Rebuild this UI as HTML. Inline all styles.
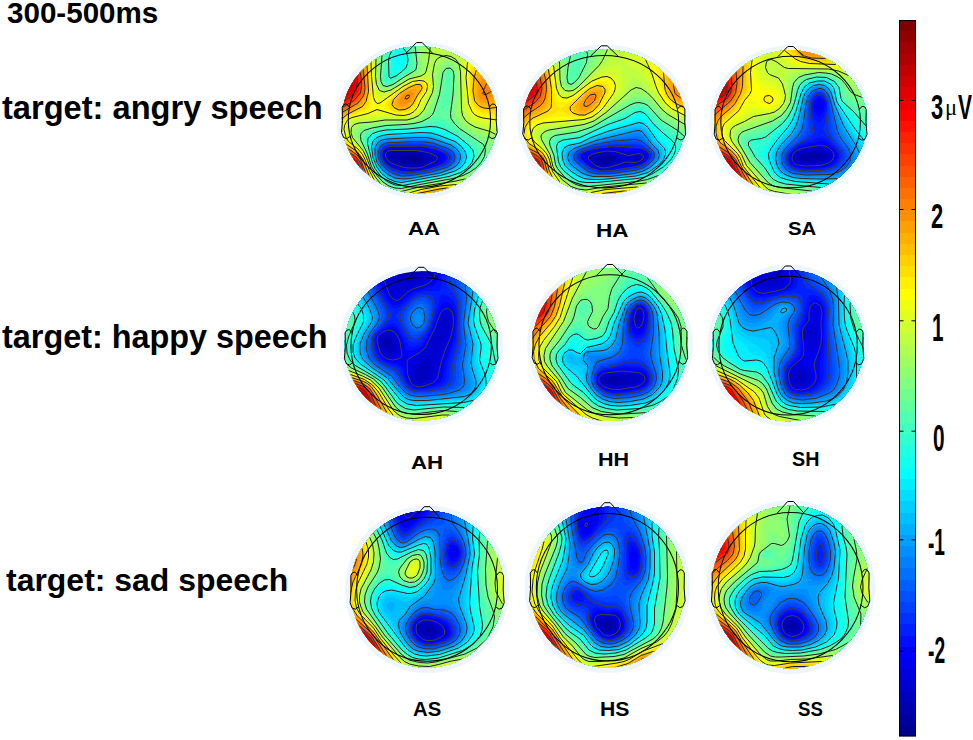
<!DOCTYPE html>
<html><head><meta charset="utf-8"><title>300-500ms topographies</title><style>
*{margin:0;padding:0}
html,body{width:973px;height:740px;background:#fff;overflow:hidden}
body{position:relative;font-family:"Liberation Sans",sans-serif;font-weight:bold;color:#000}
.t{position:absolute;white-space:nowrap;line-height:1;transform-origin:0 0}
#maps{position:absolute;left:0;top:0}
</style></head>
<body>
<svg id="maps" width="973" height="740" viewBox="0 0 973 740">
<clipPath id="cAA"><ellipse cx="419.4" cy="119.9" rx="77.55" ry="73.47"/></clipPath>
<ellipse cx="419.4" cy="119.9" rx="82.89" ry="78.52" fill="#edf5ff"/>
<g clip-path="url(#cAA)"><g transform="scale(.5)">
<rect x="671" y="80" width="334" height="317" fill="#00008f"/>
<path fill="#00009f" fill-rule="evenodd" d="M876 400l-74 0-2-2-6 0-2-2-12-2-6-4-4 0-24-12-4-4-8-4-8-8-2 0-21-21 0-2-6-6 0-2-8-10-12-24-2-10-4-8 0-78 2-2 4-16 12-24 8-10 0-2 6-6 0-2 23-23 2 0 6-6 8-4 4-4 28-14 4 0 8-4 6 0 2-2 6 0 2-2 74 0 2 2 8 0 2 2 10 2 2 2 4 0 10 6 4 0 8 6 12 6 4 4 2 0 6 6 2 0 24 25 0 2 6 6 6 12 4 4 4 8 0 4 4 6 0 4 4 6 2 14 2 2 0 62-2 2 0 6-4 8-2 10-4 6 0 4-6 8-4 10-6 6 0 2-6 6 0 2-22 23-2 0-6 6-8 4-4 4-28 14-4 0-8 4-6 0-2 2-6 0-2 2zM836 323l2-4-6-3-10 0-4 3 6 4 12 0z"/>
<path fill="#0000af" fill-rule="evenodd" d="M876 400l-74 0-2-2-6 0-2-2-12-3-6-4-4 0-24-11-4-4-8-4-8-8-2 0-21-21 0-2-6-6 0-2-8-10-12-24-2-10-4-8 0-78 2-2 4-16 12-24 8-10 0-2 6-6 0-2 23-23 2 0 6-6 8-4 4-4 28-14 4 0 8-4 6 0 2-2 6 0 2-2 74 0 2 2 8 0 2 2 10 2 2 2 4 0 10 6 4 0 8 6 12 6 4 4 2 0 6 6 2 0 24 25 0 2 6 6 6 12 4 4 4 8 0 4 4 6 0 4 4 6 2 14 2 2 0 62-2 2 0 6-4 8-2 10-4 6 0 4-6 8-4 10-6 6 0 2-6 6 0 2-22 23-2 0-6 6-8 4-4 4-28 14-4 0-8 4-6 0-2 2-6 0-2 2zM833 329l9-2 5-4 2-4-2-4-9-4-14-2-25 4-4 2 3 4 12 6 12 3 11 1z"/>
<path fill="#0000bf" fill-rule="evenodd" d="M876 400l-74 0-2-2-6-1-2-2-12-2-6-4-4 0-24-11-4-4-8-4-8-8-2 0-21-21 0-2-6-6 0-2-8-10-12-24-2-10-4-8 0-78 2-2 4-16 12-24 8-10 0-2 6-6 0-2 23-23 2 0 6-6 8-4 4-4 28-14 4 0 8-4 6 0 2-2 6 0 2-2 74 0 2 2 8 0 2 2 10 2 2 2 4 0 10 6 4 0 8 6 12 6 4 4 2 0 6 6 2 0 24 25 0 2 6 6 6 12 4 4 4 8 0 4 4 6 0 4 4 6 2 14 2 2 0 62-2 2 0 6-4 8-2 10-4 6 0 4-6 8-4 10-6 6 0 2-6 6 0 2-22 22-2 0-6 7-8 4-4 4-28 14-4 0-8 4-6 0-2 2-6 0-2 2zM841 331l8-4 8-6 1-4-3-4-9-4-16-3-46 1-5 2-1 4 6 6 18 8 20 4 19 0z"/>
<path fill="#0000cf" fill-rule="evenodd" d="M876 400l-74-1-2-2-6 0-2-2-12-2-6-4-4 0-24-11-4-4-8-4-8-8-2 0-21-21 0-2-6-6 0-2-8-10-12-24-2-10-4-8 0-78 2-2 4-16 12-24 8-10 0-2 6-6 0-2 23-23 2 0 6-6 8-4 4-4 28-14 4 0 8-4 6 0 2-2 6 0 2-2 74 0 2 2 8 0 2 2 10 2 2 2 4 0 10 6 4 0 8 6 12 6 4 4 2 0 6 6 2 0 24 25 0 2 6 6 6 12 4 4 4 8 0 4 4 6 0 4 4 6 2 14 2 2 0 62-2 2 0 6-4 8-2 10-4 6 0 4-6 8-4 10-6 6 0 2-6 6 0 2-22 22-2 0-6 6-8 5-4 4-28 14-4 0-8 4-6 0-2 2-6 0-2 2zM842 333l20-10 5-6-3-4-14-7-20-3-48 0-6 3-2 3 1 6 5 6 22 9 20 4 20-1z"/>
<path fill="#0000df" fill-rule="evenodd" d="M876 400l-74-1-2-2-6 0-2-2-12-2-6-4-4 0-24-12-4-3-8-4-8-8-2 0-21-21 0-2-6-6 0-2-8-10-12-24-2-10-4-8 0-78 2-2 4-16 12-24 8-10 0-2 6-6 0-2 23-23 2 0 6-6 8-4 4-4 28-14 4 0 8-4 6 0 2-2 6 0 2-2 74 0 2 2 8 0 2 2 10 2 2 2 4 0 10 6 4 0 8 6 12 6 4 4 2 0 6 6 2 0 24 25 0 2 6 6 6 12 4 4 4 8 0 4 4 6 0 4 4 6 2 14 2 2 0 62-2 2 0 6-4 8-2 10-4 6 0 4-6 8-4 10-6 6 0 2-6 6 0 2-22 22-2 0-6 6-8 4-4 4-28 15-4 0-8 4-6 0-2 2-6 0-2 2zM843 335l27-12 5-6-1-4-17-8-25-4-50 0-7 2-4 4 0 6 3 6 7 6 8 4 15 5 12 2 16 0 11-1z"/>
<path fill="#0000ef" fill-rule="evenodd" d="M876 400l-74-1-2-2-6 0-2-2-12-2-6-4-4 0-24-12-4-4-8-3-8-8-2 0-21-21 0-2-6-6 0-2-8-10-12-24-2-10-4-8 0-78 2-2 4-16 12-24 8-10 0-2 6-6 0-2 23-23 2 0 6-6 8-4 4-4 28-14 4 0 8-4 6 0 2-2 6 0 2-2 74 0 2 2 8 0 2 2 10 2 2 2 4 0 10 6 4 0 8 6 12 6 4 4 2 0 6 6 2 0 24 25 0 2 6 6 6 12 4 4 4 8 0 4 4 6 0 4 4 6 2 14 2 2 0 62-2 2 0 6-4 8-2 10-4 6 0 4-6 8-4 10-6 6 0 2-6 6 0 2-22 22-2 0-6 6-8 4-4 4-28 15-4 0-8 4-6 0-2 2-6 0-2 2zM843 337l31-12 7-6 0-6-4-4-13-5-28-6-54 0-8 3-4 4-1 6 3 8 6 6 9 6 25 7 16 1 15-2z"/>
<path fill="#0000ff" fill-rule="evenodd" d="M876 400l-74-1-2-2-6 0-2-2-12-2-6-4-4 0-24-12-4-4-8-3-8-8-2 0-21-21 0-2-6-6 0-2-8-10-12-24-2-10-4-8 0-78 2-2 4-16 12-24 8-10 0-2 6-6 0-2 23-23 2 0 6-6 8-4 4-4 28-14 4 0 8-4 6 0 2-2 6 0 2-2 74 0 2 2 8 0 2 2 10 2 2 2 4 0 10 6 4 0 8 6 12 6 4 4 2 0 6 6 2 0 24 25 0 2 6 6 6 12 4 4 4 8 0 4 4 6 0 4 4 6 2 14 2 2 0 62-2 2 0 6-4 8-2 10-4 6 0 4-6 8-4 10-6 6 0 2-6 6 0 2-22 22-2 0-6 6-8 4-4 4-28 15-4 0-8 4-6 0-2 2-6 0-2 2zM841 339l21-6 18-7 7-7 0-6-5-5-12-5-16-5-18-2-56 1-8 3-4 4-1 7 3 9 6 7 10 6 12 4 12 3 16 1 15-2z"/>
<path fill="#0010ff" fill-rule="evenodd" d="M876 400l-74-1-2-2-6 0-2-2-12-2-6-4-4 0-24-12-4-4-8-4-8-7-2 0-21-21 0-2-6-6 0-2-8-10-12-24-2-10-4-8 0-78 2-2 4-16 12-24 8-10 0-2 6-6 0-2 23-23 2 0 6-6 8-4 4-4 28-14 4 0 8-4 6 0 2-2 6 0 2-2 74 0 2 2 8 0 2 2 10 2 2 2 4 0 10 6 4 0 8 6 12 6 4 4 2 0 6 6 2 0 24 25 0 2 6 6 6 12 4 4 4 8 0 4 4 6 0 4 4 6 2 14 2 2 0 62-2 2 0 6-4 8-2 10-4 6 0 4-6 8-4 10-6 6 0 2-6 6 0 2-22 22-2 0-6 6-8 4-4 4-28 15-4 0-8 4-6 0-2 2-6 0-2 2zM839 341l23-6 21-8 8-8 1-4-2-4-6-6-12-4-18-5-18-2-56 1-8 2-6 6-1 8 3 9 6 7 10 7 12 5 12 3 31-1z"/>
<path fill="#0020ff" fill-rule="evenodd" d="M876 400l-74-1-2-2-6 0-2-2-12-2-6-4-4 0-24-12-4-4-8-4-8-7-2 0-21-21 0-2-6-6 0-2-8-10-12-24-2-10-4-8 0-78 2-2 4-16 12-24 8-10 0-2 6-6 0-2 23-23 2 0 6-6 8-4 4-4 28-14 4 0 8-3 6 0 2-3 6 0 2-2 74 0 2 2 8 0 2 2 10 2 2 2 4 0 10 6 4 0 8 6 12 6 4 4 2 0 6 6 2 0 24 25 0 2 6 6 6 12 4 4 4 8 0 4 4 6 0 4 4 6 2 14 2 2 0 62-2 2 0 6-4 8-2 10-4 6 0 4-6 8-4 10-6 6 0 2-6 6 0 2-22 22-2 0-6 6-8 4-4 4-28 15-4 0-8 4-6 0-2 2-6 0-2 2zM836 343l26-6 23-8 9-8 2-6-1-4-7-6-10-5-20-5-18-3-60 1-8 2-7 6-2 8 2 10 7 9 8 7 12 5 12 3 14 1 18-1z"/>
<path fill="#0030ff" fill-rule="evenodd" d="M876 400l-74-1-2-2-6 0-2-2-12-2-6-4-4 0-24-12-4-4-8-4-8-7-2 0-21-21 0-2-6-6 0-2-8-10-12-24-2-10-4-8 0-78 2-2 4-16 12-24 8-10 0-2 6-6 0-2 23-23 2 0 6-6 8-4 4-4 28-13 4 0 8-4 6 0 2-2 6 0 2-2 74-1 2 2 8 0 2 2 10 2 2 2 4 0 10 6 4 0 8 6 12 6 4 4 2 0 6 6 2 0 24 25 0 2 6 6 6 12 4 4 4 8 0 4 4 6 0 4 4 6 2 14 2 2 0 62-2 2 0 6-4 8-2 10-4 6 0 4-6 8-4 10-6 6 0 2-6 6 0 2-22 22-2 0-6 6-8 4-4 4-28 14-4 0-8 5-6 0-2 2-6 0-2 2zM832 345l21-4 33-10 7-4 5-6 2-6-1-4-6-6-11-6-20-6-18-3-20 0-46 1-8 3-6 5-3 10 2 10 7 10 8 6 12 7 12 3 30 0z"/>
<path fill="#0040ff" fill-rule="evenodd" d="M876 400l-74-1-2-2-6 0-2-2-12-2-6-4-4 0-24-12-4-4-8-4-8-8-2 0-21-20 0-2-6-6 0-2-8-10-12-24-2-10-4-8 0-78 2-2 4-16 12-24 8-10 0-2 6-6 0-2 23-23 2 0 6-6 8-4 4-4 28-13 4 0 8-4 6 0 2-2 6 0 2-2 74-1 2 2 8 0 2 2 10 2 2 2 4 0 10 6 4 0 8 6 12 6 4 4 2 0 6 6 2 0 24 25 0 2 6 6 6 12 4 4 4 8 0 4 4 6 0 4 4 6 2 14 2 2 0 62-2 2 0 6-4 8-2 10-4 6 0 4-6 8-4 10-6 6 0 2-6 6 0 2-22 22-2 0-6 6-8 4-4 4-28 14-4 0-8 4-6 0-2 3-6 0-2 2zM827 347l25-4 36-11 12-9 3-6-1-6-5-6-11-6-20-7-18-3-22-1-48 1-8 3-6 4-4 9 0 10 6 11 8 9 12 7 12 4 12 2 17-1z"/>
<path fill="#0050ff" fill-rule="evenodd" d="M876 399l-74 0-2-2-6 0-2-2-12-2-6-4-4 0-24-12-4-4-8-4-8-8-2 0-21-20 0-2-6-6 0-2-8-10-12-24-2-10-4-8 0-78 2-2 4-16 12-24 8-10 0-2 6-6 0-2 23-23 2 0 6-6 8-4 4-4 28-13 4 0 8-4 6 0 2-2 6 0 2-2 74-1 2 2 8 0 2 2 10 2 2 2 4 0 10 6 4 0 8 6 12 6 4 4 2 0 6 6 2 0 24 25 0 2 6 6 6 12 4 4 4 8 0 4 4 6 0 4 4 6 2 14 2 2 0 62-2 2 0 6-4 8-2 10-4 6 0 4-6 8-4 10-6 6 0 2-6 6 0 2-22 22-2 0-6 6-8 4-4 4-28 14-4 0-8 4-6 0-2 2-6 0-2 2zM821 349l31-5 38-11 7-4 6-6 3-6 0-6-5-6-9-6-24-9-18-3-24-1-48 2-8 2-6 3-5 8 0 12 3 10 8 10 10 8 12 6 14 2 15 0z"/>
<path fill="#0060ff" fill-rule="evenodd" d="M876 399l-74 0-2-2-6 0-2-2-12-2-6-4-4 0-24-12-4-4-8-4-8-8-2 0-21-20 0-2-6-6 0-2-8-10-12-24-2-10-4-8 0-78 2-2 4-16 12-24 8-10 0-2 6-6 0-2 23-23 2 0 6-6 8-4 4-4 28-13 4 0 8-4 6 0 2-2 6 0 2-2 74-1 2 2 8 0 2 2 10 2 2 2 4 0 10 6 4 0 8 6 12 6 4 4 2 0 6 6 2 0 24 25 0 2 6 6 6 12 4 4 4 8 0 4 4 6 0 4 4 6 2 14 2 2 0 62-2 2 0 6-4 8-2 10-4 6 0 4-6 8-4 10-6 6 0 2-6 6 0 2-22 22-2 0-6 6-8 4-4 4-28 14-4 0-8 4-6 0-2 2-6 0-2 2zM814 351l36-5 41-11 10-6 5-6 3-8-1-6-6-7-10-5-24-9-16-3-26-1-48 2-8 1-7 4-5 8-1 10 2 12 7 10 10 9 12 7 12 3 14 1z"/>
<path fill="#0070ff" fill-rule="evenodd" d="M876 399l-74 0-2-2-6 0-2-2-12-2-6-4-4 0-24-12-4-4-8-4-8-8-2 0-21-20 0-2-6-6 0-2-8-10-12-24-2-10-4-8 0-78 2-2 4-16 12-24 8-10 0-2 6-6 0-2 23-23 2 0 6-6 8-4 4-4 28-13 4 0 8-4 6 0 2-2 6 0 2-2 74-1 2 2 8 0 2 2 10 2 2 2 4 0 10 6 4 0 8 6 12 6 4 4 2 0 6 6 2 0 24 25 0 2 6 6 6 12 4 4 4 8 0 4 4 6 0 4 4 6 2 14 2 2 0 62-2 2 0 6-4 8-2 10-4 6 0 4-6 8-4 10-6 6 0 2-6 6 0 2-22 22-2 0-6 6-8 4-4 4-28 14-4 0-8 4-6 0-2 2-6 0-2 2zM829 351l41-8 26-8 8-6 6-8 1-8-2-6-5-6-10-6-28-9-16-3-24-1-32 2-18 0-10 3-6 5-5 11 2 14 5 12 10 10 12 8 12 4 14 2 19-2z"/>
<path fill="#0080ff" fill-rule="evenodd" d="M876 399l-74 0-2-2-6 0-2-2-12-2-6-4-4 0-24-12-4-4-8-4-8-8-2 0-21-20 0-2-6-6 0-2-8-10-12-24-2-10-4-8 0-78 2-2 4-16 12-24 8-10 0-2 6-6 0-2 23-23 2 0 6-6 8-4 4-4 28-13 4 0 8-4 6 0 2-2 6 0 2-2 74-1 2 2 8 0 2 2 10 2 2 2 4 0 10 6 4 0 8 6 12 6 4 4 2 0 6 6 2 0 24 25 0 2 6 6 6 12 4 4 4 8 0 4 4 6 0 4 4 6 2 14 2 2 0 62-2 2 0 6-4 8-2 10-4 6 0 4-6 8-4 10-6 6 0 2-6 6 0 2-22 22-2 0-6 6-8 4-4 4-28 14-4 0-8 4-6 0-2 2-6 0-2 2zM824 353l52-10 23-8 8-6 5-6 2-8-2-8-5-6-9-6-30-11-16-3-24-1-34 3-18-1-10 3-6 4-6 10 0 14 5 14 9 11 12 9 14 6 12 1 18-1z"/>
<path fill="#008fff" fill-rule="evenodd" d="M876 399l-74 0-2-2-6 0-2-2-12-2-6-4-4 0-24-12-4-4-8-4-8-8-2 0-21-20 0-2-6-6 0-2-8-10-12-24-2-10-4-8 0-78 2-2 4-16 12-24 8-10 0-2 6-6 0-2 23-23 2 0 6-6 8-4 4-3 28-14 4 0 8-4 6 0 2-2 6 0 2-2 74-1 2 2 8 0 2 2 10 2 2 2 4 0 10 6 4 0 8 6 12 6 4 4 2 0 6 6 2 0 24 25 0 2 6 6 6 12 4 4 4 8 0 4 4 6 0 4 4 6 2 14 2 2 0 62-2 2 0 6-4 8-2 10-4 6 0 4-6 8-4 10-6 6 0 2-6 6 0 2-22 22-2 0-6 6-8 4-4 4-28 14-4 0-8 4-6 0-2 2-6 0-2 2zM819 355l54-10 26-8 9-6 7-8 2-8-2-8-6-8-9-6-32-11-14-3-26-1-34 3-18-1-10 3-7 4-6 10-1 12 5 16 8 12 11 10 14 6 12 3 17-1z"/>
<path fill="#009fff" fill-rule="evenodd" d="M876 399l-74 0-2-2-6 0-2-2-12-2-6-4-4 0-24-12-4-4-8-4-8-8-2 0-21-20 0-2-6-6 0-2-8-10-12-24-2-10-4-8 0-78 2-2 4-16 12-24 8-10 0-2 6-6 0-2 23-23 2 0 6-6 8-3 4-4 28-14 4 0 8-4 6 0 2-2 6 0 2-2 74 0 2 1 8 0 2 2 10 2 2 2 4 0 10 6 4 0 8 6 12 6 4 4 2 0 6 6 2 0 24 25 0 2 6 6 6 12 4 4 4 8 0 4 4 6 0 4 4 6 2 14 2 2 0 62-2 2 0 6-4 8-2 10-4 6 0 4-6 8-4 10-6 6 0 2-6 6 0 2-22 22-2 0-6 6-8 4-4 4-28 14-4 0-8 4-6 0-2 2-6 0-2 2zM814 357l57-10 29-9 10-6 6-7 3-8-1-10-6-9-10-6-32-12-14-3-26-1-54 3-10 2-8 4-6 10-1 12 3 16 8 12 12 12 12 7 12 3 16 0z"/>
<path fill="#00afff" fill-rule="evenodd" d="M876 399l-74 0-2-2-6 0-2-2-12-2-6-4-4 0-24-12-4-4-8-4-8-8-2 0-21-20 0-2-6-6 0-2-8-10-12-24-2-10-4-8 0-78 2-2 4-16 12-24 8-10 0-2 6-6 0-2 23-23 2 0 6-6 8-3 4-4 28-14 4 0 8-4 6 0 2-2 6 0 2-2 74 0 2 2 8 0 2 2 10 2 2 2 4 0 10 6 4 0 8 6 12 5 4 4 2 0 6 6 2 0 24 25 0 2 6 6 6 12 4 4 4 8 0 4 4 6 0 4 4 6 2 14 2 2 0 62-2 2 0 6-4 8-2 10-4 6 0 4-6 8-4 10-6 6 0 2-6 6 0 2-22 22-2 0-6 6-8 4-4 4-28 14-4 0-8 4-6 0-2 2-6 0-2 2zM808 359l59-10 23-5 12-5 12-8 6-8 2-10-2-8-7-8-9-7-34-12-12-3-26-1-56 3-16 4-8 8-3 12 3 17 6 14 10 12 14 10 12 4 14 1z"/>
<path fill="#00bfff" fill-rule="evenodd" d="M876 399l-74 0-2-2-6 0-2-2-12-2-6-4-4 0-24-12-4-4-8-4-8-8-2 0-21-20 0-2-6-6 0-2-8-10-12-24-2-10-4-8 0-78 2-2 4-16 12-24 8-10 0-2 6-6 0-2 23-23 2 0 6-6 8-3 4-4 28-14 4 0 8-4 6 0 2-2 6 0 2-2 74 0 2 2 8 0 2 2 10 2 2 2 4 0 10 6 4 0 8 6 12 6 4 3 2 0 6 6 2 0 24 25 0 2 6 6 6 12 4 4 4 8 0 4 4 6 0 4 4 6 2 14 2 2 0 62-2 2 0 6-4 8-2 10-4 6 0 4-6 8-4 10-6 6 0 2-6 6 0 2-22 22-2 0-6 6-8 4-4 4-28 14-4 0-8 4-6 0-2 2-6 0-2 2zM820 359l62-12 24-8 11-8 6-8 2-10-3-8-6-9-10-7-34-13-14-3-24-1-58 3-12 2-8 4-7 10-1 14 5 20 9 14 12 12 14 7 14 3 18-2z"/>
<path fill="#00cfff" fill-rule="evenodd" d="M876 399l-74 0-2-2-6 0-2-2-12-2-6-4-4 0-24-12-4-4-8-4-8-8-2 0-21-20 0-2-6-6 0-2-8-10-12-24-2-10-4-8 0-78 2-2 4-16 12-24 8-10 0-2 6-6 0-2 23-23 2 0 6-5 8-4 4-4 28-14 4 0 8-4 6 0 2-2 6 0 2-2 74 0 2 2 8 0 2 2 10 2 2 2 4 0 10 6 4 0 8 6 12 6 4 4 2 0 6 5 2 0 24 25 0 2 6 6 6 12 4 4 4 8 0 4 4 6 0 4 4 6 2 14 2 2 0 62-2 2 0 6-4 8-2 10-4 6 0 4-6 8-4 10-6 6 0 2-6 6 0 2-22 22-2 0-6 6-8 4-4 4-28 14-4 0-8 4-6 0-2 2-6 0-2 2zM816 361l68-13 25-9 11-8 5-8 2-10-3-10-8-10-10-7-34-12-14-4-24 0-60 3-12 3-8 4-7 9-1 14 5 22 9 14 12 12 14 8 14 3 16-1z"/>
<path fill="#00dfff" fill-rule="evenodd" d="M876 399l-74 0-2-2-6 0-2-2-12-2-6-4-4 0-24-12-4-4-8-4-8-8-2 0-21-20 0-2-6-6 0-2-8-10-12-24-2-10-4-8 0-78 2-2 4-16 12-24 8-10 0-2 6-6 0-2 23-23 2 0 6-5 8-4 4-4 28-14 4 0 8-4 6 0 2-2 6 0 2-2 74 0 2 2 8 0 2 2 10 2 2 2 4 0 10 6 4 0 8 6 12 6 4 4 2 0 6 6 2 0 24 24 0 2 6 6 6 12 4 4 4 8 0 4 4 6 0 4 4 6 2 14 2 2 0 62-2 2 0 6-4 8-2 10-4 6 0 4-6 8-4 10-6 6 0 2-6 6 0 2-22 22-2 0-6 6-8 4-4 4-28 14-4 0-8 4-6 0-2 2-6 0-2 2zM812 363l72-14 26-8 11-8 7-10 2-10-2-10-9-10-11-8-34-13-14-4-22-1-64 4-12 2-8 4-7 8-3 12 4 22 8 16 12 14 14 10 14 4 16 0z"/>
<path fill="#00efff" fill-rule="evenodd" d="M876 399l-74 0-2-2-6 0-2-2-12-2-6-4-4 0-24-12-4-4-8-4-8-8-2 0-21-20 0-2-6-6 0-2-8-10-12-24-2-10-4-8 0-78 2-2 4-16 12-24 8-10 0-2 6-6 0-2 23-23 2 1 6-6 8-4 4-4 28-14 4 0 8-4 6 0 2-2 6 0 2-2 74 0 2 2 8 0 2 2 10 2 2 2 4 0 10 6 4 0 8 6 12 6 4 4 2 0 6 6 2 0 24 24 0 2 6 6 6 12 4 4 4 8 0 4 4 6 0 4 4 6 2 14 2 2 0 62-2 2 0 6-4 8-2 10-4 6 0 4-6 8-4 10-6 6 0 2-6 6 0 2-22 22-2 0-6 6-8 4-4 4-28 14-4 0-8 4-6 0-2 2-6 0-2 2zM806 365l78-14 28-9 12-9 7-10 2-10-2-10-9-12-12-8-32-13-14-4-22-1-66 4-12 1-10 4-8 8-3 11 3 22 7 18 11 14 14 11 14 6 14 1z"/>
<path fill="#00ffff" fill-rule="evenodd" d="M876 399l-74 0-2-2-6 0-2-2-12-2-6-4-4 0-24-12-4-4-8-4-8-8-2 0-21-20 0-2-6-6 0-2-8-10-12-24-2-10-4-8 0-78 2-2 4-16 12-24 8-10 0-2 6-6 0-2 23-22 2 0 6-6 8-4 4-4 28-14 4 0 8-4 6 0 2-2 6 0 2-2 74 0 2 2 8 0 2 2 10 2 2 2 4 0 10 6 4 0 8 6 12 6 4 4 2 0 6 6 2 0 24 24 0 2 6 6 6 12 4 4 4 8 0 4 4 6 0 4 4 6 2 14 2 2 0 62-2 2 0 6-4 8-2 10-4 6 0 4-6 8-4 10-6 6 0 2-6 6 0 2-22 22-2 0-6 6-8 4-4 4-28 14-4 0-8 4-6 0-2 2-6 0-2 2zM816 365l76-15 24-9 11-8 7-10 3-10-3-10-9-12-15-11-30-12-16-5-18 0-72 4-14 2-12 6-6 8-1 14 7 28 9 16 13 14 16 9 14 3 16-2z"/>
<path fill="#10ffef" fill-rule="evenodd" d="M876 399l-74 0-2-2-6 0-2-2-12-2-6-4-4 0-24-12-4-4-8-4-8-8-2 0-21-20 0-2-6-6 0-2-8-10-12-24-2-10-4-8 0-78 2-2 4-16 12-24 8-10 0-2 6-6 0-2 23-22 2 0 6-6 8-4 4-4 28-14 4 0 8-4 6 0 2-2 6 0 2-2 74 0 2 2 8 0 2 2 10 2 2 2 4 0 10 6 4 0 8 6 12 6 4 4 2 0 6 6 2 0 24 24 0 2 6 6 6 12 4 4 4 8 0 4 4 6 0 4 4 6 2 14 2 2 0 62-2 2 0 6-4 8-2 10-4 6 0 4-6 8-4 10-6 6 0 2-6 6 0 2-22 22-2 0-6 6-8 4-4 4-28 14-4 0-8 4-6 0-2 2-6 0-2 2zM798 131l4-4 2-8-1-6-5-4-6 4-3 8 3 9 2 2 4-1zM813 367l81-16 23-8 11-8 10-12 2-12-3-10-11-12-14-11-28-12-18-5-16-1-76 5-14 2-12 5-8 9-1 12 7 30 8 16 12 14 16 11 14 4 17-1z"/>
<path fill="#20ffdf" fill-rule="evenodd" d="M876 399l-74 0-2-2-6 0-2-2-12-2-6-4-4 0-24-12-4-4-8-4-8-8-2 0-21-20 0-2-6-6 0-2-8-10-12-24-2-10-4-8 0-78 2-2 4-16 12-24 8-10 0-2 6-6 0-2 23-22 2 0 6-6 8-4 4-4 28-14 4 0 8-4 6 0 2-2 6 0 2-2 74 0 2 2 8 0 2 2 10 2 2 2 4 0 10 6 4 0 8 6 12 6 4 4 2 0 6 6 2 0 24 24 0 2 6 6 6 12 4 4 4 8 0 4 4 6 0 4 4 6 2 14 2 2 0 62-2 2 0 6-4 8-2 10-4 6 0 4-6 8-4 10-6 6 0 2-6 6 0 2-22 22-2 0-6 6-8 4-4 4-28 14-4 0-8 4-6 0-2 2-6 0-2 2zM792 145l14-11 5-11-1-8-2-6-4-6-4-1-6 0-4 2-4 5-3 8 0 10 2 14 3 4 4 0zM809 369l87-17 24-9 12-8 9-12 3-12-3-10-10-12-17-13-26-13-18-5-16-1-82 6-14 2-12 6-8 8-1 10 8 34 7 15 12 15 14 10 14 6 17 0z"/>
<path fill="#30ffcf" fill-rule="evenodd" d="M876 399l-74 0-2-2-6 0-2-2-12-2-6-4-4 0-24-12-4-4-8-4-8-8-2 0-21-20 0-2-6-6 0-2-8-10-12-24-2-10-4-8 0-78 2-2 4-16 12-24 8-10 0-2 6-6 0-2 23-22 2 0 6-6 8-4 4-4 28-14 5 0 5 14-4 8-2 10 1 32 5 2 10-5 16-13 4-6 1-6-1-16-3-6-7-8-2-14 74 0 2 2 8 0 2 2 10 2 2 2 4 0 28 14 4 4 8 4 6 6 2 0 24 24 0 2 6 6 0 2 4 4 2 6 4 4 4 8 0 4 4 6 0 4 4 6 2 14 2 2 0 62-2 2 0 6-4 8-2 10-4 6 0 4-6 8-4 10-6 6 0 2-6 6 0 2-22 22-2 0-6 6-8 4-4 4-28 14-4 0-8 4-6 0-2 2-6 0-2 2zM803 371l93-18 25-8 12-8 11-12 4-12-3-12-8-10-21-17-26-14-18-6-14 0-42 4-44 3-16 3-12 5-8 8-1 10 9 36 6 13 10 15 14 12 16 7 13 1z"/>
<path fill="#40ffbf" fill-rule="evenodd" d="M876 399l-74 0-2-2-6 0-2-2-12-2-6-4-4 0-24-12-4-4-8-4-8-8-2 0-21-20 0-2-6-6 0-2-8-10-12-24-2-10-4-8 0-78 2-2 4-16 12-24 8-10 0-2 6-6 1-3 22-21 2 0 6-6 8-4 4-4 24-12 1 0 6 14-3 14 0 24-2 12 1 6 2 2 7-2 14-8 17-14 6-8 1-8-1-10-3-10-4-8-3-14 67 0 2 2 8 0 2 2 10 2 2 2 4 0 10 6 4 0 8 6 12 6 4 4 2 0 6 6 2 0 24 24 0 2 6 6 0 2 4 4 2 6 6 8 2 8 4 6 0 4 4 6 2 14 2 2 0 62-2 2 0 6-4 8-2 10-4 6 0 4-6 8-4 10-6 6 0 2-6 6 0 2-22 22-2 0-6 6-8 4-4 4-28 14-4 0-8 4-6 0-2 2-6 0-2 2zM813 371l89-18 23-8 14-10 10-12 3-12-3-12-9-10-22-18-26-15-16-6-14 0-46 6-46 3-18 3-12 6-7 7 0 12 12 42 9 16 13 14 15 10 14 3 17-1z"/>
<path fill="#50ffaf" fill-rule="evenodd" d="M876 399l-74 0-2-2-6 0-2-2-12-2-6-4-4 0-24-12-4-4-8-4-8-8-2 0-21-20 0-2-6-6 0-2-8-10-12-24-2-10-4-8 0-78 2-2 4-16 12-24 8-10 0-2 6-6 0-2 23-22 2 0 6-6 8-4 4-4 20-10 6 14-5 50 2 6 4 4 5 0 8-4 28-20 8-8 2-8 0-10-8-36 60 0 2 2 8 0 2 2 10 2 2 2 4 0 10 6 4 0 8 6 12 6 4 4 2 0 6 6 2 0 24 24 0 2 6 6 0 2 4 4 2 6 6 8 2 8 4 6 0 4 4 6 2 14 2 2 0 62-2 2 0 6-4 8-2 10-4 6 0 4-6 8-4 10-6 6 0 2-6 6 0 2-22 22-2 0-6 6-8 4-4 4-28 14-4 0-8 4-6 0-2 2-6 0-2 2zM810 373l94-19 24-8 15-11 10-12 4-12-2-12-8-10-25-19-30-20-14-5-12 0-44 9-56 3-18 4-12 5-6 9 0 10 14 44 8 16 14 15 14 9 14 5 16-1z"/>
<path fill="#60ff9f" fill-rule="evenodd" d="M876 399l-74 0-2-2-6 0-2-2-12-2-6-4-4 0-24-12-4-4-8-4-8-8-2 0-21-20 0-2-6-6 0-2-8-10-12-24-2-10-4-8 0-78 2-2 4-16 12-24 8-10 0-2 6-6 0-2 23-22 2 0 6-6 8-4 4-4 12-6 4-1 6 13-4 48 2 8 6 5 6 0 6-3 35-24 7-6 2-6 0-8-6-42 54 0 2 2 8 0 2 2 10 2 2 2 4 0 10 6 4 0 8 6 12 6 4 4 2 0 6 6 2 0 24 24 0 2 6 6 0 2 4 4 2 6 6 8 2 8 4 6 0 4 4 6 2 14 2 2 0 62-2 2 0 6-4 8-2 10-4 6 0 4-6 8-4 10-6 6 0 2-6 6 0 2-22 22-2 0-6 6-8 4-4 4-28 14-4 0-8 4-6 0-2 2-6 0-2 2zM890 215l4-8 5-26-1-14 4-18-2-4-2-1-4 1-2 4 0 18-3 20-7 20 2 9 2 1 4-2zM805 375l35-8 66-12 23-8 16-10 12-14 5-14-1-12-9-10-70-52-6 1-25 9-15 4-22 3-48 2-22 5-12 6-6 8 1 10 16 48 9 15 12 14 14 10 14 5 13 0z"/>
<path fill="#70ff8f" fill-rule="evenodd" d="M876 399l-74 0-2-2-6 0-2-2-12-2-6-4-4 0-24-12-4-4-8-4-8-8-2 0-21-20 0-2-6-6 0-2-8-10-12-24-2-10-4-8 0-78 2-2 4-16 12-24 8-10 0-2 6-6 0-2 23-22 2 0 6-6 2 0 4-4 14-8 4-2 7 14-3 48 2 8 6 5 6 0 8-3 46-30 2-4 0-8-4-46 48 0 2 2 8 0 2 2 10 2 2 2 4 0 10 6 4 0 8 6 12 6 4 4 2 0 6 6 2 0 24 24 0 2 10 12 2 6 4 4 4 8 0 4 4 6 0 4 4 6 2 14 2 2 0 62-2 2 0 6-2 2 0 4-2 2 0 4-6 12-2 8-4 4-4 10-6 6 0 2-6 6 0 2-22 22-2 0-6 6-8 4-4 4-28 14-4 0-8 4-6 0-2 2-6 0-2 2zM813 375l27-7 66-11 19-6 15-7 11-9 9-10 7-12 2-14-5-10-49-34-10-10-6-10-1-8 6-36 3-38-2-10-5-5-8 1-6 8-5 40-6 18-5 20-8 10-15 8-17 5-18 2-40 1-26 5-16 6-7 7-1 6 1 6 11 26 8 24 8 13 8 11 12 11 14 8 12 3 17-2z"/>
<path fill="#80ff80" fill-rule="evenodd" d="M876 399l-74 0-2-2-6 0-2-2-12-2-6-4-4 0-24-12-4-4-8-4-8-8-2 0-21-20 0-2-6-6 0-2-8-10-12-24-2-10-4-8 0-78 2-2 4-16 12-24 8-10 0-2 6-6 0-2 23-22 2 0 6-6 2 0 4-4 14-8 8 14-3 40 1 10 3 8 7 4 6 0 8-3 26-18 24-13 3-10-4-50 43 0 2 2 8 0 2 2 10 2 2 2 4 0 10 6 8 2 4 4 6 2 4 4 8 4 6 6 2 0 24 24 0 2 10 12 2 6 4 4 4 8 0 4 4 6 0 4 4 6 2 14 2 2 0 62-2 2 0 6-4 8-2 10-4 6 0 4-6 8-4 10-14-7 4-19-1-6-3-6-7-6-23-12-16-10-11-10-7-10-3-14 5-37 0-39-3-10-7-6-6 0-4 2-7 8-2 8-2 24-3 12-12 36-10 12-12 7-16 4-56 3-31 6-13 4-7 6-1 6 1 6 13 28 10 26 6 12 8 12 10 10 10 7 12 5 10 1 12-1 30-8 78-14 24-10 22-17 12 8-2 5-22 22-2 0-6 6-8 4-4 4-28 14-4 0-8 4-6 0-2 2-6 0-2 2z"/>
<path fill="#8fff70" fill-rule="evenodd" d="M876 399l-74 0-2-2-6 0-2-2-12-2-6-4-4 0-24-12-4-4-8-4-8-8-2 0-21-20 0-2-6-6 0-2-8-10-12-24-2-10-4-8 0-78 2-2 4-16 12-24 8-10 0-2 6-6 0-2 23-22 2 0 6-6 2 0 14-10 9 14-2 36 1 13 4 9 6 4 6 0 8-2 30-20 24-9 3-3 2-10-2-22 1-30 36 0 2 2 8 0 2 2 10 2 2 2 4 0 10 6 8 2 4 4 6 2 4 4 8 4 6 6 2 0 24 24 0 2 10 12 2 6 4 4 4 8 0 4 4 6 0 4 4 6 2 14 2 2 0 62-2 2 0 6-4 8-2 10-14-5-6-9-6-5-28-12-12-7-10-8-8-10-4-8-1-8 3-40-1-40-5-13-4-3-6-2-10 3-8 9-3 12-2 24-3 12-14 36-11 12-11 6-16 4-50 2-40 6-11 4-5 6-1 6 1 6 17 30 10 28 7 12 16 20 20 13 10 1 14 0 32-8 70-12 20-6 18-8 11 10-7 8-2 0-6 6-8 4-4 4-28 14-4 0-8 4-6 0-2 2-6 0-2 2z"/>
<path fill="#9fff60" fill-rule="evenodd" d="M762 385l-28-16-31-28 0-2-6-6 0-2-8-10-12-24-2-10-4-8 0-78 2-2 4-16 12-24 8-10 0-2 6-6 0-2 23-22 2 0 6-6 14-8 8 14-2 36 3 16 3 6 4 3 6 2 6-1 10-4 30-20 22-6 5-4 3-12-2-22 3-30 29 0 2 2 8 0 2 2 16 4 10 6 8 2 4 4 6 2 4 4 8 4 6 6 2 0 24 24 0 2 10 12 2 6 4 4 4 8 0 4 4 6 0 4 4 6 2 14 2 2 0 62-2 2-2 12-16-5-12-8-32-13-12-7-9-9-5-10-2-10 1-46-2-38-5-10-6-5-8-2-8 1-8 7-5 11-2 12-1 22-4 14-14 32-10 12-11 6-15 4-48 1-46 7-8 2-6 6-2 6 1 8 21 31 14 37 12 17 13 13 0 4-6 10-1 0zM876 399l-74 0-2-2-6 0-4-2 5-14 15-1 32-9 70-11 28-9 12 12-2 0-6 6-8 4-4 4-28 14-4 0-8 4-6 0-2 2-6 0-2 2z"/>
<path fill="#afff50" fill-rule="evenodd" d="M756 381l-10-4-4-4-8-4-31-28 0-2-6-6 0-2-8-10-12-24-2-10-4-8 0-78 2-2 4-16 12-24 8-10 0-2 6-6 0-2 23-22 2 0 6-6 11-6 8 12-1 36 3 18 3 6 4 4 10 1 12-4 32-20 10-4 14-3 6-4 3-4 2-10 1-24 4-28 20 0 2 2 8 0 2 2 10 2 2 2 4 0 10 6 8 2 4 4 6 2 4 4 8 4 22 20 16 18 0 2 4 4 2 6 6 8 2 8 4 6 0 4 4 6 2 14 2 2 0 62-2 2 0 3-16-4-12-6-30-10-12-7-8-8-5-8-2-12-2-74-2-14-5-9-8-7-8-2-10 2-9 6-5 10-4 18 1 24-3 12-17 34-9 11-10 5-16 4-44 0-50 6-10 4-5 6-1 8 3 10 21 28 13 34 6 12 17 20-7 12-1 0zM876 399l-74 0-2-2-4 0 4-14 40-10 72-12 22-5 2 1 8 10 0 2-8 4-4 4-28 14-4 0-8 4-6 0-2 2-6 0-2 2z"/>
<path fill="#bfff40" fill-rule="evenodd" d="M1008 268l-16-3-12-5-28-8-12-6-8-7-5-10-2-12-3-76-3-14-7-11-10-7-8-2-20 1-4-1-2-3-1-7 3-16 16 2 2 2 10 2 2 2 4 0 28 14 4 4 8 4 6 6 2 0 24 24 0 2 6 6 0 2 4 4 2 6 4 4 4 8 0 4 4 6 0 4 4 6 2 14 2 2 0 59zM752 379l-6-2-4-4-8-4-31-28 0-2-6-6 0-2-8-10-12-24-2-10-4-8 0-78 2-2 4-16 12-24 8-10 0-2 6-6 0-2 23-22 2 0 12-10 2 0 9 12-1 32 1 14 5 14 6 6 6 1 8-2 42-25 29-8 8-6 3-9 4-3 2 4-2 12 4 20-3 16-17 34-6 8-8 6-20 6-44 0-24 4-26 1-10 3-6 6-2 10 3 12 23 27 6 12 12 30 15 23-7 12zM876 399l-74 0-1-2 3-12 2-2 36-9 88-15 9 12-7 6-28 14-4 0-8 4-6 0-2 2-6 0-2 2z"/>
<path fill="#cfff30" fill-rule="evenodd" d="M1008 260l-14-2-42-12-12-7-7-8-4-10-1-12-4-76-2-10-5-10 7-12 8 2 4 4 8 4 6 6 2 0 24 24 0 2 6 6 6 12 4 4 4 8 0 4 4 6 0 4 4 6 2 14 2 2 0 51zM746 377l-4-4-8-4-8-8-2 0-21-20 0-2-6-6 0-2-8-10-12-24-2-10-3-8-1-78 2-2 4-16 12-24 8-10 0-2 6-6 0-2 23-22 2 0 6-6 6-2 8 12 0 30 2 16 4 14 6 7 6 1 10-3 38-24 18-6 18-2 6 0 5 7 2 10-3 14-18 34-6 8-8 5-20 5-42-2-22 4-26 1-12 3-7 6-3 12 4 14 26 30 6 11 10 27 13 20 0 2-8 12-1 0zM876 399l-71 0 3-14 34-10 82-13 2 1 8 11-2 3-28 14-4 0-8 4-6 0-2 2-6 0-2 2z"/>
<path fill="#dfff20" fill-rule="evenodd" d="M1008 252l-14-1-38-9-12-6-8-9-3-10-2-12-4-50 1-22-2-14 8-13 4 1 12 10 2 0 24 24 0 2 6 6 6 12 4 4 4 8 0 4 4 6 0 4 4 6 2 14 2 2 0 43zM744 375l-8-6-2 0-8-8-2 0-21-20 0-2-6-6 0-2-8-10-12-24-1-10-4-8-1-78 2-2 4-16 12-24 8-10 0-2 6-6 0-2 23-22 2 0 6-6 3 0 9 12 0 28 2 18 4 16 6 8 6 0 10-3 38-24 18-8 16-1 8 2 5 6 1 8-3 12-10 16-8 18-7 7-8 5-18 4-44-3-20 3-22 1-16 4-8 7-2 6-1 8 4 14 4 6 17 15 8 11 5 10 10 26 11 18 0 2-8 12zM876 399l-66 0 2-14 32-9 40-7 36-4 9 12-1 2-24 12-4 0-8 4-6 0-2 2-6 0-2 2z"/>
<path fill="#efff10" fill-rule="evenodd" d="M740 373l-14-12-2 0-21-20 0-2-6-6 0-2-8-10-12-24-1-10-4-8-1-78 2-2 4-16 12-24 8-10 0-2 6-6 0-2 23-22 2 0 6-6 10 12 0 30 4 26 2 14 6 6 6 0 6-2 42-28 18-8 12-2 10 1 5 5 3 8-3 12-11 14-8 18-6 7-8 5-10 3-12 0-36-5-10 0-46 9-8 3-6 6-4 14 4 16 6 8 16 13 10 13 14 34 9 16 0 2-9 12zM1008 245l-14 0-36-7-10-5-9-10-5-20-4-50 1-30 9-12 4 0 6 6 2 0 24 24 0 2 6 6 6 12 4 4 4 8 0 4 4 6 0 4 4 6 2 14 2 2 0 36zM876 399l-62 0 3-14 29-8 38-7 32-3 8 12 0 2-20 10-4 0-8 4-6 0-2 2-6 0-2 2z"/>
<path fill="#ffff00" fill-rule="evenodd" d="M738 371l-4-2-8-8-2 0-21-20 0-2-6-6 0-2-8-10-12-24-1-10-4-8-1-78 2-2 4-16 12-24 8-10 0-2 6-6 0-2 23-22 2 0 4-4 10 12 4 70 6 18-4 6-8 5-32 9-10 4-8 10-3 12 3 12 5 10 23 19 12 18 8 23 9 18-9 12zM996 239l-28-4-12-3-10-7-6-10-5-24-2-38 3-28 10-11 6 3 24 24 0 2 10 12 2 6 4 4 4 8 0 4 4 6 0 4 4 6 2 14 2 2 0 30-12 0zM814 229l-16 1-19-3-14-6-5-4-2-4 5-6 13-12 38-27 18-6 10-1 6 2 5 4 1 4 1 6-2 6-11 14-6 14-5 8-7 6-10 4zM876 399l-58 0 1-12 3-2 20-6 38-7 32-3 2 1 6 11 0 2-16 8-4 0-8 4-6 0-2 2-6 0-2 2z"/>
<path fill="#ffef00" fill-rule="evenodd" d="M672 261l-1-60 2-2 4-16 12-24 8-10 0-2 6-6 0-2 23-22 4-2 10 12 3 56-1 24-1 6-3 4-6 5-36 13-8 10-4 15-12 1zM998 233l-26-2-12-3-10-6-8-11-4-22-1-38 3-22 11-12 25 24 0 2 10 12 2 6 4 4 4 8 0 4 4 6 0 4 4 6 2 14 2 2 0 23-10 1zM810 227l-16 0-16-5-8-7 0-4 2-6 15-16 29-20 18-6 8 0 5 2 4 4 1 4-2 11-10 12-11 21-7 6-12 4zM734 369l-31-28 0-2-6-6 0-2-8-10-11-24-2-10-4-8 0-8 14-2 10 15 18 14 11 13 19 46-9 12-1 0zM876 399l-54 0 1-12 19-7 40-7 26-2 2 1 6 13-12 6-4 0-8 4-6 0-2 2-6 0-2 2z"/>
<path fill="#ffdf00" fill-rule="evenodd" d="M672 249l-1-48 2-2 4-16 12-24 8-10 0-2 6-6 0-2 23-22 2 0 10 12 3 52-4 28-4 6-5 4-34 15-6 6-4 8-12 1zM998 227l-24-1-12-2-10-6-7-11-5-22 0-34 4-18 11-12 21 20 0 2 10 12 2 6 4 4 4 8 0 4 4 6 0 4 4 6 2 14 2 2 0 17-10 1zM808 225l-16-1-12-5-5-8 4-10 14-14 23-16 18-6 6 0 5 2 4 6 0 6-3 6-9 10-7 16-10 10-12 4zM732 367l-24-22-11-12 0-2-8-10-11-24 0-4-2-2 0-4-2-4 16-3 6 7 20 15 8 9 5 10 13 34-10 12zM876 399l-50 0 1-12 17-6 38-7 24-1 6 14-8 4-10 2-2 2-14 2-2 2z"/>
<path fill="#ffcf00" fill-rule="evenodd" d="M684 242l-12 1-1-42 2-2 4-16 12-24 8-10 0-2 6-6 1-2 20-20 2 0 10 12 3 48-4 24-4 8-5 5-32 15-6 6-4 5zM998 221l-22 1-12-2-10-6-7-11-4-18 1-32 4-16 11-12 17 16 0 2 6 6 6 12 4 4 4 8 0 4 4 6 0 4 4 6 2 14 2 2 0 11-10 1zM802 223l-12-2-8-6-2-8 5-10 19-16 16-10 14-4 6 0 4 2 3 4-1 6-10 14-10 19-10 8-14 3zM730 365l-4-4-2 0-16-16-11-12 0-2-8-10-11-24-2-8 16-4 22 17 8 9 6 10 12 32-10 12zM876 399l-46 0 1-12 13-4 38-7 20-1 6 14-8 2-2 2-4 0-2 2-14 2-2 2z"/>
<path fill="#ffbf00" fill-rule="evenodd" d="M684 238l-12 0-1-37 2-2 4-16 12-24 8-10 0-2 6-6 0-2 21-19 10 13 3 46-3 20-4 8-6 7-30 15-10 9zM996 215l-20 2-12-2-10-6-5-10-3-18 2-28 5-14 11-10 12 12 0 2 10 12 2 6 4 4 4 8 0 4 4 6 0 4 4 6 0 6 2 2 2 12-12 2zM810 219l-12 1-10-5-3-8 2-8 12-12 17-11 16-7 6 0 4 1 2 5-1 4-9 13-8 16-7 7-9 4zM728 363l-4-2-18-18-9-10 0-2-8-10-11-24 0-5 14-4 20 14 10 11 6 10 10 28 0 2-10 10zM876 399l-41 0 0-12 49-10 14 0 6 14-10 2-2 2-6 0-2 2-6 0-2 2z"/>
<path fill="#ffaf00" fill-rule="evenodd" d="M684 235l-12-1-1-33 2-2 4-16 12-24 8-10 0-2 6-6 0-2 19-17 10 10 1 3 3 42-3 18-5 10-6 7-28 14-10 9zM980 211l-12 0-8-3-7-7-3-10 0-20 4-20 3-8 11-9 8 7 0 2 6 6 6 12 4 4 4 8 0 4 4 6 0 4 4 6 0 6 2 2 0 5-26 5zM806 217l-10-1-6-5-1-6 3-8 10-10 14-9 16-6 8 1 0 6-16 27-8 7-10 4zM726 361l-2 0-18-18-9-10 0-2-8-10-11-25 16-5 18 12 10 11 5 9 9 26 0 3-9 9-1 0zM876 399l-35 0-1-12 44-9 9 1 5 14-12 2-2 2-6 0-2 2z"/>
<path fill="#ff9f00" fill-rule="evenodd" d="M684 231l-12 0-1-30 2-2 4-16 12-24 8-10 0-2 6-6 0-2 17-15 11 11 3 40-2 16-6 12-6 7-26 14-10 7zM978 205l-10 1-8-3-5-6-2-8 2-20 5-18 14-12 18 26 4 8 0 4 4 6 0 4 4 6 0 5-26 7zM808 213l-8 0-5-2-2-6 3-8 8-8 10-7 14-5 6 0-1 4-11 22-6 6-8 4zM724 361l-21-20 0-2-6-6 0-2-8-10-9-20 0-3 14-5 18 12 10 10 5 10 7 24-10 12zM876 399l-28 0 0-12 34-7 6 1 4 14-14 2-2 2z"/>
<path fill="#ff8f00" fill-rule="evenodd" d="M686 227l-2 1-12-1-1-26 2-2 4-16 12-24 8-10 0-2 6-6 0-2 15-14 11 12 3 36-2 16-4 10-8 9-32 19zM976 199l-8 2-6-3-4-5-1-6 3-16 4-14 14-10 4 2 6 12 4 4 10 24-26 10zM812 207l-6 2-6-2-1-4 1-4 4-6 8-7 6-3 6 0 2 4-2 8-6 8-6 4zM722 359l-19-18 0-2-6-6 0-2-8-10-9-20 16-5 16 10 10 11 4 8 7 22-11 12zM874 399l-6 0-3-14 7 0 3 14-1 0z"/>
<path fill="#ff8000" fill-rule="evenodd" d="M684 225l-12-1-1-23 2-2 4-16 12-24 8-10 0-2 6-6 0-2 13-12 12 12 3 34-3 16-5 10-7 8-32 18zM968 193l-4-2-1-4 7-20 2-4 14-8 2 6 4 4 4 8 0 4 2 3-30 13zM810 201l-3-2 3-6 6-5 4 1 0 4-2 4-8 4zM720 357l-17-16 0-2-6-6 0-2-8-10-7-18 14-5 14 8 10 11 6 10 5 18 0 2-11 10z"/>
<path fill="#ff7000" fill-rule="evenodd" d="M686 222l-14-1-1-20 2-2 4-16 12-24 8-10 0-2 6-6 0-2 11-10 12 10 0 2 3 30-2 16-5 10-7 8-29 17zM720 355l-2 0-14-14-1-2-6-6 0-2-8-10-5-12 0-4 14-5 14 9 8 8 5 10 5 18-10 10z"/>
<path fill="#ff6000" fill-rule="evenodd" d="M686 220l-14-2-1-17 2-2 4-16 12-24 8-10 0-2 7-6 0-2 9-8 11 10 3 28-1 16-4 9-8 9-28 17zM718 354l-15-13 0-2-6-6 0-2-7-10-6-13 14-6 12 7 9 10 5 8 4 16-10 11z"/>
<path fill="#ff5000" fill-rule="evenodd" d="M686 217l-14-2 0-14 2-2 3-16 12-24 8-10 0-2 7-6 0-2 6-6 1 0 12 10 2 26-1 16-4 8-8 9-26 15zM716 353l-19-20 0-2-7-10-4-8 0-3 14-6 12 8 8 9 7 20-11 12z"/>
<path fill="#ff4000" fill-rule="evenodd" d="M688 214l-2 1-14-3 0-11 2-2 3-16 12-24 8-10 0-2 7-6 0-2 6-5 11 11 2 22-1 16-4 8-7 8-23 15zM714 351l-17-18 0-2-7-10-4-8 14-7 10 6 8 9 4 8 3 12-11 10z"/>
<path fill="#ff3000" fill-rule="evenodd" d="M688 211l-16-2 0-8 2-2 3-16 12-24 8-10 1-2 6-6 0-2 4-3 12 11 2 20-2 16-4 8-6 6-22 14zM712 349l-15-16 1-2-10-14 0-2 12-6 4 0 10 8 5 6 3 8 2 9-12 9z"/>
<path fill="#ff2000" fill-rule="evenodd" d="M688 209l-16-3 0-5 2-2 3-16 12-24 17-21 12 11 2 18-2 14-4 8-6 7-20 13zM712 347l-8-6 0-2-6-6 0-2-8-10-1-4 13-6 6 2 8 7 6 13 0 6-10 8z"/>
<path fill="#ff1000" fill-rule="evenodd" d="M690 206l-2 1-16-4 0-2 2-2 4-16 11-24 15-19 12 8 1 3 0 26-3 8-6 8-18 13zM710 346l-6-5 0-2-6-6 0-2-8-10 14-8 12 10 5 12-1 2-10 9z"/>
<path fill="#ff0000" fill-rule="evenodd" d="M690 203l-16-3 0-5 2-2 2-10 12-24 8-10 0-2 4-4 2 0 10 7 1 3 1 12-2 12-2 6-6 8-16 12zM708 344l-10-11 0-2-6-8 14-8 10 9 4 9-1 2-11 9z"/>
<path fill="#ef0000" fill-rule="evenodd" d="M692 199l-4 1-14-3 0-2 2-2 2-10 12-24 8-10 0-2 4-2 11 8 0 18-2 8-5 8-14 12zM706 342l-8-9-4-8 14-7 8 8 2 7-12 9z"/>
<path fill="#df0000" fill-rule="evenodd" d="M690 197l-14-4 0-4 14-30 8-10 0-2 1 0 13 9-1 11-3 10-4 8-7 8-7 4zM704 340l-8-11 14-8 5 6 1 4-12 9z"/>
<path fill="#cf0000" fill-rule="evenodd" d="M692 193l-15-4 1-6 12-24 4-4 0-2 4-3 12 8 0 5-2 8-5 10-11 12z"/>
<path fill="#bf0000" fill-rule="evenodd" d="M694 188l-15-5 1-4 14-26 13 8 0 2-3 10-10 15z"/>
</g><g transform="scale(.5)" fill="none" stroke-width="1.9">
<path stroke="#4a4a14" d="M843 335l27-12 5-6-1-4-17-8-25-4-50 0-7 2-4 4 0 6 3 6 7 6 9 4 14 5 12 2 16 0z"/>
<path stroke="#4a4208" d="M838 343l25-6 23-8 10-9 1-5-1-4-7-6-13-6-18-5-18-2-62 1-8 3-5 5-2 10 3 10 6 8 10 7 12 5 12 3 14 1z"/>
<path stroke="#4a3108" d="M822 351l36-6 35-10 9-6 6-6 2-8-1-6-5-7-9-5-27-10-16-3-26-1-32 2-16 0-9 2-7 4-5 10-1 12 5 12 9 11 12 9 12 5 12 2z"/>
<path stroke="#4a2108" d="M821 357l59-11 24-9 9-6 6-8 2-10-2-8-7-8-10-7-32-11-16-4-24 0-56 3-10 2-8 5-6 10 0 14 4 16 10 14 12 10 14 7 14 2z"/>
<path stroke="#4a1008" d="M804 365l77-14 29-9 12-7 8-10 3-12-3-10-8-11-12-9-34-13-14-4-20-1-66 4-12 2-10 4-8 7-3 11 3 22 7 18 10 14 13 10 14 6z"/>
<path stroke="#3e0814" d="M774 81l9 22-4 8-2 12 1 30 2 3 2 0 10-4 12-9 8-8 3-8 1-8-2-10-2-6-7-8-3-14M805 371l93-18 23-8 13-8 10-12 4-12-2-12-8-10-22-18-26-14-16-5-14-1-44 5-44 2-16 3-12 5-8 9-1 10 9 36 6 14 12 16 14 11 14 6z"/>
<path stroke="#2d0825" d="M746 81l18 30-3 42 1 10 4 8 8 2 12-4 24-16 17-10 5-4 2-12-5-46M803 377l37-8 66-12 20-6 14-7 13-9 9-10 7-12 2-14-4-10-48-32-10-10-7-10-1-10 5-38 2-38-2-10-6-5-8 1-6 8-7 44-11 34-3 6-6 6-15 8-16 4-18 2-38 2-28 5-16 5-6 6-1 6 1 8 12 25 9 27 11 18 12 13 12 8 12 4z"/>
<path stroke="#1c0835" d="M725 81l27 37-1 35 2 16 6 12 9 3 14-4 36-22 24-6 8-5 2-4 5-20 5-42M1008 272l-16-3-12-6-30-9-12-7-7-6-6-10-2-12-2-76-3-14-6-10-10-6-10-2-12 3-7 5-4 8-4 22 2 24-2 12-18 36-9 10-10 5-14 4-44 0-26 4-26 2-10 3-5 6-1 10 3 10 21 26 6 12 12 30 8 13 9 11-18 32M798 399l4-16 40-10 70-11 18-4 3 1 32 40"/>
<path stroke="#0c0846" d="M706 81l36 44 1 28 4 42 3 7 4 5 6-1 46-33 19-10 13-2 10 1 6 5 1 6-2 10-11 16-7 16-7 8-8 5-12 3-16-1-38-11-18 8-32 8-8 4-3 4-4 8-1 8 4 16 5 8 19 15 9 11 5 10 10 25 8 15-31 40M1008 240l-14 0-28-4-10-3-7-4-5-6-7-16-5-52 3-30 36-44M817 399l1-12 3-2 21-6 38-7 32-3 2 0 17 30"/>
<path stroke="#08144a" d="M686 81l48 50 3 52-5 20-7 10-31 16-10 9-12 0M1008 213l-32 4-8-1-8-3-6-5-5-7-3-20 2-25 5-17 55-49M810 219l-12 1-10-5-4-6 3-10 12-12 17-11 16-7 6 0 4 1 2 5-1 4-9 13-8 15-6 7zM672 294l20-6 22 15 12 16 12 32 0 2-41 46M835 399l0-12 43-9 16-2 4 1 9 22"/>
<path stroke="#08294a" d="M672 87l54 50 4 38-1 10-3 8-10 13-32 19-12-1M1008 173l-26 10-10 6-4 0-2-2 2-9 6-12 34-19M816 197l-4 1-2-1 3-6 5-1 1 3zM672 308l24-10 6 3 12 9 7 9 10 26-1 2-52 52"/>
<path stroke="#08394a" d="M672 105l48 39 2 9 1 18-1 10-2 6-12 14-22 13-14-3M672 321l30-14 10 7 6 7 4 7 3 11-1 2-52 46"/>
<path stroke="#084a4a" d="M672 123l42 29 1 9-3 18-5 8-7 8-10 6-18-4M672 336l34-19 8 5 4 9 0 3-46 36"/>
</g>
</g>
<ellipse cx="419.4" cy="119.9" rx="71.15" ry="67.40" fill="none" stroke="#000" stroke-width="1.05"/>
<polyline points="432.4,53.0 422.2,42.6 416.5,42.6 406.3,53.0" fill="none" stroke="#000" stroke-width="1"/>
<polyline points="489.4,107.0 491.9,104.1 493.1,104.0 494.8,104.5 496.5,107.0 496.2,120.6 497.2,132.5 495.1,137.6 491.9,138.6 488.2,136.1" fill="none" stroke="#000" stroke-width="1"/>
<polyline points="349.3,107.0 346.8,104.1 345.6,104.0 343.9,104.5 342.2,107.0 342.5,120.6 341.5,132.5 343.6,137.6 346.8,138.6 350.5,136.1" fill="none" stroke="#000" stroke-width="1"/>
<clipPath id="cHA"><ellipse cx="604.2" cy="121.7" rx="81.15" ry="72.10"/></clipPath>
<ellipse cx="604.2" cy="121.7" rx="86.73" ry="77.06" fill="#edf5ff"/>
<g clip-path="url(#cHA)"><g transform="scale(.5)">
<rect x="1034" y="87" width="348" height="312" fill="#00008f"/>
<path fill="#00009f" fill-rule="evenodd" d="M1238 402l-60 0-2-2-8 0-2-2-6 0-2-2-6 0-8-4-10-2-24-12-4-4-6-2-6-6-2 0-6-6-2 0-21-21 0-2-6-6 0-2-8-10-12-24 0-4-4-8 0-80 2-2 2-10 12-24 8-10 0-2 10-10 0-2 25-23 2 0 10-8 6-2 4-4 12-6 4 0 6-4 4 0 6-4 6 0 8-4 8 0 2-2 76 0 2 2 8 0 2 2 6 0 2 2 10 2 6 4 4 0 20 10 4 4 6 2 6 6 2 0 6 6 2 0 21 21 0 2 8 8 6 12 4 4 6 12 0 4 4 6 0 4 2 2 0 6 2 2 0 68-2 2-2 12-4 6 0 4-16 28-6 6 0 2-25 25-2 0-6 6-8 4-4 4-6 2-4 4-8 2-10 6-4 0-2 2-4 0-8 4-4 0-2 2-18 2-2 2zM1211 321l3-2-2-1-4 1 3 2z"/>
<path fill="#0000af" fill-rule="evenodd" d="M1238 402l-60 0-2-2-8 0-2-2-6 0-2-2-6 0-8-4-10-2-24-12-4-4-6-2-6-6-2 0-6-6-2 0-21-21 0-2-6-6 0-2-8-10-12-24 0-4-4-8 0-80 2-2 2-10 12-24 8-10 0-2 10-10 0-2 25-23 2 0 10-8 6-2 4-4 12-6 4 0 6-3 4 0 6-4 6 0 8-4 8 0 2-3 76 0 2 2 8 0 2 2 6 0 2 2 10 2 6 4 4 0 20 10 4 4 6 2 6 6 2 0 6 6 2 0 21 21 0 2 8 8 6 12 4 4 6 12 0 4 4 6 0 4 2 2 0 6 2 2 0 68-2 2-2 12-4 6 0 4-16 28-6 6 0 2-25 25-2 0-6 6-8 4-4 4-6 2-4 4-8 2-10 6-4 0-2 2-4 0-8 4-4 0-2 2-18 2-2 2zM1215 327l10-6 1-4-4-4-6-2-8 0-6 2-5 4 0 4 5 5 6 2 7-1z"/>
<path fill="#0000bf" fill-rule="evenodd" d="M1238 402l-60 0-2-2-8 0-2-2-6 0-2-2-6 0-8-4-10-2-24-12-4-4-6-2-6-6-2 0-6-6-2 0-21-21 0-2-6-6 0-2-8-10-12-24 0-4-4-8 0-80 2-2 2-10 12-24 8-10 0-2 10-10 0-2 25-23 2 0 10-8 6-2 4-4 12-5 4 0 6-4 4 0 6-4 6 0 8-4 8 0 2-2 76-1 2 2 8 0 2 2 6 0 2 2 10 2 6 4 4 0 20 10 4 4 6 2 6 6 2 0 6 6 2 0 21 21 0 2 8 8 6 12 4 4 6 12 0 4 4 6 0 4 2 2 0 6 2 2 0 68-2 2-2 12-4 6 0 4-16 28-6 6 0 2-25 25-2 0-6 6-8 4-4 4-6 2-4 4-8 2-10 6-4 0-2 2-4 0-8 4-4 0-2 2-18 2-2 2zM1213 331l9-3 9-5 3-4-1-4-9-6-10-2-13 2-10 6 0 6 5 6 10 4 7 0z"/>
<path fill="#0000cf" fill-rule="evenodd" d="M1238 402l-60 0-2-2-8 0-2-2-6 0-2-2-6 0-8-4-10-2-24-12-4-4-6-2-6-6-2 0-6-6-2 0-21-21 0-2-6-6 0-2-8-10-12-24 0-4-4-8 0-80 2-2 2-10 12-24 8-10 0-2 10-10 0-2 25-23 2 0 10-8 6-2 4-4 12-5 4 0 6-4 4 0 6-4 6 0 8-4 8 0 2-2 76-1 2 2 8 0 2 2 6 0 2 2 10 2 6 4 4 0 20 10 4 4 6 2 6 6 2 0 6 6 2 0 21 21 0 2 8 8 6 12 4 4 6 12 0 4 4 6 0 4 2 2 0 6 2 2 0 68-2 2-2 12-4 6 0 4-16 28-6 6 0 2-25 25-2 0-6 6-8 4-4 4-6 2-4 4-8 2-10 6-4 0-2 2-4 0-8 4-4 0-2 2-18 2-2 2zM1216 333l12-4 12-6 4-4 0-4-5-4-9-4-16-3-20 4-6 3-4 4 1 6 9 8 10 4 12 0zM1275 321l6-4 1-2-2-3-6-1-8 6 2 3 7 1z"/>
<path fill="#0000df" fill-rule="evenodd" d="M1238 402l-60 0-2-2-8 0-2-2-6 0-2-2-6 0-8-4-10-2-24-12-4-4-6-2-6-6-2 0-6-6-2 0-21-21 0-2-6-6 0-2-8-10-12-24 0-4-4-8 0-80 2-2 2-10 12-24 8-10 0-2 10-10 0-2 25-23 2 0 10-8 6-2 4-3 12-6 4 0 6-4 4 0 6-4 6 0 8-4 8 0 2-2 76-1 2 2 8 0 2 2 6 0 2 2 10 2 6 4 4 0 20 10 4 4 6 2 6 6 2 0 6 6 2 0 21 21 0 2 8 8 6 12 4 4 6 12 0 4 4 6 0 4 2 2 0 6 2 2 0 68-2 2-2 12-4 6 0 4-16 28-6 6 0 2-25 25-2 0-6 6-8 4-4 4-6 2-4 4-8 2-10 6-4 0-2 2-4 0-8 4-4 0-2 2-18 2-2 2zM1217 335l35-11 18 1 8-2 8-6 0-6-4-3-4-1-14 4-8 0-26-7-16-2-22 4-9 3-5 4-1 4 3 4 12 10 12 4 13 0z"/>
<path fill="#0000ef" fill-rule="evenodd" d="M1238 402l-60 0-2-2-8 0-2-2-6 0-2-2-6 0-8-4-10-2-24-12-4-4-6-2-6-6-2 0-6-6-2 0-21-21 0-2-6-6 0-2-8-10-12-24 1-4-4-8-1-80 2-2 2-10 12-24 8-10 0-2 10-10 0-2 25-23 2 0 10-7 6-2 4-4 12-6 4 0 6-4 4 0 6-4 6 0 8-4 8 0 2-2 76-1 2 2 8 0 2 2 6 0 2 2 10 2 6 4 4 0 20 10 4 4 6 2 6 6 2 0 6 6 2 0 21 21 0 2 8 8 6 12 4 4 6 12 0 4 4 6 0 4 2 2 0 6 2 2 0 68-2 2-2 12-4 6 0 4-16 28-6 6 0 2-25 25-2 0-6 6-8 4-4 4-6 2-4 4-8 2-10 6-4 0-2 2-4 0-8 4-4 0-2 2-18 2-2 2zM1216 337l34-9 28-2 10-7 3-8-3-4-8-3-22 2-28-5-14-1-14 1-16 4-11 4-4 4 1 4 5 6 13 10 13 4 13 0z"/>
<path fill="#0000ff" fill-rule="evenodd" d="M1238 402l-60 0-2-2-8 0-2-2-6 0-2-2-6 0-8-4-10-2-24-12-4-4-6-2-6-6-2 0-6-6-2 0-21-21 0-2-6-6 0-2-8-10-11-24 0-4-4-8-1-80 2-2 2-10 12-24 8-10 0-2 10-10 0-2 25-23 2 0 10-7 6-2 4-4 12-6 4 0 6-4 4 0 6-4 6 0 8-4 8 0 2-2 76 0 2 2 8 0 2 2 6 0 2 2 10 1 6 4 4 0 20 10 4 4 6 2 6 6 2 0 6 6 2 0 21 21 0 2 8 8 6 12 4 4 6 12 0 4 4 6 0 4 2 2 0 6 2 2 0 68-2 2-2 12-4 6 0 4-16 28-6 6 0 2-25 25-2 0-6 6-8 4-4 4-6 2-4 4-8 2-10 6-4 0-2 2-4 0-8 4-4 0-2 2-18 2-2 2zM1214 339l34-7 32-5 11-8 3-6 0-4-6-5-8-3-22 1-38-5-30 4-18 6-6 4 0 4 3 4 17 14 14 5 14 1z"/>
<path fill="#0010ff" fill-rule="evenodd" d="M1238 402l-60 0-2-2-8 0-2-2-6 0-2-2-6 0-8-4-10-2-24-12-4-4-6-2-6-6-2 0-6-6-2 0-21-21 0-2-6-6 0-2-8-10-11-24 0-4-4-8-1-80 2-2 2-10 12-24 8-10 0-2 10-10 0-2 25-23 2 0 10-7 6-2 4-4 12-6 4 0 6-4 4 0 6-4 6 0 8-4 8 0 2-2 76 0 2 2 8 0 2 2 6 0 2 2 10 2 6 4 4 0 20 9 4 4 6 2 6 6 2 0 6 6 2 0 21 21 0 2 8 8 6 12 4 4 6 12 0 4 4 6 0 4 2 2 0 6 2 2 0 68-2 2-2 12-4 6 0 4-16 28-6 6 0 2-25 25-2 0-6 6-8 4-4 4-6 2-4 4-8 2-10 6-4 0-2 2-4 0-8 4-4 0-2 2-18 2-2 2zM1225 339l56-10 7-4 6-6 3-6 0-4-7-7-10-4-24 0-32-3-20 2-18 3-18 6-6 5 0 4 5 6 11 10 10 6 18 4 19-2z"/>
<path fill="#0020ff" fill-rule="evenodd" d="M1238 402l-60 0-2-2-8 0-2-2-6 0-2-2-6 0-8-4-10-2-24-12-4-4-6-2-6-6-2 0-6-6-2 0-21-21 0-2-6-6 0-2-8-10-11-24 0-4-4-8-1-80 2-2 2-10 12-24 8-10 0-2 10-10 0-2 25-22 2 0 10-8 6-2 4-4 12-6 4 0 6-4 4 0 6-4 6 0 8-4 8 0 2-2 76 0 2 2 8 0 2 2 6 0 2 2 10 2 6 4 4 0 20 10 4 4 6 2 6 5 2 0 6 6 2 0 21 21 0 2 8 8 6 12 4 4 6 12 0 4 4 6 0 4 2 2 0 6 2 2 0 68-2 2-2 12-4 6 0 4-16 28-6 6 0 2-25 25-2 0-6 6-8 4-4 4-6 2-4 4-8 2-10 6-4 0-2 2-4 0-8 4-4 0-2 2-18 2-2 2zM1223 341l49-8 10-3 8-4 7-7 2-6 0-6-9-8-10-4-54-2-40 5-20 6-6 5-1 6 3 5 13 11 9 6 18 5 21-1z"/>
<path fill="#0030ff" fill-rule="evenodd" d="M1238 402l-60 0-2-2-8 0-2-2-6 0-2-2-6 0-8-4-10-2-24-12-4-4-6-2-6-6-2 0-6-6-2 0-21-21 0-2-6-6 0-2-8-10-11-24 0-4-4-8-1-80 2-2 2-10 12-24 8-10 0-2 10-10 1-2 24-22 2 0 10-8 6-2 4-4 12-6 4 0 6-4 4 0 6-4 6 0 8-4 8 0 2-2 76 0 2 2 8 0 2 2 6 0 2 2 10 2 6 4 4 0 20 10 4 4 6 2 6 6 2 0 6 6 2 0 21 20 0 2 8 8 6 12 4 4 6 12 0 4 4 6 0 4 2 2 0 6 2 2 0 68-2 2-2 12-4 6 0 4-16 28-6 6 0 2-25 25-2 0-6 6-8 4-4 4-6 2-4 4-8 2-10 6-4 0-2 2-4 0-8 4-4 0-2 2-18 2-2 2zM1220 343l52-8 12-4 8-5 7-7 3-6-1-6-7-8-14-7-50-2-28 3-18 4-19 6-8 6-1 6 4 6 20 16 18 6 22 0z"/>
<path fill="#0040ff" fill-rule="evenodd" d="M1238 402l-60 0-2-2-8 0-2-2-6 0-2-2-6 0-8-4-10-2-24-12-4-4-6-2-6-6-2 0-6-6-2 0-21-21 0-2-6-6 0-2-8-10-11-24 0-4-4-8-1-80 2-2 2-10 12-24 8-10 0-2 11-10 0-2 24-22 2 0 10-8 6-2 4-4 12-6 4 0 6-4 4 0 6-4 6 0 8-4 8 0 2-2 76 0 2 2 8 0 2 2 6 0 2 2 10 2 6 4 4 0 20 10 4 4 6 2 6 6 2 0 6 6 2 0 21 20 0 2 8 8 6 12 4 4 6 12 0 4 4 6 0 4 2 2 0 6 2 2 0 68-2 2-2 12-4 6 0 4-16 28-6 6 0 2-25 24-2 0-6 7-8 4-4 4-6 2-4 4-8 2-10 6-4 0-2 2-4 0-8 4-4 0-2 2-18 2-2 2zM1214 345l56-8 14-4 8-5 8-7 4-8-1-6-9-10-14-8-8-1-38 0-34 4-16 3-22 7-7 7-1 6 3 6 19 16 18 7 20 1z"/>
<path fill="#0050ff" fill-rule="evenodd" d="M1238 402l-60 0-2-2-8 0-2-2-6 0-2-2-6 0-8-4-10-2-24-12-4-4-6-2-6-6-2 0-6-6-2 0-21-21 0-2-6-6 0-2-8-10-11-24 0-4-4-8-1-80 2-2 2-10 12-24 8-10 0-2 11-10 0-2 24-22 2 0 10-8 6-2 4-4 12-6 4 0 6-4 4 0 6-4 6 0 8-4 8 0 2-2 76 0 2 2 8 0 2 2 6 0 2 2 10 2 6 4 4 0 20 10 4 4 6 2 6 6 2 0 6 6 2 0 21 20 0 2 8 8 6 12 4 4 6 12 0 4 4 6 0 4 2 2 0 6 2 2 0 68-2 2-2 12-4 6 0 4-16 28-6 6 0 2-25 24-2 0-6 6-8 5-4 4-6 2-4 4-8 2-10 6-4 0-2 2-4 0-8 4-4 0-2 2-18 2-2 2zM1226 345l46-7 16-5 8-6 7-8 3-8-1-6-11-11-16-9-42 0-16 1-36 7-23 8-6 4-3 4-1 6 3 7 16 13 9 6 21 5 26-1z"/>
<path fill="#0060ff" fill-rule="evenodd" d="M1238 402l-60 0-2-2-8 0-2-2-6 0-2-2-6 0-8-4-10-2-24-12-4-4-6-2-6-6-2 0-6-6-2 0-21-21 0-2-6-6 0-2-7-10-12-24 0-4-4-8 0-80 2-2 1-10 12-24 8-10 0-2 11-10 0-2 24-22 2 0 10-8 6-2 4-4 12-6 4 0 6-4 4 0 6-4 6 0 8-4 8 0 2-2 76 0 2 2 8 0 2 2 6 0 2 2 10 2 6 4 4 0 20 10 4 4 6 2 6 6 2 0 6 6 2 0 21 20 0 2 8 8 6 12 4 4 6 12 0 4 4 6 0 4 2 2 0 6 2 2 0 68-2 2-2 12-4 6 0 4-16 28-6 6 0 2-25 24-2 0-6 6-8 4-4 4-6 3-4 4-8 2-10 6-4 0-2 2-4 0-8 4-4 0-2 2-18 2-2 2zM1222 347l50-7 15-5 11-7 8-9 2-8-1-6-6-8-13-10-10-5-8-1-42 2-38 7-30 10-6 3-5 6 0 8 3 6 24 19 20 6 26-1z"/>
<path fill="#0070ff" fill-rule="evenodd" d="M1238 402l-60 0-2-2-8 0-2-2-6 0-2-2-6 0-8-4-10-2-24-12-4-4-6-2-6-6-2 0-6-6-2 0-21-21 0-2-6-6 0-2-7-10-12-24 0-4-4-8 0-80 2-2 1-10 12-24 9-10 0-2 10-10 0-2 24-22 2 0 10-8 6-2 4-4 12-6 4 0 6-4 4 0 6-4 6 0 8-4 8 0 2-2 76 0 2 2 8 0 2 2 6 0 2 2 10 2 6 4 4 0 20 10 4 4 6 2 6 6 2 0 6 6 2 0 21 20 0 2 8 8 6 12 4 4 6 12 0 4 4 6 0 4 2 2 0 6 2 2 0 68-2 2-2 12-5 6 0 4-16 28-6 6 0 2-24 24-2 0-6 6-8 4-4 4-6 2-4 5-8 2-10 6-4 0-2 2-4 0-8 4-4 0-2 2-18 2-2 2zM1215 349l55-7 16-5 10-6 11-10 3-8-1-8-5-8-18-15-8-4-8-2-42 4-38 8-32 11-11 8-2 8 3 7 23 19 9 5 10 2 25 1z"/>
<path fill="#0080ff" fill-rule="evenodd" d="M1238 402l-60 0-2-2-8 0-2-2-6 0-2-2-6-1-8-4-10-2-24-11-4-4-6-2-6-6-2 0-6-6-2 0-20-21 0-2-6-6 0-2-8-10-12-24 0-4-4-8 0-80 2-2 2-10 11-24 9-10 0-2 10-10 0-2 24-22 2 0 10-8 6-2 4-4 12-6 4 0 6-4 4 0 6-4 6 0 8-4 8 0 2-2 76 0 2 2 8 0 2 2 6 0 2 2 10 2 6 4 4 0 20 10 4 4 6 2 6 6 2 0 6 6 2 0 21 20 0 2 8 8 6 12 4 4 6 12 0 4 4 6 0 4 2 2 0 6 2 2 0 68-2 2-3 12-4 6 0 4-16 28-6 6 0 2-24 24-2 0-6 6-8 4-4 4-6 2-4 4-8 3-10 6-4 0-2 2-4 0-8 4-4 0-2 2-18 2-2 2zM1227 349l45-6 18-6 11-8 9-10 3-8-2-8-27-27-6-3-6-1-46 6-38 9-34 12-10 8-1 8 3 8 26 21 10 4 12 2 33-1z"/>
<path fill="#008fff" fill-rule="evenodd" d="M1238 402l-60 0-2-2-8 0-2-3-6 0-2-2-6 0-8-4-10-2-24-11-4-4-6-2-6-6-2 0-6-6-2 0-20-21 0-2-6-6 0-2-8-10-12-24 0-4-4-8 0-80 2-2 2-10 12-24 8-10 0-2 10-10 0-2 24-22 2 0 10-8 6-2 4-4 12-6 4 0 6-4 4 0 6-4 6 0 8-4 8 0 2-2 76 0 2 2 8 0 2 2 6 0 2 2 10 2 6 4 4 0 20 10 4 4 6 2 6 6 2 0 6 6 2 0 21 20 0 2 8 8 6 12 4 4 6 12 0 4 4 6 0 4 2 2 0 6 2 2-1 68-2 2-2 12-4 6 0 4-16 28-6 6 0 2-24 24-2 0-6 6-8 4-4 4-6 2-4 4-8 2-10 7-4 0-2 2-4 0-8 4-4 0-2 2-18 2-2 2zM1221 351l51-7 18-5 10-7 11-11 4-10-2-8-27-30-6-5-6-1-48 9-38 9-36 13-6 4-5 5-1 8 4 10 26 20 9 4 11 2 31 0z"/>
<path fill="#009fff" fill-rule="evenodd" d="M1238 402l-60 0-2-2-8-1-2-2-6 0-2-2-6 0-8-4-10-2-24-11-4-4-6-2-6-6-2 0-6-6-2 0-20-21 0-2-6-6 0-2-8-10-12-24 0-4-4-8 0-80 2-2 2-10 12-24 8-10 0-2 10-10 0-2 24-22 2 0 10-8 6-2 4-4 12-6 4 0 6-4 4 0 6-4 6 0 8-4 8 0 2-2 76 0 2 2 8 0 2 2 6 0 2 2 10 2 6 4 4 0 20 10 4 4 6 2 6 6 2 0 6 6 2 0 21 20 0 2 8 8 6 12 4 4 6 12 0 4 4 6 0 4 2 2 0 6 2 2-1 68-2 2-2 12-4 6 0 4-16 28-6 6 0 2-24 24-2 0-6 6-8 4-4 4-6 2-4 4-8 2-10 7-4 0-2 2-4 0-8 4-4 0-2 2-18 2-2 2zM1212 353l58-7 20-6 11-7 12-12 4-10-1-8-30-36-4-3-6-1-50 10-38 10-38 14-11 8-2 8 2 10 7 8 16 12 10 6 10 3 30 1z"/>
<path fill="#00afff" fill-rule="evenodd" d="M1238 402l-60-1-2-2-8 0-2-2-6 0-2-2-6 0-8-4-10-2-24-12-4-4-6-1-6-6-2 0-6-6-2 0-20-21 0-2-6-6 0-2-8-10-12-24 0-4-4-8 0-80 2-2 2-10 12-24 8-10 0-2 10-10 0-2 24-22 2 0 10-8 6-2 4-4 12-6 4 0 6-4 4 0 6-4 6 0 8-4 8 0 2-2 76 0 2 2 8 0 2 2 6 0 2 2 10 2 6 4 4 0 20 10 4 4 6 2 6 6 2 0 6 6 2 0 21 20 0 2 8 8 6 12 4 4 6 12 0 4 4 6 0 4 2 2 0 6 2 2-1 68-2 2-2 12-4 6 0 4-16 28-6 6 0 2-24 24-2 0-6 6-8 4-4 4-6 2-4 4-8 2-10 6-4 1-2 2-4 0-8 4-4 0-2 2-18 2-2 2zM1226 353l44-6 16-3 15-9 16-16 3-10-2-8-13-14-14-20-6-6-7-2-8 1-78 20-46 16-6 4-4 5-2 10 4 11 8 8 20 14 10 4 14 2 36-1z"/>
<path fill="#00bfff" fill-rule="evenodd" d="M1238 402l-60-1-2-2-8 0-2-2-6 0-2-2-6 0-8-4-10-2-24-12-4-4-6-2-6-5-2 0-6-6-2 0-20-21 0-2-6-6 0-2-8-10-12-24 0-4-4-8 0-80 2-2 2-10 12-24 8-10 0-2 10-10 0-2 24-22 2 0 10-8 6-2 4-4 12-6 4 0 6-4 4 0 6-4 6 0 8-4 8 0 2-2 76 0 2 2 8 0 2 2 6 0 2 2 10 2 6 4 4 0 20 10 4 4 6 2 6 6 2 0 6 6 2 0 21 20 0 2 8 8 6 12 4 4 6 12 0 4 4 6 0 4 2 2 0 6 2 2-1 68-2 2-2 12-4 6 0 4-16 28-6 6 0 2-24 24-2 0-6 6-8 4-4 4-6 2-4 4-8 2-10 6-4 0-2 2-4 1-8 4-4 0-2 2-18 2-2 2zM1218 355l50-6 18-4 15-8 18-16 4-10-2-10-15-16-12-19-6-7-8-3-8 0-52 13-32 10-26 11-18 5-6 3-4 5-3 10 3 12 8 10 18 12 10 5 12 3 36 0z"/>
<path fill="#00cfff" fill-rule="evenodd" d="M1238 402l-60-1-2-2-8 0-2-2-6 0-2-2-6 0-8-4-10-2-24-12-4-4-6-2-6-5-2 0-6-6-2 0-20-21 0-2-6-6 0-2-8-10-12-24 0-4-4-8 0-80 2-2 2-10 12-24 8-10 0-2 10-10 0-2 24-22 2 0 10-8 6-2 4-4 12-6 4 0 6-4 4 0 6-4 6 0 8-4 8 0 2-2 76 0 2 2 8 0 2 2 6 0 2 2 10 2 6 4 4 0 20 10 4 4 6 2 6 6 2 0 6 6 2 0 21 20 0 2 8 8 6 12 4 4 6 12 0 4 4 6 0 4 2 2 0 6 2 2-1 68-2 2-2 12-4 6 0 4-16 28-6 6 0 2-24 24-2 0-6 6-8 4-4 4-6 2-4 4-8 2-10 6-4 0-2 2-4 0-8 5-4 0-2 2-18 2-2 2zM1205 357l65-7 24-7 13-8 14-14 5-10-2-10-3-6-13-12-16-25-8-5-8-2-62 17-30 10-24 11-18 4-10 7-3 9 1 12 4 9 10 9 15 10 11 5 14 3 21 0z"/>
<path fill="#00dfff" fill-rule="evenodd" d="M1238 402l-60-1-2-2-8 0-2-2-6 0-2-2-6 0-8-4-10-2-24-12-4-4-6-2-6-6-2 0-6-5-2 0-20-21 0-2-6-6 0-2-8-10-12-24 0-4-4-8 0-80 2-2 2-10 12-24 8-10 0-2 10-10 0-2 24-22 2 0 10-8 6-2 4-4 12-6 4 0 6-4 4 0 6-4 6 0 8-4 8 0 2-2 76 0 2 2 8 0 2 2 6 0 2 2 10 2 6 4 4 0 20 10 4 4 6 2 6 6 2 0 6 6 2 0 21 20 0 2 8 8 6 12 4 4 6 12 0 4 4 6 0 4 2 2 0 6 2 2-1 68-2 2-2 12-4 6 0 4-16 28-6 6 0 2-24 24-2 0-6 6-8 4-4 4-6 2-4 4-8 2-10 6-4 0-2 2-4 0-8 4-4 0-2 2-18 3-2 2zM1223 357l47-5 19-5 18-10 12-10 7-8 3-12-3-10-14-14-15-24-11-9-6-2-6 0-52 14-38 14-24 11-22 5-9 7-3 6 0 8 4 14 8 11 16 11 13 6 13 3 43-1z"/>
<path fill="#00efff" fill-rule="evenodd" d="M1238 401l-60 0-2-2-8 0-2-2-6 0-2-2-6 0-8-4-10-2-24-12-4-4-6-2-6-6-2 0-6-5-2 0-20-21 0-2-6-6 0-2-8-10-12-24 0-4-4-8 0-80 2-2 2-10 12-24 8-10 0-2 10-10 0-2 24-22 2 0 10-8 6-2 4-4 12-6 4 0 6-4 4 0 6-4 6 0 8-4 8 0 2-2 76 0 2 2 8 0 2 2 6 0 2 2 10 2 6 4 4 0 20 10 4 4 6 2 6 6 2 0 6 6 2 0 21 20 0 2 8 8 6 12 4 4 6 12 0 4 4 6 0 4 2 2 0 6 2 2-1 68-2 2-2 12-4 6 0 4-16 28-6 6 0 2-24 24-2 0-6 6-8 4-4 4-6 2-4 4-8 2-10 6-4 0-2 2-4 0-8 4-4 0-2 2-18 2-2 2zM1213 359l55-6 20-4 19-10 13-10 7-8 5-12-1-12-17-18-15-22-11-11-6-3-8 0-18 7-32 8-40 16-25 11-25 6-8 6-3 12 3 16 6 10 12 10 14 9 14 5 16 1 25-1z"/>
<path fill="#00ffff" fill-rule="evenodd" d="M1238 401l-60 0-2-2-8 0-2-2-6 0-2-2-6 0-8-4-10-2-24-12-4-4-6-2-6-6-2 0-6-6-2 1-20-21 0-2-6-6 0-2-8-10-12-24 0-4-4-8 0-80 2-2 2-10 12-24 8-10 0-2 10-10 0-2 24-22 2 0 10-8 6-2 4-4 12-6 4 0 6-4 4 0 6-4 6 0 8-4 8 0 2-2 76 0 2 2 8 0 2 2 6 0 2 2 10 2 6 4 4 0 20 10 4 4 6 2 6 6 2 0 6 6 2 0 21 20 0 2 8 8 6 12 4 4 6 12 0 4 4 6 0 4 2 2 0 6 2 2-1 68-2 2-2 12-4 6 0 4-16 28-6 6 0 2-24 24-2 0-6 6-8 4-4 4-6 2-4 4-8 2-10 6-4 0-2 2-4 0-8 4-4 0-2 2-18 2-2 2zM1200 361l72-7 14-3 12-4 21-14 12-12 6-14-2-12-4-6-13-12-24-30-8-7-8-3-22 9-40 12-57 25-25 4-10 6-3 10 1 18 4 10 9 10 15 11 14 7 14 2 22 0z"/>
<path fill="#10ffef" fill-rule="evenodd" d="M1238 401l-60 0-2-2-8 0-2-2-6 0-2-2-6 0-8-4-10-2-24-12-4-4-6-2-6-6-2 0-6-6-2 0-20-20 0-2-6-6 0-2-8-10-12-24 0-4-4-8 0-80 2-2 2-10 12-24 8-10 0-2 10-10 0-2 24-22 2 0 10-8 6-2 4-4 12-6 4 0 6-4 4 0 6-4 6 0 8-4 8 0 2-2 76 0 2 2 8 0 2 2 6 0 2 2 10 2 6 4 4 0 20 10 4 4 6 2 6 6 2 0 6 6 2 0 21 20 0 2 8 8 6 12 4 4 6 12 0 4 4 6 0 4 2 2 0 6 2 2-1 68-2 2-2 12-4 6 0 4-16 28-6 6 0 2-24 24-2 0-6 6-8 4-4 4-6 2-4 4-8 2-10 6-4 0-2 2-4 0-8 4-4 0-2 2-18 2-2 2zM1218 361l54-6 22-5 12-6 16-11 9-8 7-10 4-14-4-11-18-18-28-33-8-7-4-1-6 2-19 10-37 11-60 27-30 5-6 3-3 4-1 14 4 21 8 11 14 12 14 8 14 3 16 1 30-2z"/>
<path fill="#20ffdf" fill-rule="evenodd" d="M1238 401l-60 0-2-2-8 0-2-2-6 0-2-2-6 0-8-4-10-2-24-12-4-4-6-2-6-6-2 0-6-6-2 0-20-20 0-2-6-6 0-2-8-10-12-24 0-4-4-8 0-80 2-2 2-10 12-24 8-10 0-2 10-10 0-2 24-22 2 0 10-8 6-2 4-4 12-6 4 0 6-4 4 0 6-4 6 0 8-4 8 0 2-2 76 0 2 2 8 0 2 2 6 0 2 2 10 2 6 4 4 0 20 10 4 4 6 2 6 6 2 0 6 6 2 0 21 20 0 2 8 8 6 12 4 4 6 12 0 4 4 6 0 4 2 2 0 6 2 2-1 68-2 2-2 12-4 6 0 4-16 28-6 6 0 2-24 24-2 0-6 6-8 4-4 4-6 2-4 4-8 2-10 6-4 0-2 2-4 0-8 4-4 0-2 2-18 2-2 2zM1207 363l63-6 22-5 14-6 17-11 10-8 8-10 6-16-1-8-2-5-24-22-32-37-6-2-8 1-21 11-37 13-56 25-34 6-6 3-3 3-2 12 5 26 6 10 10 11 14 9 15 6 15 2 27-2z"/>
<path fill="#30ffcf" fill-rule="evenodd" d="M1238 401l-60 0-2-2-8 0-2-2-6 0-2-2-6 0-8-4-10-2-24-12-4-4-6-2-6-6-2 0-6-6-2 0-20-20 0-2-6-6 0-2-8-10-12-24 0-4-4-8 0-80 2-2 2-10 12-24 8-10 0-2 10-10 0-2 24-22 2 0 10-8 6-2 4-4 12-6 4 0 6-4 4 0 6-4 6 0 8-4 8 0 2-2 76 0 2 2 8 0 2 2 6 0 2 2 10 2 6 4 4 0 20 10 4 4 6 2 6 6 2 0 6 6 2 0 21 20 0 2 8 8 6 12 4 4 6 12 0 4 4 6 0 4 2 2 0 6 2 2-1 68-2 2-2 12-4 6 0 4-16 28-6 6 0 2-24 24-2 0-6 6-8 4-4 4-6 2-4 4-8 2-10 6-4 0-2 2-4 0-8 4-4 0-2 2-18 2-2 2zM1198 365l78-8 16-3 14-6 23-15 14-14 9-18 1-8-2-6-6-8-19-14-16-15-18-23-6-4-6-1-10 2-20 12-34 12-56 26-36 6-10 5-2 8 5 32 5 10 8 10 16 12 14 7 16 2 22-1z"/>
<path fill="#40ffbf" fill-rule="evenodd" d="M1238 401l-60 0-2-2-8 0-2-2-6 0-2-2-6 0-8-4-10-2-24-12-4-4-6-2-6-6-2 0-6-6-2 0-20-20 0-2-6-6 0-2-8-10-12-24 0-4-4-8 0-80 2-2 2-10 12-24 8-10 0-2 10-10 0-2 24-22 2 0 10-8 6-2 4-4 12-6 4 0 6-4 4 0 6-4 6 0 8-4 8 0 2-2 76 0 2 2 8 0 2 2 6 0 2 2 10 2 6 4 4 0 20 10 4 4 6 2 6 6 2 0 6 6 2 0 21 20 0 2 8 8 6 12 4 4 6 12 0 4 4 6 0 4 2 2 0 6 1 2 0 68-2 2-2 12-4 6 0 4-4 5-14-5 0-14-6-10-40-30-18-23-6-4-8-2-14 3-21 12-31 13-24 13-28 12-12 3-28 3-6 2-6 4-2 4 1 6 6 32 4 10 8 10 12 10 11 7 12 4 24 1 94-9 14-3 14-6 34-22 12 7 0 3-24 24-2 0-6 6-8 4-4 4-6 2-4 4-8 2-10 6-4 0-2 2-4 0-8 4-4 0-2 2-18 2-2 2z"/>
<path fill="#50ffaf" fill-rule="evenodd" d="M1238 401l-60 0-2-2-8 0-2-2-6 0-2-2-6 0-8-4-10-2-24-12-4-4-6-2-6-6-2 0-6-6-2 0-20-20 0-2-6-6 0-2-8-10-12-24 0-4-4-8 0-80 2-2 2-10 12-24 8-10 0-2 10-10 0-2 24-22 2 0 10-8 6-2 4-4 12-6 4 0 6-4 4 0 6-4 6 0 8-4 8 0 2-2 76 0 2 2 8 0 2 2 6 0 2 2 10 2 6 4 4 0 20 10 4 4 6 2 6 6 2 0 6 6 2 0 21 20 0 2 8 8 6 12 4 4 6 12 0 4 4 6 0 4 2 2-1 6 2 2 0 68-2 2 0 6-2 2 0 3-16-4-5-9-6-6-39-28-18-23-8-5-8-1-8 0-8 3-22 13-50 25-28 12-14 4-32 4-6 2-5 4-2 4 0 6 9 36 3 8 8 10 11 10 12 8 10 4 10 2 14 0 98-9 23-7 27-14 2 0 11 8-13 14-2 0-6 6-8 4-4 4-6 2-4 4-8 2-10 6-4 0-2 2-4 0-8 4-4 0-2 2-18 2-2 2z"/>
<path fill="#60ff9f" fill-rule="evenodd" d="M1238 401l-60 0-2-2-8 0-2-2-6 0-2-2-6 0-8-4-10-2-24-12-4-4-6-2-6-6-2 0-6-6-2 0-20-20 0-2-6-6 0-2-8-10-12-24 0-4-4-8 0-80 2-2 2-10 12-24 8-10 0-2 10-10 0-2 24-22 2 0 10-8 6-2 4-4 12-6 4 0 6-4 4 0 6-4 6 0 8-4 8 0 2-2 76 0 2 2 8 0 2 2 6 0 2 2 10 2 6 4 4 0 20 10 4 4 6 2 6 6 2 0 6 6 2 0 20 20 0 2 9 8 6 12 4 4 6 12 0 4 4 6-1 4 2 2 0 6 2 4 0 66-2 2 0 3-16-4-12-13-36-24-22-26-8-4-10-2-16 4-27 16-57 30-26 8-36 5-8 3-4 4-2 4 0 6 13 46 7 10 11 10 11 8 12 6 10 2 12 0 98-9 22-5 26-11 10 9 0 2-4 4-2 0-6 6-2 0-4 4-12 6-8 6-4 0-10 6-4 0-2 2-16 4-2 2-18 2-2 2zM1145 161l11-12 8-22 2-14-2-4-4-2-6 1-4 5-8 21-3 21 2 6 4 0z"/>
<path fill="#70ff8f" fill-rule="evenodd" d="M1238 401l-60 0-2-2-8 0-2-2-6 0-2-2-6 0-8-4-10-2-24-12-4-4-6-2-6-6-2 0-6-6-2 0-20-20 0-2-6-6 0-2-8-10-12-24 0-4-4-8 0-80 2-2 2-10 8-16 4-8 8-10 0-2 10-10 2-4 22-20 8-4 4-4 6-2 4-4 19-8 7 14-6 26-1 22 5 8 7 0 7-6 8-10 14-28 3-16-5-22 74 0 2 2 8 0 2 2 6 0 2 2 10 2 6 4 4 0 20 10 4 4 6 2 6 6 2 0 6 6 2 0 28 30 17 28 0 4 5 12 0 6 2 2 0 65-16-3-14-12-32-20-26-29-8-4-10-2-10 2-10 4-30 19-46 25-30 10-40 6-8 3-4 4-1 10 8 22 4 20 3 8 8 10 10 10 11 8 11 5 10 3 12 0 98-10 20-3 22-8 10 10-4 5-2 0-4 4-12 6-8 6-4 0-10 6-4 0-2 2-16 4-2 2-18 2-2 2z"/>
<path fill="#80ff80" fill-rule="evenodd" d="M1238 401l-60 0-2-2-8 0-2-2-6 0-2-2-6 0-8-4-10-2-24-12-4-4-6-2-6-6-2 0-6-6-2 0-20-20 0-2-6-6 0-2-8-10-12-24 0-4-4-8 0-80 2-2 2-10 12-24 8-10 0-2 10-10 0-2 24-22 2 0 10-8 6-2 4-4 8-4 4 0 7 12-4 42 2 10 6 6 7 0 9-6 12-14 12-20 6-12 2-10 0-10-2-14 63 0 2 2 16 2 2 2 10 2 6 4 4 0 20 10 4 4 6 2 6 6 2 0 6 6 2 0 28 30 6 12 4 4 6 12 0 4 4 6 2 12 2 2 0 58-16-3-13-11-29-16-30-32-8-4-10-2-10 1-12 6-38 25-36 21-30 9-42 6-8 3-5 5-2 10 10 24 5 22 3 6 7 11 9 9 11 8 11 6 13 3 16 0 100-10 28-7 2 0 9 10-3 4-12 6-4 4-8 2-10 6-4 0-2 2-16 4-2 2-18 2-2 2z"/>
<path fill="#8fff70" fill-rule="evenodd" d="M1238 401l-60 0-2-2-8 0-2-2-6 0-2-2-6 0-8-4-10-2-24-12-4-4-6-2-6-6-2 0-6-6-2 0-20-20 0-2-6-6 0-2-8-10-12-24 0-4-4-8 0-80 2-2 2-10 12-24 8-10 0-2 10-10 0-2 24-22 2 0 4-4 12-6 8-6 10 14-3 28 2 18 3 7 6 4 8 0 10-6 13-15 15-20 7-12 4-12 2-12-2-12 53 0 2 2 16 2 2 2 10 2 6 4 4 0 20 10 4 4 6 2 6 6 2 0 6 6 2 0 28 30 16 28 0 4 6 12 0 6 2 2 0 52-14-1-14-11-22-12-12-10-24-26-12-7-10-1-8 1-12 6-43 31-29 17-32 10-46 7-8 3-5 5-2 4 1 6 11 26 6 22 3 8 16 19 20 14 12 4 16 0 32-5 72-6 22-4 2 0 8 10-2 4-6 2-4 4-8 2-10 6-4 0-2 2-16 4-2 2-18 2-2 2z"/>
<path fill="#9fff60" fill-rule="evenodd" d="M1238 401l-60 0-2-2-8 0-2-2-6 0-2-2-6 0-8-4-10-2-24-12-4-4-6-2-6-6-2 0-6-6-2 0-20-20 0-2-6-6 0-2-8-10-12-24 0-4-4-8 0-80 2-2 2-10 12-24 8-10 0-2 10-10 0-2 24-22 2 0 4-4 2 0 4-4 6-2 4-3 9 13-1 30 2 16 4 8 6 4 10 0 10-6 34-38 7-10 5-12 4-14 0-12 42 0 2 2 16 2 2 2 10 2 6 4 4 0 20 10 4 4 6 2 6 6 2 0 6 6 2 0 28 30 16 28 0 4 6 12 0 6 2 2 0 46-14-1-12-9-22-11-12-10-18-21-10-10-12-6-10-2-6 1-8 5-48 38-26 16-12 5-22 5-50 7-8 3-6 6-1 4 0 6 15 28 5 22 4 8 15 20 20 14 12 4 16 1 34-5 90-9 9 11-7 6-8 2-10 6-4 0-2 2-16 4-2 2-18 2-2 2z"/>
<path fill="#afff50" fill-rule="evenodd" d="M1238 401l-60 0-2-2-8 0-2-2-6 0-2-2-6 0-8-4-10-2-24-12-4-4-6-2-6-6-2 0-6-6-2 0-20-20 0-2-6-6 0-2-8-10-12-24 0-4-4-8 0-80 2-2 2-10 12-24 8-10 0-2 10-10 0-2 24-22 2 0 14-10 3 0 8 12 0 28 2 16 5 10 6 5 10 0 10-5 43-42 9-12 11-24 1-12 30 0 2 2 16 2 2 2 10 2 6 4 4 0 20 10 4 4 6 2 6 6 2 0 6 6 2 0 28 30 16 28 0 4 6 12 0 6 2 2 0 40-14 0-34-20-12-10-18-22-12-12-12-8-10-2-10 4-50 46-26 18-18 5-70 12-9 3-5 5-2 5 1 6 16 28 7 26 4 8 14 18 20 15 14 5 14 1 36-6 84-8 2 1 8 11-2 3-8 2-10 6-4 0-2 2-16 4-2 2-18 2-2 2z"/>
<path fill="#bfff40" fill-rule="evenodd" d="M1134 389l-24-12-4-4-6-2-6-6-2 0-6-6-2 0-20-20 0-2-6-6 0-2-8-10-12-24 0-4-4-8 0-80 2-2 2-10 12-24 8-10 0-2 10-10 0-2 12-12 2 0 10-10 8-4 4-4 3 0 9 12 2 36 4 16 4 5 6 3 6 0 8-2 12-8 54-48 17-26 2-14 15 0 2 2 16 2 2 2 10 2 6 4 4 0 20 10 4 4 6 2 6 6 2 0 6 6 2 0 20 20 0 2 8 8 6 12 4 4 6 12 0 4 4 6 2 12 2 2 0 35-14 0-34-19-12-11-40-48-12-8-6-2-4 1-11 22-9 12-31 32-19 14-10 5-12 4-77 11-9 4-6 6-1 6 2 6 19 28 8 28 4 9 14 18 18 13-6 14-2 0zM1238 401l-60 0-2-2-8 0-2-2-12-2 5-14 19 0 32-6 78-6 10 12-2 2-4 0-10 6-4 0-2 2-16 4-2 2-18 2-2 2z"/>
<path fill="#cfff30" fill-rule="evenodd" d="M1384 240l-14 0-26-14-10-7-14-16-38-56-14-11-22-9 0-16 5-22 5 0 2 2 6 0 2 2 10 2 6 4 4 0 20 10 4 4 6 2 6 6 2 0 6 6 2 0 20 20 0 2 8 8 6 12 4 4 6 12 0 4 4 6 2 12 2 2 0 31zM1124 383l-24-12-6-6-2 0-6-6-2 0-20-20 0-2-6-6 0-2-8-10-12-24 0-4-4-8 0-80 2-2 2-10 12-24 8-10 0-2 10-10 0-2 24-22 2 0 8-6 11 12 2 34 3 15 6 9 8 3 10-1 10-5 34-28 22-14 18-7 14-2 3 4 3 24 0 10-3 10-9 14-32 34-14 10-12 5-86 12-10 4-7 7-1 6 1 6 23 30 12 36 10 15 14 13-8 12zM1238 401l-60 0-2-2-8 0-2-2-2 0 4-14 42-6 74-6 9 12-11 6-4 0-2 2-16 4-2 2-18 2-2 2z"/>
<path fill="#dfff20" fill-rule="evenodd" d="M1384 235l-14 1-20-10-14-10-11-11-15-24-16-34-24-36-1-2 6-14 7 4 4 0 20 10 4 4 6 2 6 6 2 0 6 6 2 0 28 30 0 2 4 4 2 6 4 4 4 8 2 8 4 6 0 4 2 2 0 6 2 2 0 26zM1116 379l-16-8-6-6-2 0-6-6-2 0-20-20 0-2-6-6 0-2-8-10-12-24 0-4-4-8 0-80 2-2 2-10 12-24 8-10 0-2 22-24 2 0 16-14 2 0 10 12 5 44 5 12 6 5 10 1 12-4 38-30 12-6 12-5 10-1 9 4 6 8 3 10-2 12-6 12-25 30-18 14-19 6-82 10-10 4-6 6-3 8 2 8 25 30 5 10 7 25 8 13 11 12-9 12zM1238 401l-60 0-2-2-6 0 4-14 36-7 70-5 8 12-6 4-4 0-2 2-16 4-2 2-18 2-2 2z"/>
<path fill="#efff10" fill-rule="evenodd" d="M1378 231l-8 1-26-14-12-10-10-13-9-16-9-29-15-31 8-14 9 4 4 4 6 2 6 6 2 0 6 6 2 0 20 20 0 2 12 14 2 6 4 4 6 12 0 4 6 12 0 6 2 2 0 22-6 0zM1110 377l-4-4-6-2-14-12-2 0-20-20 0-2-6-6 0-2-8-10-12-24 0-4-4-8 0-80 2-2 2-10 12-24 8-10 0-2 22-24 2 0 10-10 4-2 11 12 6 46 5 12 6 5 10 1 12-4 38-29 20-9 10-1 8 3 6 6 3 10 0 8-3 8-21 28-9 10-14 9-16 5-82 7-12 4-8 8-3 9 2 10 4 6 15 13 9 11 5 10 7 26 14 20 0 2-9 12zM1238 401l-60 0-1-2 3-14 32-6 62-5 3 1 6 12-1 2-4 0-2 2-16 4-2 2-18 2-2 2z"/>
<path fill="#ffff00" fill-rule="evenodd" d="M1376 227l-8 0-24-12-11-10-10-14-7-16-6-26-7-22 0-2 9-12 4 2 6 6 2 0 6 6 2 0 20 20 0 2 8 8 6 12 4 4 6 12 0 4 4 6 2 12 2 2 0 17-8 1zM1104 373l-10-8-2 0-6-6-2 0-20-20 0-2-6-6 0-2-8-10-12-24 0-4-4-8 0-80 2-2 2-10 12-24 8-10 0-2 10-10 2-4 22-20 2 0 11 12 6 48 5 12 6 5 10 1 12-4 10-6 28-23 18-7 10-1 8 3 6 6 2 8-3 12-19 28-10 10-12 8-16 4-38 1-42 4-15 5-8 8-4 12 3 12 5 6 17 14 8 9 4 9 8 26 11 18-9 12-2 0zM1238 401l-56 0 3-14 25-6 60-5 3 1 6 12-9 4-4 0-2 2-4 0-2 2-18 2-2 2z"/>
<path fill="#ffef00" fill-rule="evenodd" d="M1374 223l-6 0-24-12-10-10-8-12-6-16-8-40 11-12 7 6 2 0 20 20 0 2 8 8 6 12 4 4 6 12 0 4 4 6 2 12 2 2 0 13-10 1zM1100 371l-6-6-2 0-6-6-2 0-20-20 0-2-6-6 0-2-8-10-12-24 0-4-4-8 0-80 2-2 2-10 12-24 8-10 0-2 10-10 2-4 20-18 12 12 8 54 4 10 6 5 10 1 12-5 12-8 24-20 18-9 10-1 8 3 4 4 3 8-4 12-16 26-11 10-10 6-16 4-40-2-36 4-18 6-6 4-5 6-3 12 3 14 4 6 19 14 9 10 5 10 6 24 8 14 0 3-10 11zM1238 401l-50 0 2-14 24-5 46-4 9 1 5 12-4 2-4 0-2 2-4 0-2 2-18 2-2 2z"/>
<path fill="#ffdf00" fill-rule="evenodd" d="M1098 367l-6-2-6-6-2 0-20-20 0-2-6-6 0-2-8-10-12-24 0-4-4-8 0-80 2-2 2-10 12-24 8-10 0-2 10-10 2-4 18-16 12 12 8 62 4 10 8 10 32-22 24-21 12-7 10-2 8 0 7 4 3 8-3 10-14 24-10 10-11 7-12 3-16-1-17-5-13-8-14 8-36 12-8 5-6 7-4 14 1 8 3 7 6 7 22 16 6 7 5 9 5 20 7 18-9 10zM1374 219l-6 1-22-12-10-9-7-12-5-16-4-32 12-12 20 20 0 2 8 8 16 28 0 4 6 12 0 6 2 2 0 9-10 1zM1238 401l-44 0 1-14 17-3 42-4 8-1 2 2 5 12-9 2-2 2-18 2-2 2z"/>
<path fill="#ffcf00" fill-rule="evenodd" d="M1094 365l-2 0-6-6-2 0-20-20 0-2-6-6 0-2-8-10-12-24 0-4-4-8 0-80 2-2 2-10 12-24 8-10 0-2 22-24 2 0 4-4 12 12 5 44 1 30-3 6-4 4-29 13-10 7-7 12-2 14 2 8 6 8 25 18 10 13 7 25 5 12 0 2-10 10zM1372 215l-6 0-20-10-9-10-5-10-4-16-2-24 12-12 22 24 16 28 0 4 6 12 2 12-12 2zM1172 230l-12 1-14-4-7-6-1-6 6-8 36-31 14-5 6-1 6 2 5 5 0 8-11 22-12 14-16 9zM1238 401l-37 0 0-12 2-2 9-2 44-4 6 14-4 2-8 0-2 2-8 0-2 2z"/>
<path fill="#ffbf00" fill-rule="evenodd" d="M1044 257l-10 1 0-55 2-2 2-10 8-16 4-8 8-10 0-2 22-24 4-1 10 9 3 8 4 38-2 24-3 6-6 6-32 18-7 8-5 10-2 0zM1370 211l-4 1-18-10-7-7-6-10-3-16 0-20 12-10 8 8 0 2 12 14 16 32 0 4 2 2 0 8-12 2zM1172 227l-10 2-11-4-6-6 2-8 20-22 11-9 14-6 10 1 4 4 2 6-10 20-12 14-14 8zM1090 363l-4-4-2 0-18-18-8-10 0-2-8-10-12-24 0-4-2-3 16-4 8 7 18 11 10 9 5 10 9 30-1 2-11 10zM1238 401l-29 0 0-12 3-2 6-1 20-2 9 1 3 12-2 2-8 0-2 2z"/>
<path fill="#ffaf00" fill-rule="evenodd" d="M1046 249l-12 1 0-47 2-2 2-10 12-24 8-10 0-2 10-10 0-2 13-12 11 10 2 4 4 34-2 24-3 8-5 6-30 18-7 6-5 8zM1368 207l-8-2-12-7-6-7-4-8-2-12 0-16 13-10 11 12 6 12 4 4 6 12 0 4 4 6 0 4 2 2 0 3-14 3zM1168 226l-8-1-7-4-2-6 3-6 15-18 9-8 12-5 10 1 3 4 0 4-9 20-12 12-14 7zM1088 361l-4-2-18-18-8-10 0-2-8-10-12-26 16-4 22 13 10 9 6 10 7 28 0 2-11 10z"/>
<path fill="#ff9f00" fill-rule="evenodd" d="M1046 243l-12 0 0-40 2-2 2-10 12-24 8-10 0-2 10-10 0-2 11-10 13 12 4 32-2 22-4 9-6 7-28 18-10 10zM1372 201l-8 2-8-4-8-6-5-8-2-10 0-14 1-2 12-8 6 6 6 12 4 4 6 12 0 4 4 6 0 4-8 2zM1170 222l-6 1-6-4-1-6 3-6 10-14 8-7 10-4 8 0 3 3 0 4-7 15-10 11-12 7zM1086 359l-2 0-18-18-8-10 0-2-8-10-10-20 0-2 16-5 20 12 10 9 5 10 6 26-11 10z"/>
<path fill="#ff8f00" fill-rule="evenodd" d="M1046 238l-12 0 0-35 2-2 2-10 12-24 8-10 0-2 18-20 14 12 4 28-2 20-4 9-6 8-26 17-10 9zM1364 198l-6-2-8-6-3-7-2-8 1-10 14-8 6 12 4 4 6 12 0 4 2 2 0 2-14 5zM1172 216l-6 0-2-3 2-6 6-11 5-5 7-4 6-1 4 1 0 6-6 11-8 8-8 4zM1084 357l-2 0-18-18 0-2-6-6 0-2-8-10-8-16 0-4 14-4 2 0 18 10 10 10 4 9 5 23-11 10z"/>
<path fill="#ff8000" fill-rule="evenodd" d="M1046 234l-12-1 0-30 2-2 2-10 12-24 8-10 0-2 16-18 14 12 4 26-2 18-4 9-6 7-34 25zM1360 191l-7-6-2-10 0-2 13-6 2 0 0 2 4 4 6 13-16 5zM1178 205l-2 0-1-2 2-6 5-4 4 0 1 2-1 4-4 4-4 2zM1082 356l-2-1-16-16 0-2-6-6 0-2-8-10-8-17 16-5 16 9 10 8 5 9 4 22-11 11z"/>
<path fill="#ff7000" fill-rule="evenodd" d="M1046 230l-12-1 0-26 2-2 2-10 12-24 8-10 0-2 14-16 14 12 3 22-1 18-4 8-6 8-32 23zM1080 354l-16-15 0-2-6-6 0-2-8-10-6-14 16-5 16 9 8 7 4 9 4 18-12 11z"/>
<path fill="#ff6000" fill-rule="evenodd" d="M1048 225l-14-1 0-21 2-2 2-10 12-24 8-10 0-2 12-13 14 11 3 20-1 16-4 8-6 8-28 20zM1078 352l-14-13 0-2-6-6 0-2-8-10-5-12 15-5 14 7 9 8 4 8 3 16-12 11z"/>
<path fill="#ff5000" fill-rule="evenodd" d="M1048 222l-14-2 0-17 2-2 2-10 12-24 8-10 0-2 10-11 14 11 3 18-1 14-4 9-6 7-26 19zM1076 351l-12-12 0-2-6-6 0-2-8-10-4-9 16-6 12 6 8 8 4 7 2 15-12 11z"/>
<path fill="#ff4000" fill-rule="evenodd" d="M1048 218l-14-2 0-13 2-2 2-10 12-24 8-10 0-2 9-8 13 10 3 16-1 12-3 8-5 6-26 19zM1074 349l-16-18 0-2-8-10-2-7 14-6 12 6 8 7 3 8 2 12-13 10z"/>
<path fill="#ff3000" fill-rule="evenodd" d="M1050 214l-16-3 0-8 2-2 2-10 12-24 8-10 0-2 6-6 14 10 3 14-1 10-3 8-5 7-22 16zM1072 347l-14-16 0-2-4-4-6-11 16-6 10 6 6 5 3 6 2 12-13 10z"/>
<path fill="#ff2000" fill-rule="evenodd" d="M1050 210l-16-3 0-4 2-2 2-10 12-24 12-16 14 10 2 12 0 10-3 8-5 5-20 14zM1070 345l-6-6 0-2-6-6 0-2-8-10 0-2 14-7 14 9 5 10 1 6-2 2-12 8z"/>
<path fill="#ff1000" fill-rule="evenodd" d="M1052 206l-16-3 0-6 14-30 8-10 0-2 2-1 14 9 2 18-2 6-4 6-18 13zM1068 343l-10-12-6-12 14-7 13 9 3 12-14 10z"/>
<path fill="#ff0000" fill-rule="evenodd" d="M1054 201l-2 1-16-5 14-30 8-10 14 8 2 14-2 6-4 6-14 10zM1066 341l-12-16 0-4 14-6 10 8 2 8-14 10z"/>
<path fill="#ef0000" fill-rule="evenodd" d="M1054 198l-16-5 0-2 12-24 4-4 0-2 2-1 14 9 1 10-4 10-13 9zM1064 339l0-2-6-6-3-6 15-7 6 5 2 6-14 10z"/>
<path fill="#df0000" fill-rule="evenodd" d="M1056 194l-16-5 10-22 4-3 14 7 0 4-1 10-11 9zM1064 334l-2 1-4-5 14-8 3 5-11 7z"/>
<path fill="#cf0000" fill-rule="evenodd" d="M1058 189l-16-5 8-16 14 7 1 2-1 6-6 6z"/>
</g><g transform="scale(.5)" fill="none" stroke-width="1.9">
<path stroke="#4a4a10" d="M1217 335l35-11 18 1 8-2 8-6 1-6-3-2-6-2-14 3-8 1-26-8-16-1-22 4-9 3-6 4 0 4 2 4 12 10 13 5z"/>
<path stroke="#4a4208" d="M1225 341l49-8 10-3 7-5 6-6 3-6-1-6-7-7-12-5-52-3-40 5-20 6-9 6-1 4 3 6 13 12 9 6 19 5z"/>
<path stroke="#4a3108" d="M1225 347l47-7 16-5 10-7 8-9 3-8-2-8-9-9-14-11-8-3-8-1-40 3-38 7-32 11-6 4-4 5 0 8 3 6 25 20 10 3 12 2z"/>
<path stroke="#4a2108" d="M1220 353l48-6 16-4 16-8 15-14 4-10-3-10-13-14-19-24-6-2-8 1-78 19-44 16-10 8-3 10 4 10 7 8 18 13 10 4 12 3z"/>
<path stroke="#4a1008" d="M1204 359l68-7 24-7 20-14 10-10 5-12 0-6-2-6-15-16-18-26-10-8-8-2-60 17-36 13-22 11-24 5-8 5-4 11 2 14 4 10 10 10 15 10 13 6 16 2z"/>
<path stroke="#420810" d="M1193 365l81-8 16-3 14-6 24-15 14-14 5-8 4-10 0-8-2-6-5-6-18-15-18-17-16-20-6-4-6-2-10 2-20 12-34 12-56 26-34 5-10 5-3 8 4 30 4 10 7 9 16 13 14 8 14 2z"/>
<path stroke="#310821" d="M1129 87l12 24-5 24-2 20 2 11 6 3 7-4 9-10 15-30 2-16-5-22M1384 275l-16-3-14-12-32-20-26-29-8-4-10-2-8 1-10 4-76 44-30 10-44 7-8 5-3 7 1 8 8 20 3 18 4 8 15 18 11 8 11 6 10 3 14 1 98-10 21-4 22-8 51 50"/>
<path stroke="#210831" d="M1093 87l26 36 1 36 3 14 7 8 8 1 8-1 10-7 42-43 7-10 10-22 0-12M1384 250l-14-1-34-20-12-10-18-22-12-12-12-8-10-2-10 5-50 45-24 17-20 7-70 11-8 3-7 6-1 4 1 6 17 30 6 24 4 8 14 18 18 14 14 5 16 2 36-6 84-8 3 1 23 34"/>
<path stroke="#0c0846" d="M1067 87l40 44 6 46 5 12 6 6 10 1 12-5 38-29 20-8 10-1 8 3 6 7 3 8-1 8-3 8-20 28-10 10-13 9-16 5-82 7-12 4-8 7-3 10 1 10 4 6 16 14 9 10 5 10 7 26 14 20-28 38M1384 230l-14 1-27-14-13-12-13-20-5-12-8-25-13-29 21-32M1177 401l3-14 2-2 30-6 62-5 3 1 13 26"/>
<path stroke="#08144a" d="M1042 87l55 52 6 40 0 28-1 8-6 7-30 14-9 7-7 12-2 13-14 2M1384 212l-18 2-16-8-10-8-6-9-4-10-3-32 1-3 56-46M1170 230l-12 0-12-4-5-5-1-4 1-4 26-26 13-10 14-6 12 2 4 6 0 6-12 24-12 13zM1034 278l16-3 2 4 6 8 20 13 8 7 7 12 5 21 6 13-45 48M1203 401l0-12 2-2 43-5 7 1 6 18"/>
<path stroke="#08254a" d="M1034 102l54 44 4 17 1 16-3 18-4 8-5 6-25 17-10 9-12-1M1384 189l-22 7-2-1-10-8-3-16 1-3 36-20M1176 212l-4 1-4-2 0-4 4-8 8-9 10-2 2 4-3 9-6 6zM1034 303l22-7 20 10 8 7 4 6 7 26-1 2-60 54"/>
<path stroke="#08354a" d="M1034 122l46 32 4 23-4 16-10 12-22 15-14-2M1034 316l28-11 12 6 8 8 3 6 3 14-54 44"/>
<path stroke="#08464a" d="M1034 142l38 22 3 13-2 8-3 5-16 13-2 1-18-5M1034 330l32-16 11 7 4 10-1 3-46 32"/>
</g>
</g>
<ellipse cx="604.2" cy="121.7" rx="74.45" ry="66.15" fill="none" stroke="#000" stroke-width="1.05"/>
<polyline points="617.9,56.0 607.2,45.8 601.3,45.8 590.6,56.0" fill="none" stroke="#000" stroke-width="1"/>
<polyline points="677.5,109.0 680.2,106.1 681.4,106.0 683.2,106.5 684.9,109.0 684.7,122.4 685.7,134.0 683.5,139.0 680.2,140.0 676.3,137.5" fill="none" stroke="#000" stroke-width="1"/>
<polyline points="531.0,109.0 528.3,106.1 527.1,106.0 525.3,106.5 523.6,109.0 523.8,122.4 522.8,134.0 525.0,139.0 528.3,140.0 532.2,137.5" fill="none" stroke="#000" stroke-width="1"/>
<clipPath id="cSA"><ellipse cx="790.6" cy="122" rx="76.08" ry="71.72"/></clipPath>
<ellipse cx="790.6" cy="122" rx="81.32" ry="76.66" fill="#edf5ff"/>
<g clip-path="url(#cSA)"><g transform="scale(.5)">
<rect x="1417" y="88" width="328" height="310" fill="#00009f"/>
<path fill="#0000af" fill-rule="evenodd" d="M1611 401l-60 0-2-2-8 0-2-2-6 0-8-4-4 0-6-4-4 0-20-10-4-4-8-4-6-6-2 0-25-24 0-2-6-6-6-12-4-4-6-12 0-4-4-6-2-12-2-2 0-74 4-8 2-10 12-24 8-10 0-2 8-8 0-2 15-15 2 0 16-14 30-16 4 0 12-6 14-2 2-2 72 0 2 2 6 0 2 2 12 2 6 4 4 0 24 12 10 8 2 0 8 8 2 0 19 19 0 2 12 14 16 32 2 12 2 2 0 6 2 2 0 58-2 2 0 8-4 8-1 4-2 2 0 4-10 20-8 10-4 8-28 28-8 4-10 8-24 12-4 0-2 2-10 2-2 2-6 0-2 2-8 0-2 2zM1630 315l2-2-1-2-4-1-9 3-1 2 13 0z"/>
<path fill="#0000bf" fill-rule="evenodd" d="M1611 401l-60 0-2-2-8 0-2-2-6 0-8-4-4 0-6-4-4 0-20-10-4-4-8-4-6-6-2 0-25-24 0-2-6-6-6-12-4-4-6-12 0-4-4-6-2-12-2-2 0-74 4-8 2-10 12-24 8-10 0-2 8-8 0-2 15-15 2 0 16-14 30-16 4 0 12-6 14-2 2-2 72 0 2 2 6 0 2 2 12 2 6 4 4 0 24 12 10 8 2 0 8 8 2 0 19 19 0 2 12 14 16 32 2 12 2 2 0 6 2 2 0 58-2 2 0 8-5 8 0 4-2 2 0 4-10 20-8 10-4 8-28 28-8 4-10 8-24 12-4 0-2 2-10 2-2 2-6 0-2 2-8 0-2 2zM1634 321l15-6 2-4-1-2-9-4-16-1-24 4-4 2-2 3 2 6 8 3 29-1z"/>
<path fill="#0000cf" fill-rule="evenodd" d="M1611 401l-60 0-2-2-8 0-2-2-6 0-8-4-4 0-6-4-4 0-20-10-4-4-8-4-6-6-2 0-25-24 0-2-6-6-6-12-4-4-6-12 0-4-4-6-2-12-2-2 0-74 4-8 2-10 12-24 8-10 0-2 8-8 0-2 15-15 2 0 16-14 30-16 4 0 12-6 14-2 2-2 72 0 2 2 6 0 2 2 12 2 6 4 4 0 24 12 10 8 2 0 8 8 2 0 19 19 0 2 12 14 16 32 2 12 2 2 0 6 2 2 0 58-2 2-1 8-4 8 0 4-2 2 0 4-10 20-8 10-4 8-28 28-8 4-10 8-24 12-4 0-2 2-10 2-2 2-6 0-2 2-8 0-2 2zM1635 325l12-3 8-5 4-4-2-6-5-4-7-3-22 0-24 5-6 3-2 5 2 8 8 4 12 1 22-1z"/>
<path fill="#0000df" fill-rule="evenodd" d="M1611 401l-60 0-2-2-8 0-2-2-6 0-8-4-4 0-6-4-4 0-20-10-4-4-8-4-6-6-2 0-25-24 0-2-6-6-6-12-4-4-6-12 0-4-4-6-2-12-2-2 0-74 4-8 2-10 12-24 8-10 0-2 8-8 0-2 15-15 2 0 16-14 30-16 4 0 12-6 14-2 2-2 72 0 2 2 6 0 2 2 12 2 6 4 4 0 24 12 10 8 2 0 8 8 2 0 19 19 0 2 12 14 16 32 2 12 2 2 0 6 2 2-1 58-2 2 0 8-4 8 0 4-2 2 0 4-10 20-8 10-4 8-28 28-8 4-10 8-24 12-4 0-2 2-10 2-2 2-6 0-2 2-8 0-2 2zM1626 329l19-3 12-5 4-4 2-4-2-8-10-8-14-1-34 4-8 3-6 6-1 4 0 6 2 4 5 3 12 3 19 0z"/>
<path fill="#0000ef" fill-rule="evenodd" d="M1611 401l-60 0-2-2-8 0-2-2-6 0-8-4-4 0-6-4-4 0-20-10-4-4-8-4-6-6-2 0-25-24 0-2-6-6-6-12-4-4-6-12 0-4-4-6-2-12-2-2 0-74 4-8 2-10 12-24 8-10 0-2 8-8 0-2 15-15 2 0 16-14 30-16 4 0 12-6 14-2 2-2 72 0 2 2 6 0 2 2 12 2 6 4 4 0 24 12 10 8 2 0 8 8 2 0 19 19 0 2 12 14 16 32 2 12 2 2 0 6 2 2-1 58-2 2 0 8-4 8 0 4-2 2 0 4-10 20-8 10-4 8-28 28-8 4-10 8-24 12-4 0-2 2-10 2-2 2-6 0-2 2-8 0-2 2zM1636 331l19-5 6-3 5-6 1-6-1-6-11-10-14-4-30 4-18 6-8 10-1 6 2 6 4 4 5 3 14 2 27-1z"/>
<path fill="#0000ff" fill-rule="evenodd" d="M1611 401l-60 0-2-2-8 0-2-2-6 0-8-4-4 0-6-4-4 0-20-10-4-4-8-4-6-6-2 0-25-24 0-2-6-6-6-12-4-4-6-12 0-4-4-6-2-12-2-2 0-74 4-8 2-10 12-24 8-10 0-2 8-8 0-2 15-15 2 0 16-14 30-16 4 0 12-6 14-2 2-2 72 0 2 2 6 0 2 2 12 2 6 4 4 0 24 12 10 8 2 0 8 8 2 0 19 19 0 2 12 14 16 32 2 12 2 2 0 6 2 2-1 58-2 2 0 8-4 8 0 4-2 2 0 4-10 20-8 10-4 8-28 28-8 4-10 8-24 12-4 0-2 2-10 2-2 2-6 0-2 2-8 0-2 2zM1642 219l3-6 1-6-3-5-4-2-6 5-1 8 5 7 5-1zM1642 333l11-3 8-3 7-6 3-6 0-6-4-8-8-8-8-4-12-2-32 6-16 7-5 5-4 6 0 6 1 6 4 5 6 4 16 3 33-2z"/>
<path fill="#0010ff" fill-rule="evenodd" d="M1611 401l-60 0-2-2-8 0-2-2-6 0-8-4-4 0-6-4-4 0-20-10-4-4-8-4-6-6-2 0-25-24 0-2-6-6-6-12-4-4-6-12 0-4-4-6-2-12-2-2 0-74 4-8 2-10 12-24 8-10 0-2 8-8 0-2 15-15 2 0 16-14 30-16 4 0 12-6 14-2 2-2 72 0 2 2 6 0 2 2 12 2 6 4 4 0 24 12 10 8 2 0 8 8 2 0 19 19 0 2 12 14 16 32 2 12 2 2 0 6 2 2-1 58-2 2 0 8-4 8 0 4-2 2 0 4-10 20-8 10-4 8-28 28-8 4-10 8-24 12-4 0-2 2-10 2-2 2-6 0-2 2-8 0-2 2zM1641 231l6-9 3-15-5-10-6-3-5 3-4 4-3 12 2 8 4 8 4 3 4-1zM1620 337l29-3 16-6 6-6 4-7 0-6-4-8-14-14-8-4-6-1-34 7-14 6-8 6-5 6-3 8 1 8 3 6 6 4 8 2 23 2z"/>
<path fill="#0020ff" fill-rule="evenodd" d="M1611 401l-60 0-2-2-8 0-2-2-6 0-8-4-4 0-6-4-4 0-20-10-4-4-8-4-6-6-2 0-25-24 0-2-6-6-6-12-4-4-6-12 0-4-4-6-2-12-2-2 0-74 4-8 2-10 12-24 8-10 0-2 8-8 0-2 15-15 2 0 16-14 30-16 4 0 12-6 14-2 2-2 72 0 2 2 6 0 2 2 12 2 6 4 4 0 24 12 10 8 2 0 8 8 2 0 19 19 0 2 12 14 16 32 1 12 2 2 0 6 2 2 0 58-2 2 0 8-4 8 0 4-2 2 0 4-10 20-8 10-4 8-28 28-8 4-10 8-24 12-4 0-2 2-10 2-2 2-6 0-2 2-8 0-2 2zM1640 245l5-6 4-9 4-21-1-6-4-6-5-5-4-2-6 2-4 5-4 8-1 8 1 10 4 14 4 6 4 2 3 0zM1624 339l23-2 14-4 11-6 6-10 0-10-4-8-15-15-12-8-10-1-40 16-14 10-6 10 0 12 3 6 5 4 16 5 23 1z"/>
<path fill="#0030ff" fill-rule="evenodd" d="M1611 401l-60 0-2-2-8 0-2-2-6 0-8-4-4 0-6-4-4 0-20-10-4-4-8-4-6-6-2 0-25-24 0-2-6-6-6-12-4-4-6-12 0-4-4-6-2-12-2-2 0-74 4-8 2-10 12-24 8-10 0-2 8-8 0-2 15-15 2 0 16-14 30-16 4 0 12-6 14-2 2-2 72 0 2 2 6 0 2 2 12 2 6 4 4 0 24 12 10 8 2 0 8 8 2 0 19 19 0 2 12 14 15 32 2 12 2 2 0 6 2 2 0 58-2 2 0 8-4 8 0 4-2 2 0 4-10 20-8 10-4 8-28 28-8 4-10 8-24 12-4 0-2 2-10 2-2 2-6 0-2 2-8 0-2 2zM1628 341l23-2 16-5 11-9 5-12-1-6-3-6-26-30-5-8 0-8 6-30 1-18-6-14-5-4-5-2-6 2-5 4-4 6-2 8 0 22 7 32-2 8-8 8-24 12-12 9-7 9-2 10 3 12 4 4 6 4 16 4 25 0z"/>
<path fill="#0040ff" fill-rule="evenodd" d="M1611 401l-60 0-2-2-8 0-2-2-6 0-8-4-4 0-6-4-4 0-20-10-4-4-8-4-6-6-2 0-25-24 0-2-6-6-6-12-4-4-6-12 0-4-4-6-2-12-2-2 0-74 4-8 2-10 12-24 8-10 0-2 8-8 0-2 15-15 2 0 16-14 30-16 4 0 12-6 14-2 2-2 72 0 2 2 6 0 2 2 12 2 6 4 4 0 24 12 10 8 2 0 8 8 2 0 19 19 0 2 12 14 15 32 2 12 2 2 0 6 2 2 0 58-2 2 0 8-4 8 0 4-2 2 0 4-10 20-8 10-4 8-28 28-8 4-10 8-24 12-4 0-2 2-10 2-2 2-6 0-2 2-8 0-2 2zM1632 343l23-3 16-5 12-10 4-12-3-12-18-22-8-14-2-12 0-48-7-15-4-4-6-2-6 2-6 4-4 7-3 8-2 16 3 36-2 10-7 8-33 24-5 8-3 10 1 8 3 5 4 5 7 4 17 4 29 0z"/>
<path fill="#0050ff" fill-rule="evenodd" d="M1611 401l-60 0-2-2-8 0-2-2-6 0-8-4-4 0-6-4-4 0-20-10-4-4-8-4-6-6-2 0-25-24 0-2-6-6-6-12-4-4-6-12 0-4-4-6-2-12-2-2 0-74 4-8 2-10 12-24 8-10 0-2 8-8 0-2 15-15 2 0 16-14 30-16 4 0 12-6 14-2 2-2 72 0 2 2 6 0 2 2 12 2 6 4 4 0 24 12 10 8 2 0 8 8 2 0 19 19 0 2 11 14 16 32 2 12 2 2 0 6 2 2 0 58-2 2 0 8-4 8 0 4-2 2 0 4-10 20-8 10-4 8-28 28-8 4-10 8-24 12-4 0-2 2-10 2-2 2-6 0-2 2-8 0-2 2zM1634 345l23-2 17-6 12-10 3-6 2-8-3-12-16-20-9-18-2-12-2-42-3-10-7-12-4-3-6-2-6 1-6 4-5 6-4 8-2 16 0 38-4 12-6 8-30 24-5 8-2 10 1 8 3 6 5 6 7 4 18 4 31 0z"/>
<path fill="#0060ff" fill-rule="evenodd" d="M1611 401l-60 0-2-2-8 0-2-2-6 0-8-4-4 0-6-4-4 0-20-10-4-4-8-4-6-6-2 0-25-24 0-2-6-6-6-12-4-4-6-12 0-4-4-6-2-12-2-2 0-74 4-8 2-10 12-24 8-10 0-2 8-8 0-2 15-15 2 0 16-14 30-16 4 0 12-6 14-2 2-2 72 0 2 2 6 0 2 2 12 2 6 4 4 0 24 12 10 8 2 0 8 8 2 0 18 19 0 2 12 14 16 32 2 12 2 2 0 6 2 2 0 58-2 2 0 8-4 8 0 4-2 2 0 4-10 20-8 10-4 8-28 28-8 4-10 8-24 12-4 0-2 2-10 2-2 2-6 0-2 2-8 0-2 2zM1635 347l24-2 18-7 8-5 5-6 3-6 2-8-3-12-15-20-9-18-3-14-5-42-4-12-7-11-10-4-6 1-6 4-6 6-4 8-3 14-2 40-4 12-8 10-27 24-4 8-3 10 1 8 4 7 6 7 6 3 20 4 32 1z"/>
<path fill="#0070ff" fill-rule="evenodd" d="M1611 401l-60 0-2-2-8 0-2-2-6 0-8-4-4 0-6-4-4 0-20-10-4-4-8-4-6-6-2 0-25-24 0-2-6-6-6-12-4-4-6-12 0-4-4-6-2-12-2-2 0-74 4-8 2-10 12-24 8-10 0-2 8-8 0-2 15-15 2 0 16-14 30-16 4 0 12-6 14-2 2-2 72 0 2 2 6 0 2 2 12 2 6 4 4 0 24 12 10 8 2 0 8 8 2 0 18 19 0 2 12 14 16 32 2 12 2 2 0 6 2 2 0 58-2 2 0 8-4 8 0 4-2 2 0 4-10 20-8 10-4 8-28 28-8 4-10 8-24 12-4 0-2 2-10 2-2 2-6 0-2 2-8 0-2 2zM1634 349l27-2 18-6 9-6 6-6 4-8 1-8-3-14-16-20-7-16-12-58-4-13-8-11-10-3-12 4-9 11-5 14-4 40-4 14-8 12-26 26-5 8-2 10 1 8 3 8 6 6 7 4 20 5 33 1z"/>
<path fill="#0080ff" fill-rule="evenodd" d="M1611 401l-60 0-2-2-8 0-2-2-6 0-8-4-4 0-6-4-4 0-20-10-4-4-8-4-6-6-2 0-25-24 0-2-6-6-6-12-4-4-6-12 0-4-4-6-2-12-2-2 0-74 4-8 2-10 12-24 8-10 0-2 8-8 0-2 15-15 2 0 16-14 30-16 4 0 12-6 14-2 2-2 72 0 2 2 6 0 2 2 12 2 6 4 4 0 24 12 10 8 2 0 8 8 2 0 18 19 0 2 12 14 16 32 2 12 2 2 0 6 2 2 0 58-2 2 0 8-4 8 0 4-2 2 0 4-10 20-8 10-4 8-28 28-8 4-10 8-24 12-4 0-2 2-10 2-2 2-6 0-2 2-8 0-2 2zM1664 349l18-6 13-10 7-12 1-14-4-10-15-20-7-14-20-75-9-9-7-3-6 0-12 6-8 11-4 14-5 38-4 14-7 12-23 22-6 8-4 10 0 12 3 8 5 8 9 5 10 4 26 3 32-1 17-1z"/>
<path fill="#008fff" fill-rule="evenodd" d="M1611 401l-60 0-2-2-8 0-2-2-6 0-8-4-4 0-6-4-4 0-20-10-4-4-8-4-6-6-2 0-25-24 0-2-6-6-6-12-4-4-6-12 0-4-4-6-2-12-1-2-1-74 4-8 2-10 12-24 8-10 0-2 8-8 0-2 15-15 2 0 16-14 30-16 4 0 12-6 14-2 2-2 72 0 2 2 6 0 2 2 12 2 6 4 4 0 24 12 10 8 2 0 8 8 2 0 18 19 0 2 12 14 16 32 2 12 2 2 0 6 2 2 0 58-2 2 0 8-4 8 0 4-2 2 0 4-10 20-8 10-4 8-28 28-8 4-10 8-24 12-4 0-2 2-10 2-2 2-6 0-2 2-8 0-2 2zM1666 351l19-6 13-10 8-14 1-14-5-12-14-20-8-14-22-74-9-10-6-2-8-1-12 6-9 11-4 14-6 36-5 16-8 14-26 28-5 12 0 12 3 10 6 7 8 6 10 3 28 3 34 0 17-1z"/>
<path fill="#009fff" fill-rule="evenodd" d="M1611 401l-60 0-2-2-8 0-2-2-6 0-8-4-4 0-6-4-4 0-20-10-4-4-8-4-6-6-2 0-25-24 0-2-6-6-6-12-4-4-6-12 0-4-4-6-1-12-2-2-1-74 4-8 2-10 12-24 8-10 0-2 8-8 0-2 15-15 2 0 16-14 30-16 4 0 12-6 14-2 2-2 72 0 2 2 6 0 2 2 12 2 6 4 4 0 24 12 10 8 2 0 8 8 2 0 18 19 0 2 12 14 16 32 2 12 2 2 0 6 2 2 0 58-2 2 0 8-4 8 0 4-2 2 0 4-10 20-4 4 0 2-2 0-12-8 0-10-2-8-25-42-15-41-8-28-4-8-8-7-12-3-12 4-9 9-7 16-8 40-5 16-9 14-22 23-6 11-2 14 3 14 6 8 7 5 20 6 18 2 44 0 16-2 16-5 11 10-9 10-8 4-10 8-24 12-4 0-2 2-10 2-2 2-6 0-2 2-8 0-2 2z"/>
<path fill="#00afff" fill-rule="evenodd" d="M1611 401l-60 0-2-2-8 0-2-2-6 0-8-4-4 0-6-4-4 0-20-10-4-4-8-4-6-6-2 0-25-24 0-2-6-6-6-12-4-4-6-12 0-4-3-6-2-12-2-2-1-74 4-8 2-10 12-24 8-10 0-2 8-8 0-2 15-15 2 0 16-14 30-16 4 0 12-6 14-2 2-2 72 0 2 2 6 0 2 2 12 2 6 4 4 0 24 12 10 8 2 0 8 8 2 0 18 19 0 2 12 14 16 32 2 12 2 2 0 6 2 2 0 58-2 2 0 8-4 8 0 4-2 2 0 4-10 17-13-7-7-18-20-32-19-44-8-30-5-8-8-6-12-2-12 3-10 9-7 14-9 41-6 17-9 14-21 24-7 12-2 12 3 14 4 8 6 6 8 4 10 4 20 2 44 1 16 0 16-4 10 13-20 14-24 12-4 0-2 2-10 2-2 2-6 0-2 2-8 0-2 2z"/>
<path fill="#00bfff" fill-rule="evenodd" d="M1611 401l-60 0-2-2-8 0-2-2-6 0-8-4-4 0-6-4-4 0-20-10-4-4-8-4-6-6-2 0-25-24 0-2-6-6-6-12-4-4-6-12 0-4-3-6-2-12-2-2-1-74 4-8 2-10 12-24 8-10 0-2 8-8 0-2 15-15 2 0 16-14 30-16 4 0 12-6 14-2 2-2 72 0 2 2 6 0 2 2 12 2 6 4 4 0 24 12 10 8 2 0 8 8 2 0 18 19 0 2 12 14 16 32 2 12 2 2 0 6 2 2 0 58-2 2 0 8-4 8 0 4-2 2 0 4-6 11-14-7-6-14-20-31-22-47-8-26-5-10-11-7-12-1-12 4-10 9-6 13-9 40-7 18-9 14-21 24-7 12-3 14 3 14 4 8 6 6 7 5 10 3 30 4 44 1 20-2 10 13-14 10-24 12-4 0-2 2-10 2-2 2-6 0-2 2-8 0-2 2z"/>
<path fill="#00cfff" fill-rule="evenodd" d="M1611 401l-60 0-2-2-8 0-2-2-6 0-8-4-4 0-6-4-4 0-20-10-4-4-8-4-6-6-2 0-25-24 0-2-6-6-6-12-4-4-6-12 1-4-4-6-2-12-2-2-1-74 4-8 2-10 12-24 8-10 0-2 8-8 0-2 15-15 2 0 16-14 30-16 4 0 12-6 14-2 2-2 72 0 2 2 6 0 2 2 12 2 6 4 4 0 24 12 10 8 2 0 8 8 2 0 18 19 0 2 12 14 16 32 2 12 2 2 0 6 2 2 0 58-2 2 0 8-4 8 0 4-2 2 0 4-2 4-2 0-14-6-7-14-17-25-24-46-4-11-4-18-7-10-9-6-14-2-14 5-9 9-7 13-9 39-7 17-9 15-23 26-6 12-3 12 3 14 4 9 5 7 7 5 10 4 28 5 66 1 9 11-3 4-2 0-4 4-24 12-4 0-2 2-10 2-2 2-6 0-2 2-8 0-2 2z"/>
<path fill="#00dfff" fill-rule="evenodd" d="M1611 401l-60 0-2-2-8 0-2-2-6 0-8-4-4 0-6-4-4 0-20-10-4-4-8-4-6-6-2 0-25-24 0-2-6-6-6-12-4-4-5-12 0-4-4-6-2-12-2-2-1-74 4-8 2-10 12-24 8-10 0-2 8-8 0-2 15-15 2 0 16-14 30-16 4 0 12-6 14-2 2-2 72 0 2 2 6 0 2 2 12 2 6 4 4 0 24 12 10 8 2 0 8 8 2 0 18 19 0 2 12 14 16 32 2 12 2 2 0 6 2 2 0 58-2 2 0 8-2 2 0 4-2 2-2 8-16-6-22-34-28-49-7-27-7-10-10-6-14-2-14 5-10 9-7 12-9 36-7 20-9 14-26 32-7 12-1 10 2 12 6 12 6 8 10 6 12 4 18 3 68 3 9 12-5 4-24 12-4 0-2 2-10 2-2 2-6 0-2 2-8 0-2 2z"/>
<path fill="#00efff" fill-rule="evenodd" d="M1611 401l-60 0-2-2-8 0-2-2-6 0-8-4-4 0-6-4-4 0-20-10-4-4-8-4-6-6-2 0-25-24 0-2-6-6-6-12-4-4-5-12 0-4-4-6-2-12-2-2 0-74 3-8 2-10 12-24 8-10 0-2 9-8 0-2 14-15 2 0 16-14 30-16 4 0 12-6 14-2 2-2 72 0 2 2 6 0 2 2 12 2 6 4 4 0 24 12 10 8 2 0 8 8 2 0 18 19 0 2 12 14 16 32 2 12 2 2 0 6 2 2 0 58-2 2 0 8-2 2-2 8-16-6-21-30-31-50-5-24-8-12-13-7-14 0-14 5-10 8-6 12-9 36-8 20-9 13-27 33-7 12-2 10 3 12 6 14 5 8 10 7 12 4 18 3 68 4 8 12 0 2-24 12-4 0-2 2-10 2-2 2-6 0-2 2-8 0-2 2z"/>
<path fill="#00ffff" fill-rule="evenodd" d="M1611 401l-60 0-2-2-8 0-2-2-6 0-8-4-4 0-6-4-4 0-20-10-4-4-8-4-6-6-2 0-25-24 0-2-6-6-6-12-4-4-5-12 0-4-4-6-2-12-2-2 0-74 3-8 2-10 12-24 8-10 0-2 9-8 0-2 14-15 2 0 16-14 30-16 4 0 12-6 14-2 2-2 72 0 2 2 6 0 2 2 12 2 6 4 4 0 24 12 10 8 2 0 8 8 2 0 18 19 0 2 12 14 16 32 2 12 2 2 0 6 2 2 0 58-2 2 0 8-2 4-16-5-20-27-32-48-2-6-4-20-3-6-5-6-12-6-16-1-16 5-10 10-5 10-9 34-9 22-9 13-29 35-7 12-2 10 3 10 8 18 6 8 9 6 12 5 18 3 64 4 3 2 7 10 0 2-20 10-4 0-2 2-10 2-2 2-6 0-2 2-8 0-2 2z"/>
<path fill="#10ffef" fill-rule="evenodd" d="M1611 401l-60 0-2-2-8 0-2-2-6 0-8-4-4 0-6-4-4 0-20-10-4-4-8-4-6-6-2 0-25-24 0-2-6-6-6-12-3-4-6-12 0-4-4-6-2-12-2-2 0-74 4-8 1-10 12-24 9-10 0-2 8-8 0-2 14-15 2 0 16-14 30-16 4 0 12-6 14-2 2-2 72 0 2 2 6 0 2 2 12 2 6 4 4 0 24 12 10 8 2 0 8 8 2 0 18 19 0 2 12 14 16 32 2 12 2 2 0 6 2 2 0 58-2 2 0 5-16-4-50-67-5-8-3-22-4-7-5-5-13-6-16-1-16 5-11 10-5 10-10 34-9 22-7 10-23 26-15 20-4 8-1 6 2 8 12 24 6 8 8 6 13 4 18 3 62 5 3 2 7 11-16 9-4 0-2 2-10 2-2 2-6 0-2 2-8 0-2 2z"/>
<path fill="#20ffdf" fill-rule="evenodd" d="M1611 401l-60 0-2-2-8 0-2-2-6 0-8-4-4 0-6-4-4 0-20-10-4-4-8-4-6-6-2 0-25-24 0-2-6-6-6-12-3-4-6-12 0-4-4-6-2-12-2-2 0-74 4-8 1-10 12-24 9-10 0-2 8-8 0-2 14-15 2 0 16-14 30-16 4 0 12-6 14-2 2-2 72 0 2 2 6 0 2 2 12 2 6 4 4 0 24 12 10 8 2 0 8 8 2 0 18 19 0 2 12 14 16 32 2 12 2 2 0 6 2 2 0 58-2 0-14-3-32-41-18-21-5-7-4-24-3-6-6-6-14-6-16-1-16 5-12 10-6 10-8 32-11 24-9 12-20 22-22 26-3 8 2 10 16 28 6 8 7 5 12 4 20 4 62 5 8 13-12 7-4 0-2 2-10 2-2 2-6 0-2 2-8 0-2 2z"/>
<path fill="#30ffcf" fill-rule="evenodd" d="M1611 401l-60 0-2-2-8 0-2-2-6 0-8-4-4 0-6-4-4 0-20-10-4-4-8-4-6-6-2 0-25-24 0-2-6-6-5-12-4-4-6-12 0-4-4-6-2-12-2-2 0-74 4-8 2-10 12-24 8-10 0-2 8-8 0-2 14-15 2 0 16-14 30-16 4 0 12-6 14-2 2-2 72 0 2 2 6 0 2 2 12 2 6 4 4 0 24 12 10 8 2 0 8 8 2 0 18 19 0 2 12 14 16 32 2 12 2 2 0 6 2 2 0 50-14-1-14-15-17-22-21-23-3-5-3-22-5-8-6-6-15-6-18 0-18 6-11 10-6 12-8 32-11 22-8 10-36 37-16 9-2 6 4 12 14 19 8 15 13 12 11 4 18 4 64 6 8 13-8 5-4 0-2 2-10 2-2 2-6 0-2 2-8 0-2 2z"/>
<path fill="#40ffbf" fill-rule="evenodd" d="M1611 401l-60 0-2-2-8 0-2-2-6 0-8-4-4 0-6-4-4 0-20-10-4-4-8-4-6-6-2 0-25-24 0-2-6-6-5-12-4-4-6-12 0-4-4-6-2-12-2-2 0-74 4-8 2-10 12-24 8-10 0-2 8-8 0-2 14-15 2 0 16-14 30-16 4 0 12-6 14-2 2-2 72 0 2 2 6 0 2 2 12 2 6 4 4 0 24 12 10 8 2 0 8 8 2 0 18 19 0 2 12 14 16 32 2 12 2 2 0 6 2 2 0 42-14-1-26-31-24-22-2-6-3-20-9-13-10-6-12-3-12-1-14 3-12 6-10 10-4 10-5 22-5 14-8 15-8 11-38 32-8 3-17 3-5 3 1 7 11 22 16 18 12 18 10 9 10 5 12 2 28 4 30 1 14 3 6 14-8 2-2 2-4 0-2 2-4 0-2 2-16 2-2 2z"/>
<path fill="#50ffaf" fill-rule="evenodd" d="M1611 401l-60 0-2-2-8 0-2-2-6 0-8-4-4 0-6-4-4 0-20-10-4-4-8-4-6-6-2 0-24-24 0-2-6-6-6-12-4-4-6-12 0-4-4-6-2-12-2-2 0-74 4-8 2-10 12-24 8-10 0-2 8-8 0-2 14-15 2 0 16-14 30-16 4 0 12-6 14-2 2-2 72 0 2 2 6 0 2 2 12 2 6 4 4 0 24 12 10 8 2 0 8 8 2 0 18 19 0 2 12 14 16 32 2 12 2 2 0 6 2 2 0 33-14 0-21-25-26-22-2-6-4-20-9-13-10-6-12-3-14 0-14 2-14 6-9 10-5 10-4 22-5 14-9 16-10 11-34 25-8 3-22 4-8 5-1 4 0 4 17 28 18 19 13 19 7 6 10 5 12 3 30 4 30 1 12 3 6 14-4 0-2 2-10 2-2 2-6 0-2 2-8 0-2 2z"/>
<path fill="#60ff9f" fill-rule="evenodd" d="M1611 401l-60 0-2-2-8 0-2-2-6 0-8-4-4 0-6-4-4 0-20-10-4-4-8-4-6-6-2 0-24-24 0-2-6-6-6-12-4-4-6-12 0-4-4-6-2-12-2-2 0-74 4-8 2-10 12-24 8-10 0-2 8-8 0-2 14-15 2 0 16-14 30-16 4 0 12-6 14-2 2-2 72 0 2 2 6 0 2 2 12 2 6 4 4 0 24 12 10 8 2 0 8 8 2 0 18 19 0 2 12 14 16 32 2 12 2 2 0 6 2 2 0 22-14 0-17-20-25-18-3-6-6-20-9-13-10-5-12-4-14 0-16 2-15 6-10 10-5 10-4 22-4 12-8 15-10 12-12 9-20 12-10 4-25 6-9 6-3 6 1 6 19 30 19 21 13 17 7 6 8 4 12 3 34 4 30 2 9 3 5 12-2 2-10 2-2 2-6 0-2 2-8 0-2 2z"/>
<path fill="#70ff8f" fill-rule="evenodd" d="M1611 401l-60 0-2-2-8 0-2-2-6 0-8-4-4 0-6-4-4 0-20-10-4-4-8-4-6-6-2 0-24-24 0-2-6-6-6-12-4-4-6-12 0-4-4-6-2-12-2-2 0-74 4-8 2-10 12-24 8-10 0-2 8-8 0-2 14-15 2 0 16-14 30-16 4 0 12-6 14-2 2-2 72 0 2 2 6 0 2 2 12 2 6 4 4 0 24 12 10 8 2 0 8 8 2 0 18 19 0 2 12 14 16 32 2 12 2 2 0 6 2 2 0 5-16 1-12-14-22-10-4-6-6-16-4-8-6-7-8-5-12-5-12-1-26 2-16 6-9 10-5 10-6 32-9 16-11 13-12 8-16 8-14 6-26 7-10 6-2 6 0 8 20 34 40 44 8 4 12 3 64 6 6 2 5 13-3 2-4 0-2 2-6 0-2 2-8 0-2 2z"/>
<path fill="#80ff80" fill-rule="evenodd" d="M1611 401l-60 0-2-2-8 0-2-2-6 0-8-4-4 0-6-4-4 0-20-10-4-4-8-4-6-6-2 0-24-24 0-2-6-6-6-12-4-4-6-12 0-4-4-6-2-12-2-2 0-74 4-8 2-10 12-24 8-10 0-2 8-8 0-2 14-15 2 0 16-14 30-16 4 0 12-6 14-2 2-2 72 0 2 2 6 0 2 2 12 2 6 4 4 0 24 12 10 8 2 0 8 8 2 0 18 19 0 2 12 14 2 6 4 4 4 8 0 4 6 10 0 5-14 4-6-4-16-5-7-6-10-18-6-8-8-6-11-5-24-3-28 4-12 6-9 10-4 10-2 22-3 8-8 15-10 12-16 10-24 10-30 9-7 4-5 4-2 8 1 8 21 36 40 44 10 5 12 2 65 7 5 14-4 2-6 0-2 2-8 0-2 2z"/>
<path fill="#8fff70" fill-rule="evenodd" d="M1611 401l-60 0-2-2-8 0-2-2-6 0-8-4-4 0-6-4-4 0-20-10-4-4-8-4-6-6-2 0-24-24 0-2-6-6-6-12-4-4-6-12 0-4-4-6-2-12-2-2 0-74 4-8 2-10 12-24 8-10 0-2 8-8 0-2 14-15 2 0 16-14 30-16 4 0 12-6 14-2 2-2 72 0 2 2 14 2 12 6 4 0 24 12 10 8 2 0 8 8 2 0 18 19 0 2 12 14 12 24 0 2-14 5-13-5-7-5-13-17-8-8-9-6-10-4-26-2-30 4-12 6-8 9-3 11-3 28-8 15-10 12-16 10-59 21-7 4-4 4-2 8 2 8 13 22 9 18 36 40 10 7 12 4 66 7 4 14-4 0-2 2-8 0-2 2z"/>
<path fill="#9fff60" fill-rule="evenodd" d="M1611 401l-60 0-2-2-8 0-2-2-6 0-8-4-4 0-6-4-4 0-20-10-4-4-8-4-6-6-2 0-24-24 0-2-6-6-6-12-4-4-6-12 0-4-4-6-2-12-2-2 0-74 4-8 2-10 12-24 8-10 0-2 8-8 0-2 14-15 2 0 16-14 30-16 4 0 12-6 14-2 2-2 72 0 2 2 14 2 12 6 4 0 24 12 10 8 2 0 8 8 2 0 18 19 0 2 12 14 2 6 6 8 0 2-13 6-3-1-10-6-26-23-10-6-12-3-28-1-18 2-13 4-11 6-6 8-3 10-2 30-6 12-9 11-16 10-62 21-8 5-4 5-2 8 2 8 16 26 8 17 36 41 8 6 14 5 60 7 4 14-6 0-2 2z"/>
<path fill="#afff50" fill-rule="evenodd" d="M1609 401l-58 0-2-2-8 0-2-2-6 0-8-4-4 0-6-4-4 0-20-10-4-4-8-4-6-6-2 0-24-24 0-2-6-6-6-12-4-4-6-12 0-4-4-6-2-12-2-2 0-74 4-8 2-10 12-24 8-10 0-2 8-8 0-2 14-15 2 0 16-14 30-16 4 0 12-6 14-2 2-2 72 0 2 2 14 2 12 6 4 0 24 12 10 8 2 0 8 8 2 0 18 19 0 2 6 6 0 2 8 10 0 1-14 7-30-23-12-5-14-3-32-1-18 2-14 4-10 6-5 8-2 10 0 30-6 12-8 10-15 9-34 10-32 13-8 5-4 5-2 8 2 8 18 28 8 18 38 43 8 6 12 4 54 7 2 14z"/>
<path fill="#bfff40" fill-rule="evenodd" d="M1597 401l-46 0-2-2-16-2-8-4-4 0-6-4-4 0-20-10-4-4-8-4-22-20-16-18-16-28 0-4-4-6-2-12-2-2 0-74 4-8 2-10 12-24 8-10 0-2 8-8 0-2 14-15 2 0 16-14 30-16 4 1 12-6 14-2 2-2 72-1 2 2 6 0 2 2 12 2 6 4 4 0 24 12 10 8 2 0 28 27 0 2 4 4 0 2-12 8-24-15-24-6-18-1-24 1-24 3-12 3-6 5-2 6 3 32-1 10-4 10-7 10-15 9-36 9-34 15-7 5-5 6-2 8 2 8 20 30 9 20 36 42 9 6 12 5 44 5 2 2 0 12z"/>
<path fill="#cfff30" fill-rule="evenodd" d="M1579 401l-28 0-2-2-16-2-8-4-4 0-6-4-4 0-20-10-4-4-8-4-6-6-2 0-24-24 0-2-6-6-6-12-4-4-6-12 0-4-4-6-2-12-2-2 0-74 4-8 2-10 12-24 8-10 0-2 22-25 2 0 8-8 2 0 12-10 24-11 4 0 6-4 12-2 2-2 6 0 2-2 72-1 2 2 6 0 2 2 12 2 6 4 4 0 24 12 10 8 2 0 8 9 2 0 12 12 0 1-12 9-18-8-20-4-74 0-12-3-23-15-7-2-4 1-4 3-3 6-1 8 1 6 7 9 18 7 8 9 4 9 3 14 0 10-3 8-8 10-12 7-40 8-18 11-18 7-8 7-4 10 0 6 4 8 20 28 10 22 34 39 8 8 12 5 33 6 0 12-1 0z"/>
<path fill="#dfff20" fill-rule="evenodd" d="M1531 395l-10-2-6-4-4 0-20-10-4-4-8-4-6-6-2 0-24-24 0-2-6-6-6-12-4-4-6-12 0-4-4-6-2-12-2-2 0-74 4-8 2-10 12-24 8-10 0-2 8-8 0-3 14-14 2 0 16-14 30-15 4 0 12-6 14-2 2-2 72-1 2 2 6 0 2 2 12 2 6 4 4 0 24 12 10 9 2 0 8 8 2 0 4 5-10 10-32-7-60-1-16-5-32-20-10-1-8 2-6 6-4 9-1 12 1 10 3 6 5 5 22 9 8 6 4 8 3 10-1 8-2 6-7 10-11 6-12 3-24 1-8 2-16 11-20 10-6 6-3 7-1 8 3 10 23 30 10 22 34 40 11 10 1 2-4 12-2 0z"/>
<path fill="#efff10" fill-rule="evenodd" d="M1683 136l-28-3-46-1-17-3-8-4-33-22-3-14 69-1 2 2 6 0 2 2 12 2 6 4 4 0 24 12 10 9 2 0 7 8-9 9zM1525 393l-4 0-6-4-4 0-20-10-4-4-8-4-6-6-2 0-24-24 0-2-6-6-6-12-4-4-6-12 0-4-4-6-2-12-2-2 0-74 4-8 2-10 12-24 8-10 0-2 8-8 0-2 14-15 2 0 8-8 2 0 12-10 24-10 6 13-4 10-2 12 0 12 3 10 4 6 5 4 22 7 8 5 6 12-1 12-8 10-11 5-12 1-22-4-8 2-17 16-24 16-5 8-2 10 4 12 25 30 11 24 39 46-5 14z"/>
<path fill="#ffff00" fill-rule="evenodd" d="M1677 133l-20-3-44-1-16-3-10-5-25-18-4-14 59-1 2 2 6 0 2 2 12 2 6 4 4 0 24 13 14 10-10 12zM1519 391l-8-2-20-10-4-4-8-4-6-6-2 0-24-24 0-2-6-6-6-12-4-4-6-12 0-4-4-6-2-12-2-2 0-74 4-8 2-10 12-24 8-10 0-2 8-8 0-2 24-23 2 0 12-9 12-6 4 0 6 12-3 14-1 14 2 14 4 10 4 5 4 3 20 3 8 4 6 9 0 8-3 6-5 4-10 3-12-2-18-11-4 0-6 2-17 24-27 21-4 9-1 10 2 8 3 6 26 30 10 22 36 44 0 2-6 12z"/>
<path fill="#ffef00" fill-rule="evenodd" d="M1671 129l-52-2-18-3-10-5-23-18-1-12 50-1 2 2 6 0 2 2 12 2 6 4 4 0 24 13 8 6-8 11-2 1zM1515 389l-4 0-20-10-4-4-8-4-6-6-2 0-24-24 0-2-6-6-6-12-4-4-6-12 0-4-4-6-2-12-2-2 0-74 4-8 2-10 12-24 8-10 0-2 8-8 0-2 24-23 2 0 6-5 14-8 8 14-3 24 3 30-1 8-3 6-12 12-12 21-28 25-4 8-1 10 2 8 4 8 25 26 5 8 9 20 31 40 1 2-6 12zM1541 207l-8 0-5-4-2-6 3-6 8-2 8 4 2 4 0 4-2 4-4 2z"/>
<path fill="#ffdf00" fill-rule="evenodd" d="M1667 126l-46-1-18-4-10-6-18-14 0-12 42-1 2 2 6 0 2 2 12 2 36 19 1 2-9 11zM1511 388l-20-9-4-4-8-4-6-6-2 0-24-24 0-2-6-6-6-12-4-4-6-12 0-4-4-6-2-12-2-2 0-74 4-8 2-10 12-24 8-10 0-2 8-8 0-2 14-15 2 0 8-8 2 0 12-9 3 0 8 12-3 20 1 28-1 10-22 37-29 27-4 10-1 10 2 8 4 8 28 28 12 25 30 41-6 13z"/>
<path fill="#ffcf00" fill-rule="evenodd" d="M1663 123l-40-1-18-4-10-5-14-12 0-12 36-1 2 2 14 2 12 6 4 0 22 13-8 12zM1507 386l-16-7-4-4-8-4-6-6-2 0-24-24 0-2-6-6-6-12-4-4-6-12 0-4-4-6-2-12-2-2 0-74 4-8 2-10 12-24 8-10 0-2 8-8 0-2 14-15 2 0 16-13 4-1 8 13-2 22 1 22-2 10-19 34-30 28-4 10-1 12 2 8 4 8 29 28 5 8 8 18 28 38-7 13z"/>
<path fill="#ffbf00" fill-rule="evenodd" d="M1659 119l-4 1-30 0-18-4-9-5-11-10 1-12 29-1 2 2 14 2 12 7 4 0 16 8 1 2-7 10zM1503 385l-12-6-4-4-8-4-6-6-2 0-24-24 0-2-6-6-6-12-4-4-6-12 0-4-4-6-2-12-2-2 0-74 4-8 2-10 12-24 8-10 0-2 8-8 0-2 14-15 2 0 14-11 10 12-1 42-2 10-17 31-25 23-6 8-4 10-1 10 2 10 5 10 23 19 8 8 12 25 25 36-7 14z"/>
<path fill="#ffaf00" fill-rule="evenodd" d="M1653 117l-28 0-16-4-8-5-8-7 1-12 23 0 2 1 14 3 12 6 4 0 12 6-8 12zM1499 383l-8-4-10-8-2 0-6-6-2 0-24-24 0-2-6-6-6-12-4-4-6-12 0-4-4-6-2-12-2-2 0-74 4-8 2-10 12-24 8-10 0-2 8-8 0-3 24-21 3 0 9 11-1 39-1 10-6 14-10 15-24 22-7 9-5 10-1 12 3 10 5 10 32 28 13 26 22 32 0 2-8 12z"/>
<path fill="#ff9f00" fill-rule="evenodd" d="M1647 115l-26-1-12-4-10-9 1-12 17 0 2 2 14 2 2 2 4 0 6 4 8 2 0 2-6 12zM1429 257l-12 1 0-51 4-8 2-10 12-24 8-10 0-2 22-24 2 0 7-6 10 12-1 36-2 12-6 14-8 11-30 29-5 8-3 12zM1495 381l-14-10-2 0-6-6-2 0-24-24 0-2-6-6-16-28 0-4-6-12-2-13 14-3 10 14 22 17 9 9 11 22 21 32 0 2-7 12-2 0z"/>
<path fill="#ff8f00" fill-rule="evenodd" d="M1639 111l-18-1-12-4-4-3 2-14 10 0 2 2 14 2 2 2 8 2 2 2-6 12zM1429 245l-12 1 0-39 4-8 2-10 12-24 8-10 0-2 22-24 6-2 8 8 1 4 1 32-3 14-11 20-29 26-9 14zM1493 379l-2 0-4-4-8-4-6-6-2 0-24-24 0-2-6-6-6-12-4-4-6-12 0-4-4-6-2-8 16-4 6 7 20 14 9 9 13 24 18 30-8 12z"/>
<path fill="#ff8000" fill-rule="evenodd" d="M1627 107l-12-2-1-2 3-14 2 2 6 0 2 2 6 0-4 14-2 0zM1429 239l-12-1 0-31 4-8 2-10 12-24 8-10 0-2 8-8 0-2 14-14 2 0 10 12 1 30-3 14-10 18-26 23-10 13zM1489 377l-8-6-2 0-6-6-2 0-24-24 0-2-6-6-6-12-4-4-6-12 0-4-4-6 0-3 16-4 24 17 8 8 29 52-8 12-1 0z"/>
<path fill="#ff7000" fill-rule="evenodd" d="M1429 233l-12-1 0-25 4-8 2-10 12-24 8-10 0-2 20-22 11 12 1 28-2 14-5 10-5 8-24 19-10 11zM1487 375l-2 0-12-10-2 0-24-24 0-2-6-6-6-12-4-4-6-12-2-9 14-5 22 14 10 10 27 48-9 12z"/>
<path fill="#ff6000" fill-rule="evenodd" d="M1431 227l-2 1-12-2 0-19 4-8 2-10 12-24 8-10 0-2 8-8 0-2 8-8 2 0 11 10 1 26-2 14-4 8-6 8-30 26zM1483 373l-10-8-2 0-24-24 0-2-6-6-6-12-4-4-6-12 0-6 14-5 20 13 10 10 24 44-8 12-2 0z"/>
<path fill="#ff5000" fill-rule="evenodd" d="M1431 223l-14-2 0-14 4-8 2-10 12-24 8-10 0-2 14-16 12 10 2 24-3 14-3 8-6 7-28 23zM1481 371l-2 0-6-6-2 0-24-24 0-2-6-6-6-12-4-4-6-15 14-5 18 10 10 9 23 43-9 12z"/>
<path fill="#ff4000" fill-rule="evenodd" d="M1431 219l-14-3 0-9 4-8 2-10 12-24 8-10 0-2 8-8 0-2 4-3 12 11 1 20-2 14-3 8-6 6-26 20zM1479 369l-8-4-24-24 0-2-6-6-6-12-4-4-5-12 15-6 16 10 9 8 22 40-9 12z"/>
<path fill="#ff3000" fill-rule="evenodd" d="M1433 214l-16-3 0-4 4-8 2-10 12-24 8-10 0-2 8-8 0-2 2 0 11 10 2 18-1 12-4 8-4 6-24 17zM1475 367l-4-2-24-24 0-2-10-12-10-20 14-6 2 1 16 10 7 7 19 36 0 2-8 10-2 0z"/>
<path fill="#ff2000" fill-rule="evenodd" d="M1435 209l-2 1-16-3 4-8 2-10 12-24 8-10 0-2 8-7 10 8 1 3 2 14-2 12-3 8-4 5-20 13zM1473 365l-2 0-24-24 0-2-6-6-6-12-4-4-2-8 14-5 14 8 8 7 18 34 0 2-10 10z"/>
<path fill="#ff1000" fill-rule="evenodd" d="M1435 206l-16-3 0-2 2-2 2-10 12-24 8-10 0-2 5-4 12 10 1 14-1 10-2 6-5 6-18 11zM1471 364l-24-23 0-2-6-6 0-2-4-4-2-6-6-9 16-6 12 7 8 7 16 33-10 11z"/>
<path fill="#ff0000" fill-rule="evenodd" d="M1435 203l-14-4 0-4 14-30 10-14 13 10 0 20-1 6-4 6-18 10zM1469 361l-22-20 0-2-10-12-6-13 14-6 12 7 7 6 15 30-10 10z"/>
<path fill="#ef0000" fill-rule="evenodd" d="M1437 199l-16-4 14-30 8-10 12 8 1 18-5 10-14 8zM1467 359l-2 0-18-18 0-2-10-12-4-10 14-7 16 12 14 27-10 10z"/>
<path fill="#df0000" fill-rule="evenodd" d="M1441 195l-4 1-14-5 0-2 16-30 14 7 1 7-1 8-2 7-10 7zM1463 357l-22-24 0-2-6-8 0-4 12-7 8 5 7 6 13 24-10 10-2 0z"/>
<path fill="#cf0000" fill-rule="evenodd" d="M1439 193l-14-5 0-3 12-22 12 6 2 3 0 9-2 6-10 6zM1461 355l-14-14 0-2-6-6-6-11 14-7 12 8 11 22-11 10z"/>
<path fill="#bf0000" fill-rule="evenodd" d="M1441 189l-14-5 0-3 6-12 2-1 13 7-1 8-6 6zM1459 351l-2 0-10-10 0-2-10-12 0-3 12-6 4 1 6 4 10 18 0 2-10 8z"/>
<path fill="#af0000" fill-rule="evenodd" d="M1455 348l-8-7 0-2-8-10 0-2 12-7 7 5 8 12-1 2-10 9z"/>
<path fill="#9f0000" fill-rule="evenodd" d="M1449 343l-8-11 14-8 4 5 2 6-12 8z"/>
</g><g transform="scale(.5)" fill="none" stroke-width="1.9">
<path stroke="#4a4a0c" d="M1640 331l11-3 8-3 5-4 3-6 1-6-3-6-6-6-8-5-12-1-32 5-14 5-4 4-4 6-1 6 2 6 3 4 6 3 16 2z"/>
<path stroke="#4a3e08" d="M1644 341l17-4 12-6 8-8 3-12-3-10-22-26-6-10-2-10 4-30 0-20-7-14-5-4-4-1-10 5-5 6-3 8-1 20 5 34-2 10-8 8-22 12-12 10-7 10-1 10 2 8 4 6 12 6 18 3z"/>
<path stroke="#4a2d08" d="M1658 349l19-5 14-9 9-12 1-14-4-12-15-20-7-14-14-62-4-11-8-10-6-3-6 0-12 5-9 11-4 14-5 38-3 14-8 12-27 28-5 10-1 12 2 8 5 8 7 6 10 4 24 3z"/>
<path stroke="#4a1c08" d="M1747 319l-28-13-7-15-24-38-18-42-8-26-5-8-8-6-10-2-12 2-10 7-6 7-4 9-10 43-6 17-8 13-22 24-7 12-3 14 4 16 5 8 7 6 8 4 12 4 18 2 40 1 32-1 37 44"/>
<path stroke="#4a0808" d="M1747 287l-18-5-18-23-36-53-2-5-4-20-2-6-6-7-12-6-14 0-16 4-11 9-6 12-9 32-8 21-8 13-22 26-13 18-5 10 1 12 10 24 5 6 8 6 12 4 18 4 68 5 21 33"/>
<path stroke="#390818" d="M1747 254l-14-1-24-28-24-22-3-6-4-22-9-12-16-8-20-1-20 5-8 5-6 7-4 10-6 24-5 14-9 16-10 12-34 27-8 3-20 3-6 4 0 7 14 24 18 20 12 18 6 6 10 5 14 4 70 7 3 2 11 24"/>
<path stroke="#290829" d="M1747 187l-22 8-16-6-8-6-11-16-7-8-9-6-11-5-12-2-14-1-28 5-12 5-9 10-3 10-4 30-8 14-10 12-18 11-56 20-6 3-5 6-2 8 2 8 22 38 37 41 10 6 12 3 64 7 2 1 6 18"/>
<path stroke="#180839" d="M1747 110l-50 41-20-9-20-4-80-1-8-2-17-12-9-4-6 1-4 4-2 11 4 10 4 4 18 7 8 12 6 23-1 8-3 8-8 10-10 7-10 3-32 6-18 10-18 8-6 4-4 6-1 12 4 10 19 26 10 22 36 41 8 7 12 4 35 6 0 12"/>
<path stroke="#080c4a" d="M1485 89l19 32-3 24 2 36-4 8-10 12-11 20-29 26-4 8-1 10 1 8 4 8 26 26 6 10 6 16 33 42 1 2-11 24M1703 89l-32 40-52-2-18-4-10-5-22-17-1-12M1539 207l-6-2-5-4 0-4 3-5 8-1 6 4 1 4-1 4z"/>
<path stroke="#081c4a" d="M1449 89l37 44-1 40-4 14-11 20-7 8-20 17-7 9-4 12 0 12 2 10 6 10 23 17 10 11 12 24 21 32-18 32M1666 89l-15 28-2 0-26-1-14-4-14-11 1-12"/>
<path stroke="#082d4a" d="M1417 92l55 51 2 24-3 20-10 15-32 28-12-2M1417 300l22-6 22 14 10 11 23 42 0 2-28 38"/>
<path stroke="#083e4a" d="M1417 120l44 33 2 4 1 14-3 16-8 11-20 13-16-4M1417 314l26-11 10 6 14 12 16 32 0 2-40 46"/>
<path stroke="#104a4a" d="M1417 145l36 22 1 8-1 8-3 6-11 6-22-6M1417 328l30-15 2 0 13 10 12 24-55 54"/>
</g>
</g>
<ellipse cx="790.6" cy="122" rx="69.80" ry="65.80" fill="none" stroke="#000" stroke-width="1.05"/>
<polyline points="803.4,56.7 793.4,46.5 787.8,46.5 777.8,56.7" fill="none" stroke="#000" stroke-width="1"/>
<polyline points="859.3,109.4 861.8,106.5 862.9,106.4 864.6,106.9 866.2,109.4 866.0,122.7 867.0,134.3 864.9,139.3 861.8,140.2 858.2,137.8" fill="none" stroke="#000" stroke-width="1"/>
<polyline points="721.9,109.4 719.4,106.5 718.3,106.4 716.6,106.9 715.0,109.4 715.2,122.7 714.2,134.3 716.3,139.3 719.4,140.2 723.0,137.8" fill="none" stroke="#000" stroke-width="1"/>
<clipPath id="cAH"><ellipse cx="421.2" cy="345.9" rx="76.52" ry="74.67"/></clipPath>
<ellipse cx="421.2" cy="345.9" rx="81.78" ry="79.80" fill="#edf5ff"/>
<g clip-path="url(#cAH)"><g transform="scale(.5)">
<rect x="677" y="530" width="330" height="322" fill="#0000af"/>
<path fill="#0000bf" fill-rule="evenodd" d="M873 855l-62 0-2-2-8 0-2-2-6 0-8-4-4 0-32-16-12-10-2 0-27-27 0-2-6-6 0-2-7-10-10-20 0-4-4-6 0-6-4-8 0-76 2-2 0-6 2-2 2-10 4-6 0-4 6-12 4-4 2-6 12-14 0-2 20-20 2 0 6-6 2 0 6-6 6-2 4-4 16-8 4 0 6-4 4 0 2-2 14-2 4 14 10 6 12-1 10-5 3-4 0-12 39 0 8 4 12 2 6 4 4 0 16 8 4 4 6 2 6 6 2 0 6 6 2 0 29 30 18 32 4 16 2 2 0 4 2 2 0 8 2 2 0 58-2 2 0 8-2 2-2 12-4 6 0 4-10 20-8 10-4 8-29 29-2 0-6 6-16 8-4 4-8 2-10 6-10 2-2 2-6 0-2 2-8 0-2 2zM780 696l2-8-3-8-6-4-4 0-3 2-1 6 4 7 6 6 5-1z"/>
<path fill="#0000cf" fill-rule="evenodd" d="M873 855l-62 0-2-2-8 0-2-2-6 0-8-4-4 0-32-16-12-10-2 0-27-27 0-2-6-6 0-2-7-10-10-20 0-4-4-6 0-6-4-8 0-76 2-2 0-6 2-2 2-10 4-6 0-4 6-12 4-4 2-6 12-14 0-2 20-20 2 0 6-6 2 0 6-6 6-2 4-4 16-8 4 0 6-4 2 0 12 26 6 4 20-3 24-9 6-10 2-14 26 0 8 4 12 2 6 4 4 0 16 8 4 4 6 2 6 6 2 0 6 6 2 0 29 30 18 32 4 16 2 2 0 4 2 2 0 8 2 2 0 58-2 2 0 8-2 2-2 12-4 6 0 4-10 20-8 10-4 8-29 29-2 0-6 6-16 8-4 4-8 2-10 6-10 2-2 2-6 0-2 2-8 0-2 2zM888 660l7-14 0-8-4 0-4 8-1 12 2 2zM878 682l5-9 0-7-11 12 1 5 5-1zM784 706l4-4 1-6 0-10-3-8-4-4-5-2-6-1-6 2-4 3-1 4 5 15 9 9 5 3 5-1zM841 764l11-6 7-10 2-24-2-8-4 0-14 12-6 6-4 8-2 8 1 8 5 6 6 0z"/>
<path fill="#0000df" fill-rule="evenodd" d="M873 855l-62 0-2-2-8 0-2-2-6 0-8-4-4 0-32-16-12-10-2 0-27-27 0-2-6-6 1-2-8-10-10-20 0-4-4-6 0-6-4-8 0-76 2-2 0-6 2-2 2-10 4-6 0-4 6-12 4-4 2-6 6-6 0-2 6-6 0-2 20-20 2 0 6-6 2 0 6-6 6-2 4-4 12-6 4 0 14 36 4 5 4 1 24-12 32-12 4-4 5-8 3-18 18 0 2 2 12 2 12 6 4 0 16 8 4 4 6 2 6 6 2 0 6 6 2 0 21 20 0 2 8 8 6 12 4 4 8 16 2 10 2 2 2 10 2 2 0 8 2 2 0 58-2 2 0 8-2 2-2 12-4 6 0 4-10 20-8 10-4 8-29 29-2 0-6 6-16 8-4 4-8 2-10 6-10 2-2 2-6 0-2 2-8 0-2 2zM843 768l16-7 8-11 10-46 16-30 7-22 2-16-3-5-4-3-6 2-5 6-8 22-10 18-6 22-28 26-7 10-2 14 2 12 8 8 10 0zM789 710l5-6 1-8-2-12-4-10-6-5-6-2-8 1-6 3-5 5-1 6 8 20 6 6 6 4 6 0 6-2z"/>
<path fill="#0000ef" fill-rule="evenodd" d="M873 855l-62 0-2-2-8 0-2-2-6 0-8-4-4 0-32-16-12-10-2 0-27-27 0-2-5-6 0-2-8-10-10-20 0-4-4-6 0-6-4-8 0-76 2-2 0-6 2-2 2-10 4-6 0-4 6-12 4-4 2-6 12-14 0-2 20-20 2 0 14-12 6-2 8-6 4 0 6 12 6 19 6 12 6 6 6 2 26-20 30-10 7-5 8-12 4-20 11 0 8 4 12 2 6 4 4 0 16 8 4 4 6 2 6 6 2 0 6 6 2 0 29 30 18 32 4 16 2 2 0 4 2 2 0 8 2 2 0 58-2 2 0 8-2 2-2 12-4 6 0 4-10 20-8 10-4 8-29 29-2 0-6 6-16 8-4 4-8 2-10 6-10 2-2 2-6 0-2 2-8 0-2 2zM849 770l14-6 9-10 10-42 18-40 5-22 1-14-4-10-7-5-8 3-5 6-10 26-9 18-10 22-8 9-21 15-5 8-1 20 1 8 4 8 4 5 6 3 16-2zM790 716l7-3 3-7-1-16-3-12-5-8-6-6-8-2-8 2-8 5-5 7-1 8 4 14 5 8 7 8 10 3 9-1z"/>
<path fill="#0000ff" fill-rule="evenodd" d="M873 855l-62 0-2-2-8 0-2-2-6 0-8-4-4 0-32-16-12-10-2 0-26-27 0-2-6-6 0-2-8-10-10-20 0-4-4-6 0-6-4-8 0-76 2-2 0-6 2-2 2-10 4-6 0-4 6-12 4-4 2-6 12-14 0-2 20-20 2 0 6-6 2 0 6-6 6-2 4-4 9 14 7 20 6 12 6 7 8 3 8-3 14-14 10-6 30-10 8-5 8-12 6-24 4 0 8 4 6 0 2 2 4 0 6 4 4 0 16 8 4 4 6 2 6 6 2 0 6 6 2 0 29 30 18 32 4 16 2 2 0 4 2 2 0 8 2 2 0 58-2 2 0 8-2 2-2 12-4 6 0 4-10 20-8 10-4 8-29 29-2 0-6 6-16 8-4 4-8 2-10 6-10 2-2 2-6 0-2 2-8 0-2 2zM843 774l14-3 12-5 6-5 4-7 4-26 20-50 5-24 1-16-1-10-5-9-6-5-8 0-6 6-5 10-9 26-19 36-9 9-12 7-14 4-6-3-4-9-3-18-4-10-7-9-6-4-8-1-10 4-9 6-5 8 0 8 3 12 3 10 4 6 6 5 8 3 28 3 4 5 6 26 4 11 10 8 14 1z"/>
<path fill="#0010ff" fill-rule="evenodd" d="M873 855l-62 0-2-2-8 0-2-2-6 0-8-4-4 0-10-6-8-2-4-4-10-4-12-10-2 0-26-27 0-2-6-6 0-2-8-10-10-20 0-4-4-6 0-6-4-8 0-76 2-2 0-6 2-2 2-10 4-6 0-4 6-12 4-4 2-6 12-14 0-2 20-20 2 0 6-6 2 0 10-8 9 12 9 22 8 14 8 9 8 1 8-3 18-17 10-7 38-11 8-10 9-30 3 0 2 2 6 0 2 2 4 0 6 4 4 0 16 8 4 4 6 2 6 6 2 0 6 6 2 0 29 30 18 32 4 16 2 2 0 4 2 2 0 8 2 2 0 58-2 2 0 8-2 2-2 12-4 6 0 4-10 20-8 10-4 8-29 29-2 0-6 6-16 8-4 4-8 2-10 6-10 2-2 2-6 0-2 2-8 0-2 2zM848 776l23-6 7-4 5-6 3-8 3-22 17-48 5-32 0-22-6-16-4-5-6-3-8 1-6 7-17 46-18 32-9 7-14 5-6-1-4-2-3-5-5-16-6-12-7-10-7-3-8 1-12 6-9 8-5 8 0 8 3 16 3 8 4 7 12 8 22 5 6 3 5 5 7 24 10 12 10 5 15-1z"/>
<path fill="#0020ff" fill-rule="evenodd" d="M873 855l-62 0-2-2-8 0-2-2-6 0-8-4-4 0-10-6-8-2-4-4-10-4-12-10-2 0-26-27 0-2-6-6 0-2-8-10-10-20 0-4-4-6 0-6-4-8 0-76 2-2 0-6 2-2 2-10 4-6 0-4 6-12 4-4 2-6 12-14 0-2 20-20 2 0 14-11 9 13 9 22 9 14 9 11 8 3 10-5 20-19 12-8 16-4 30 0 3-6 2-22 6-20 5 0 2 2 4 0 6 4 4 0 16 8 4 4 6 2 6 6 2 0 6 6 2 0 29 30 18 32 4 16 2 2 0 4 2 2 0 8 2 2 0 58-2 2 0 8-2 2-2 12-4 6 0 4-10 20-8 10-4 8-29 29-2 0-6 6-16 8-4 4-8 2-10 6-10 2-2 2-6 0-2 2-8 0-2 2zM852 778l25-6 7-4 5-6 3-8 2-22 17-52 3-42-2-24-4-10-5-6-8-7-8-3-4 0-2 2-18 64-18 28-7 8-13 4-8-3-20-36-4-5-6-4-10 3-16 11-8 8-4 10 3 26 4 8 5 6 10 7 27 9 4 6 10 24 9 11 12 4 19-1z"/>
<path fill="#0030ff" fill-rule="evenodd" d="M873 855l-62 0-2-2-8 0-2-2-6 0-8-4-4 0-10-6-8-2-4-4-10-4-12-10-2 0-26-27 0-2-6-6 0-2-8-10-10-20 0-4-4-6 0-6-4-8 0-76 2-2 0-6 2-2 2-10 4-6 0-4 6-12 4-4 2-6 12-14 0-2 20-20 2 0 6-6 4-1 9 11 12 26 21 34-4 8-26 25-7 9-2 12 4 24 5 9 8 7 32 14 18 32 6 7 10 4 24 0 26-5 14-8 5-10 3-28 14-48 2-50-2-20-2-12-6-10-11-16-3-10 0-12 5-16 3 0 6 4 4 0 16 8 4 4 6 2 6 6 2 0 6 6 2 0 29 30 18 32 4 16 2 2 0 4 2 2 0 8 2 2 0 58-2 2 0 8-2 2-2 12-4 6 0 4-10 20-8 10-4 8-29 29-2 0-6 6-16 8-4 4-8 2-10 6-10 2-2 2-6 0-2 2-8 0-2 2zM833 685l-8 0-8-6-11-19-14-28 5-8 30-30 14-6 16 0 9 4 4 10-1 14-4 24-4 12-8 13-12 14-8 6z"/>
<path fill="#0040ff" fill-rule="evenodd" d="M873 855l-62 0-2-2-8 0-2-2-6 0-8-4-4 0-10-6-8-2-4-4-10-4-12-10-2 0-26-27 0-2-6-6 0-2-8-10-10-20 0-4-4-6 0-6-4-8 0-76 2-2 0-6 2-2 2-10 4-6 0-4 6-12 4-4 2-6 12-14 0-2 20-20 2 0 4-4 2 0 10 12 23 46 3 10-4 12-20 22-6 10-1 12 4 24 4 8 7 7 32 17 20 30 8 7 8 4 26 0 31-5 15-8 6-10 2-32 11-44 1-60-2-26-13-30-3-10 0-4 6-14 4 0 16 8 4 4 6 2 6 6 2 0 6 6 2 0 29 30 18 32 4 16 2 2 0 4 2 2 0 8 2 2 0 58-2 2 0 8-2 2-2 12-4 6 0 4-10 20-8 10-4 8-29 29-2 0-6 6-16 8-4 4-8 2-10 6-10 2-2 2-6 0-2 2-8 0-2 2zM835 677l-6 1-4-1-9-9-11-20-3-10 0-6 7-14 16-18 12-7 12-1 8 3 7 7 1 12-2 18-3 14-5 11-10 12-10 8z"/>
<path fill="#0050ff" fill-rule="evenodd" d="M873 855l-62 0-2-2-8 0-2-2-6 0-8-4-4 0-10-6-8-2-4-4-10-4-12-10-2 0-26-27 0-2-6-6 0-2-8-10-10-20 0-4-4-6 0-6-4-8 0-76 2-2 0-6 2-2 2-10 4-6 0-4 6-12 4-4 2-6 12-14 0-2 20-20 4-2 10 12 22 42 3 12-2 8-3 6-18 22-5 10 0 22 3 14 5 8 7 7 32 17 20 30 8 7 10 4 26 1 34-5 15-7 8-10 2-8 0-28 9-34 1-12-1-32 1-50-12-42 7-14 2 0 8 4 4 4 6 2 6 6 2 0 6 6 2 0 21 20 0 2 12 14 2 6 4 4 8 16 4 16 2 2 0 4 2 2 0 8 2 2 0 58-2 2 0 8-2 2-2 12-4 6 0 4-10 20-8 10-4 8-29 29-2 0-6 6-16 8-4 4-8 2-10 6-10 2-2 2-6 0-2 2-8 0-2 2zM835 670l-10 0-8-8-8-16-1-14 5-12 11-14 11-8 10-2 8 3 6 7 2 12-1 16-3 12-5 10-9 10-8 4z"/>
<path fill="#0060ff" fill-rule="evenodd" d="M873 855l-62 0-2-2-16-2-8-4-4 0-10-6-4 0-8-6-10-4-12-10-2 0-26-27 0-2-6-6 0-2-10-14-8-16 0-4-4-6 0-6-4-8 0-76 2-2 0-6 2-2 2-10 4-6 0-4 6-12 4-4 2-6 12-14 0-2 20-19 12 13 18 36 4 14-3 14-17 21-5 11-1 20 3 16 5 8 8 8 32 20 18 24 6 8 8 5 8 3 26 0 36-4 19-8 5-4 4-6 1-8-1-30 8-40-2-42 3-44-1-12-7-28 8-14 11 6 6 6 2 0 6 6 2 0 21 20 0 2 12 14 2 6 4 4 8 16 4 16 2 2 0 4 2 2 0 8 2 2 0 58-2 2 0 8-2 2-2 12-4 6 0 4-10 20-8 10-4 8-29 29-2 0-6 6-16 8-4 4-8 2-10 6-10 2-2 2-6 0-2 2-8 0-2 2zM837 664l-9 0-8-6-6-12-1-12 3-10 7-11 10-8 10-4 6 3 5 6 3 10 0 14-2 10-4 9-6 7-8 4z"/>
<path fill="#0070ff" fill-rule="evenodd" d="M873 855l-62 0-2-2-16-2-8-4-4 0-10-6-4 0-8-6-10-4-12-10-2 0-26-27 0-2-6-6 0-2-8-10-10-20 0-4-4-6 0-6-4-8 0-76 2-2 0-6 2-2 2-10 4-6 0-4 6-12 4-4 2-6 12-14 0-2 16-16 13 12 17 34 5 14-3 14-17 22-5 12-1 20 3 16 12 15 34 21 24 31 10 6 10 3 26 0 36-4 22-8 6-4 4-6 1-10-2-28 7-40-4-44 5-48-5-32 8-13 4 1 6 6 2 0 6 6 2 0 21 20 0 2 8 8 6 12 4 4 8 16 4 16 2 2 0 4 2 2 0 8 2 2 0 58-2 2-2 16-6 12 0 4-10 20-8 10-4 8-29 29-2 0-6 6-16 8-8 6-4 0-10 6-10 2-2 2-16 2-2 2zM839 659l-8 1-6-4-6-8-2-12 2-9 6-9 8-7 8-3 5 2 5 6 2 18-4 16-4 5-6 4z"/>
<path fill="#0080ff" fill-rule="evenodd" d="M873 855l-62 0-2-2-16-2-8-4-4 0-10-6-4 0-8-6-10-4-12-10-2 0-26-27 0-2-6-6 0-2-8-10-10-20 0-4-4-6 0-6-4-8 0-76 2-2 0-6 2-2 2-10 4-6 0-4 6-12 4-4 2-6 12-14 0-2 14-13 12 13 17 32 4 14-3 14-14 18-7 14-2 20 4 16 5 8 8 8 34 22 19 24 7 8 10 6 10 3 26 0 38-4 26-8 7-5 3-4 2-10-5-34 7-38-6-42 6-50-2-28 8-13 6 3 6 6 2 0 21 20 0 2 8 8 6 12 4 4 8 16 4 16 2 2 0 4 2 2 0 8 2 2 0 58-2 2-2 16-6 12 0 4-10 20-8 10-4 8-29 29-2 0-6 6-16 8-8 6-4 0-10 6-10 2-2 2-16 2-2 2zM837 655l-6-1-4-4-4-6-1-8 1-6 4-7 6-5 6-1 5 1 3 6 2 14-4 12-8 5z"/>
<path fill="#008fff" fill-rule="evenodd" d="M873 855l-62 0-2-2-16-2-8-4-4 0-10-6-4 0-8-6-10-4-12-10-2 0-26-27 0-2-6-6 0-2-8-10-10-20 0-4-4-6 0-6-4-8 0-76 2-2 0-6 2-2 2-10 4-6 0-4 6-12 4-4 2-6 12-14 0-2 10-10 2 0 11 12 17 30 4 14-3 14-15 20-6 14-2 20 4 14 5 8 9 10 34 22 26 31 10 7 12 3 26 0 43-5 27-7 6-4 4-5 1-12-5-22-1-12 6-38-6-36-1-12 8-44-2-24 10-14 6 6 2 0 21 20 0 2 8 8 6 12 4 4 8 16 4 16 2 2 0 4 2 2 0 8 2 2 0 58-2 2-2 16-6 12 0 4-10 20-8 10-4 8-29 29-2 0-6 6-16 8-8 6-4 0-10 6-10 2-2 2-16 2-2 2zM837 649l-6-3-3-8 3-9 6-3 6 4 1 8-2 8-5 3z"/>
<path fill="#009fff" fill-rule="evenodd" d="M873 855l-62 0-2-2-16-2-8-4-4 0-10-6-4 0-8-6-10-4-12-10-2 0-26-27 0-2-6-6 0-2-8-10-10-20 0-4-4-6 0-6-4-8 0-76 2-2 0-6 2-2 2-10 4-6 0-4 6-12 4-4 2-6 12-14 0-2 8-7 13 11 15 28 4 16-2 12-15 20-6 16-2 18 3 14 6 8 10 10 34 23 20 25 8 8 10 6 12 3 24 0 44-4 28-6 12-6 4-7 1-6-7-38 5-40-8-36 0-12 7-44 1-22 9-11 4 1 21 20 0 2 8 8 6 12 4 4 8 16 4 16 2 2 0 4 2 2 0 8 2 2 0 58-2 2-2 16-6 12 0 4-10 20-9 10-4 8-28 29-2 0-6 6-16 8-8 6-4 0-10 6-10 2-2 2-16 2-2 2z"/>
<path fill="#00afff" fill-rule="evenodd" d="M873 855l-62 0-2-2-16-2-8-4-4 0-10-6-4 0-8-6-10-4-12-10-2 0-26-27 0-2-6-6 0-2-8-10-10-20 0-4-4-6 0-6-4-8 0-76 2-2 0-6 2-2 2-10 4-6 0-4 6-12 4-4 2-6 16-20 2 0 12 12 14 25 5 15-2 12-13 18-8 18-3 18 4 14 6 8 10 10 35 24 28 33 12 7 12 3 28 0 54-6 20-4 11-7 4-8 1-8-8-38 4-40-8-34-1-10 8-44 1-20 10-12 21 18 0 2 8 8 6 12 4 4 8 16 4 16 2 2 0 4 2 2 0 8 2 2 0 58-2 2-2 16-6 12 0 4-11 20-8 10-4 8-28 29-2 0-6 6-16 8-8 6-4 0-10 6-10 2-2 2-16 2-2 2z"/>
<path fill="#00bfff" fill-rule="evenodd" d="M873 855l-62 0-2-2-16-2-8-4-4 0-10-6-4 0-8-6-10-4-12-10-2 0-26-27 0-2-6-6 0-2-8-10-10-20 0-4-4-6 0-6-4-8 0-76 2-2 0-6 2-2 2-10 4-6 0-4 6-12 20-28 14 12 13 24 4 14-1 10-15 22-7 18-2 16 4 14 5 8 11 10 36 25 22 27 8 8 11 6 13 4 26-1 66-6 16-5 9-6 5-10 1-10-9-34 0-12 3-30-9-34-1-10 11-63 10-11 16 16 1 2 8 8 6 12 4 4 8 16 4 16 2 2 0 4 2 2 0 8 2 2 0 58-2 2-2 16-6 12 0 4-11 20-8 10-4 8-28 29-2 0-6 6-16 8-8 6-4 0-10 6-10 2-2 2-16 2-2 2z"/>
<path fill="#00cfff" fill-rule="evenodd" d="M873 855l-62 0-2-2-16-2-8-4-4 0-10-6-4 0-8-6-10-4-12-10-2 0-26-27 0-2-6-6 0-2-8-10-10-20 0-4-4-6 0-6-4-8 0-76 2-2 0-6 2-2 2-10 4-6 0-4 6-12 4-4 2-6 12-14 14 13 12 21 4 14-2 8-15 24-6 16-2 16 3 14 6 8 9 8 40 28 21 27 10 9 12 7 14 3 96-7 14-5 10-8 5-10 1-12-10-34 0-10 3-30-10-34-2-10 11-60 10-10 2 0 12 12 0 2 13 14 2 6 4 4 8 16 4 16 2 2 0 4 2 2 0 8 2 2 0 58-2 2-2 16-7 12 0 4-10 20-8 10-4 8-28 29-2 0-6 6-16 8-8 6-4 0-10 6-10 2-2 2-16 2-2 2z"/>
<path fill="#00dfff" fill-rule="evenodd" d="M873 855l-62 0-2-2-16-2-8-4-4 0-10-6-4 0-8-6-10-4-12-10-2 0-26-27 0-2-6-6 0-2-8-10-10-20 0-4-4-6 0-6-4-8 0-76 2-2 0-6 2-2 2-10 4-6 0-4 6-12 4-4 2-6 8-10 2 0 12 9 11 19 5 14-2 10-15 26-6 18-1 16 4 12 14 14 40 28 33 38 11 7 16 3 98-7 16-5 11-10 5-10 1-12-11-36 0-10 3-26-3-12-10-30 2-18 9-42 11-12 10 10 0 2 13 14 2 6 4 4 8 16 4 16 2 2 0 4 2 2 0 8 2 2 0 58-2 2-3 16-6 12 0 4-10 20-8 10-4 8-28 29-2 0-6 6-16 8-8 6-4 0-10 6-10 2-2 2-16 2-2 2z"/>
<path fill="#00efff" fill-rule="evenodd" d="M873 855l-62 0-2-2-16-2-8-4-4 0-10-6-4 0-8-6-10-4-12-10-2 0-26-27 0-2-6-6 0-2-8-10-10-20 0-4-4-6 0-6-4-8 0-76 2-2 0-6 2-2 2-10 4-6 0-4 6-12 4-4 2-6 6-6 0-2 14 11 10 17 3 12-2 12-14 26-6 16-1 14 5 14 11 12 44 31 26 31 8 9 12 7 16 2 100-7 16-5 12-10 6-12 2-14-2-10-10-26 2-36-12-38 0-18 9-42 11-10 8 6 0 2 13 14 2 6 4 4 8 16 4 16 2 2 0 4 2 2 0 8 2 2-1 58-2 2-2 16-6 12 0 4-10 20-8 10-4 8-28 29-2 0-6 6-16 8-8 6-4 0-10 6-10 2-2 2-16 2-2 2z"/>
<path fill="#00ffff" fill-rule="evenodd" d="M985 780l-2 1-12-9 1-10-1-10-12-32 3-22-1-12-12-32-2-10 1-20 8-30 1-3 11-9 1 0 4 4 0 2 8 8 7 12 4 4 8 16 4 16 2 2 0 4 2 2 0 8 2 2-1 58-2 2 0 8-2 2-2 12-4 6 0 4-14 26zM873 855l-62 0-2-2-8 0-2-2-6 0-8-4-4 0-10-6-8-2-4-4-10-4-12-10-2 0-26-27 0-2-6-6 0-2-8-10-10-20 0-4-4-6 0-6-4-8 0-76 2-2 0-6 2-2 2-10 4-6 0-4 6-12 4-4 2-6 4-4 14 10 8 14 3 12-2 12-14 28-5 14-1 14 3 12 6 8 6 6 47 32 33 40 14 8 18 3 94-6 22-6 10 10-10 12-2 0-12 10-10 4-4 4-8 2-16 8-12 2-2 2-8 0-2 2z"/>
<path fill="#10ffef" fill-rule="evenodd" d="M991 769l-13-7-4-18-10-22 0-6 3-18-1-10-14-34-2-10 1-20 7-28 13-12 14 18 3 6 4 4 8 16 4 16 2 2 0 4 2 2 0 8 2 2-1 58-2 2 0 8-2 2-2 12-4 6 0 4-8 15zM873 855l-62 0-2-2-8 0-2-2-6 0-8-4-4 0-10-6-8-2-4-4-10-4-12-10-2 0-26-27 0-2-6-6 0-2-8-10-10-20 0-4-4-6 0-6-4-8 0-76 2-2 0-6 2-2 2-10 4-6 0-4 6-12 4-4 2-6 2 0 13 8 7 14 3 10-2 12-14 28-4 14-1 14 4 14 11 12 48 32 35 43 14 7 16 3 56-5 40-1 16-2 10 11-12 11-16 8-8 6-4 0-10 6-10 2-2 2-16 2-2 2z"/>
<path fill="#20ffdf" fill-rule="evenodd" d="M997 758l-14-6-1-2-3-11-8-19 1-22-1-10-14-32-4-12 0-20 7-26 13-11 0 1 12 14 2 6 5 4 8 16 4 16 2 2 0 4 2 2 0 8 1 2 0 58-2 2-2 16-2 2 0 4-4 6-2 8zM873 855l-62 0-2-2-8 0-2-2-6 0-8-4-4 0-10-6-8-2-4-4-10-4-12-10-2 0-26-27 0-2-6-6 0-2-8-10-10-20 0-4-4-6 0-6-4-8 0-76 2-2 0-6 2-2 2-10 4-6 0-4 10-18 15 8 6 12 2 10-3 12-12 26-5 14 0 14 4 14 10 12 37 23 12 10 37 43 13 8 16 3 56-5 52-2 11 12-13 11-10 4-8 6-4 0-10 6-10 2-2 2-16 2-2 2z"/>
<path fill="#30ffcf" fill-rule="evenodd" d="M1003 744l-2 2-14-6-8-22-2-28-17-34-4-12 0-18 4-20 3-7 11-9 7 6 0 2 4 4 2 6 4 4 9 16 4 16 2 2-1 4 2 2 0 8 2 2 0 58-2 2 0 8-2 2-2 12zM873 855l-62 0-2-2-8 0-2-2-6 0-8-4-4 0-10-6-8-2-4-4-10-4-12-10-2 0-26-27 0-2-6-6 0-2-8-10-10-20 0-4-4-6 0-6-4-8 0-76 2-2 0-6 2-2 2-10 4-6 0-4 8-14 14 8 5 10 1 8-2 12-12 26-4 14 0 16 4 13 10 12 36 22 16 11 36 45 12 7 16 3 60-5 46 0 10 11-8 8-10 4-8 6-4 0-10 6-10 2-2 2-16 2-2 2z"/>
<path fill="#40ffbf" fill-rule="evenodd" d="M1005 734l-14-4-1-2-4-12-3-26-19-34-5-14 0-18 4-19 2-4 12-9 4 4 6 12 4 4 8 16 4 16 2 2 0 4 2 2 0 8 2 2 0 58-2 2 0 8-2 4zM873 855l-62 0-2-2-8 0-2-2-6 0-8-4-4 0-10-6-8-2-4-4-16-8-6-6-2 0-26-27 0-2-6-6 0-2-8-10-10-20 0-4-4-6 0-6-4-8 0-76 2-2 0-6 2-2 2-10 4-6 0-4 4-8 2 0 13 6 5 14-2 12-11 26-4 14 0 16 5 14 11 12 33 20 18 12 38 47 12 7 16 3 60-5 42 0 10 12-4 4-10 5-4 4-8 2-10 6-10 2-2 2-6 0-2 2-8 0-2 2z"/>
<path fill="#50ffaf" fill-rule="evenodd" d="M1009 717l-14-2-2-2-5-25-19-32-6-14-1-18 3-16 2-4 12-9 6 7 2 6 4 4 8 16 4 16 2 2 0 4 2 2 0 8 2 2 0 55zM873 855l-62 0-2-2-8 0-2-2-6 0-8-4-4 0-10-6-8-2-4-4-16-8-6-6-2 0-26-27 0-2-6-6 0-2-8-10-10-20 0-4-4-6 0-6-4-8 0-76 2-2 0-6 2-2 2-10 4-6 0-4 2-3 14 7 3 10-1 10-11 26-3 14 0 16 6 16 10 11 34 19 18 12 11 12 20 28 9 10 12 7 14 2 62-6 38 1 10 13 0 1-10 5-4 4-8 2-10 6-10 2-2 2-6 0-2 2-8 0-2 2z"/>
<path fill="#60ff9f" fill-rule="evenodd" d="M1009 694l-14 0-6-14-17-26-5-12-2-16 2-14 2-5 12-8 4 3 2 6 4 4 8 16 4 16 2 2 0 4 2 2 0 8 2 2 0 32zM689 674l-12-1 0-19 2-2 0-6 2-2 2-10 4-4 13 4 2 6-2 10-11 24zM873 855l-62 0-2-2-8 0-2-2-6 0-8-4-4 0-10-6-4 0-8-6-16-8-6-6-2 0-26-27 0-2-6-6 0-2-8-10-10-20 0-4-4-6 0-6-4-8 0-15 12-2 2 1 6 10 8 8 30 16 18 12 15 14 25 35 14 11 10 3 12 0 58-6 34 2 2 0 8 13-6 3-4 4-8 2-10 6-10 2-2 2-6 0-2 2-8 0-2 2z"/>
<path fill="#70ff8f" fill-rule="evenodd" d="M999 681l-4 0-16-23-6-12-4-12-1-12 2-10 1-2 12-8 2 0 2 6 4 4 8 16 4 16 2 2 0 4 2 2 0 8 2 2 0 18-10 1zM873 855l-62 0-2-2-8 0-2-2-6 0-8-4-4 0-10-6-4 0-8-6-16-8-6-6-2 0-26-27 0-2-6-6 0-2-8-10-10-20 0-4-4-6 0-6-4-8 0-6 14-2 14 12 28 14 17 10 16 16 27 38 14 10 10 3 12 1 56-7 32 2 4 1 6 12-6 5-8 2-10 6-10 2-2 2-6 0-2 2-8 0-2 2z"/>
<path fill="#80ff80" fill-rule="evenodd" d="M1007 669l-14 1-13-20-6-12-3-14 2-10 12-8 2 0 0 2 4 4 8 16 4 16 2 2 0 4 2 2 0 8 2 2 0 6-2 1zM873 855l-62 0-2-2-8 0-2-2-6 0-8-4-4 0-32-16-12-10-2 0-26-27 0-2-6-6 0-2-8-10-10-20 0-4-4-6 0-6-2-2 0-6 14-3 12 9 26 12 17 10 16 16 27 39 14 11 10 3 12 1 58-7 29 1 3 2 6 11-2 3-8 3-10 6-10 2-2 2-6 0-2 2-8 0-2 2z"/>
<path fill="#8fff70" fill-rule="evenodd" d="M997 659l-6 0-4-5-7-14-4-12 1-10 12-6 2 0 8 16 4 16 2 2 0 4 2 2 0 4-10 3zM873 855l-62 0-2-2-8 0-2-2-6 0-8-4-4 0-32-16-12-10-2 0-26-27 0-2-6-6 0-2-8-10-10-20 0-4-4-6 0-6-2-3 16-3 8 6 26 11 17 9 16 16 29 42 8 6 6 4 10 3 14 1 56-7 20 1 8 2 7 12-3 2-4 1-10 6-10 2-2 2-6 0-2 2-8 0-2 2z"/>
<path fill="#9fff60" fill-rule="evenodd" d="M993 643l-6 1-5-14 1-2 12-5 4 5 2 12-8 3zM873 855l-62 0-2-2-8 0-2-2-6 0-8-4-4 0-32-16-12-10-2 0-26-27 0-2-6-6 0-2-8-10-10-20 0-4-4-6 0-5 14-4 8 5 28 11 14 9 17 16 27 40 8 8 8 5 12 2 12 1 56-7 24 2 7 13-3 0-10 7-10 2-2 2-16 2-2 2z"/>
<path fill="#afff50" fill-rule="evenodd" d="M873 855l-62 0-2-2-8 0-2-2-6 0-8-4-4 0-32-16-12-10-2 0-26-27 0-2-6-6 0-2-8-10-10-20 0-4-4-6 0-2 16-4 32 14 14 8 17 16 29 43 8 8 8 4 12 3 12 0 58-8 19 2 5 14-8 5-10 2-2 2-16 2-2 2z"/>
<path fill="#bfff40" fill-rule="evenodd" d="M873 855l-62 0-2-2-8 0-2-2-6 0-8-4-4 0-32-16-12-10-2 0-26-27 0-2-6-6 0-2-8-10-10-20-2-10 14-4 30 12 16 9 17 17 28 42 7 8 8 4 12 3 14 1 58-8 15 2 5 14-8 3-2 2-4 0-2 2-16 2-2 2z"/>
<path fill="#cfff30" fill-rule="evenodd" d="M873 855l-62-1-2-2-8 0-2-2-6 0-8-3-4 0-32-16-12-10-2 0-26-27 0-2-6-6 0-2-8-10-10-20 0-4-2-3 16-5 28 11 14 8 9 7 9 10 28 44 8 8 8 4 12 4 14 0 56-7 8 0 5 1 5 14-10 3-2 2-6 0-2 2-8 0-2 2z"/>
<path fill="#dfff20" fill-rule="evenodd" d="M795 850l-8-2-2-1-4 0-10-6-8-2-4-4-10-4-12-10-2 0-26-27 0-2-6-6 0-2-8-10-10-20 0-5 14-5 30 11 18 13 13 14 25 40 6 7 10 7-4 14-2 0zM873 854l-46 0 1-12 3-2 52-7 6 0 4 1 4 14-12 2-2 2-8 0-2 2z"/>
<path fill="#efff10" fill-rule="evenodd" d="M787 848l-16-7-8-2-4-4-10-4-12-10-2 0-26-27 0-2-6-6 0-2-8-10-10-20 0-3 14-5 2 0 28 11 18 11 12 16 22 36 11 12 1 2-6 14zM873 854l-23 0-1-12 4-2 26-4 6 0 4 14-4 0-2 2-8 0-2 2z"/>
<path fill="#ffff00" fill-rule="evenodd" d="M781 846l-10-5-8-2-4-4-10-4-12-10-2 0-26-27 0-2-6-6 0-2-8-10-10-21 16-5 28 10 16 11 12 13 20 35 11 13 0 2-3 10-2 4-2 0z"/>
<path fill="#ffef00" fill-rule="evenodd" d="M777 844l-6-3-8-2-4-4-16-8-6-6-2 0-20-20-6-7 0-2-6-6 0-2-8-10-8-16 0-3 14-6 28 10 16 11 11 14 19 33 10 13-6 14-2 0z"/>
<path fill="#ffdf00" fill-rule="evenodd" d="M775 842l-12-3-4-4-10-4-12-10-2 0-26-27 0-2-6-6 0-2-8-10-8-17 14-6 2 0 24 8 17 11 12 16 25 42-6 14z"/>
<path fill="#ffcf00" fill-rule="evenodd" d="M771 840l-8-1-4-4-10-4-12-10-2 0-26-27 0-2-6-6 0-2-8-10-7-16 15-5 24 8 15 9 12 16 24 40-7 14z"/>
<path fill="#ffbf00" fill-rule="evenodd" d="M767 840l-8-5-10-4-12-10-2 0-26-27 0-2-6-6 0-2-8-10-6-14 14-6 24 8 15 10 12 16 21 38-8 14z"/>
<path fill="#ffaf00" fill-rule="evenodd" d="M763 838l-4-3-10-4-12-10-2 0-26-27 0-2-6-6 0-2-8-10-6-12 16-6 22 7 14 10 13 17 18 34-7 14-2 0z"/>
<path fill="#ff9f00" fill-rule="evenodd" d="M761 836l-12-5-12-10-2 0-26-27 0-2-6-6 0-2-8-10-4-8 0-3 14-6 22 7 14 10 11 16 17 32-6 14-2 0z"/>
<path fill="#ff8f00" fill-rule="evenodd" d="M759 834l-10-3-12-10-2 0-26-27 0-2-6-6 0-2-8-10-4-9 14-7 22 8 12 8 12 16 15 30 1 2-8 12z"/>
<path fill="#ff8000" fill-rule="evenodd" d="M757 833l-8-2-12-10-2 0-26-27 0-2-6-6 0-2-8-10-2-8 14-6 20 6 11 8 11 16 15 30-7 13z"/>
<path fill="#ff7000" fill-rule="evenodd" d="M753 832l-8-5-2 0-6-6-2 0-26-27 0-2-6-6 0-2-8-10-2-6 14-7 20 7 11 8 10 14 14 28-9 14z"/>
<path fill="#ff6000" fill-rule="evenodd" d="M749 830l-12-9-2 0-26-27 0-2-6-6 0-2-10-14 16-7 17 5 11 8 9 14 13 26-8 14-2 0z"/>
<path fill="#ff5000" fill-rule="evenodd" d="M747 828l-10-7-2 0-26-27 0-2-6-6 0-2-8-10 0-3 14-7 16 6 10 7 9 11 13 26 0 2-10 12z"/>
<path fill="#ff4000" fill-rule="evenodd" d="M745 826l-2 0-6-5-2 0-26-27 0-2-6-6 0-2-8-10 14-8 16 5 10 7 9 14 11 22-10 12z"/>
<path fill="#ff3000" fill-rule="evenodd" d="M743 825l-8-4-26-27 0-2-10-12-2-5 14-7 14 4 9 6 8 12 10 22-9 13z"/>
<path fill="#ff2000" fill-rule="evenodd" d="M739 822l-4-2-26-26 0-2-10-12-1-4 13-7 14 4 8 7 7 10 10 20-9 12-2 0z"/>
<path fill="#ff1000" fill-rule="evenodd" d="M737 820l-2 0-26-26 0-2-10-12 0-2 14-7 12 4 8 5 6 10 8 18-10 12z"/>
<path fill="#ff0000" fill-rule="evenodd" d="M735 819l-2-1-24-24 0-2-9-12 13-8 10 3 8 5 6 10 8 16-10 13z"/>
<path fill="#ef0000" fill-rule="evenodd" d="M731 816l-22-22 0-2-8-10 12-8 8 2 8 4 6 8 7 14-1 4-10 10z"/>
<path fill="#df0000" fill-rule="evenodd" d="M729 814l-20-20 0-2-6-6 0-2 12-8 8 2 6 4 10 18 0 3-10 11z"/>
<path fill="#cf0000" fill-rule="evenodd" d="M727 811l-2-1-16-16 0-2-5-6 13-8 10 5 10 17-10 11z"/>
<path fill="#bf0000" fill-rule="evenodd" d="M723 808l-14-14-3-6 13-8 8 6 7 10-11 12z"/>
<path fill="#af0000" fill-rule="evenodd" d="M719 804l-10-10 0-3 12-8 6 5 3 6-11 10z"/>
</g><g transform="scale(.5)" fill="none" stroke-width="1.9">
<path stroke="#4a4a0c" d="M751 530l17 30 11 30 7 8 7 3 6-2 14-13 10-7 30-10 8-5 8-12 5-22M848 772l17-6 5-4 5-6 8-34 8-24 10-22 5-22 1-18-3-12-7-7-8 1-8 8-11 30-20 40-11 9-22 13-3 4 1 26 6 16 4 5 6 4 8 1zM796 718l7-4 1-4-4-26-5-12-6-8-6-3-8-1-10 4-8 7-3 9 3 14 4 12 6 7 8 5 10 2z"/>
<path stroke="#4a3e08" d="M717 530l33 42 10 22 14 26 3 8 0 6-4 8-21 22-6 10-1 12 1 16 4 10 5 8 6 6 32 16 15 24 8 10 9 5 12 2 24-1 24-5 11-7 7-10 2-30 11-38 2-18 0-50-1-20-4-12-12-24-2-10 0-6 9-22M835 679l-10 0-8-6-13-23-4-12 0-6 6-12 20-22 11-6 14-1 9 3 6 8 1 12-3 20-4 14-5 11-10 12z"/>
<path stroke="#4a2d08" d="M685 530l52 54 20 40 2 10-3 10-16 22-6 14-1 20 5 16 12 14 33 22 19 24 9 9 12 6 16 2 38-3 20-3 22-7 6-5 3-5 1-10-4-30 7-40-5-42 6-50-3-30 27-38M839 655l-6 1-6-4-5-8-1-8 2-8 4-6 6-5 6-2 4 1 4 4 3 14-3 14z"/>
<path stroke="#4a1c08" d="M677 554l49 40 12 20 5 14 2 8-2 8-15 24-8 20 0 16 5 14 17 16 33 22 23 28 11 11 8 4 10 2 28 0 74-8 12-5 8-10 3-8 0-8-8-26-2-10 4-38-10-42 10-64 49-52"/>
<path stroke="#4a0808" d="M1009 796l-37-24 0-10-1-10-12-32 3-22 0-10-13-36-2-12 2-20 8-28 52-46M677 581l38 26 8 11 4 12 0 14-15 30-6 16 0 14 4 12 11 12 47 32 33 40 14 8 18 3 94-6 22-5 54 54"/>
<path stroke="#390818" d="M1009 732l-18-6-7-36-21-38-3-10-1-12 1-14 5-14 44-32M677 609l28 14 4 9 1 8-2 8-11 26-4 16 1 16 6 14 9 10 34 20 18 12 10 12 20 28 8 8 12 7 16 3 60-6 42 1 29 39"/>
<path stroke="#290829" d="M1009 665l-16 2-16-24-3-11-1-10 2-8 34-20M677 732l16-4 10 8 28 13 16 9 17 16 27 40 12 10 10 3 14 1 58-7 28 2 3 1 16 30"/>
<path stroke="#180839" d="M677 748l20-7 28 11 16 8 17 16 29 45 8 7 6 4 12 4 16 1 56-7 14 0 11 24"/>
<path stroke="#08084a" d="M677 758l24-9 28 10 16 11 12 14 20 34 9 12-9 24"/>
<path stroke="#08184a" d="M677 767l26-12 24 8 8 4 8 7 11 16 19 34-15 30"/>
<path stroke="#08294a" d="M677 776l30-15 20 7 13 10 9 14 13 26-21 36"/>
<path stroke="#08394a" d="M677 786l34-19 18 7 10 10 13 28-30 42"/>
<path stroke="#0c4a4a" d="M677 798l38-24 8 3 6 4 12 21 0 4-42 48"/>
</g>
</g>
<ellipse cx="421.2" cy="345.9" rx="70.20" ry="68.50" fill="none" stroke="#000" stroke-width="1.05"/>
<polyline points="434.0,277.9 424.0,267.3 418.4,267.3 408.4,277.9" fill="none" stroke="#000" stroke-width="1"/>
<polyline points="490.3,332.8 492.8,329.8 493.9,329.7 495.6,330.2 497.3,332.8 497.0,346.7 498.0,358.7 495.9,363.9 492.8,364.9 489.2,362.3" fill="none" stroke="#000" stroke-width="1"/>
<polyline points="352.1,332.8 349.6,329.8 348.5,329.7 346.8,330.2 345.1,332.8 345.4,346.7 344.4,358.7 346.5,363.9 349.6,364.9 353.2,362.3" fill="none" stroke="#000" stroke-width="1"/>
<clipPath id="cHH"><ellipse cx="610" cy="344.8" rx="77.44" ry="76.30"/></clipPath>
<ellipse cx="610" cy="344.8" rx="82.77" ry="81.55" fill="#edf5ff"/>
<g clip-path="url(#cHH)"><g transform="scale(.5)">
<rect x="1053" y="525" width="333" height="329" fill="#00009f"/>
<path fill="#0000af" fill-rule="evenodd" d="M1257 856l-74 0-2-2-6 0-8-4-10-2-6-4-4 0-8-4-4-4-6-2-4-4-8-4-6-6-2 0-23-23 0-2-6-6 0-2-8-10-2-6-6-8 0-4-6-10 0-4-4-8 0-6-2-2 0-80 4-8 4-16 10-20 8-10 0-2 6-6 0-2 29-29 14-8 4-4 24-12 10-2 8-4 6 0 2-2 78 0 2 2 6 0 8 4 10 2 24 12 4 4 8 4 6 6 2 0 27 27 0 2 6 6 16 28 0 4 4 6 0 4 4 8 0 6 2 2 0 78-4 8 0 6-4 6 0 4-12 24-4 4-4 8-8 8 0 2-29 27-8 4-4 4-10 4-4 4-4 0-10 6-16 4-2 2-6 0-2 2zM1228 761l-6 0 6 0z"/>
<path fill="#0000bf" fill-rule="evenodd" d="M1257 856l-74 0-2-2-6 0-8-4-10-2-6-4-4 0-8-4-4-4-6-2-4-4-8-4-6-6-2 0-23-23 0-2-6-6 0-2-8-10-2-6-6-8 0-4-6-10 0-4-4-8 0-6-2-2 0-80 4-8 4-16 10-20 8-10 0-2 6-6 0-2 29-29 14-8 4-4 24-12 10-2 8-4 6 0 2-2 78 0 2 2 6 0 8 4 10 2 24 12 4 4 8 4 6 6 2 0 27 27 0 2 6 6 16 28 0 4 4 6 0 4 4 8 0 6 2 2 0 78-4 8 0 6-4 6 0 4-12 24-4 4-4 8-8 8 0 2-29 27-8 4-4 4-10 4-4 4-4 0-10 6-16 4-2 2-6 0-2 2zM1233 769l18-6 3-2-1-2-10-4-14-2-16 2-6 4 1 4 7 5 8 1 10 0z"/>
<path fill="#0000cf" fill-rule="evenodd" d="M1257 856l-74 0-2-2-6 0-8-4-10-2-6-4-4 0-8-4-4-4-6-2-4-4-8-4-6-6-2 0-23-23 0-2-6-6 0-2-8-10-2-6-6-8 0-4-6-10 0-4-4-8 0-6-2-2 0-80 4-8 4-16 10-20 8-10 0-2 6-6 0-2 29-29 14-8 4-4 24-12 10-2 8-4 6 0 2-2 78 0 2 2 6 0 8 4 10 2 24 12 4 4 8 4 6 6 2 0 27 27 0 2 6 6 16 28 0 4 4 6 0 4 4 8 0 6 2 2 0 78-4 8 0 6-4 6 0 4-12 24-4 4-4 8-8 8 0 2-29 27-8 4-4 4-10 4-4 4-4 0-10 6-16 4-2 2-6 0-2 2zM1235 773l38-8 6-4 0-4-8-5-38-3-22 3-8 5 0 6 8 7 12 3 12 0z"/>
<path fill="#0000df" fill-rule="evenodd" d="M1257 856l-74 0-2-2-6 0-8-4-10-2-6-4-4 0-8-4-4-4-6-2-4-4-8-4-6-6-2 0-23-23 0-2-6-6 0-2-8-10-2-6-6-8 0-4-6-10 0-4-4-8 0-6-2-2 0-80 4-8 4-16 10-20 8-10 0-2 6-6 0-2 29-29 14-8 4-4 24-12 10-2 8-4 6 0 2-2 78 0 2 2 6 0 8 4 10 2 24 12 4 4 8 4 6 6 2 0 27 27 0 2 6 6 16 28 0 4 4 6 0 4 4 8 0 6 2 2 0 78-4 8 0 6-4 6 0 4-13 24-4 4-4 8-8 8 0 2-28 26-8 5-4 4-10 4-4 4-4 0-10 6-16 4-2 2-6 0-2 2zM1279 645l4-5 1-7-1-7-4-4-5 5-2 10 3 7 4 1zM1245 775l24-4 10-4 7-6-1-6-4-4-6-2-34-3-30 3-6 2-4 4-1 6 2 4 9 8 16 3 18-1z"/>
<path fill="#0000ef" fill-rule="evenodd" d="M1257 856l-74 0-2-2-6 0-8-4-10-2-6-4-4 0-8-4-4-4-6-2-4-4-8-4-6-6-2 0-23-23 0-2-6-6 0-2-8-10-2-6-6-8 0-4-6-10 0-4-4-8 0-6-2-2 0-80 4-8 4-16 10-20 8-10 0-2 6-6 0-2 29-29 14-8 4-4 24-12 10-2 8-4 6 0 2-2 78 0 2 2 6 0 8 4 10 2 24 12 4 4 8 4 6 6 2 0 27 27 0 2 6 6 16 28 0 4 4 6 0 4 4 8 0 6 2 2 0 78-4 8-1 6-4 6 0 4-12 24-4 4-4 8-8 8 0 2-28 26-8 4-4 4-10 5-4 4-4 0-10 6-16 4-2 2-6 0-2 2zM1279 655l6-8 3-14-2-12-3-3-4-2-4 3-4 6-3 14 3 13 4 3 4 0zM1238 779l33-6 10-3 8-7 1-6-1-4-6-6-6-2-32-3-34 4-6 2-5 5-2 4 0 6 3 5 6 5 14 5 17 1z"/>
<path fill="#0000ff" fill-rule="evenodd" d="M1257 856l-74 0-2-2-6 0-8-4-10-2-6-4-4 0-8-4-4-4-6-2-4-4-8-4-6-6-2 0-23-23 0-2-6-6 0-2-8-10-2-6-6-8 0-4-6-10 0-4-4-8 0-6-2-2 0-80 4-8 4-16 10-20 8-10 0-2 6-6 0-2 29-29 14-8 4-4 24-12 10-2 8-4 6 0 2-2 78 1 2 2 6 0 8 4 10 2 24 11 4 4 8 4 6 6 2 0 27 27 0 2 6 6 16 28 0 4 4 6 0 4 4 8 0 6 2 2-1 78-4 8 0 6-4 6 0 4-12 24-4 4-4 8-8 8 0 2-28 26-8 4-4 4-10 4-4 5-4 0-10 6-16 4-2 2-6 0-2 2zM1280 663l5-6 3-6 3-18-3-14-5-5-4-1-6 4-4 6-3 10-1 10 1 10 4 8 5 3 5-1zM1244 781l31-6 10-4 5-4 3-6 0-6-3-6-5-5-6-2-34-3-36 5-6 2-5 5-2 6 0 6 3 6 7 6 17 6 21 0z"/>
<path fill="#0010ff" fill-rule="evenodd" d="M1257 856l-74 0-2-2-6 0-8-4-10-2-6-4-4 0-8-4-4-4-6-2-4-4-8-4-6-6-2 0-23-23 0-2-6-6 0-2-8-10-2-6-6-8 0-4-6-10 0-4-4-8 0-6-2-2 0-80 4-8 4-16 10-20 8-10 0-2 6-6 0-2 29-29 14-8 4-4 24-12 10-2 8-4 6 0 2-2 78 1 2 2 6 0 8 4 10 2 24 12 4 4 8 4 6 5 2 0 27 27 0 2 6 6 16 28 0 4 4 6 0 4 4 8 0 6 2 2-1 78-4 8 0 6-4 6 0 4-12 24-4 4-4 8-8 8 0 2-28 26-8 4-4 4-10 4-4 4-4 0-10 7-16 4-2 2-6 0-2 2zM1281 669l6-6 3-8 4-22-1-8-4-8-4-5-6-1-8 4-5 8-3 12-1 12 2 12 4 8 7 4 6-2zM1248 783l29-6 13-6 4-6 2-6-1-8-4-7-6-4-6-2-32-3-40 7-6 3-4 4-3 6 0 8 5 8 6 6 8 4 12 3 23-1z"/>
<path fill="#0020ff" fill-rule="evenodd" d="M1257 856l-74 0-2-2-6 0-8-4-10-2-6-4-4 0-8-4-4-4-6-2-4-4-8-4-6-6-2 0-23-23 0-2-6-6 0-2-8-10-2-6-6-8 0-4-6-10 0-4-4-8 0-6-2-2 0-80 4-8 4-16 10-20 8-10 0-2 6-6 0-2 29-29 14-8 4-4 24-12 10-2 8-4 6 0 2-2 78 1 2 2 6 0 8 4 10 2 24 12 4 4 8 4 6 6 2 0 27 26 0 2 6 6 15 28 0 4 4 6 0 4 4 8 0 6 2 2 0 78-4 8 0 6-4 6 0 4-12 24-4 4-4 8-8 8 0 2-28 26-8 4-4 4-10 4-4 4-4 0-10 6-16 5-2 2-6 0-2 2zM1278 677l7-4 5-8 4-12 2-14 0-10-3-10-6-8-6-2-8 2-7 8-5 12-2 14 1 14 4 10 7 7 7 1zM1251 785l30-6 8-4 6-6 4-8 0-8-4-9-6-6-10-5-32-2-26 6-14 2-6 3-5 5-4 8 0 8 5 9 8 7 8 4 12 3 26-1z"/>
<path fill="#0030ff" fill-rule="evenodd" d="M1257 856l-74 0-2-2-6 0-8-4-10-2-6-4-4 0-8-4-4-4-6-2-4-4-8-4-6-6-2 0-23-23 0-2-6-6 0-2-8-10-2-6-6-8 0-4-6-10 0-4-4-8 0-6-2-2 0-80 4-8 4-16 10-20 8-10 0-2 6-6 0-2 29-29 14-8 4-4 24-12 10-2 8-3 6 0 2-2 78 0 2 2 6 0 8 4 10 2 24 12 4 4 8 4 6 6 2 0 26 26 0 2 6 6 16 28 0 4 4 6 0 4 4 8 0 6 2 2 0 78-4 8 0 6-4 6 0 4-12 24-4 4-4 8-8 8 0 2-28 26-8 4-4 4-10 4-4 4-4 0-10 6-16 5-2 2-6 0-2 2zM1281 683l8-7 5-11 3-14 1-16-1-10-4-10-6-6-8-2-9 4-7 10-5 14-2 18 3 16 6 10 8 5 8-1zM1253 787l30-7 10-5 5-6 3-8 0-10-4-10-8-9-12-5-28-1-28 8-16 3-10 7-4 9 0 10 4 9 8 8 10 5 12 3 12 1 16-2z"/>
<path fill="#0040ff" fill-rule="evenodd" d="M1257 855l-74 1-2-2-6 0-8-4-10-2-6-4-4 0-8-4-4-4-6-2-4-4-8-4-6-6-2 0-23-23 0-2-6-6 0-2-8-10-2-6-6-8 0-4-6-10 0-4-4-8 0-6-2-2 0-80 4-8 4-16 10-20 8-10 0-2 6-6 0-2 29-29 14-8 4-4 24-11 10-2 8-4 6 0 2-2 78 0 2 2 6 0 8 4 10 2 24 12 4 4 8 4 6 6 2 0 26 26 0 2 6 6 16 28 0 4 4 6 0 4 4 8 0 6 2 2 0 78-4 8 0 6-4 6 0 4-12 24-4 4-4 8-8 8 0 2-28 26-8 4-4 4-10 4-4 4-4 0-10 6-16 4-2 2-6 0-2 2zM1275 695l4-1 6-5 8-11 5-13 2-18 0-16-3-12-7-10-9-4-10 3-8 9-6 14-3 18 1 16 4 15 8 11 8 4zM1254 789l23-4 10-4 9-6 6-8 3-10-2-10-6-12-10-11-12-7-10 0-20 5-24 9-16 2-10 7-6 11-1 10 4 10 9 10 10 5 12 4 14 1 17-2z"/>
<path fill="#0050ff" fill-rule="evenodd" d="M1257 855l-74 1-2-2-6 0-8-4-10-2-6-4-4 0-8-4-4-4-6-2-4-4-8-4-6-6-2 0-23-23 0-2-6-6 0-2-8-10-2-6-6-8 0-4-6-10 0-4-4-8 0-6-2-2 0-80 4-8 4-16 10-20 8-10 0-2 6-6 0-2 29-29 14-8 4-4 24-11 10-2 8-4 6 0 2-2 78 0 2 2 6 0 8 4 10 2 24 12 4 4 8 4 6 6 2 0 26 26 0 2 6 6 16 28 0 4 4 6 0 4 4 8 0 6 2 2 0 78-4 8 0 6-4 6 0 4-12 24-4 4-4 8-8 8 0 2-28 26-8 4-4 4-10 4-4 4-4 0-10 6-16 4-2 2-6 0-2 2zM1255 791l24-5 13-5 11-10 4-12 0-8-2-8-16-28-3-8 2-8 9-20 3-12 2-20 0-18-3-10-4-7-6-6-6-2-9 1-9 6-6 9-5 13-3 26 2 16 5 22-2 10-10 8-16 8-11 4-14 3-6 2-8 10-4 13 1 10 4 8 7 8 8 6 10 3 12 2 26-1z"/>
<path fill="#0060ff" fill-rule="evenodd" d="M1257 855l-74 1-2-2-6 0-8-4-10-2-6-4-4 0-8-4-4-4-6-2-4-4-8-4-6-6-2 0-23-23 0-2-6-6 0-2-8-10-2-6-6-8 0-4-6-10 0-4-4-8 0-6-2-2 0-80 4-8 4-16 10-20 8-10 0-2 6-6 0-2 29-29 14-8 4-4 24-11 10-2 8-4 6 0 2-2 78 0 2 2 6 0 8 4 10 2 24 12 4 4 8 4 6 6 2 0 26 26 0 2 6 6 16 28 0 4 4 6 0 4 4 8 0 6 2 2 0 78-4 8 0 6-4 6 0 4-12 24-4 4-4 8-8 8 0 2-28 26-8 4-4 4-10 4-4 4-4 0-10 6-16 4-2 2-6 0-2 2zM1256 793l25-5 12-5 11-10 6-14-2-14-11-28-3-10 10-42 0-36-3-10-5-8-6-6-7-3-8 1-8 4-7 8-5 10-6 26 1 42-3 12-8 7-11 7-25 7-6 3-7 10-5 14 0 8 3 10 7 9 10 8 10 4 12 2 29-1z"/>
<path fill="#0070ff" fill-rule="evenodd" d="M1257 855l-74 0-2-2-6 1-8-4-10-2-6-4-4 0-8-4-4-4-6-2-4-4-8-4-6-6-2 0-23-23 0-2-6-6 0-2-8-10-2-6-6-8 0-4-6-10 0-4-4-8 0-6-2-2 0-80 4-8 4-16 10-20 8-10 0-2 6-6 0-2 29-29 14-8 4-3 24-12 10-2 8-4 6 0 2-2 78 0 2 2 6 0 8 4 10 2 24 12 4 4 8 4 6 6 2 0 26 26 0 2 6 6 16 28 0 4 4 6 0 4 4 8 0 6 2 2 0 78-4 8 0 6-4 6 0 4-12 24-4 4-4 8-8 8 0 2-28 26-8 4-4 4-10 4-4 4-4 0-10 6-16 4-2 2-6 0-2 2zM1257 795l24-5 14-5 12-12 6-14-1-12-10-28-2-12 7-42-1-36-3-10-6-10-6-5-8-3-8 0-8 4-8 8-4 8-8 26-2 42-4 12-7 8-9 6-24 6-6 3-6 11-6 18 0 10 5 10 7 9 10 8 10 4 12 2 30-1z"/>
<path fill="#0080ff" fill-rule="evenodd" d="M1257 855l-74 0-2-2-6 0-8-4-10-1-6-4-4 0-8-4-4-4-6-2-4-4-8-4-6-6-2 0-23-23 0-2-6-6 0-2-8-10-2-6-6-8 0-4-6-10 0-4-4-8 0-6-2-2 0-80 4-8 4-16 10-20 8-10 0-2 6-6 0-2 29-29 14-7 4-4 24-12 10-2 8-4 6 0 2-2 78 0 2 2 6 0 8 4 10 2 24 12 4 4 8 4 6 6 2 0 26 26 0 2 6 6 16 28 0 4 4 6 0 4 4 8 0 6 2 2 0 78-4 8 0 6-4 6 0 4-12 24-4 4-4 8-8 8 0 2-28 26-8 4-4 4-10 4-4 4-4 0-10 6-16 4-2 2-6 0-2 2zM1257 797l26-5 14-6 13-13 5-14 0-12-8-26-2-14 4-42-1-36-3-10-6-10-8-7-8-3-8 1-10 5-6 6-5 8-8 26-5 40-5 14-7 7-8 5-31 8-9 34 0 10 5 10 8 10 9 8 10 4 14 3 30-1z"/>
<path fill="#008fff" fill-rule="evenodd" d="M1257 855l-74 0-2-2-6 0-8-4-10-2-6-3-4 0-8-4-4-4-6-2-4-4-8-4-6-6-2 0-23-23 0-2-6-6 0-2-8-10-2-6-6-8 0-4-6-10 0-4-4-8 1-6-2-2-1-80 4-8 4-16 10-20 8-10 0-2 6-6 0-2 29-29 14-7 4-4 24-12 10-2 8-4 6 0 2-2 78 0 2 2 6 0 8 4 10 2 24 12 4 4 8 4 6 6 2 0 26 26 0 2 6 6 16 28 0 4 4 6 0 4 4 8 0 6 2 2 0 78-4 8 0 6-4 6 0 4-12 24-4 4-4 8-8 8 0 2-28 26-8 4-4 4-10 4-4 4-4 0-10 6-16 4-2 2-6 0-2 2zM1257 799l26-5 16-7 13-12 4-8 2-8 0-12-8-38 2-46-3-36-3-10-7-10-8-7-8-3-8 1-10 5-7 6-5 7-10 31-6 38-7 14-8 6-9 4-12 2-20 0-4 2 5 12 1 6-4 22 0 8 5 12 9 12 12 9 14 5 18 2 20-2z"/>
<path fill="#009fff" fill-rule="evenodd" d="M1257 855l-74 0-2-2-6 0-8-4-10-2-6-4-4 0-8-3-4-4-6-2-4-4-8-4-6-6-2 0-23-23 0-2-6-6 0-2-8-10-2-6-6-8 0-4-6-10 0-4-3-8 0-6-2-2-1-80 4-8 4-16 10-20 8-10 0-2 6-6 0-2 29-29 14-7 4-4 24-12 10-2 8-4 6 0 2-2 78 0 2 2 6 0 8 4 10 2 24 12 4 4 8 4 6 6 2 0 26 26 0 2 6 6 16 28 0 4 4 6 0 4 4 8 0 6 2 2 0 78-4 8 0 6-4 6 0 4-12 24-4 4-4 8-8 8 0 2-28 26-8 4-4 4-10 4-4 4-4 0-10 6-16 4-2 2-6 0-2 2zM1257 801l28-5 16-7 14-14 4-8 2-10 0-10-7-38 1-44-4-38-4-12-7-10-9-7-8-3-8 1-10 5-8 6-5 8-11 30-7 36-7 14-7 6-9 4-12 1-22 0-4 1-2 4 1 6 6 10 2 6-4 20 1 10 5 10 9 12 12 10 14 5 18 2 22-1z"/>
<path fill="#00afff" fill-rule="evenodd" d="M1257 855l-74 0-2-2-6 0-8-4-10-2-6-4-4 0-8-4-4-3-6-2-4-4-8-4-6-6-2 0-23-23 0-2-6-6 0-2-8-10-2-6-6-8 0-4-5-10 0-4-4-8 0-6-2-2-1-80 4-8 4-16 10-20 8-10 0-2 6-6 0-2 29-28 14-8 4-4 24-12 10-2 8-4 6 0 2-2 78 0 2 2 6 0 8 4 10 2 24 12 4 4 8 4 6 6 2 0 26 26 0 2 6 6 16 28 0 4 4 6 0 4 4 8 0 6 2 2 0 78-4 8 0 6-4 6 0 4-12 24-4 4-4 8-8 8 0 2-28 26-8 4-4 4-10 4-4 4-4 0-10 6-16 4-2 2-6 0-2 2zM1257 803l28-5 18-8 15-15 4-8 3-10-1-12-6-36 0-44-5-38-5-12-8-12-9-7-8-2-8 0-12 6-6 5-6 8-12 32-7 34-9 14-8 6-8 2-34 3-3 3-3 8 1 6 7 8 2 6-4 18 2 10 6 12 11 14 13 9 14 5 18 1 20-1z"/>
<path fill="#00bfff" fill-rule="evenodd" d="M1257 855l-74 0-2-2-6 0-8-4-10-2-6-4-4 0-8-4-4-4-6-1-4-4-8-4-6-6-2 0-23-23 0-2-6-6 0-2-8-10-2-6-6-8 0-4-5-10 0-4-4-8 0-6-2-2-1-80 4-8 4-16 10-20 8-10 0-2 6-6 0-2 29-28 14-8 4-4 24-12 10-2 8-4 6 0 2-2 78 0 2 2 6 0 8 4 10 2 24 12 4 4 8 4 6 6 2 0 26 26 0 2 6 6 16 28 0 4 4 6 0 4 4 8 0 6 2 2 0 78-4 8 0 6-4 6 0 4-12 24-4 4-4 8-8 8 0 2-28 26-8 4-4 4-10 4-4 4-4 0-10 6-16 4-2 2-6 0-2 2zM1257 805l30-5 18-9 8-6 8-10 4-8 3-10 0-12-6-40-1-42-6-36-5-12-9-13-8-7-10-3-8 0-12 6-8 6-5 7-13 34-8 32-7 12-7 5-8 4-34 4-5 5-6 12 0 4 12 12-4 18 3 12 10 16 10 11 12 8 14 4 18 2 20-1zM1145 719l0-4-4-2-1 2 1 3 4 1z"/>
<path fill="#00cfff" fill-rule="evenodd" d="M1257 855l-74 0-2-2-6 0-8-4-10-2-6-4-4 0-8-4-4-4-6-2-4-4-8-3-6-6-2 0-23-23 0-2-6-6 0-2-8-10-2-6-6-8 0-4-5-10 0-4-4-8 0-6-2-2-1-80 4-8 4-16 10-20 8-10 0-2 6-6 0-2 29-28 14-8 4-4 24-12 10-2 8-4 6 0 2-2 78 0 2 2 6 0 8 4 10 2 24 12 4 4 8 4 6 6 2 0 26 26 0 2 6 6 16 28 0 4 4 6 0 4 4 8 0 6 2 2 0 78-4 8 0 6-4 6 0 4-12 24-4 4-4 8-8 8 0 2-28 26-8 4-4 4-10 4-4 4-4 0-10 6-16 4-2 2-6 0-2 2zM1256 807l31-5 20-9 16-16 6-10 2-10 0-14-6-40-1-40-7-36-6-14-10-13-8-7-10-3-8 0-12 6-7 5-6 6-5 10-10 28-9 30-4 8-5 5-12 6-32 6-14 14-6 0-8-6-4-1-4 2-4 6 2 8 6 6 20 4 6 3 0 17 3 10 14 22 11 11 12 7 14 4 16 1 19-1z"/>
<path fill="#00dfff" fill-rule="evenodd" d="M1257 855l-74 0-2-2-6 0-8-4-10-2-6-4-4 0-8-4-4-4-6-2-4-4-8-4-6-5-2 0-23-23 0-2-6-6 0-2-8-10-2-6-6-8 1-4-6-10 0-4-4-8 0-6-2-2-1-80 4-8 4-16 10-20 8-10 0-2 6-6 0-2 29-28 14-8 4-4 24-12 10-2 8-4 6 0 2-2 78 0 2 2 6 0 8 4 10 2 24 12 4 4 8 4 6 6 2 0 26 26 0 2 6 6 16 28 0 4 4 6 0 4 4 8 0 6 2 2 0 78-4 8 0 6-4 6 0 4-12 24-4 4-4 8-8 8 0 2-28 26-8 4-4 4-10 4-4 4-4 0-10 6-16 4-2 2-6 0-2 2zM1255 809l34-6 20-9 9-7 9-10 5-10 3-12 0-14-6-40-2-38-7-36-7-14-10-14-10-8-10-4-6 0-8 3-12 7-8 8-5 10-12 30-8 28-9 13-12 6-28 5-16 13-6-1-8-5-6 0-6 4-4 7 1 6 3 7 8 7 16 8 13 26 15 20 10 9 12 7 14 4 16 1 18-1z"/>
<path fill="#00efff" fill-rule="evenodd" d="M1257 855l-74 0-2-2-6 0-8-4-10-2-6-4-4 0-8-4-4-4-6-2-4-4-8-4-6-5-2 0-23-23 0-2-6-6 0-2-8-10-2-6-5-8 0-4-6-10 0-4-4-8 0-6-2-2 0-80 3-8 4-16 10-20 8-10 0-2 6-6 0-2 29-28 14-8 4-4 24-12 10-2 8-4 6 0 2-2 78 0 2 2 6 0 8 4 10 2 24 12 4 4 8 4 6 6 2 0 26 26 0 2 6 6 16 28 0 4 4 6 0 4 4 8 0 6 2 2 0 78-4 8 0 6-4 6 0 4-12 24-4 4-4 8-8 8 0 2-28 26-8 4-4 4-10 4-4 4-4 0-10 6-16 4-2 2-6 0-2 2zM1254 811l35-5 12-4 10-6 11-9 8-10 5-10 3-12 1-14-6-38-3-40-8-36-7-14-12-16-10-9-10-3-8 0-8 3-12 8-7 7-5 8-13 34-8 26-9 12-10 5-30 8-10 10-4 2-4-1-10-6-8 0-8 6-3 8 0 8 5 9 22 18 31 41 9 8 12 7 14 4 16 2 19-1z"/>
<path fill="#00ffff" fill-rule="evenodd" d="M1257 855l-74 0-2-2-6 0-8-4-10-2-6-4-4 0-8-4-4-4-6-2-4-4-8-4-6-6-2 0-23-22 0-2-6-6 0-2-8-10-2-6-5-8 0-4-6-10 0-4-4-8 0-6-2-2 0-80 4-8 3-16 10-20 8-10 0-2 6-6 1-2 28-28 14-8 4-4 24-12 10-2 8-4 6 0 2-2 78 0 2 2 6 0 8 4 10 2 24 12 4 4 8 4 6 6 2 0 26 26 0 2 6 6 16 28 0 4 4 6 0 4 4 8 0 6 2 2 0 78-4 8 0 6-4 6 0 4-12 24-4 4-4 8-8 8 0 2-28 26-8 4-4 4-10 4-4 4-4 0-10 6-16 4-2 2-6 0-2 2zM1253 813l38-6 12-4 11-6 12-10 8-10 6-12 3-12-1-16-6-36-3-40-8-32-7-16-15-19-10-8-10-4-8 0-10 4-12 8-7 7-19 44-8 24-8 11-10 6-28 8-12 11-6-2-10-7-6 0-12 9-5 10 1 10 6 10 22 21 23 25 11 14 8 7 10 5 14 5 18 2 18-1z"/>
<path fill="#10ffef" fill-rule="evenodd" d="M1257 855l-74 0-2-2-6 0-8-4-10-2-6-4-4 0-8-4-4-4-6-2-4-4-8-4-6-6-2 0-23-22 0-2-6-6 0-2-8-10-1-6-6-8 0-4-6-10 0-4-4-8 0-6-2-2 0-80 4-8 3-16 10-20 8-10 0-2 7-6 0-2 28-28 14-8 4-4 24-12 10-2 8-4 6 0 2-2 78 0 2 2 6 0 8 4 10 2 24 12 4 4 8 4 6 6 2 0 26 26 0 2 6 6 16 28 0 4 4 6 0 4 4 8 0 6 2 2 0 78-4 8 0 6-4 6 0 4-12 24-4 4-4 8-8 8 0 2-28 26-8 4-4 4-10 4-4 4-4 0-10 6-16 4-2 2-6 0-2 2zM1252 815l39-5 14-5 11-6 12-10 8-10 7-12 3-14 1-16-7-38-4-38-8-32-8-16-17-22-10-8-12-4-8 0-10 4-10 7-8 8-6 11-6 19-9 17-7 22-8 11-9 5-29 8-5 4-5 6-5-2-7-12-4 1-18 13-5 6-3 8 1 10 7 12 24 26 22 19 10 13 8 8 11 6 13 4 18 2 19 0z"/>
<path fill="#20ffdf" fill-rule="evenodd" d="M1257 855l-74 0-2-2-6 0-8-4-10-2-6-4-4 0-8-4-4-4-6-2-4-4-8-4-6-6-2 0-23-22 0-2-6-6 0-2-7-10-2-6-6-8 0-4-6-10 0-4-4-8 0-6-2-2 0-80 4-8 3-16 10-20 9-10 0-2 6-6 0-2 28-28 14-8 4-4 24-12 10-2 8-4 6 0 2-2 78 0 2 2 6 0 8 4 10 2 24 12 4 4 8 4 6 6 2 0 26 26 0 2 6 6 16 28 0 4 4 6 0 4 4 8 0 6 2 2 0 78-4 8 0 6-4 6 0 4-12 24-4 4-4 8-8 8 0 2-28 26-8 4-4 4-10 4-4 4-4 0-10 6-16 4-2 2-6 0-2 2zM1251 817l42-6 14-4 12-7 11-9 10-12 7-14 4-14 0-16-8-38-3-38-8-28-10-18-19-25-12-9-12-4-8 1-10 4-10 7-8 9-6 11-6 20-10 18-6 20-7 10-11 6-32 7-3-1-7-10-4-2-4 1-26 27-5 12 2 12 7 12 22 25 23 19 19 21 10 6 14 5 18 2 20 0z"/>
<path fill="#30ffcf" fill-rule="evenodd" d="M1257 855l-74 0-2-2-6 0-8-4-10-2-6-4-4 0-8-4-4-4-6-2-4-4-8-4-6-6-2 0-23-22 0-2-6-6 0-2-7-10-2-6-6-8 0-4-6-10 0-4-4-8 0-6-2-2 0-80 4-8 4-16 10-20 8-10 0-2 6-6 0-2 28-28 14-8 4-4 24-12 10-2 8-4 6 0 2-2 78 0 2 2 6 0 8 4 10 2 24 12 4 4 8 4 6 6 2 0 26 26 0 2 6 6 16 28 0 4 4 6 0 4 4 8 0 6 2 2 0 78-4 8 0 6-4 6 0 4-12 24-4 4-4 8-8 8 0 2-28 26-8 4-4 4-10 4-4 4-4 0-10 6-16 4-2 2-6 0-2 2zM1249 819l46-6 14-5 13-7 13-10 11-14 6-14 3-14 0-14-8-40-4-38-7-24-11-20-22-28-12-10-14-4-10 1-8 4-10 8-8 9-6 12-6 21-10 17-7 20-5 8-12 7-22 3-6-1-12-10-8 0-6 5-10 14-13 14-5 12 0 8 5 10 23 30 8 8 20 14 18 20 10 6 14 5 18 3 20 0z"/>
<path fill="#40ffbf" fill-rule="evenodd" d="M1257 855l-74 0-2-2-6 0-8-4-10-2-6-4-4 0-8-4-4-4-6-2-4-4-8-4-6-6-2 0-23-22 0-2-6-6 1-2-8-10-2-6-6-8 0-4-6-10 0-4-4-8 0-6-2-2 0-80 4-8 4-16 10-20 8-10 0-2 6-6 0-2 28-28 14-8 4-4 24-12 10-2 8-4 6 0 2-2 78 0 2 2 6 0 8 4 10 2 24 12 4 4 8 4 6 6 2 0 26 26 0 2 6 6 16 28 0 4 4 6 0 4 4 8 0 6 2 2 0 78-4 8 0 6-4 6 0 4-8 15-13-7 1-28-9-38-3-42-6-18-13-22-25-31-12-11-12-5-10-1-8 3-10 7-10 12-7 12-8 26-9 16-7 20-5 8-12 6-16 1-6-2-14-10-4-1-6 1-8 7-12 18-13 14-4 8 0 10 3 8 6 10 24 32 24 16 16 17 12 9 10 4 14 3 30 1 44-5 28-10 10 11-8 8-8 4-4 4-10 4-4 4-4 0-10 6-16 4-2 2-6 0-2 2z"/>
<path fill="#50ffaf" fill-rule="evenodd" d="M1257 855l-74 0-2-2-6 0-8-4-10-2-6-4-4 0-8-4-4-4-6-2-4-4-8-4-6-6-2 0-22-22 0-2-6-6 0-2-8-10-2-6-6-8 0-4-6-10 0-4-4-8 0-6-2-2 0-80 4-8 4-16 10-20 8-10 0-2 6-6 0-2 28-28 14-8 4-4 24-12 10-2 8-4 6 0 2-2 78 0 2 2 6 0 8 4 10 2 24 12 4 4 8 4 6 6 2 0 26 26 0 2 6 6 16 28 0 4 4 6 0 4 4 8 0 6 2 2 0 78-2 2-2 12-4 8-14-6-2-16-9-36-3-42-4-12-8-14-9-14-33-40-18-11-8-3-6 0-6 3-8 7-16 20-5 12-6 24-10 16-7 19-4 7-10 5-12 1-8-3-14-11-4-1-6 1-12 10-12 20-14 15-4 13 2 12 28 41 8 9 20 12 15 16 11 8 20 7 30 3 44-3 26-7 9 12-3 4-16 8-4 4-4 0-10 6-16 4-2 2-6 0-2 2z"/>
<path fill="#60ff9f" fill-rule="evenodd" d="M1257 855l-74 0-2-2-6 0-8-4-10-2-6-4-4 0-8-4-4-4-6-2-4-4-8-4-6-6-2 0-22-22 0-2-6-6 0-2-8-10-2-6-6-8 0-4-6-10 0-4-4-8 0-6-2-2 0-80 4-8 4-16 10-20 8-10 0-2 6-6 0-2 28-28 14-8 4-4 24-12 10-2 8-4 6 0 2-2 78 0 2 2 6 0 8 4 10 2 24 12 4 4 8 4 6 6 2 0 26 26 0 2 6 6 16 28 0 4 4 6 0 4 4 8 0 6 2 2 0 78-4 9-14-4-1-3-10-40-3-42-10-22-48-61-18-14-8-3-6-1-6 2-8 6-17 23-7 16-6 26-10 16-8 20-4 5-8 4-11-1-9-6-10-13-2-2-4 1-18 16-15 24-14 16-4 12 1 12 6 10 25 36 7 8 20 13 24 21 19 8 27 4 44-2 26-4 9 12-1 2-10 4-4 4-4 0-10 6-16 4-2 2-6 0-2 2zM1167 631l6-6 3-8-1-6-6-4-4 0-4 3-3 9 2 12 3 2 4-2z"/>
<path fill="#70ff8f" fill-rule="evenodd" d="M1257 855l-74 0-2-2-6 0-8-4-10-2-6-4-4 0-8-4-4-4-6-2-4-4-8-4-6-6-2 0-22-22 0-2-6-6 0-2-8-10-2-6-6-8 0-4-6-10 0-4-4-8 0-6-2-2 0-80 4-8 4-16 10-20 8-10 0-2 6-6 0-2 28-28 14-8 4-4 24-12 10-2 8-4 6 0 2-2 78 0 2 2-4 14-14 11-16 25-6 16-4 26-10 16-9 20-5 4-6 1-6-2-6-5-3-10 10-20 0-12-3-6-6-4-6 0-6 2-7 10-4 20-4 10-27 40-16 20-2 8 0 10 6 12 16 22 14 22 24 17 18 16 10 7 18 6 26 4 64-4 7 12-1 2-20 10-16 4-2 2-6 0-2 2zM1387 727l-16-4-9-32-1-34-3-14-16-26-21-24-16-23-13-15-1-2 7-12 3 0 8 4 4 4 8 4 6 6 2 0 26 26 0 2 10 12 2 6 4 4 6 12 0 4 4 6 0 4 4 8 0 6 2 2 0 76z"/>
<path fill="#80ff80" fill-rule="evenodd" d="M1257 855l-74 0-2-2-6 0-8-4-10-2-6-4-4 0-8-4-4-4-6-2-4-4-8-4-6-6-2 0-22-22 0-2-6-6 0-2-8-10-2-6-6-8 0-4-6-10 0-4-4-8 0-6-2-2 0-80 4-8 4-16 10-20 8-10 0-2 6-6 0-2 28-28 14-8 4-4 24-12 10-2 8-4 6 0 2-2 65 0-3 14-12 14-15 24-3 12-2 26-10 16-7 18-3 3-4 0-5-5 0-6 8-12 2-6-2-10-4-12-4-4-5-3-8 0-6 2-6 5-5 8-8 26-5 10-22 34-16 21-3 11 0 10 6 12 18 24 13 22 24 17 28 22 18 7 24 4 20 0 38-3 4 1 6 14-4 0-10 6-16 4-2 2-6 0-2 2zM1387 715l-14-2-7-24 0-32-3-14-10-18-30-34-18-28-1-2 7-12 4 0 12 10 2 0 26 26 0 2 10 12 2 6 4 4 6 12 0 4 4 6 0 4 4 8 0 6 2 2 0 64z"/>
<path fill="#8fff70" fill-rule="evenodd" d="M1257 855l-74 0-2-2-6 0-8-4-10-2-6-4-4 0-8-4-4-4-6-2-4-4-8-4-6-6-2 0-22-22 0-2-6-6 0-2-8-10-2-6-6-8 0-4-6-10 0-4-4-8 0-6-2-2 0-80 4-8 4-16 10-20 8-10 0-2 6-6 0-2 28-28 14-8 4-4 24-12 10-2 8-4 6 0 2-2 50 0-1 12-11 14-22 19-30 16-14 13-6 12-11 32-20 32-18 24-3 12 0 10 5 10 20 26 14 24 51 39 18 7 24 3 18 1 39-2 7 14-8 4-16 4-2 2-6 0-2 2zM1369 633l-4 2-44-54-8-14 9-12 7 4 26 26 0 2 10 12 14 28 0 3-10 3zM1387 701l-12-1-4-19 0-28 14-4 2 2 0 50z"/>
<path fill="#9fff60" fill-rule="evenodd" d="M1257 855l-74 0-2-2-6 0-8-4-10-2-6-4-4 0-8-4-4-4-6-2-4-4-8-4-6-6-2 0-22-22 0-2-6-6 0-2-8-10-2-6-6-8 0-4-6-10 0-4-4-8 0-6-2-2 0-80 4-8 4-16 10-20 8-10 0-2 6-6 0-2 28-28 14-8 4-4 24-12 10-2 8-4 6 0 2-2 28 0 1 12-29 18-30 40-6 12-13 36-37 56-3 12 1 10 5 12 21 26 14 24 48 37 16 7 20 4 24 2 36-1 6 15-16 4-2 2-6 0-2 2zM1357 613l-2 1-19-19-13-18-1-4 9-11 24 23 0 2 10 12 3 8-11 6z"/>
<path fill="#afff50" fill-rule="evenodd" d="M1257 855l-74 0-2-2-6 0-8-4-10-2-6-4-4 0-8-4-4-4-6-2-4-4-8-4-6-6-2 0-22-22 0-2-6-6 0-2-8-10-2-6-4-4-2-8-6-10 0-4-4-8 0-6-2-2 0-80 4-8 4-16 10-20 8-10 0-2 6-6 0-2 28-28 14-8 4-4 24-12 10-2 8-4 2 0 3 16-7 8-25 46-13 36-5 12-35 50-4 14 1 12 6 12 22 26 13 25 48 38 16 7 18 4 24 2 34 0 5 14-9 2-2 2-6 0-2 2zM1339 591l-4-4 12-10 4 5-12 9z"/>
<path fill="#bfff40" fill-rule="evenodd" d="M1257 855l-74 0-2-2-6 0-8-4-10-2-6-4-4 0-8-4-4-4-6-2-4-4-8-4-6-6-2 0-22-22 0-2-6-6 0-2-8-10-2-6-4-4-2-8-6-10 0-4-4-8 0-6-2-2 0-80 4-8 4-16 10-20 8-10 0-2 6-6 0-2 28-28 14-8 4-4 30-14 5 16-23 49-16 45-11 18-26 36-4 14 1 12 6 12 24 28 12 23 42 35 14 8 20 7 28 3 28 0 4 16-6 0-2 2z"/>
<path fill="#cfff30" fill-rule="evenodd" d="M1251 855l-68 0-2-2-6 0-8-4-10-2-6-4-4 0-8-4-4-4-6-2-4-4-8-4-6-6-2 0-22-22 0-2-6-6 0-2-8-10-2-6-4-4-2-8-6-10 0-4-4-8 0-6-2-2 0-80 4-8 4-16 10-20 8-10 0-2 6-6 0-2 28-28 14-8 4-4 20-10 2 0 6 14-19 48-15 42-10 16-22 29-6 11-4 14 2 14 7 12 23 26 13 24 42 36 13 8 16 6 50 6 2 14z"/>
<path fill="#dfff20" fill-rule="evenodd" d="M1235 855l-52 0-2-2-6 0-8-4-10-2-6-4-4 0-8-4-4-4-6-2-4-4-8-4-6-6-2 0-22-22 0-2-6-6 0-2-8-10-2-6-4-4-2-8-6-10 0-4-4-8 0-6-2-2 0-80 4-8 4-16 10-20 8-10 0-2 6-6 0-2 28-28 2 0 16-12 12-6 4-1 6 15-30 84-10 16-22 29-7 11-3 16 1 14 7 12 24 25 12 24 10 10 34 29 12 7 20 7 33 6 1 12z"/>
<path fill="#efff10" fill-rule="evenodd" d="M1215 855l-32 0-2-2-6 0-8-4-10-2-6-4-4 0-8-4-4-4-6-2-4-4-8-4-6-6-2 0-22-22 0-2-6-6 0-2-8-10-14-28 0-4-4-8 0-6-2-2 0-80 4-8 4-16 10-20 8-10 0-2 6-6 0-2 28-28 2 0 4-4 2 0 4-4 14-8 2 0 7 14-22 66-12 26-25 33-7 11-4 14 1 16 7 14 27 28 11 22 7 8 44 37 16 7 25 6-1 12z"/>
<path fill="#ffff00" fill-rule="evenodd" d="M1191 855l-16-2-8-4-10-2-6-4-4 0-8-4-4-4-6-2-4-4-8-4-6-6-2 0-22-22 0-2-6-6 0-2-8-10-14-28 0-4-4-8 0-6-2-2 0-80 4-8 4-16 10-20 8-10 0-2 6-6 0-2 28-28 2 0 20-14 8 14-19 64-11 24-25 32-8 12-4 14 0 14 6 16 28 28 13 24 6 8 40 35 25 13-3 14z"/>
<path fill="#ffef00" fill-rule="evenodd" d="M1175 853l-8-4-10-2-6-4-4 0-8-4-4-4-6-2-4-4-8-4-6-6-2 0-22-22 0-2-6-6 0-2-8-10-2-6-4-4-2-8-6-10 0-4-4-8 0-6-2-2 0-80 4-8 4-16 10-20 8-10 0-2 6-6 0-2 28-28 2 0 14-10 2 0 7 14-16 58-11 24-25 32-8 12-4 14 0 16 6 16 29 29 18 30 35 33 17 12-4 16z"/>
<path fill="#ffdf00" fill-rule="evenodd" d="M1163 849l-2-2-4 0-6-4-4 0-8-4-4-4-6-2-4-4-8-4-6-6-2 0-22-22 0-2-6-6 0-2-8-10-2-6-4-4-2-8-6-10 0-4-4-8 0-6-2-2 0-80 4-8 4-16 10-20 8-10 0-2 6-6 0-2 28-28 8-4 4-4 9 14-14 56-12 24-24 30-8 12-5 14 0 16 2 10 6 10 29 28 19 31 26 26 15 13 2 2-5 14-2 0z"/>
<path fill="#ffcf00" fill-rule="evenodd" d="M1157 847l-6-4-4 0-8-4-4-4-6-2-4-4-8-4-6-6-2 0-22-22 0-2-6-6 0-2-8-10-2-6-4-4-2-8-6-10 0-4-4-8 0-6-2-2 0-80 4-8 4-16 10-20 8-10 0-2 6-6 0-2 28-28 2 0 4-4 3 0 9 12-13 52-11 24-24 29-9 13-5 16 0 16 3 12 5 9 30 27 20 33 35 35 1 2-6 14z"/>
<path fill="#ffbf00" fill-rule="evenodd" d="M1053 707l0-58 4-8 4-16 10-20 8-10 0-2 6-6 0-2 28-28 5-2 9 12 0 2-9 40-6 18-9 16-21 24-8 12-6 12-3 15-12 1zM1151 843l-4 0-8-4-4-4-6-2-4-4-8-4-6-6-2 0-22-22 0-2-6-6 0-2-8-10-2-6-6-8 0-4-6-10 0-4-4-8 0-6 14-4 8 12 30 26 18 31 32 33-6 14z"/>
<path fill="#ffaf00" fill-rule="evenodd" d="M1065 694l-12 0 0-45 4-8 4-16 10-20 8-10 0-2 6-6 0-2 28-28 11 14-12 50-9 18-30 36-8 19zM1143 841l-8-6-12-6-4-4-2 0-6-6-2 0-22-22 0-2-6-6 0-2-8-10-2-6-4-4-2-8-6-10-2-9 14-4 2 1 34 30 18 31 26 29-6 14-2 0z"/>
<path fill="#ff9f00" fill-rule="evenodd" d="M1065 686l-12 0 0-37 4-8 4-16 10-20 8-10 0-2 6-6 0-2 24-24 2 0 9 12-5 30-5 18-8 16-26 30-11 19zM1139 838l-10-5-4-4-8-4-6-6-2 0-22-22 0-2-6-6 0-2-8-10-2-6-4-4-2-8-6-10 0-4 14-5 32 26 20 34 21 23 0 2-7 13z"/>
<path fill="#ff8f00" fill-rule="evenodd" d="M1065 679l-12 0 0-30 4-8 4-16 10-20 8-10 0-2 6-6 0-2 22-21 10 11-4 28-5 18-9 16-22 25-12 17zM1133 835l-14-10-2 0-6-6-2 0-22-22 0-2-6-6 0-2-8-10-2-6-4-4-2-8-4-6 0-4 14-5 30 24 18 31 18 22-8 14z"/>
<path fill="#ff8000" fill-rule="evenodd" d="M1065 673l-12-1 0-23 4-8 4-16 10-20 8-10 0-2 6-6 0-2 19-18 10 12-4 26-4 16-9 16-19 20-13 16zM1127 831l-8-6-2 0-6-6-2 0-22-22 0-2-6-6 0-2-8-10-2-6-4-4-2-8-4-6 16-6 20 15 8 8 16 28 14 19 1 2-9 12z"/>
<path fill="#ff7000" fill-rule="evenodd" d="M1067 667l-14-1 0-17 4-8 4-16 10-20 8-10 0-2 6-6 0-2 16-15 10 11-7 38-8 16-19 19-10 13zM1123 827l-6-2-6-6-2 0-22-22 0-2-6-6 0-2-8-10-2-6-4-4-4-11 14-6 18 12 10 10 15 27 11 16-8 12z"/>
<path fill="#ff6000" fill-rule="evenodd" d="M1067 662l-14-2 0-11 4-8 4-16 10-20 8-10 0-2 6-6 0-2 13-12 10 10 0 2-6 34-9 16-26 27zM1117 825l-6-6-2 0-22-22 0-2-6-6 0-2-8-10-2-6-4-4-2-4 0-4 14-6 18 13 8 8 22 37 0 2-10 12z"/>
<path fill="#ff5000" fill-rule="evenodd" d="M1067 657l-14-3 0-5 4-8 4-16 10-20 8-10 0-2 6-6 0-2 8-8 2 0 11 10-6 32-9 16-22 22-2 0zM1113 821l-4-2-22-22 0-2-6-6 0-2-8-10-2-6-4-4-2-5 16-6 16 11 8 8 18 34-10 12z"/>
<path fill="#ff4000" fill-rule="evenodd" d="M1069 652l-14-3 0-6 2-2 4-16 10-20 8-10 0-2 6-6 0-2 6-6 12 10-5 28-8 16-21 19zM1109 819l-22-22 0-2-6-6 0-2-8-10-6-12 14-7 14 9 10 10 15 30-11 12z"/>
<path fill="#ff3000" fill-rule="evenodd" d="M1071 648l-16-5 2-2 4-16 10-20 8-10 0-2 6-6 0-2 4-2 11 10-3 22-8 16-18 17zM1107 816l-20-19 0-2-6-6 0-2-8-10-4-10 14-6 20 15 14 27 0 2-10 11z"/>
<path fill="#ff2000" fill-rule="evenodd" d="M1073 643l-16-5 0-1 2-2 2-10 10-20 14-19 12 10-2 15-3 10-4 8-15 14zM1103 813l-16-16 0-2-6-6 0-2-8-10-2-7 14-6 18 14 11 23-7 9-4 3z"/>
<path fill="#ff1000" fill-rule="evenodd" d="M1075 638l-2 1-14-5 0-3 12-26 8-10 0-2 4-2 11 8 0 8-6 18-13 13zM1101 811l-14-14 0-2-6-6 0-2-8-10-1-4 13-7 16 12 6 9 4 10 0 4-10 10z"/>
<path fill="#ff0000" fill-rule="evenodd" d="M1075 635l-14-5 0-5 10-20 8-10 12 8 1 2-5 18-4 6-8 6zM1099 809l-12-12 0-2-6-6 0-2-8-10 14-8 14 10 8 16 0 4-10 10z"/>
<path fill="#ef0000" fill-rule="evenodd" d="M1077 631l-15-6 9-20 4-5 13 9-4 14-7 8zM1097 806l-10-9 0-2-10-12-1-4 13-8 12 10 6 12 0 3-10 10z"/>
<path fill="#df0000" fill-rule="evenodd" d="M1079 626l-14-6 4-11 2-1 13 7-1 5-4 6zM1093 803l-6-6 0-2-10-12 14-8 9 8 5 10-10 10-2 0z"/>
<path fill="#cf0000" fill-rule="evenodd" d="M1091 800l-10-11 0-2 12-9 4 3 5 8 0 2-11 9z"/>
</g><g transform="scale(.5)" fill="none" stroke-width="1.9">
<path stroke="#4a4a0c" d="M1279 655l6-8 3-14-2-12-3-4-4-1-4 2-4 6-3 15 3 13 4 4zM1238 779l33-5 10-4 8-7 1-4-1-6-6-6-6-2-32-3-34 4-6 2-5 5-2 4 0 6 3 5 6 5 14 5z"/>
<path stroke="#4a3e08" d="M1278 685l7-4 7-10 5-14 1-16 0-14-4-10-5-7-8-3-8 2-8 8-6 13-3 17 1 16 4 12 8 8zM1254 787l29-6 10-6 5-6 4-8-1-10-4-10-8-9-6-4-8-2-26 0-28 8-16 2-10 8-4 9 0 10 4 9 8 8 10 5 12 3 14 1z"/>
<path stroke="#4a2d08" d="M1259 795l24-5 14-6 11-11 5-14-1-12-9-28-2-12 6-42-1-36-3-10-6-10-6-6-8-3-8 1-8 4-7 6-6 10-7 26-2 40-5 14-5 6-10 7-30 9-5 8-7 22 0 10 4 10 8 9 10 8 10 4 14 3z"/>
<path stroke="#4a1c08" d="M1260 803l27-5 18-9 14-14 4-8 2-10 0-12-6-36-1-44-4-38-5-12-9-12-9-7-8-3-8 1-10 5-8 5-5 7-13 34-8 34-8 13-8 6-8 3-34 3-4 3-2 8 0 6 8 9 1 5-3 18 1 10 8 14 11 13 12 8 14 5 18 2z"/>
<path stroke="#4a0c08" d="M1259 811l32-5 12-5 11-6 11-10 7-10 5-10 3-12-1-14-5-36-4-42-7-34-7-14-13-17-10-8-10-4-8 1-8 3-12 7-8 8-19 44-7 24-8 11-10 6-30 7-12 12-6-1-10-6-8 0-9 7-3 10 1 8 5 8 22 19 32 40 10 9 12 6 14 4 18 1z"/>
<path stroke="#3e0814" d="M1387 804l-40-27 8-20 2-18-9-42-3-36-3-16-9-20-10-16-22-27-8-6-10-5-10-2-10 3-10 6-10 11-7 12-8 24-10 18-7 21-6 8-12 5-18 3-6-2-12-9-4-1-6 1-8 6-9 14-12 12-5 8-1 10 3 10 26 36 8 7 18 13 18 19 12 8 16 5 20 3 46-3 28-7 12-6 14-9 2 0 52 47"/>
<path stroke="#2d0825" d="M1256 525l-3 14-14 14-15 24-5 16-3 24-10 16-9 20-4 4-6 1-9-5-2-4-1-6 10-20-1-12-3-7-6-5-8 0-6 2-8 11-5 21-4 10-25 38-16 20-3 8 0 10 4 12 18 24 14 22 25 18 23 20 19 8 26 4 18 1 48-3 17 30M1387 723l-14-3-2-3-8-26-1-38-5-16-12-18-24-27-25-35 18-32"/>
<path stroke="#1c0835" d="M1167 525l5 20-27 51-18 47-36 54-3 14 1 12 6 10 22 26 14 26 44 35 16 8 20 5 26 3 30-1 7 20"/>
<path stroke="#0c0846" d="M1129 525l17 30-1 2-25 78-11 18-22 28-7 12-3 14 1 14 7 14 28 28 10 21 6 7 43 38 13 7 21 7-1 12"/>
<path stroke="#08144a" d="M1099 525l30 42-10 44-7 20-9 14-24 28-8 15-4 15 1 16 9 18 29 26 21 34 33 34-10 24"/>
<path stroke="#08254a" d="M1068 525l47 51 0 3-6 34-8 20-24 27-12 16-12-1M1053 754l22-8 18 12 14 14 14 25 17 22-22 36"/>
<path stroke="#08354a" d="M1053 543l51 46-4 26-4 10-5 8-22 21-16-3M1053 770l28-13 14 10 9 8 17 32-39 48"/>
<path stroke="#08464a" d="M1053 575l40 28-5 20-5 7-8 6-22-7M1053 787l34-19 14 11 5 8 4 10 0 2-56 56"/>
</g>
</g>
<ellipse cx="610" cy="344.8" rx="71.05" ry="70.00" fill="none" stroke="#000" stroke-width="1.05"/>
<polyline points="623.0,275.3 612.8,264.5 607.1,264.5 596.9,275.3" fill="none" stroke="#000" stroke-width="1"/>
<polyline points="679.9,331.4 682.4,328.4 683.6,328.2 685.2,328.8 687.0,331.4 686.7,345.6 687.7,357.8 685.5,363.2 682.4,364.2 678.7,361.6" fill="none" stroke="#000" stroke-width="1"/>
<polyline points="540.0,331.4 537.5,328.4 536.3,328.2 534.7,328.8 532.9,331.4 533.2,345.6 532.2,357.8 534.4,363.2 537.5,364.2 541.2,361.6" fill="none" stroke="#000" stroke-width="1"/>
<clipPath id="cSH"><ellipse cx="788.1" cy="345.6" rx="75.43" ry="75.65"/></clipPath>
<ellipse cx="788.1" cy="345.6" rx="80.62" ry="80.85" fill="#edf5ff"/>
<g clip-path="url(#cSH)"><g transform="scale(.5)">
<rect x="1413" y="527" width="325" height="326" fill="#0000bf"/>
<path fill="#0000cf" fill-rule="evenodd" d="M1607 857l-62 0-2-2-8 0-8-4-16-4-20-10-10-8-2 0-6-6-2 0-27-27 0-2-6-6 0-2-4-4-1-6-4-4-4-8 0-4-6-10 0-4-4-8 0-6-2-2 0-76 2-2 0-6 2-2 4-16 12-24 8-10 0-2 8-8 0-2 20-20 2 0 6-6 8-4 4-4 24-12 4 0 6-4 12-2 2-2 78 0 2 2 4 0 2 2 16 4 24 12 4 4 8 4 8 8 2 0 19 18 0 2 12 14 2 6 4 4 8 16 0 4 4 6 2 10 2 2 0 6 2 2 0 74-2 2 0 6-2 2-2 10-2 2 0 4-12 24-4 4-4 8-6 6 0 2-25 24-2 0-6 6-32 18-4 0-2 2-10 2-2 3-4 0-2 2-8 0-2 2zM1554 564l1-2-2-4-4 0-1 4 1 2 5 0zM1625 668l0-5-4-2-1 3 1 5 2 1 2-2zM1604 766l6-6 0-8-3-5-4-3-8 0-6 6 0 10 6 6 9 0z"/>
<path fill="#0000df" fill-rule="evenodd" d="M1607 857l-62 0-2-2-8 0-8-4-16-4-20-10-10-8-2 0-6-6-2 0-27-27 0-2-6-6 0-2-3-4-2-6-4-4-4-8 0-4-6-10 0-4-4-8 0-6-2-2 0-76 2-2 0-6 2-2 4-16 12-24 8-10 0-2 8-8 0-2 20-20 2 0 6-6 8-4 4-4 24-12 4 0 6-4 6 0 2-2 3 0 3 16-6 8-10 7-2 5 2 4 8 3 24 0 6-2 5-5 2-6 0-6-3-6-7-8-2-12 61 0 2 2 4 0 2 2 16 4 24 12 4 4 8 4 8 8 2 0 19 18 0 2 12 14 2 6 4 4 8 16 0 4 4 6 2 10 2 2 0 6 2 2 0 74-2 2 0 6-2 2-2 10-2 2 0 4-12 24-4 4-4 8-6 6 0 2-25 24-2 0-6 6-32 18-4 0-2 2-10 2-2 2-4 0-2 2-8 1-2 2zM1627 688l6-10 1-14-3-8-8-2-4 1-4 3-2 6 0 6 6 17 4 3 4-2zM1603 772l6-2 6-4 3-10-2-8-5-8-4-3-6-2-8 3-5 4-3 6-1 8 1 7 4 6 6 3 8 0z"/>
<path fill="#0000ef" fill-rule="evenodd" d="M1607 856l-62 1-2-2-8 0-8-4-16-4-20-10-10-8-2 0-6-6-2 0-27-27 0-2-5-6-6-12-4-4-4-8 0-4-6-10 0-4-4-8 0-6-2-2 0-76 2-2 0-6 2-2 4-16 12-24 8-10 0-2 8-8 0-2 20-20 2 0 6-6 8-4 4-4 12-6 3 0 5 12 0 12 4 8 8 6 10 1 26-4 8-4 6-5 2-6 1-6-5-16-1-12 47 0 2 2 4 0 2 2 16 4 24 12 4 4 8 4 29 26 0 2 12 14 2 6 4 4 8 16 0 4 4 6 2 10 2 2 0 6 2 2 0 74-2 2 0 6-2 2-2 10-2 2 0 4-12 24-4 4-4 8-6 6 0 2-25 24-2 0-6 6-32 18-4 0-2 2-10 2-2 2-4 0-2 2-8 0-2 2zM1626 704l5-5 4-7 4-20-1-14-5-14 6-14 1-6-3-7-6-3-5 4-2 6 1 8 4 10 0 2-16 9-4 7-1 6 2 14 5 19 4 5 4 1 3-1zM1606 776l7-3 6-4 4-5 2-8-1-8-9-17-4-4-4-1-10 3-10 7-5 8-2 10 2 10 5 8 8 4 11 0z"/>
<path fill="#0000ff" fill-rule="evenodd" d="M1607 856l-62 1-2-2-8 0-8-4-16-4-20-10-10-8-2 0-6-6-2 0-26-27 0-2-6-6-6-12-4-4-4-8 0-4-6-10 0-4-4-8 0-6-2-2 0-76 2-2 0-6 2-2 4-16 12-24 8-10 0-2 8-8 0-2 20-20 2 0 6-6 2 0 14-10 8 13 3 11 5 9 8 6 12 1 32-6 9-4 7-6 3-6 1-6-3-18 0-12 37 0 2 2 4 0 2 2 16 4 24 12 4 4 8 4 29 26 0 2 12 14 2 6 4 4 8 16 0 4 4 6 2 10 2 2 0 6 2 2 0 74-2 2 0 6-2 2-2 10-2 2 0 4-12 24-4 4-4 8-6 6 0 2-25 24-2 0-6 6-32 18-4 0-2 2-10 2-2 2-4 0-2 2-8 0-2 2zM1602 780l11-2 8-4 8-8 3-8 0-8-4-20 2-8 9-24 3-12 1-16-2-24 3-20-3-12-4-5-6-3-6 2-4 5-2 11-1 16-9 12-4 8 0 12 3 30-2 10-4 6-19 16-4 7-2 7 1 12 4 12 8 6 12 2z"/>
<path fill="#0010ff" fill-rule="evenodd" d="M1607 856l-62 0-2-2-8 1-8-4-16-4-20-10-10-8-2 0-6-6-2 0-26-27 0-2-6-6 0-2-4-4-2-6-4-4-4-8 0-4-6-10 0-4-4-8 0-6-2-2 0-76 2-2 0-6 2-2 0-4 2-2 0-4 2-2 2-8 10-20 8-10 0-2 8-8 0-2 20-20 2 0 6-6 2 0 8-6 9 12 7 18 6 6 7 4 7 2 8-1 40-11 11-6 5-8 1-8-3-18 1-12 29 0 2 2 4 0 2 2 16 4 24 12 4 4 8 4 8 8 2 0 19 18 0 2 12 14 2 6 4 4 8 16 0 4 4 6 2 10 2 2 0 6 2 2 0 74-2 2 0 6-2 2-2 10-2 2 0 4-12 24-4 4-4 8-6 6 0 2-25 24-2 0-6 6-32 18-4 0-2 2-10 2-2 2-4 0-2 2-8 0-2 2zM1611 782l16-7 6-6 4-7 3-10-1-24 7-42 0-38 2-20-1-10-6-13-6-5-6-2-6 2-4 6-7 32-10 20-1 12 2 26-2 12-5 8-17 18-5 14 2 18 3 7 4 5 12 5 16-1z"/>
<path fill="#0020ff" fill-rule="evenodd" d="M1607 856l-62 0-2-2-8 0-8-4-16-3-20-10-10-8-2 0-6-6-2 0-26-27 0-2-6-6 0-2-4-4-2-6-4-4-4-8 0-4-6-10 0-4-4-8 0-6-2-2 0-76 2-2 0-6 2-2 0-4 2-2 0-4 2-2 2-8 10-20 8-10 0-2 8-8 0-2 20-20 2 0 6-6 6-2 8 12 10 19 6 6 8 5 14 0 52-14 10-5 4-7 1-10-4-20 2-12 21 0 2 2 4 0 2 2 16 4 24 12 4 4 8 4 8 8 2 0 19 18 0 2 12 14 2 6 4 4 8 16 0 4 4 6 2 10 2 2 0 6 2 2 0 74-2 2 0 6-2 2-2 10-2 2 0 4-12 24-4 4-4 8-6 6 0 2-25 24-2 0-6 6-32 18-4 0-2 2-10 2-2 2-4 0-2 2-8 0-2 2zM1616 784l11-4 8-6 6-6 4-8 2-10 0-24 3-42-1-36 2-24-2-12-4-9-6-7-6-4-8-2-6 1-4 5-7 36-9 24-1 12 1 24-1 12-6 10-17 20-3 16 2 18 7 12 6 4 8 2 21-2z"/>
<path fill="#0030ff" fill-rule="evenodd" d="M1607 856l-62 0-2-2-8 0-8-4-16-3-20-10-10-8-2 0-6-6-2 0-26-27 0-2-10-12-2-6-4-4-4-8 0-4-6-10 0-4-4-8 0-6-2-2 0-76 2-2 0-6 2-2 4-16 12-24 8-10 0-2 8-8 0-2 20-20 2 0 6-6 10 12 12 22 6 6 8 5 14 0 26-9 16-3 22-3 9 2 3 3 3 5 1 18-2 16-10 28 0 38-4 12-15 20-5 8-2 12 1 14 3 10 4 8 5 4 7 3 10 1 12 0 12-3 11-5 13-12 6-16 1-72-1-32 1-28-3-14-8-13-10-8-21-9-5-8-8-26 2-14 14 0 2 2 4 0 2 2 16 4 24 12 4 4 8 4 29 26 0 2 12 14 2 6 4 4 8 16 0 4 4 6 2 10 2 2 0 6 2 2 0 74-2 2 0 6-2 2-2 10-2 2 0 4-12 24-4 4-4 8-6 6 0 2-25 24-2 0-12 10-6 2-4 4-16 8-4 0-2 2-10 2-2 2-4 0-2 2-8 0-2 2z"/>
<path fill="#0040ff" fill-rule="evenodd" d="M1607 856l-62 0-2-2-8 0-8-4-16-3-20-10-10-8-2 0-6-6-2 0-26-27 0-2-10-12-2-6-4-4-4-8 0-4-6-10 0-4-4-8 0-6-2-2 0-76 2-2 0-6 2-2 4-16 12-24 8-10 0-2 8-8 0-2 20-20 4-2 10 11 15 25 7 7 6 3 14 0 26-10 14-3 20-1 10 3 7 9 2 12-3 12-7 18-3 10 1 38-4 12-15 20-5 10-1 14 2 16 3 10 5 8 6 3 8 3 12 1 14-2 12-3 12-6 12-12 4-8 2-10-3-100 1-34-4-14-8-14-8-7-19-13-7-10-5-16 3-14 6 0 2 2 4 0 2 2 16 4 24 12 4 4 8 4 29 26 0 2 12 14 2 6 4 4 8 16 0 4 4 6 2 10 2 2 0 6 2 2 0 74-2 2 0 6-2 2-2 10-2 2 0 4-12 24-4 4-4 8-6 6 0 2-25 24-2 0-12 10-6 2-4 4-16 8-4 0-2 2-10 2-2 2-4 0-2 2-8 0-2 2z"/>
<path fill="#0050ff" fill-rule="evenodd" d="M1607 856l-62 0-2-2-8 0-8-4-16-4-20-9-10-8-2 0-6-6-2 0-26-27 0-2-10-12-2-6-4-4-4-8 0-4-6-10 0-4-4-8 0-6-2-2 0-76 2-2 0-6 2-2 4-16 12-24 8-10 0-2 8-8 0-2 20-20 11 12 17 29 6 6 6 3 6 0 8-1 28-12 12-3 18 0 10 3 8 9 1 12-12 32-1 12 3 24-2 10-5 10-13 18-5 12-1 14 3 17 4 10 6 7 6 4 10 3 12 0 14-1 14-4 12-6 8-6 6-8 4-10 2-10-1-20-6-78 1-36-3-14-7-14-8-9-20-16-5-9-3-8 4-14 4 0 2 2 16 4 24 12 4 4 8 4 29 26 0 2 12 14 2 6 4 4 8 16 0 4 4 6 2 10 2 2 0 6 2 2 0 74-2 2 0 6-2 2-2 10-2 2 0 4-12 24-4 4-4 8-6 6 0 2-25 24-2 0-12 10-6 2-4 4-16 8-4 0-2 2-10 2-2 2-4 0-2 2-8 0-2 2z"/>
<path fill="#0060ff" fill-rule="evenodd" d="M1607 856l-62 0-2-2-8 0-8-4-16-4-20-9-10-8-2 0-6-6-2 0-26-27 0-2-10-12-2-6-4-4-4-8 0-4-6-10 0-4-4-8 0-6-2-2 0-76 2-2 0-6 2-2 4-16 12-24 8-10 0-2 8-8 0-2 16-16 2 0 10 12 20 32 10 8 6 1 8-2 28-14 12-4 12-1 14 4 8 8 1 10-12 30 0 12 3 24-2 10-4 9-13 19-5 12-1 18 4 18 5 10 4 6 8 4 10 3 14 0 14-1 15-4 13-6 8-6 7-8 4-10 2-12-1-22-8-76 1-36-3-16-6-14-10-12-17-16-5-8 5-16 1 0 2 2 10 2 24 12 4 4 8 4 8 8 2 0 19 18 0 2 12 14 2 6 4 4 8 16 0 4 4 6 2 10 2 2 0 6 2 2 0 74-2 2 0 6-2 2-2 10-2 2 0 4-12 24-4 4-4 8-6 6 0 2-25 24-2 0-12 10-6 2-4 4-16 8-4 0-2 2-10 2-2 2-4 0-2 2-8 0-2 2z"/>
<path fill="#0070ff" fill-rule="evenodd" d="M1607 856l-62 0-2-2-8 0-8-4-16-4-20-9-10-8-2 0-6-6-2 0-26-27 0-2-10-12-2-6-4-4-4-8 0-4-6-10 0-4-4-8 0-6-2-2 0-76 2-2 0-6 2-2 4-16 12-24 8-10 0-2 8-8 0-2 14-13 10 11 21 36 5 6 6 3 6 0 8-2 31-17 11-4 12-1 12 4 5 5 2 8-1 8-9 16-2 8 3 42-4 10-15 22-4 14 0 18 5 18 4 10 6 6 8 5 10 2 14 1 16-2 16-4 14-6 11-8 6-10 4-14 1-20-11-82 1-32-1-16-3-12-6-12-24-30 6-14 2 0 24 12 4 4 8 4 8 8 2 0 19 18 0 2 12 14 2 6 4 4 8 16 0 4 4 6 2 10 2 2 0 6 2 2 0 74-2 2 0 6-2 2-2 10-2 2 0 4-12 24-4 4-4 8-6 6 0 2-25 24-2 0-12 10-6 2-4 4-16 8-4 0-2 2-10 2-2 2-4 0-2 2-8 0-2 2z"/>
<path fill="#0080ff" fill-rule="evenodd" d="M1607 856l-62 0-2-2-8 0-8-4-16-4-20-9-10-8-2 0-6-6-2 0-26-27 0-2-6-6-6-12-4-4-4-8 0-4-6-10 0-4-4-8 0-6-2-2 0-76 2-2 0-6 2-2 4-16 12-24 8-10 0-2 8-8 0-2 10-10 12 12 20 38 5 6 5 3 8 1 10-2 32-21 12-5 14 1 6 3 4 4 1 10-10 16-3 12 5 42-3 6-16 26-3 10-1 12 4 22 8 18 10 9 14 4 14 1 16-2 16-3 14-6 10-5 6-6 5-8 4-10 1-12 0-16-12-82 1-32-1-16-8-22-15-24 7-14 12 6 4 4 8 4 8 8 2 0 19 18 0 2 12 14 2 6 4 4 8 16 0 4 4 6 2 10 2 2 0 6 2 2 0 74-2 2 0 6-2 2-2 10-2 2 0 4-12 24-4 4-5 8-6 6 0 2-24 24-2 0-12 10-6 2-4 4-16 8-4 0-2 2-10 2-2 2-4 0-2 2-8 0-2 2z"/>
<path fill="#008fff" fill-rule="evenodd" d="M1607 856l-62 0-2-2-8 0-8-4-16-4-20-10-10-7-2 0-6-6-2 0-26-27 0-2-6-6-6-12-4-4-4-8 0-4-6-10 0-4-4-8 0-6-2-2 0-76 2-2 0-6 2-2 4-16 12-24 8-10 0-2 14-16 2 0 10 10 22 44 4 5 6 4 10 0 12-4 12-7 20-16 8-4 12-1 6 2 4 4 2 9-11 14-4 12 1 12 5 24 0 8-17 28-4 12 0 14 4 24 8 17 6 7 6 3 16 4 14 1 18-2 30-9 10-5 6-6 5-8 4-10 2-14 0-18-15-80 1-34-1-16-5-18-9-20 8-14 10 8 2 0 8 8 2 0 19 18 0 2 12 14 2 6 4 4 8 16 0 4 4 6 2 10 2 2 0 6 2 2 0 74-2 2 0 6-2 2-2 10-2 2 0 4-13 24-4 4-4 8-6 6 0 2-24 24-2 0-12 10-6 2-4 4-16 8-4 0-2 2-10 2-2 2-4 0-2 2-8 0-2 2z"/>
<path fill="#009fff" fill-rule="evenodd" d="M1607 856l-62 0-2-2-8 0-8-4-16-4-20-10-10-7-2 0-6-6-2 0-26-27 0-2-6-6-6-12-4-4-4-8 0-4-6-10 0-4-4-8 0-6-2-2 0-76 2-2 0-6 2-2 4-16 12-24 18-24 2-1 12 11 8 16 13 32 5 6 6 2 12 1 14-6 12-7 18-18 8-5 10-2 9 5 1 4-1 6-11 12-4 10 0 12 6 24 0 8-16 30-2 12 0 14 5 26 9 18 12 9 16 4 16 1 18-2 30-8 10-6 6-5 7-9 4-10 2-18 0-22-16-74 1-36-1-18-9-28 8-14 4 2 8 8 2 0 18 18 0 2 13 14 2 6 4 4 8 16 0 4 4 6 2 10 2 2 0 6 2 2 0 74-2 2 0 6-2 2-2 10-3 2 0 4-12 24-4 4-4 8-6 6 0 2-24 24-2 0-12 10-6 2-4 4-16 8-4 0-2 2-10 2-2 2-4 0-2 2-8 0-2 2z"/>
<path fill="#00afff" fill-rule="evenodd" d="M1607 856l-62 0-2-2-8 0-8-4-16-4-20-10-10-8-2 0-6-5-2 0-26-27 0-2-6-6-6-12-4-4-4-8 0-4-6-10 0-4-4-8 0-6-2-2 0-76 2-2 0-6 2-2 0-4 2-2 0-4 2-2 2-8 10-20 8-10 0-2 8-8 0-2 14 12 8 18 12 34 6 5 6 3 12 1 14-4 22-13 13-18 5-5 8-3 4 1 4 3 1 4-2 4-14 12-5 8 0 12 7 24 1 8-14 30-1 12 0 16 6 26 9 19 12 10 20 5 34-2 18-4 14-4 10-6 7-6 5-8 4-10 4-18-1-24-3-18-14-54 0-50-6-30 9-12 7 4 18 18 0 2 13 14 2 6 4 4 8 16 0 4 4 6 2 10 2 2 0 6 2 2 0 74-3 2 0 6-2 2-2 10-2 2 0 4-12 24-4 4-4 8-6 6 0 2-24 24-2 0-12 10-6 2-4 4-16 8-4 0-2 2-10 2-2 2-4 0-2 2-8 0-2 2z"/>
<path fill="#00bfff" fill-rule="evenodd" d="M1607 856l-62 0-2-2-8 0-8-4-16-4-20-10-10-8-2 0-6-6-2 0-26-26 0-2-6-6-6-12-4-4-4-8 0-4-6-10 0-4-4-8 0-6-2-2 0-76 2-2 0-6 2-2 4-16 12-24 8-10 0-2 6-6 12 10 9 20 9 30 8 10 10 6 12 2 32-6 4 2 4 4 6 11 3 9-1 8-7 20-2 14 2 24 7 24 6 14 8 10 12 6 16 3 30 0 30-6 18-8 12-13 8-20 2-24-3-28-13-44-3-18 0-44-4-26 10-12 19 18 0 2 13 14 2 6 4 4 8 16 0 4 4 6 2 10 2 2 0 6 2 2-1 74-2 2 0 6-2 2-2 10-2 2 0 4-12 24-4 4-4 8-6 6 0 2-24 24-2 0-12 10-6 2-4 4-16 8-4 0-2 2-10 2-2 2-4 0-2 2-8 0-2 2zM1567 624l-2 0-1-4 3-3 4 0 2 3-6 4z"/>
<path fill="#00cfff" fill-rule="evenodd" d="M1607 856l-62 0-2-2-8 0-8-4-16-4-20-10-10-8-2 0-6-6-2 0-26-26 0-2-10-12-16-32 0-4-4-8 0-6-2-2 0-76 2-2 0-6 2-2 4-16 12-24 10-14 14 11 8 19 9 30 7 11 6 5 10 5 34 7 8 7 2 7 1 28 4 30 8 26 7 16 8 8 8 5 12 3 14 2 36-2 25-6 17-10 12-15 7-21 1-32-4-22-16-52 0-48-2-22 10-12 14 14 0 2 13 14 2 6 4 4 8 16 0 4 4 6 2 10 2 2 0 6 2 2-1 74-2 2 0 6-2 2-2 10-2 2 0 4-12 24-4 4-4 8-6 6 0 2-24 24-2 0-12 10-6 2-4 4-16 8-4 0-2 2-10 2-2 2-4 0-2 2-8 0-2 2z"/>
<path fill="#00dfff" fill-rule="evenodd" d="M1607 856l-62 0-2-2-8 0-8-4-16-4-20-10-10-8-2 0-6-6-2 0-26-26 0-2-10-12-16-32 0-4-4-8 0-6-2-2 0-76 2-2 0-6 2-2 4-16 12-24 8-10 12 8 2 4 8 18 8 32 6 11 8 7 34 20 12 12 6 17 12 45 6 16 6 11 7 7 9 5 12 3 16 2 38-3 24-5 18-10 13-16 4-12 3-12 0-32-3-22-13-34-5-18-1-64 10-12 10 10 0 2 12 14 2 6 5 4 8 16 0 4 4 6 2 10 2 2 0 6 2 2-1 74-2 2 0 6-2 2-2 10-2 2 0 4-12 24-4 4-4 8-6 6 0 2-24 24-2 0-12 10-6 2-4 4-16 8-4 0-2 2-10 2-2 2-4 0-2 2-8 0-2 2z"/>
<path fill="#00efff" fill-rule="evenodd" d="M1719 776l-12-8 3-26-2-32-4-16-13-34-4-18-1-54 11-12 6 6 0 2 12 14 2 6 4 4 9 16 0 4 4 6 2 10 2 2 0 6 2 2-1 74-2 2 0 6-2 2-2 10-2 2 0 4-12 22zM1607 856l-62 0-2-2-8 0-8-4-16-4-20-10-10-8-2 0-6-6-2 0-26-26 0-2-10-12-16-32 0-4-4-8 0-6-2-2 0-76 2-2 0-6 2-2 4-16 16-30 14 8 3 6 7 20 7 34 5 10 17 14 9 15 22 8 10 10 5 11 17 50 6 11 6 7 8 5 10 4 24 3 44-3 14-3 14-6 10 11-8 9-2 0-12 10-6 2-4 4-16 8-4 0-2 2-10 2-2 2-4 0-2 2-8 0-2 2z"/>
<path fill="#00ffff" fill-rule="evenodd" d="M1727 760l-13-6 0-32-2-20-4-12-13-28-5-18-1-52 12-12 20 28 8 16 0 4 5 6 2 10 2 2-1 6 2 2 0 74-2 2 0 6-2 2-2 10-2 2 0 4-4 6zM1607 856l-62 0-2-2-8 0-8-4-16-4-20-10-10-8-2 0-6-6-2 0-26-26 0-2-6-6 0-2-4-4-2-6-4-4-4-8 0-4-6-10 0-4-4-8 0-6-2-2 0-76 2-2 0-6 2-2 4-16 14-26 14 9 7 17 5 24 1 38 7 16 9 12 9 6 6 1 22-3 6 2 6 4 6 8 21 54 9 13 16 9 22 3 42-1 28-4 10 12-2 0-12 10-6 2-4 4-16 8-4 0-2 2-10 2-2 2-4 0-2 2-8 0-2 2z"/>
<path fill="#10ffef" fill-rule="evenodd" d="M1733 745l-14-4-1-25-3-18-16-36-5-16-2-18 0-32 11-11 6 5 0 2 6 6 2 6 4 4 8 16 0 4 4 6 2 10 2 2 0 6 2 2 0 74-2 2 0 6-2 2 0 4-2 3zM1607 856l-62 0-2-2-8 0-8-4-16-4-20-10-10-8-2 0-6-6-2 0-26-26 0-2-6-6 0-2-4-4-2-6-4-4-4-8 0-4-6-10 0-4-4-8 0-6-2-2 0-76 2-2 0-6 2-2 4-16 12-22 14 9 8 23 1 24-7 28 4 12 13 14 17 14 8 2 24-2 6 2 6 4 6 9 20 47 8 12 14 8 22 5 42 0 24-3 2 1 9 11-1 2-2 0-4 4-6 2-4 4-16 8-4 0-2 2-10 2-2 2-4 0-2 2-8 0-2 2z"/>
<path fill="#20ffdf" fill-rule="evenodd" d="M1739 728l-15-4-5-30-16-32-5-16-3-20 0-27 12-10 8 9 2 6 4 4 8 16 0 4 4 6 2 10 2 2 0 6 2 2 0 74zM1607 856l-62 0-2-2-8 0-8-4-16-4-20-10-10-8-2 0-6-6-2 0-26-26 0-2-6-6 0-2-4-4-2-6-4-4-4-8 0-4-6-10 0-4-4-8 0-6-2-2 0-76 2-2 0-6 2-2 4-16 8-16 2-1 13 7 7 18 2 12-1 10-9 26-2 8 4 10 10 12 28 21 8 1 22 0 6 1 6 4 12 19 17 38 5 7 8 6 14 5 18 3 60-1 8 12 0 2-6 2-4 4-16 8-4 0-2 2-10 2-2 2-4 0-2 2-8 0-2 2z"/>
<path fill="#30ffcf" fill-rule="evenodd" d="M1739 708l-12-1-6-19-14-26-6-15-2-17-1-26 1-3 11-7 1 0 4 4 2 6 4 4 8 16 0 4 4 6 2 10 2 2 0 6 2 2 0 54zM1607 856l-62 0-2-2-8 0-8-4-16-4-20-10-10-8-2 0-6-6-2 0-26-26 0-2-10-12-2-6-4-4-4-8 0-4-6-10 0-4-4-8 0-6-2-2 0-76 2-2 0-6 2-2 4-16 6-12 2 0 13 6 6 16 1 10-1 10-10 24-2 8 3 12 10 12 34 24 30 3 10 4 6 7 8 13 16 36 6 7 6 4 14 6 18 3 56 0 9 13-5 4-16 8-4 0-2 2-10 2-2 2-4 0-2 2-8 0-2 2z"/>
<path fill="#40ffbf" fill-rule="evenodd" d="M1739 693l-12 0-18-35-4-12-3-16-1-22 13-10 1 0 2 6 4 4 8 16 0 4 4 6 2 10 2 2 0 6 2 2 0 39zM1607 856l-62 0-2-2-8 0-8-4-16-4-20-10-10-8-2 0-6-6-2 0-26-26 0-2-10-12-2-6-4-4-4-8 0-4-6-10 0-4-4-8 0-6-2-2 0-76 2-2 0-6 2-2 2-10 2-2 0-4 4-8 14 6 6 14-1 14-11 26-2 10 4 14 10 12 36 24 32 5 10 5 14 20 14 32 6 7 7 5 13 5 18 4 54 1 8 14-16 8-4 0-2 2-10 2-2 2-4 0-2 2-8 0-2 2z"/>
<path fill="#50ffaf" fill-rule="evenodd" d="M1739 680l-12 1-12-21-6-14-3-16-1-18 12-8 4 4 8 16 0 4 4 6 2 10 2 2 0 6 2 2 0 26zM1607 856l-62 0-2-2-8 0-8-4-16-4-20-10-10-8-2 0-6-6-2 0-26-26 0-2-10-12-2-6-4-4-4-8 0-4-6-10 0-4-4-8 0-6-2-2 0-76 2-2 0-6 2-2 0-4 2-2 0-4 4-9 14 6 4 11-1 10-11 25-2 13 4 14 11 14 11 8 26 16 34 7 10 6 14 19 14 32 12 10 12 5 16 3 50 2 4 2 6 12-2 2-8 4-10 2-2 2-10 2-2 2-8 0-2 2z"/>
<path fill="#60ff9f" fill-rule="evenodd" d="M1729 670l-4 0-8-14-4-10-3-14-1-14 12-6 2 0 6 12 0 4 4 6 2 10 2 2 0 6 2 2 0 15-10 1zM1427 670l-2 2-12-2 0-16 2-2 0-6 2-2 2-10 2-2 14 6 2 6-2 8-8 18zM1607 856l-62 0-2-2-8 0-8-4-16-4-20-10-10-8-2 0-6-6-2 0-26-26 0-2-10-12-2-6-4-4-4-8 0-4-6-10 0-4-4-8 0-6-2-2 0-29 12-1 7 12 9 9 34 21 12 5 24 5 10 6 14 16 14 33 6 7 6 4 12 5 18 3 44 2 5 2 6 12-1 2-8 2-2 2-4 0-2 2-4 0-2 2-4 0-2 2-8 0-2 2z"/>
<path fill="#70ff8f" fill-rule="evenodd" d="M1723 658l-6-14-3-14 1-2 12-6 6 12 2 10 2 2 0 6 2 3-16 3zM1607 856l-62 0-2-2-8 0-8-4-16-4-20-10-10-8-2 0-6-6-2 0-26-26 0-2-6-6-6-12-4-4-4-8 0-4-6-10-2-10-2-2 0-6-2-2 0-19 12-2 12 13 12 8 30 16 30 9 12 6 8 8 6 9 12 31 6 7 6 4 10 4 20 4 42 2 4 2 6 14-16 4-2 2-4 0-2 2-8 0-2 2z"/>
<path fill="#80ff80" fill-rule="evenodd" d="M1607 856l-62 0-2-2-8 0-8-4-16-4-20-10-10-8-2 0-6-6-2 0-26-26 0-2-10-12-16-32 0-4-4-8 0-6-2-2 0-12 14-2 10 9 11 7 31 16 30 10 10 6 8 7 7 9 12 32 11 10 10 4 22 4 36 2 5 2 5 14-16 4-2 2-8 0-2 2z"/>
<path fill="#8fff70" fill-rule="evenodd" d="M1607 856l-62 0-2-2-8 0-8-4-16-4-20-10-10-8-2 0-6-6-2 0-26-26 0-2-10-12-16-32 0-4-4-8 0-6-2-2 0-6 14-3 20 13 34 17 28 10 10 6 8 8 6 7 11 32 11 10 10 4 22 4 37 4 5 14-10 2-2 2-8 0-2 2z"/>
<path fill="#9fff60" fill-rule="evenodd" d="M1607 856l-62 0-2-2-8 0-8-4-16-4-20-10-10-8-2 0-6-6-2 0-26-26 0-2-6-6 0-2-4-4-2-6-4-4-4-8 0-4-6-10 0-4-2-2-2-12-2-3 16-4 13 9 73 34 8 6 7 8 10 30 3 6 6 6 9 4 11 3 22 4 26 3 4 14-4 2-8 0-2 2z"/>
<path fill="#afff50" fill-rule="evenodd" d="M1607 856l-62 0-2-2-8 0-8-4-16-4-20-10-10-8-2 0-6-6-2 0-26-26 0-2-6-6 0-2-4-4-2-6-4-4-4-8 0-4-6-10 0-4-4-8 0-5 14-4 12 7 72 34 8 6 7 8 9 30 8 10 8 5 10 3 45 8 3 14-4 2z"/>
<path fill="#bfff40" fill-rule="evenodd" d="M1599 856l-54 0-2-2-8 0-8-4-16-4-20-10-10-8-2 0-6-6-2 0-26-26 0-2-6-6-6-12-4-4-4-8 0-4-6-10 0-4-2-2 0-4-2-3 16-4 82 40 13 13 8 28 7 11 7 5 9 4 41 8 1 14z"/>
<path fill="#cfff30" fill-rule="evenodd" d="M1587 856l-42 0-2-2-8 0-8-4-16-4-20-10-10-8-2 0-6-6-2 0-20-20-12-14 0-2-4-4-2-6-4-4-4-8 0-4-8-16 0-4 14-4 2 0 36 16 42 24 8 6 5 6 8 28 5 10 6 5 10 5 32 6 2 2 0 12z"/>
<path fill="#dfff20" fill-rule="evenodd" d="M1569 856l-24 0-2-2-8 0-8-4-16-4-20-10-10-8-2 0-6-6-2 0-20-20-12-14 0-2-4-4-2-6-4-4-4-8 0-4-6-10 0-4-2-3 16-5 36 16 41 24 7 6 4 7 8 27 4 9 12 9 26 8 0 12-2 0z"/>
<path fill="#efff10" fill-rule="evenodd" d="M1543 854l-8 0-8-4-16-4-20-10-10-8-2 0-6-6-2 0-26-26 0-2-6-6 0-2-4-4-2-6-4-4-4-8 0-4-6-10 0-4 14-5 22 8 25 13 30 20 9 12 12 34 6 7 11 5-3 14-2 0z"/>
<path fill="#ffff00" fill-rule="evenodd" d="M1531 852l-8-2-2-2-4 0-2-2-4 0-20-10-10-8-2 0-6-6-2 0-26-26 0-2-6-6-6-12-4-4-4-8 0-4-6-12 16-5 20 8 22 11 31 22 9 12 10 32 9 10-5 14z"/>
<path fill="#ffef00" fill-rule="evenodd" d="M1523 850l-2-2-10-2-20-10-10-8-2 0-6-6-2 0-26-26 0-2-6-6 0-2-4-4-2-6-4-4-4-8 0-4-4-6 0-4 14-5 22 8 20 11 28 22 9 12 9 26 6 12-5 14-1 0z"/>
<path fill="#ffdf00" fill-rule="evenodd" d="M1519 848l-8-2-20-10-10-8-2 0-6-6-2 0-26-26 0-2-6-6-6-12-4-4-8-19 14-6 22 8 20 11 24 20 10 13 14 35-6 14z"/>
<path fill="#ffcf00" fill-rule="evenodd" d="M1515 846l-4 0-20-10-10-8-2 0-6-6-2 0-26-26 0-2-6-6 0-2-4-4-2-6-4-4-4-8-2-9 14-6 20 7 18 10 22 20 11 14 13 32-6 14z"/>
<path fill="#ffbf00" fill-rule="evenodd" d="M1511 845l-20-9-10-8-2 0-6-6-2 0-22-22-14-18-2-6-4-4-4-8 0-4-2-3 14-6 20 7 18 10 19 18 12 16 11 28-6 15z"/>
<path fill="#ffaf00" fill-rule="evenodd" d="M1507 844l-16-8-10-8-2 0-6-6-2 0-26-26 0-2-6-6-6-12-4-4-4-8 0-5 14-6 26 10 16 13 18 20 9 16 6 18-7 14z"/>
<path fill="#ff9f00" fill-rule="evenodd" d="M1503 842l-12-6-10-8-2 0-6-6-2 0-26-26 0-2-6-6-6-12-4-4-4-11 14-6 2 0 22 9 16 12 20 24 11 26 1 2-8 14z"/>
<path fill="#ff8f00" fill-rule="evenodd" d="M1499 840l-8-4-10-8-2 0-6-6-2 0-26-26 0-2-10-12-2-6-4-4-4-8 16-7 22 8 14 11 19 24 12 26-7 14-2 0z"/>
<path fill="#ff8000" fill-rule="evenodd" d="M1497 838l-6-2-10-8-2 0-6-6-2 0-26-26 0-2-6-6-6-12-4-4-2-7 14-6 20 7 14 10 18 24 11 22 0 4-7 12z"/>
<path fill="#ff7000" fill-rule="evenodd" d="M1493 836l-2 0-10-8-2 0-6-6-2 0-26-26 0-2-6-6 0-2-4-4-2-6-6-8 16-7 18 6 12 9 18 24 10 22-8 14z"/>
<path fill="#ff6000" fill-rule="evenodd" d="M1489 834l-8-6-2 0-6-6-2 0-26-26 0-2-10-12-2-6-4-4 0-3 14-7 16 6 12 9 17 23 10 20-9 14z"/>
<path fill="#ff5000" fill-rule="evenodd" d="M1485 832l-12-10-2 0-26-26 0-2-6-6-6-12-3-4 15-8 15 6 10 8 16 22 9 18-8 14-2 0z"/>
<path fill="#ff4000" fill-rule="evenodd" d="M1483 829l-4-1-6-6-2 0-26-26 0-2-6-6-8-14 14-8 14 5 9 7 14 20 9 18-8 13z"/>
<path fill="#ff3000" fill-rule="evenodd" d="M1479 826l-8-4-26-26 0-2-10-12-2-7 14-7 12 5 8 6 13 19 8 16-9 12z"/>
<path fill="#ff2000" fill-rule="evenodd" d="M1475 824l-4-2-26-26 0-2-6-6-5-10 13-8 12 4 7 6 18 30 0 2-9 12z"/>
<path fill="#ff1000" fill-rule="evenodd" d="M1471 820l-2 0-24-24 0-2-10-12 0-2 14-8 8 3 7 5 7 10 9 18-9 12z"/>
<path fill="#ff0000" fill-rule="evenodd" d="M1467 817l-22-21 0-2-8-10 0-2 12-8 8 3 6 5 13 22 1 2-10 11z"/>
<path fill="#ef0000" fill-rule="evenodd" d="M1463 812l-2 0-16-16 0-2-6-6 0-4 12-8 10 6 11 18 1 2-10 10z"/>
<path fill="#df0000" fill-rule="evenodd" d="M1457 808l-12-12 0-2-5-6 13-9 8 6 7 13-11 10z"/>
<path fill="#cf0000" fill-rule="evenodd" d="M1451 802l-6-6-2-5 12-9 8 10-12 10z"/>
</g><g transform="scale(.5)" fill="none" stroke-width="1.9">
<path stroke="#4a4a08" d="M1484 528l17 31 3 11 3 7 8 7 12 3 34-7 9-4 7-6 3-6 1-6-3-18 0-12M1603 780l10-2 8-4 8-8 3-8 0-8-4-20 2-8 9-24 3-12 1-16-1-24 2-20-3-13-4-4-6-3-6 2-4 5-3 11 0 16-9 12-4 8 0 12 3 28-2 12-4 6-19 16-4 7-2 7 1 14 5 12 8 5z"/>
<path stroke="#4a3e08" d="M1450 528l33 43 14 24 12 10 6 1 8 0 30-11 18-3 20 1 6 3 3 4 3 8 1 10-2 10-8 18-3 10 1 40-5 12-17 24-3 18 2 18 7 14 9 6 16 3 24-4 12-5 8-6 10-13 4-19-4-94 2-28-2-13-4-11-8-12-24-17-7-9-6-16 3-16"/>
<path stroke="#4a2d08" d="M1418 528l52 54 20 38 9 9 10 2 10-2 32-21 12-4 14 1 9 5 3 6 0 6-10 16-3 12 4 42-3 7-12 17-5 10-2 12 0 14 5 22 8 15 6 5 8 3 20 3 29-4 25-10 8-6 4-6 7-18 1-14-1-16-12-76 1-32-1-18-8-22-15-22 13-28"/>
<path stroke="#4a1c08" d="M1413 557l47 39 9 20 9 30 7 9 10 5 12 2 34-7 4 2 4 5 7 14 2 10-10 30 0 28 7 30 5 12 5 7 10 8 12 5 16 1 22-1 28-4 18-7 14-13 8-16 3-20 0-24-4-18-14-54-1-48-4-26 39-48M1565 626l-4-2 3-6 5-2 4 1 0 5z"/>
<path stroke="#4a0c08" d="M1739 770l-26-12 0-2 0-28-1-20-4-14-12-28-5-14-2-14-1-26 1-23 50-45M1413 586l37 24 6 14 4 14 6 48 11 26 6 7 6 3 24-2 8 2 6 4 7 10 20 52 9 14 8 6 8 3 22 4 42-1 30-6 40 48"/>
<path stroke="#3e0814" d="M1739 697l-12 0-19-39-6-20-2-28 1-6 38-26M1413 612l26 13 6 11 1 10 0 8-11 26-2 10 3 12 9 13 12 9 24 15 8 2 24 3 10 5 14 19 15 34 11 11 14 6 18 3 54 1 2 1 18 32"/>
<path stroke="#2d0825" d="M1413 715l14-1 10 10 12 8 32 16 36 13 8 6 8 11 11 28 9 12 12 6 22 5 44 3 10 24"/>
<path stroke="#1c0835" d="M1413 736l18-5 82 41 8 6 6 8 8 27 7 11 7 5 10 4 42 8 4 15"/>
<path stroke="#0c0846" d="M1413 749l22-7 37 16 37 26 9 12 11 32 4 5 7 5-4 18"/>
<path stroke="#08144a" d="M1413 760l24-10 20 7 12 6 10 7 17 16 11 15 12 31-10 24"/>
<path stroke="#08254a" d="M1413 771l28-13 20 7 15 11 20 26 10 24-15 30"/>
<path stroke="#08354a" d="M1413 782l32-17 16 6 12 11 13 20 8 16-25 38"/>
<path stroke="#08464a" d="M1413 795l36-23 8 3 6 5 16 26 0 2-39 48"/>
</g>
</g>
<ellipse cx="788.1" cy="345.6" rx="69.20" ry="69.40" fill="none" stroke="#000" stroke-width="1.05"/>
<polyline points="800.8,276.7 790.9,266.0 785.3,266.0 775.4,276.7" fill="none" stroke="#000" stroke-width="1"/>
<polyline points="856.2,332.3 858.7,329.3 859.8,329.2 861.4,329.7 863.1,332.3 862.8,346.4 863.8,358.5 861.7,363.8 858.7,364.8 855.1,362.2" fill="none" stroke="#000" stroke-width="1"/>
<polyline points="720.0,332.3 717.5,329.3 716.4,329.2 714.8,329.7 713.1,332.3 713.4,346.4 712.4,358.5 714.5,363.8 717.5,364.8 721.1,362.2" fill="none" stroke="#000" stroke-width="1"/>
<clipPath id="cAS"><ellipse cx="427.1" cy="589.2" rx="76.79" ry="78.43"/></clipPath>
<ellipse cx="427.1" cy="589.2" rx="82.07" ry="83.82" fill="#edf5ff"/>
<g clip-path="url(#cAS)"><g transform="scale(.5)">
<rect x="688" y="1009" width="331" height="337" fill="#00009f"/>
<path fill="#0000af" fill-rule="evenodd" d="M895 1348l-80 0-2-2-12-2-6-4-4 0-24-12-4-4-8-3-8-8-2 0-21-21 0-2-6-6 0-2-12-16-8-16 0-4-6-12 0-6-4-8 0-82 2-2 0-6 2-2 2-10 4-6 0-4 8-16 4-4 2-6 12-14 0-2 23-23 2 0 6-6 2 0 6-6 6-2 4-4 12-6 4 0 6-3 16-4 2-2 82-1 2 2 6 0 12 6 4 0 24 12 12 10 2 0 8 8 2 0 22 25 0 2 12 16 10 20 0 4 6 12 2 14 2 2 0 74-2 2 0 6-2 2-2 10-2 2-2 10-10 20-4 4-4 8-6 6 0 2-10 10 0 2-20 18-8 4-10 8-20 10-16 4-2 2-4 0-2 2zM860 1264l1-2-2-4-4-1-3 1-1 2 2 4 7 0z"/>
<path fill="#0000bf" fill-rule="evenodd" d="M895 1348l-80 0-2-2-12-2-6-4-4 0-24-12-4-4-8-4-8-7-2 0-21-21 0-2-6-6 0-2-12-16-8-16 0-4-6-12 0-6-4-8 0-82 2-2 0-6 2-2 2-10 4-6 0-4 8-16 4-4 2-6 12-14 0-2 23-23 2 0 6-6 2 0 6-6 6-2 4-4 12-6 4 1 6-4 16-4 2-2 82-1 2 2 6 0 12 6 4 0 24 12 12 10 2 0 8 8 2 0 22 25 0 2 12 16 10 20 0 4 6 12 2 14 2 2 0 74-2 2 0 6-2 2-2 10-2 2-2 10-10 20-4 4-4 8-6 6 0 2-10 10 0 2-20 18-8 4-10 8-20 10-16 4-2 2-4 0-2 2zM859 1272l6-2 5-4 1-4-1-4-3-4-8-4-8 0-5 2-4 6 3 7 6 5 8 2z"/>
<path fill="#0000cf" fill-rule="evenodd" d="M895 1348l-80 0-2-2-12-2-6-4-4 0-24-12-4-4-8-4-8-8-2 1-21-21 0-2-6-6 0-2-12-16-8-16 0-4-6-12 0-6-4-8 0-82 2-2 0-6 2-2 2-10 4-6 0-4 8-16 4-4 2-6 12-14 0-2 23-23 2 0 6-6 2 0 6-6 6-2 4-4 12-5 4 0 6-4 16-4 2-2 82-1 2 2 6 0 12 6 4 0 24 12 12 10 2 0 8 8 2 0 22 25 0 2 12 16 10 20 0 4 6 12 2 14 2 2 0 74-2 2 0 6-2 2-2 10-2 2-2 10-10 20-4 4-4 8-6 6 0 2-10 10 0 2-20 18-8 4-10 8-20 10-16 4-2 2-4 0-2 2zM859 1276l9-2 6-4 4-6-1-6-6-7-10-5-10 0-8 2-4 4-1 4 2 10 9 7 10 3z"/>
<path fill="#0000df" fill-rule="evenodd" d="M895 1348l-80 0-2-2-12-2-6-4-4 0-24-12-4-4-8-4-8-8-2 0-21-20 0-2-6-6 0-2-12-16-8-16 0-4-6-12 0-6-4-8 0-82 2-2 0-6 2-2 2-10 4-6 0-4 8-16 4-4 2-6 12-14 0-2 23-23 2 0 6-6 2 0 6-6 6-2 4-4 12-5 4 0 6-4 16-4 2-2 82-1 2 2 6 0 12 6 4 0 24 12 12 10 2 0 8 8 2 0 22 25 0 2 12 16 10 20 0 4 6 12 2 14 2 2 0 74-2 2 0 6-2 2-2 10-2 2-2 10-10 20-4 4-4 8-6 6 0 2-10 10 0 2-20 18-8 4-10 8-20 10-16 4-2 2-4 0-2 2zM866 1278l10-4 7-6 1-6-3-8-10-7-12-4-12 0-8 4-4 5-1 6 3 8 4 5 5 5 7 2 13 0z"/>
<path fill="#0000ef" fill-rule="evenodd" d="M895 1348l-80 0-2-2-12-2-6-4-4 0-24-12-4-4-8-4-8-8-2 0-21-20 0-2-6-6 0-2-12-16-8-16 0-4-6-12 0-6-4-8 0-82 2-2 0-6 2-2 2-10 4-6 0-4 8-16 4-4 2-6 12-14 0-2 23-23 2 0 6-6 2 0 6-6 6-2 4-4 12-5 4 0 6-4 4 0 2-2 4 0 5 18 5 4 6-2 10-10-2-14 66-1 2 2 6 0 12 6 4 0 24 12 12 10 2 0 8 8 2 0 22 25 0 2 12 16 10 20 0 4 6 12 0 6 2 2 0 6 2 2 0 74-2 2 0 6-2 2-2 10-2 2-2 10-10 20-4 4-4 8-6 6 0 2-10 10 0 2-20 18-8 4-10 8-20 10-16 4-2 2-4 0-2 2zM870 1280l13-6 6-6 1-8-5-8-12-8-14-4-12 0-10 5-4 5-1 8 1 8 6 7 6 5 8 3 8 0 9-1z"/>
<path fill="#0000ff" fill-rule="evenodd" d="M895 1348l-80 0-2-2-12-2-6-4-4 0-24-12-4-4-8-4-8-8-2 0-21-20 0-2-6-6 0-2-12-16-8-16 0-4-4-6 0-4-2-2 0-6-4-8 0-82 2-2 0-6 2-2 2-10 4-6 0-4 8-16 4-4 2-6 12-14 0-2 23-23 2 0 6-6 2 0 6-6 6-2 4-4 12-5 4 0 6-4 10 26 4 5 4 1 6-2 6-4 17-18 1-2-1-12 53 0 2 1 6 0 12 6 4 0 30 16 16 14 2 0 12 13 0 2 10 10 0 2 12 16 10 20 0 4 6 12 0 6 2 2 0 6 2 2 0 74-2 2 0 6-2 2-2 10-2 2-2 10-10 20-4 4-4 8-6 6 0 2-10 10 0 2-20 18-8 4-10 8-20 10-16 4-2 2-4 0-2 2zM909 1116l6-6 1-6-3-6-6-2-5 4-1 8 2 6 3 2 3 0zM863 1284l15-4 13-8 4-6-2-10-8-9-15-7-17-4-12 3-7 5-4 8-1 8 2 8 6 8 8 5 8 2 10 1z"/>
<path fill="#0010ff" fill-rule="evenodd" d="M895 1348l-80 0-2-2-12-2-6-4-4 0-24-12-4-4-8-4-8-8-2 0-21-20 0-2-6-6 0-2-12-16-8-16 0-4-4-6-2-12-4-8 0-82 2-2 0-6 2-2 2-10 4-6 0-4 8-16 4-4 2-6 12-14 0-2 23-23 2 0 14-12 6-2 4-3 12-6 6 0 10 28 4 6 6 2 6-1 6-4 25-23 5-6 0-12 42 0 2 2 6 0 12 5 4 0 30 16 16 14 2 0 12 13 0 2 10 10 0 2 12 16 10 20 0 4 4 6 2 12 2 2 0 6 2 2 0 74-2 2 0 6-2 2-2 10-2 2-2 10-10 20-4 4-4 8-6 6 0 2-10 10 0 2-20 18-8 4-10 8-20 10-16 4-2 2-4 0-2 2zM909 1122l8-8 2-10-5-10-5-4-4 0-4 3-3 5-2 12 5 10 4 2 4 0zM865 1286l16-5 14-7 3-4 1-6-2-10-10-10-16-7-18-3-14 3-8 7-4 8 0 8 3 10 6 8 9 5 10 3 10 0z"/>
<path fill="#0020ff" fill-rule="evenodd" d="M895 1348l-80 0-2-2-12-2-6-4-4 0-24-12-4-4-8-4-8-8-2 0-21-20 0-2-6-6 0-2-12-16-8-16 0-4-4-6-2-12-4-8 0-82 2-2 0-6 2-2 2-10 4-6 0-4 8-16 4-4 2-6 12-14 0-2 23-23 2 0 14-12 6-1 4-4 12-6 7 14 7 20 4 6 6 4 6-2 6-4 33-28 7-8 1-12 33 0 2 2 6 0 12 5 4 0 30 16 16 14 2 0 12 13 0 2 10 10 0 2 12 16 10 20 0 4 4 6 2 12 2 2 0 6 2 2 0 74-2 2 0 6-2 2-2 10-2 2-2 10-10 20-4 4-4 8-6 6 0 2-10 10 0 2-20 18-8 4-10 8-20 10-16 4-2 2-4 0-2 2zM908 1128l5-3 5-7 3-6 0-8-2-8-4-6-4-4-6-1-4 1-5 6-2 8-1 10 2 8 4 8 4 2 5 0zM866 1288l21-6 12-8 4-8-2-12-8-10-17-8-21-5-8 0-8 3-8 6-6 10-1 10 3 10 8 10 8 5 10 3 13 0z"/>
<path fill="#0030ff" fill-rule="evenodd" d="M895 1348l-80 0-2-2-12-2-6-4-4 0-24-12-4-4-8-4-8-8-2 0-21-20 0-2-6-6 0-2-12-16-8-16 0-4-4-6-2-12-4-8 0-82 2-2 0-6 2-2 2-10 4-6 0-4 8-16 4-4 2-6 12-14 0-2 23-23 2 0 14-12 6-1 4-4 8-4 7 14 10 26 5 6 6 2 10-5 44-35 7-8 1-12 24 0 2 2 6 0 12 6 4 0 30 15 16 14 2 0 12 13 0 2 10 10 0 2 12 16 10 20 0 4 4 6 2 12 2 2 0 6 2 2 0 74-2 2 0 6-2 2-2 10-2 2-2 10-10 20-4 4-4 8-6 6 0 2-10 10 0 2-20 18-8 4-10 8-20 10-16 4-2 2-4 0-2 2zM905 1134l8-4 6-8 4-9 1-9-2-8-5-9-6-6-8-2-6 4-4 7-3 20 2 10 3 8 4 4 6 2zM867 1290l21-6 14-8 3-6 2-6-3-12-9-11-15-7-25-6-8 1-8 2-9 7-7 10-1 10 3 12 6 10 10 7 12 3 14 0z"/>
<path fill="#0040ff" fill-rule="evenodd" d="M895 1348l-80 0-2-2-12-2-6-4-4 0-24-12-4-4-8-4-8-8-2 0-21-20 0-2-6-6 0-2-12-16-8-16 0-4-4-6-2-12-4-8 0-82 2-2 0-6 2-2 2-10 4-6 0-4 8-16 4-4 2-6 12-14 0-2 23-23 2 0 14-11 6-2 8-6 2 0 6 14 6 16 6 13 6 7 6 1 8-4 24-19 28-18 9-10 2-14 15 0 2 2 6 0 12 6 4 0 30 15 16 14 2 0 12 13 0 2 10 10 0 2 12 16 10 20 0 4 4 6 2 12 2 2 0 6 2 2 0 74-2 2 0 6-2 2-2 10-2 2-2 10-10 20-4 4-4 8-6 6 0 2-10 10 0 2-20 18-8 4-10 8-20 10-16 4-2 2-4 0-2 2zM909 1138l8-8 5-8 3-10 1-10-3-11-6-9-8-7-8-1-6 3-5 9-2 14 0 16 3 12 4 7 6 4 8-1zM866 1292l23-6 14-8 5-6 2-6 0-6-2-8-9-12-12-7-30-7-8 0-8 2-10 6-9 12-3 10 2 12 7 12 11 8 12 4 15 0z"/>
<path fill="#0050ff" fill-rule="evenodd" d="M895 1348l-80 0-2-2-12-2-6-4-4 0-24-12-4-4-8-4-8-8-2 0-21-20 0-2-6-6 0-2-12-16-8-16 0-4-4-6-2-12-4-8 0-82 2-2 0-6 2-2 2-10 4-6 0-4 8-16 4-4 2-6 12-14 0-2 23-23 2 0 6-6 2 0 6-5 6-2 4-4 3 0 7 13 12 31 6 7 6 3 8-4 28-21 34-17 8-12 4-16 6 0 2 2 12 2 6 4 4 0 24 11 12 10 2 0 8 8 2 0 12 12 0 3 10 10 0 2 12 16 10 20 0 4 4 6 2 12 2 2 0 6 2 2 0 74-2 2 0 6-2 2-2 10-2 2-2 10-10 20-4 4-4 8-6 6 0 2-10 10 0 2-20 18-8 4-10 8-20 10-16 4-2 2-4 0-2 2zM907 1144l8-6 8-12 4-12 1-12-3-12-8-13-10-9-8-1-6 3-5 12-3 18 0 18 3 14 5 8 6 4 8 0zM865 1294l24-6 16-9 5-5 2-6 1-8-1-8-8-12-13-9-36-8-14 2-11 7-10 12-3 12 2 12 8 13 10 8 13 5 15 0z"/>
<path fill="#0060ff" fill-rule="evenodd" d="M895 1348l-80 0-2-2-12-2-6-4-4 0-24-12-4-4-8-4-8-8-2 0-21-20 0-2-6-6 0-2-12-16-8-16 0-4-4-6-2-12-4-8 0-82 2-2 0-6 2-2 2-10 4-6 0-4 8-16 4-4 2-6 12-14 0-2 23-23 2 0 14-11 8-4 2-1 6 13 9 22 6 12 5 6 8 3 8-3 22-18 14-7 14-4 20-1 3-4 9-34 12 2 6 4 4 0 24 11 12 10 2 0 8 8 2 0 12 12 0 3 10 10 0 2 12 16 10 20 0 4 4 6 2 12 2 2 0 6 2 2 0 74-2 2 0 6-2 2-2 10-2 2-2 10-10 20-4 4-4 8-6 6 0 2-10 10 0 2-20 18-8 4-10 8-20 10-16 4-2 2-4 0-2 2zM907 1150l10-9 8-14 5-15-1-14-5-14-9-15-12-10-12-4-2 1-2 7-4 25-1 20 2 18 3 12 6 9 6 4 8-1zM864 1296l25-6 18-10 6-6 2-6 1-8-1-8-7-14-13-10-10-3-28-5-14 1-12 6-11 13-5 12 0 12 8 15 10 10 14 6 17 1z"/>
<path fill="#0070ff" fill-rule="evenodd" d="M895 1348l-80 0-2-2-12-2-6-4-4 0-24-12-4-4-8-4-8-8-2 0-21-20 0-2-6-6 0-2-12-16-8-16 0-4-6-12 0-6-4-8 0-82 2-2 0-6 2-2 2-10 4-6 0-4 8-16 4-4 2-6 12-14 0-2 23-23 2 0 6-6 2 1 10-8 4 0 6 12 9 22 6 12 5 5 6 4 10-2 26-18 12-6 14-3 10 4 4 6 1 8 0 40 3 21 6 16 4 5 4 2 10-2 12-12 9-18 4-18-2-14-5-16-24-36 0-12 5-16 3 0 6 4 4 0 24 12 12 9 2 0 8 8 2 0 22 25 0 2 12 16 10 20 0 4 6 12 2 14 2 2 0 34 0 40-2 2 0 6-2 2-2 10-2 2-2 10-10 20-4 4-4 8-22 26-2 0-12 12-8 4-10 8-20 10-16 4-2 2-4 0-2 2zM861 1298l26-6 20-9 6-5 5-8 2-8-1-8-7-16-5-7-8-6-14-4-30-5-10 1-12 5-13 14-8 14 0 12 7 16 11 12 15 6 16 2z"/>
<path fill="#0080ff" fill-rule="evenodd" d="M895 1348l-80 0-2-2-12-2-6-4-4 0-24-12-4-4-8-4-8-8-2 0-21-20 0-2-6-6 0-2-12-16-8-16 0-4-6-12 0-6-4-8 0-82 2-2 0-6 2-2 2-10 4-6 0-4 8-16 4-4 2-6 12-14 0-2 23-23 2 0 6-5 2 0 10-8 8 14 14 32 6 7 6 4 6 0 6-1 26-18 12-6 12-1 8 5 4 6 2 8 1 42 4 24 5 14 4 5 4 2 10-2 12-11 10-19 6-23 0-12-3-14-21-46-1-8 5-14 6 0 24 12 12 9 2 0 8 8 2 0 22 25 0 2 12 16 10 20 0 4 6 12 2 14 2 2 0 34 0 40-2 2 0 6-2 2-2 10-2 2-2 10-10 20-4 4-4 8-22 26-2 0-12 12-8 4-10 8-20 10-16 4-2 2-4 0-2 2zM873 1298l26-8 15-10 6-8 2-8 1-8-3-10-9-16-6-6-8-5-10-3-18 0-16-4-12 2-14 10-15 20-3 12 3 12 9 16 14 11 18 4 20-1z"/>
<path fill="#008fff" fill-rule="evenodd" d="M895 1348l-80 0-2-2-12-2-6-4-4 0-24-12-4-4-8-4-8-8-2 0-21-20 0-2-6-6 0-2-12-16-8-16 0-4-6-12 0-6-4-8 0-82 2-2 0-6 2-2 2-10 4-6 0-4 8-16 4-4 2-6 12-14 0-2 11-11 12-12 2 0 14-11 2 0 9 14 13 32 6 7 6 3 8 1 6-1 26-17 12-5 10-1 8 5 3 6 2 8 3 46 4 38 3 8 5 4 6 1 6-2 14-14 11-21 9-28 1-12-2-14-18-52 0-4 5-14 28 14 16 13 2 0 12 13 0 2 10 10 0 2 12 16 10 20 0 4 6 12 2 14 2 2 0 34 0 40-2 2 0 6-2 2-2 10-2 2-2 10-10 20-4 4-4 8-22 26-2 0-12 12-8 4-10 8-20 10-16 4-2 2-4 0-2 2zM872 1300l27-8 16-10 7-8 3-8 1-8-2-10-5-12-6-11-8-8-8-6-8-2-18 2-16-4-10 2-16 8-17 21-6 12 1 12 10 20 7 8 7 5 18 6 23-1z"/>
<path fill="#009fff" fill-rule="evenodd" d="M895 1348l-80 0-2-2-12-2-6-4-4 0-24-12-4-4-8-4-8-8-2 0-21-20 0-2-6-6 0-2-12-16-8-16 0-4-6-12 0-6-4-8 0-82 2-2 0-6 2-2 2-10 4-6 0-4 8-16 4-4 2-6 12-14 0-2 11-11 12-12 2 0 12-9 2-1 8 13 15 34 5 6 6 4 8 2 8-2 28-17 12-5 6 1 6 3 6 10 2 14 2 62-2 14-6 19-6 6-22 9-12 8-20 26-4 10 2 14 11 20 9 10 14 7 12 2 14-1 32-8 19-10 7-8 4-8 2-12-2-12-7-14-14-24-2-8 2-8 19-35 12-41 1-10-2-12-14-52 6-16 3 0 18 10 16 13 2 0 12 13 0 2 10 10 0 2 12 16 10 20 0 4 6 12 2 14 2 2 0 34 0 40-2 2 0 6-2 2-2 10-2 2-2 10-10 20-4 4-4 8-22 26-2 0-12 12-8 4-10 8-20 10-16 4-2 2-4 0-2 2z"/>
<path fill="#00afff" fill-rule="evenodd" d="M895 1348l-80 0-2-2-12-2-6-4-4 0-24-12-4-4-8-4-8-8-2 0-21-20 0-2-6-6 0-2-12-16-8-16 0-4-6-12 0-6-4-8 0-82 2-2 0-6 2-2 2-10 4-6 0-4 8-16 4-4 2-6 12-14 0-2 23-23 2 1 6-6 6-3 8 13 15 34 5 6 6 4 8 2 10-2 28-17 12-3 10 3 6 10 2 17 1 44 0 12-3 10-18 25-22 14-7 7-10 14-10 12-3 8 0 8 3 8 11 20 12 12 14 7 12 2 14-1 34-9 12-5 8-6 8-8 4-8 1-10-1-10-15-38-2-12 2-10 13-36 10-40-1-18-11-52 7-16 15 8 6 6 2 0 22 20 0 2 10 10 0 2 12 16 10 20 0 4 6 12 2 14 2 2 0 34 0 40-2 2 0 6-2 2-2 10-2 2-2 10-10 20-4 4-4 8-22 26-2 0-12 12-8 4-10 8-20 10-16 4-2 2-4 0-2 2z"/>
<path fill="#00bfff" fill-rule="evenodd" d="M895 1348l-80 0-2-2-12-2-6-4-4 0-24-12-4-4-8-4-8-8-2 0-21-20 0-2-6-6 0-2-12-16-8-16 0-4-6-12 0-6-4-8 0-82 2-2 0-6 2-2 2-10 4-6 0-4 8-16 4-4 2-6 12-14 0-2 23-22 2 0 6-6 4-2 9 14 15 33 6 8 6 3 8 2 10-2 28-16 10-3 6 0 4 3 6 10 2 20 1 36-1 12-4 10-20 25-27 19-9 16-12 9-3 7 0 8 3 10 14 24 12 13 16 7 14 2 14-1 35-9 13-6 8-6 7-8 4-8 1-8 0-10-12-36-2-14 20-88 0-16-9-52 7-14 4 0 12 10 2 0 22 20 0 2 10 10 0 2 12 16 10 20 0 4 6 12 2 14 2 2 0 34 0 40-2 2 0 6-2 2-2 10-2 2-2 10-10 20-4 4-4 8-22 26-2 0-12 12-8 4-10 8-20 10-16 4-2 2-4 0-2 2zM786 1222l4-6-1-8-4-5-7 1-5 6 1 6 5 5 4 2 3-1z"/>
<path fill="#00cfff" fill-rule="evenodd" d="M895 1348l-80 0-2-2-12-2-6-4-4 0-24-12-4-4-8-4-8-8-2 0-21-20 0-2-6-6 0-2-12-16-8-16 0-4-6-12 0-6-4-8 0-82 2-2 0-6 2-2 2-10 4-6 0-4 8-16 4-4 2-6 12-14 0-2 23-22 2 0 6-6 2 0 8 12 18 37 10 9 8 2 10-2 30-15 10-3 8 2 5 10 3 22 0 34-3 14-7 12-18 19-24 11-8 2-16-8-10-2-10 4-5 10 0 8 3 6 14 16 12 26 14 22 14 13 14 7 14 2 14-1 37-9 13-6 9-6 8-8 4-8 3-10-1-10-10-34-1-16 16-92-7-62 9-14 10 8 2 0 8 8 2 0 12 12 0 2 10 10 0 2 12 16 10 20 0 4 6 12 2 14 2 2 0 34 0 40-2 2 0 6-2 2-2 10-2 2-2 10-10 20-4 4-4 8-22 26-2 0-12 12-8 4-10 8-20 10-16 4-2 2-4 0-2 2z"/>
<path fill="#00dfff" fill-rule="evenodd" d="M895 1348l-80 0-2-2-12-2-6-4-4 0-24-12-4-4-8-4-8-8-2 0-21-20 0-2-6-6 0-2-12-16-8-16 0-4-6-12 0-6-4-8 0-82 2-2 0-6 2-2 2-10 4-6 0-4 8-16 4-4 2-6 12-14 0-2 23-22 2 0 4-4 2-1 8 13 18 36 10 10 8 2 10-1 32-15 10-3 6 3 5 10 3 20 0 32-4 14-8 12-14 14-8 5-10 3-12 0-24-6-12 2-8 6-4 10 0 8 3 10 17 20 12 22 14 20 14 14 16 8 14 2 16-1 38-11 12-5 10-7 8-8 5-8 2-8 0-10-9-34-1-16 13-94-5-58 9-15 8 5 8 8 2 0 22 24 0 2 12 16 10 20 0 4 6 12 2 14 2 2 0 34 0 40-2 2 0 6-2 2-2 10-2 2-2 10-10 20-4 4-4 8-22 26-2 0-12 12-8 4-10 8-20 10-16 4-2 2-4 0-2 2z"/>
<path fill="#00efff" fill-rule="evenodd" d="M895 1348l-80 0-2-2-12-2-6-4-4 0-24-12-4-4-8-4-8-8-2 0-21-20 0-2-6-6 0-2-12-16-8-16 0-4-6-12 0-6-4-8 0-82 2-2 0-6 2-2 2-10 4-6 0-4 8-16 4-4 2-6 12-14 0-2 23-22 4-2 2-1 9 13 17 35 10 11 8 3 8-1 34-15 10-2 6 1 5 10 4 20-2 32-4 14-9 11-12 11-14 5-10 0-28-6-12 1-6 3-5 5-4 6-2 8 1 10 4 10 16 20 29 42 14 14 17 7 14 2 16-1 40-11 22-12 8-7 6-10 2-8 1-10-8-32-1-18 6-66 5-28-4-32 0-24 9-14 4 2 8 8 2 0 22 24 0 2 12 16 10 20 0 4 6 12 2 14 2 2 0 34 0 40-2 2 0 6-2 2-2 10-2 2-2 10-10 20-4 4-4 8-22 26-2 0-12 12-8 4-10 8-20 10-16 4-2 2-4 0-2 2z"/>
<path fill="#00ffff" fill-rule="evenodd" d="M895 1348l-80 0-2-2-12-2-6-4-4 0-24-12-4-4-8-4-8-8-2 0-21-20 0-2-6-6 0-2-12-16-8-16 0-4-6-12 0-6-4-8 0-82 2-2 0-6 2-2 2-10 4-6 0-4 8-16 4-4 2-6 12-14 0-2 23-22 4-2 8 12 19 40 5 6 6 4 6 1 8 0 32-14 12-3 4 1 3 3 5 8 3 18-2 30-5 14-10 12-10 7-12 4-8 0-32-7-12 1-6 3-6 6-5 8-1 8 0 10 5 12 44 60 15 16 8 5 10 4 14 2 18-1 42-12 12-5 11-7 8-8 7-10 2-8 1-10-7-28-2-16 4-72 5-28-3-28 0-18 0-8 10-13 8 7 2 0 22 24 0 2 12 16 10 20 0 4 6 12 2 14 2 2 0 34 0 40-2 2 0 6-2 2-2 10-2 2-2 10-10 20-4 4-4 8-22 26-2 0-12 12-8 4-10 8-20 10-16 4-2 2-4 0-2 2z"/>
<path fill="#10ffef" fill-rule="evenodd" d="M895 1348l-80 0-2-2-12-2-6-4-4 0-24-12-4-4-8-4-8-8-2 0-21-20 0-2-6-6 0-2-12-16-8-16 0-4-6-12 0-6-4-8 0-82 2-2 0-6 2-2 2-10 4-6 0-4 8-16 4-4 2-6 12-14 0-2 23-22 2 0 9 12 19 40 4 6 6 5 6 1 8 0 32-14 12-2 8 3 4 9 3 16-2 28-5 12-10 12-10 7-12 3-38-9-12 1-8 4-6 6-5 8-3 10 1 12 5 12 31 44 27 31 10 7 12 5 14 2 18-2 43-11 23-12 9-8 7-10 3-8 2-10-1-10-6-20-1-12 2-76 4-30-3-36 2-14 10-12 4 4 2 0 22 24 0 2 12 16 10 20 0 4 6 12 2 14 2 2 0 34 0 40-2 2 0 6-2 2-2 10-2 2-2 10-10 20-4 4-4 8-22 26-2 0-12 12-8 4-10 8-20 10-16 4-2 2-4 0-2 2z"/>
<path fill="#20ffdf" fill-rule="evenodd" d="M895 1348l-80 0-2-2-12-2-6-4-4 0-24-12-4-4-8-4-8-8-2 0-21-20 0-2-6-6 0-2-12-16-8-16 0-4-4-6-2-12-4-8 0-82 2-2 0-6 2-2 2-10 4-6 0-4 8-16 4-4 2-6 12-14 0-2 21-20 2-1 10 13 18 40 5 8 5 4 6 2 8-1 30-13 12-3 8 1 6 10 3 14-1 26-5 12-10 12-9 6-12 3-40-10-12 0-8 5-8 9-5 9-2 10 1 12 5 12 31 44 30 34 10 6 12 5 14 1 18-1 48-13 22-12 9-8 7-10 4-10 1-10-1-10-5-18-2-12 0-76 4-30-2-32 2-14 10-12 3 0 22 24 0 2 12 16 10 20 0 4 6 12 2 14 2 2 0 34 0 40-2 2 0 6-2 2-2 10-2 2-2 10-10 20-4 4-4 8-22 26-2 0-12 12-8 4-10 8-20 10-16 4-2 2-4 0-2 2z"/>
<path fill="#30ffcf" fill-rule="evenodd" d="M895 1348l-80 0-2-2-12-2-6-4-4 0-24-12-4-4-8-4-8-8-2 0-21-20 0-2-6-6 0-2-12-16-8-16 0-4-4-6-2-12-4-8 0-82 2-2 0-6 2-2 2-10 4-6 0-4 8-16 4-4 2-6 13-14 0-2 20-20 10 14 21 46 9 9 6 1 6-1 28-14 14-4 6 1 4 2 5 10 2 14-2 24-5 12-10 10-10 5-10 1-16-4-22-8-12 0-10 6-8 9-6 11-2 10 1 12 4 12 31 44 31 36 11 7 12 5 16 2 18-1 50-14 14-7 10-6 9-8 7-10 4-10 1-12-6-28-1-14-2-70 4-32-1-30 2-14 10-12 21 22 0 2 12 16 10 20 0 4 6 12 2 14 2 2 0 34 0 40-2 2 0 6-2 2-2 10-2 2-2 10-10 20-4 4-4 8-22 26-2 0-12 12-8 4-10 8-20 10-16 4-2 2-4 0-2 2z"/>
<path fill="#40ffbf" fill-rule="evenodd" d="M895 1348l-80 0-2-2-12-2-6-4-4 0-24-12-4-4-8-4-8-8-2 0-21-20 0-2-6-6 0-2-12-16-8-16 0-4-4-6-2-12-4-8 0-82 2-2 0-6 2-2 2-10 4-6 0-4 8-16 4-4 2-6 13-14 0-2 18-18 11 14 9 18 11 30 5 7 4 3 6 1 6-1 26-15 16-5 10 2 6 10 1 12-1 22-5 12-9 9-10 6-12 1-16-5-20-11-10-1-10 6-12 13-7 12-2 12 1 12 5 12 32 46 33 37 12 7 14 4 14 2 18-2 48-13 23-11 10-8 7-8 7-14 3-16-7-38-4-68 4-34-1-28 2-15 12-11 16 18 0 2 12 16 10 20 0 4 4 6 2 12 2 2 0 6 2 2 0 74-2 2 0 6-2 2-2 10-2 2-2 10-10 20-4 4-4 8-22 26-2 0-12 12-8 4-10 8-20 10-16 4-2 2-4 0-2 2z"/>
<path fill="#50ffaf" fill-rule="evenodd" d="M895 1348l-80 0-2-2-12-2-6-4-4 0-24-12-4-4-8-4-8-8-2 0-21-20 0-2-6-6 0-2-12-16-8-16 0-4-4-6-2-12-4-8 0-82 2-2 0-6 2-2 2-10 4-6 0-4 8-16 4-4 2-6 13-14 0-2 16-16 11 12 5 9 5 13 11 32 4 8 4 4 4 0 6-1 25-17 15-7 12 0 4 3 4 7 2 13-2 20-6 12-8 8-12 5-12-1-16-6-18-15-6 0-12 8-14 16-7 13-3 14 1 12 5 12 34 48 34 37 12 7 14 4 14 1 18-1 52-15 23-11 10-8 7-8 8-16 3-16-1-12-7-32-4-58 3-38 0-28 2-10 10-10 2 0 2 4 10 10 0 2 12 16 10 20 0 4 4 6 2 12 2 2 0 6 2 2 0 74-2 2 0 6-2 2-2 10-2 2-2 10-10 20-4 4-4 8-22 26-2 0-12 12-8 4-10 8-20 10-16 4-2 2-4 0-2 2z"/>
<path fill="#60ff9f" fill-rule="evenodd" d="M895 1348l-80 0-2-2-12-2-6-4-4 0-24-12-4-4-8-4-8-8-2 0-21-20 0-2-6-6 0-2-12-16-8-16 0-4-4-6-2-12-4-8 0-82 2-2 0-6 2-2 2-10 4-6 0-4 8-16 4-4 2-6 13-14 0-2 14-14 11 12 9 18 9 32 2 16-3 12-21 26-9 16-3 16 3 16 6 12 28 40 30 34 16 13 20 7 14 1 18-2 56-15 24-12 16-16 9-18 4-18-1-12-9-34-5-48 4-74 12-12 10 10 0 2 12 16 10 20 0 4 4 6 2 12 2 2 0 6 2 2 0 74-2 2 0 6-2 2-2 10-2 2-2 10-10 20-4 4-4 8-22 26-2 0-12 12-8 4-10 8-20 10-16 4-2 2-4 0-2 2zM829 1168l-12 1-14-5-11-10-4-6 0-6 4-8 21-20 14-8 12-1 6 3 5 8 1 10-1 14-2 10-5 8-6 6-8 4z"/>
<path fill="#70ff8f" fill-rule="evenodd" d="M895 1348l-80 0-2-2-12-2-6-4-4 0-24-12-4-4-8-4-8-8-2 0-21-20 0-2-6-6 0-2-12-16-8-16 0-4-4-6-2-12-4-8 0-82 2-2 0-6 2-2 2-10 4-6 0-4 8-16 4-4 2-6 13-14 0-2 12-12 12 12 8 16 5 22 2 20-4 18-19 29-7 15-3 16 3 14 7 12 30 42 30 34 16 13 20 7 16 0 18-2 58-16 24-12 9-8 9-10 9-18 4-20-2-12-10-32-4-34-1-24 4-58 12-11 2 1 16 22 10 20 0 4 4 6 2 12 2 2 0 6 2 2 0 74-2 2 0 6-2 2-2 10-2 2-2 10-10 20-4 4-4 8-22 26-2 0-12 12-8 4-10 8-20 10-16 4-2 2-4 0-2 2zM829 1166l-12 1-13-5-9-10-1-10 4-8 16-18 11-7 12-2 6 2 4 7 2 8 0 14-3 10-4 8-6 6-7 4z"/>
<path fill="#80ff80" fill-rule="evenodd" d="M895 1348l-80 0-2-2-12-2-6-4-4 0-24-12-4-4-8-4-8-8-2 0-21-20 0-2-6-6 0-2-12-16-8-16 0-4-4-6-2-12-4-8 0-82 2-2 0-6 2-2 2-10 4-6 0-4 8-16 4-4 3-6 12-14 0-2 10-10 12 11 7 15 5 18 1 20-1 12-4 10-18 30-6 12-2 14 1 14 7 14 32 44 32 37 10 9 12 6 14 3 14 1 24-3 54-15 18-7 16-11 12 11-18 17-8 4-10 8-20 10-16 4-2 2-4 0-2 2zM993 1280l-2 0-11-8 8-22 2-18-2-8-9-22-4-14-4-42 4-62 13-12 5 8 4 4 0 2 4 4 10 20 0 4 6 12 2 14 2 2 0 74-2 2 0 6-2 2-2 10-2 2-2 10-10 20-4 4-4 8zM829 1164l-10 1-12-5-8-8-1-8 3-8 13-18 11-7 10-2 6 2 4 5 2 8 0 12-2 10-4 8-5 6-7 4z"/>
<path fill="#8fff70" fill-rule="evenodd" d="M895 1348l-80 0-2-2-12-2-6-4-4 0-24-12-4-4-8-4-8-8-2 0-21-20 0-2-6-6 0-2-12-16-8-16 0-4-4-6-2-12-3-8-1-82 2-2 0-6 2-2 2-10 4-6 0-4 8-16 5-4 2-6 12-14 0-2 8-8 1 0 11 10 6 12 4 14 2 20-1 12-4 14-18 32-6 16-1 18 5 16 23 30 13 20 27 31 13 13 13 7 20 5 26-2 60-15 20-8 2 1 9 12-19 14-20 10-16 4-2 2-4 0-2 2zM1011 1248l-2 0-14-6 0-16-14-32-4-22-1-30 4-52 1-3 12-8 8 11 10 20 0 4 6 12 2 14 2 2 0 74-2 2 0 6-4 8-4 16zM827 1162l-10 0-8-3-6-7-1-8 2-6 11-18 10-7 10-2 6 3 4 6 1 8-1 10-2 8-4 8-6 5-6 3z"/>
<path fill="#9fff60" fill-rule="evenodd" d="M895 1348l-80 0-2-2-12-2-6-4-4 0-24-12-4-4-8-4-8-8-2 0-21-20 0-2-6-6 0-2-12-16-8-16 0-4-4-6-1-12-4-8-1-82 2-2 0-6 2-2 2-10 4-6 0-4 9-16 4-4 2-6 6-6 0-2 12-14 2 0 10 10 5 10 4 14 2 18-1 12-4 14-18 34-6 16-1 18 6 16 23 30 16 24 32 36 16 11 20 6 24 0 16-3 62-17 9 13-9 8-20 10-16 4-2 2-4 0-2 2zM1017 1230l-2 1-14-5-16-34-4-16-1-26 4-54 13-9 4 3 10 20 0 4 6 12 2 14 2 2 0 74-2 2-2 12zM827 1160l-8 1-8-4-5-5-1-8 7-16 6-8 9-6 8-1 5 3 3 6 1 16-6 14-5 5-6 3z"/>
<path fill="#afff50" fill-rule="evenodd" d="M895 1348l-80 0-2-2-12-2-6-4-4 0-24-12-4-4-8-4-8-8-2 0-21-20 0-2-6-6 0-2-12-16-8-16 0-4-3-6-2-12-4-8-1-82 2-2 0-6 2-2 2-10 4-6 0-4 9-16 4-4 2-6 16-20 2 0 10 9 3 7 5 14 2 18-1 14-4 12-18 36-5 14-1 20 6 16 25 32 13 20 27 31 12 13 12 7 20 6 22 0 74-17 8 14-2 2-20 10-16 4-2 2-4 0-2 2zM1019 1221l-16-6-13-25-4-14-1-22 4-48 2-3 12-6 2 1 6 12 0 4 4 6 2 12 2 2 0 6 2 2 0 74-2 2 0 3zM825 1158l-8 0-6-4-3-6 0-6 11-20 8-6 8 0 4 2 3 6-1 16-6 12-10 6z"/>
<path fill="#bfff40" fill-rule="evenodd" d="M895 1348l-80 0-2-2-12-2-6-4-4 0-24-12-4-4-8-4-8-8-2 0-21-20 0-2-6-6 0-2-12-16-8-16 0-4-3-6-2-12-4-8-1-82 2-2 0-6 2-2 2-10 4-6 0-4 9-16 20-28 1 0 11 9 3 5 5 16 1 16-1 12-4 14-17 34-6 16 0 20 5 16 26 32 14 20 26 31 12 13 12 8 20 6 22 1 16-3 28-8 25-4 7 14-14 8-16 4-2 2-4 0-2 2zM1021 1211l-16-3-12-22-3-12 0-18 5-40 14-7 2 1 0 4 4 6 2 12 2 2 0 6 2 2 0 69zM825 1156l-6 0-5-2-4-6 1-6 9-18 7-5 6-1 4 1 3 5 0 12-5 13-4 4-6 3z"/>
<path fill="#cfff30" fill-rule="evenodd" d="M895 1348l-80 0-2-2-12-2-6-4-4 0-24-12-4-4-8-4-8-8-2 0-21-20 0-2-6-6 0-2-12-16-8-16 1-4-4-6-2-12-4-8 0-82 2-2 0-6 2-2 2-10 4-6 0-4 4-8 4-8 4-4 2-6 12-14 0-2 14 12 5 16 2 16-2 12-3 12-18 36-5 16-1 20 6 16 28 33 13 21 27 32 12 12 10 7 24 8 14 0 22-3 32-9 15-1 7 14-8 4-16 4-2 2-4 0-2 2zM823 1154l-4-1-5-3-1-4 1-6 9-16 4-3 6-1 3 2 2 4-1 14-6 10-8 4zM1021 1201l-14-1-9-16-3-10 1-18 5-26 14-5 2 1 0 6 2 2 0 6 2 2 0 59z"/>
<path fill="#dfff20" fill-rule="evenodd" d="M813 1346l-12-2-6-4-4 0-24-12-4-4-8-4-8-8-2 0-21-20 0-2-6-6 0-2-12-16-7-16 0-4-4-6 0-4-2-2 0-6-4-8 0-82 2-2 0-6 2-2 2-10 4-6 0-4 8-16 4-4 2-6 6-6 0-2 6-5 10 9 3 4 4 14 1 16-5 22-17 34-5 14-2 16 3 16 8 14 24 27 13 21 27 32 13 14 15 10-4 14zM825 1150l-7 0-2-4 1-6 8-14 4-2 4-1 3 5-1 10-4 7-6 5zM1021 1190l-12-1-2-1-5-10-1-8 4-26 14-3 2 1 0 48zM895 1348l-25 0-1-12 32-10 12-2 6 16-16 4-2 2-4 0-2 2z"/>
<path fill="#efff10" fill-rule="evenodd" d="M803 1344l-8-4-4 0-24-12-4-4-8-4-8-8-2 0-16-16-11-12 0-2-12-16-7-16 0-4-4-6 0-4-2-2 0-6-4-8 0-82 2-2 0-6 2-2 2-10 4-6 0-4 8-16 4-4 2-6 8-10 2-1 12 11 4 14 1 16-5 22-16 32-5 14-2 16 2 16 7 14 27 30 15 22 30 36 15 14 0 2-4 14-1 0zM827 1144l-4 1-2-1 0-4 4-8 4-3 2 0 0 9-4 6zM895 1348l-3 0-3-16 15-4 5 14-8 4-4 0-2 2z"/>
<path fill="#ffff00" fill-rule="evenodd" d="M797 1342l-30-14-4-4-8-4-31-28 0-2-6-6 0-2-12-16-7-16 0-4-4-6 0-4-2-2 0-6-4-8 0-82 2-2 0-6 2-2 2-10 4-6 0-4 8-16 4-4 2-6 6-6 0-2 14 10 4 14 0 14-5 22-15 32-5 14-2 16 2 16 8 16 27 28 14 21 24 30 17 19 1 2-5 14-1 0z"/>
<path fill="#ffef00" fill-rule="evenodd" d="M793 1340l-26-12-4-4-8-4-31-28 0-2-6-6 0-2-12-16-7-16 0-4-4-6-2-12-4-8 0-82 2-2 0-6 2-2 2-10 4-6 0-4 8-16 4-4 2-6 6-5 12 9 3 14 1 12-5 20-15 32-5 14-2 18 2 16 8 16 29 30 14 21 37 45 0 2-5 14z"/>
<path fill="#ffdf00" fill-rule="evenodd" d="M789 1338l-22-10-4-4-8-4-31-28 0-2-6-6 0-2-11-16-8-16 0-4-4-6 0-4-2-2 0-6-4-8 0-82 2-2 0-6 2-2 2-10 4-6 0-4 8-16 4-4 4-8 14 9 2 11 1 12-4 20-16 32-5 14-1 18 2 16 8 16 30 32 15 21 32 41 2 2-6 14z"/>
<path fill="#ffcf00" fill-rule="evenodd" d="M785 1336l-18-8-4-4-8-4-31-28 0-2-6-6 0-2-11-16-8-16 0-4-4-6 0-4-2-2 0-6-4-8 0-82 2-2 0-6 2-2 2-10 4-6 0-4 14-26 13 10 3 20-3 18-16 32-5 16-2 18 3 16 8 16 33 34 44 60-6 14z"/>
<path fill="#ffbf00" fill-rule="evenodd" d="M693 1192l-4 0 0-54 2-2 0-6 2-2 2-10 4-6 0-4 12-22 14 10 2 12-1 10-5 16-16 34-4 23-8 1zM781 1334l-14-6-4-4-8-4-31-28 0-2-6-6 0-2-11-16-8-16 0-4-6-12 0-6-2-2-2-10 16-2 4 10 6 7 32 33 40 56-6 14z"/>
<path fill="#ffaf00" fill-rule="evenodd" d="M701 1176l-12-1 0-37 2-2 0-6 2-2 2-10 4-6 0-4 10-18 14 10 0 16-4 16-13 28-5 16zM777 1332l-10-4-4-4-8-4-31-28 0-2-6-6 0-2-11-16-8-16 0-4-4-6-2-12 14-4 10 12 28 28 39 54-7 14z"/>
<path fill="#ff9f00" fill-rule="evenodd" d="M701 1165l-12-1 0-26 2-2 0-6 2-2 2-10 4-6 0-4 6-12 2-1 12 7 2 4 0 8-5 18-15 33zM773 1330l-6-2-4-4-8-4-31-28 0-2-6-6 0-2-11-16-8-16 0-4-4-6 0-6 14-5 36 35 36 52-7 14-1 0z"/>
<path fill="#ff8f00" fill-rule="evenodd" d="M703 1154l-14-1 0-15 2-2 0-6 2-2 2-10 9-18 13 6 1 6-4 18-11 24zM771 1328l-4 0-4-4-8-4-8-8-2 0-21-20 0-2-5-6 0-2-12-16-8-16 0-4-4-6 16-6 34 32 32 48 1 2-7 12z"/>
<path fill="#ff8000" fill-rule="evenodd" d="M705 1144l-16-3 6-23 4-6 0-4 2-1 14 7-3 14-7 16zM767 1328l-4-4-8-4-8-8-2 0-20-20 0-2-6-6 0-2-12-16-10-22 16-6 32 30 29 44 1 2-8 14z"/>
<path fill="#ff7000" fill-rule="evenodd" d="M765 1324l-4 0-14-12-2 0-20-20 0-2-6-6 0-2-12-16-8-16 0-3 14-6 30 27 29 44-7 12z"/>
<path fill="#ff6000" fill-rule="evenodd" d="M761 1323l-4-3-2 0-8-8-2 0-20-20 0-2-6-6 0-2-12-16-6-12 0-4 14-6 20 17 10 10 24 39-8 13z"/>
<path fill="#ff5000" fill-rule="evenodd" d="M759 1320l-4 0-8-8-2 0-20-20 0-2-6-6 0-2-12-16-5-12 15-7 26 23 24 38-8 12z"/>
<path fill="#ff4000" fill-rule="evenodd" d="M755 1319l-8-7-2 0-20-20 0-2-6-6 0-2-12-16-4-9 14-7 2 1 16 13 10 10 19 32-9 13z"/>
<path fill="#ff3000" fill-rule="evenodd" d="M753 1316l-8-4-20-20 0-2-6-6 0-2-12-16-2-6 14-7 24 20 6 9 12 22-8 12z"/>
<path fill="#ff2000" fill-rule="evenodd" d="M749 1314l-4-2-20-20 0-2-6-6 0-2-12-16 0-3 14-7 14 11 10 10 14 25-10 12z"/>
<path fill="#ff1000" fill-rule="evenodd" d="M747 1312l-2 0-20-20 0-2-6-6 0-2-8-10-2-6 14-7 21 19 13 22-10 12z"/>
<path fill="#ff0000" fill-rule="evenodd" d="M743 1310l-18-18 0-2-6-6 0-2-8-10 0-3 12-7 8 4 12 12 10 18 0 3-10 11z"/>
<path fill="#ef0000" fill-rule="evenodd" d="M741 1308l-16-16 0-2-6-6 0-2-6-8 12-10 6 4 10 9 10 17 0 3-10 11z"/>
<path fill="#df0000" fill-rule="evenodd" d="M739 1305l-14-13 0-2-10-12 0-2 12-8 4 1 10 10 8 13 0 2-10 11z"/>
<path fill="#cf0000" fill-rule="evenodd" d="M735 1302l-10-10 0-2-6-6-2-4 12-9 2 0 8 7 7 12 0 2-9 10-2 0z"/>
<path fill="#bf0000" fill-rule="evenodd" d="M733 1300l-12-14 0-2 12-9 7 7 4 6-11 12z"/>
</g><g transform="scale(.5)" fill="none" stroke-width="1.9">
<path stroke="#4a4a10" d="M804 1010l6 22 5 4 6-2 10-10-2-14M870 1280l13-6 6-6 0-8-4-8-12-8-14-4-12 0-10 5-4 5-1 8 1 8 6 7 6 5 8 3 8 0z"/>
<path stroke="#4a3e08" d="M776 1010l12 26 9 25 6 8 6 2 8-4 46-35 8-10 1-12M908 1134l7-6 5-6 3-8 1-10-3-10-4-8-6-5-8-3-6 4-4 6-3 12 0 12 2 12 5 7 6 4zM868 1290l21-6 13-8 4-6 1-6-2-12-10-12-14-7-26-5-8 0-8 3-10 8-7 11-1 10 4 11 8 10 10 7 12 2z"/>
<path stroke="#4a2d08" d="M758 1010l19 32 13 32 5 6 6 5 6 1 6-2 26-19 14-6 12-1 6 2 4 3 3 5 1 8 1 40 3 23 6 15 4 5 6 2 10-4 10-11 9-20 4-18-1-12-4-15-8-15-13-18-3-8 0-10 6-20M866 1298l29-8 16-9 5-7 4-8 0-8-1-8-9-16-5-6-8-5-10-3-18-1-14-4-12 1-14 8-13 16-5 12 1 12 8 16 12 12 15 5z"/>
<path stroke="#4a1c08" d="M743 1010l25 38 15 34 10 10 8 3 10-2 30-16 10-4 10 2 6 9 3 18 1 40 0 14-3 10-19 26-28 20-10 16-12 12-2 8 1 8 3 10 10 16 8 10 7 6 9 4 20 3 24-3 30-10 14-10 9-14 2-10-1-10-14-36-2-14 14-46 9-42-1-16-10-52 17-32"/>
<path stroke="#4a0c08" d="M728 1010l33 44 16 36 10 11 8 3 8 0 34-14 10-3 6 1 5 8 4 20 0 30-5 14-9 12-13 11-12 4-8 0-32-7-12 2-6 3-6 6-5 15 1 10 4 10 52 69 8 7 10 6 12 3 12 1 26-3 38-13 18-12 10-14 3-8 0-10-7-30-2-16 5-70 5-28-4-32 1-22 31-44"/>
<path stroke="#3e0814" d="M711 1010l43 50 10 20 9 26 8 10 6 3 8-1 28-14 14-5 10 2 5 7 3 14-1 22-5 12-8 10-10 7-12 2-16-5-24-11-10 1-10 6-10 12-6 12-2 12 2 14 7 14 27 38 27 32 11 9 10 6 12 3 14 1 26-3 48-15 22-13 13-16 4-12 1-12-6-36-4-70 4-34-1-28 1-14 51-56"/>
<path stroke="#2d0825" d="M693 1010l54 56 8 16 3 14 3 22-3 18-4 10-18 28-6 16-1 14 4 14 36 52 33 38 16 12 21 5 16 1 16-2 59-16 24-12 20-18 12-24 3-20-2-10-11-30-4-24-1-32 4-56 46-38M829 1164l-10 1-12-4-7-7-3-10 3-8 14-18 11-7 10-2 6 1 4 6 3 8 0 12-3 10-4 8-5 6z"/>
<path stroke="#180839" d="M689 1027l50 47 6 14 3 18-1 18-5 16-20 38-3 14 0 12 3 10 4 10 25 30 14 20 34 40 10 9 10 5 18 4 22 1 18-4 26-7 23-4 16 30M1021 1211l-16-3-13-24-2-18 5-50 26-12M825 1156l-6 0-5-2-4-6 1-6 9-18 7-5 6-1 4 1 3 5 0 12-5 13-4 4z"/>
<path stroke="#08084a" d="M689 1050l43 34 5 16 0 14-3 14-19 40-4 14-1 18 3 16 7 12 27 28 14 21 22 28 19 21-7 22"/>
<path stroke="#08184a" d="M689 1073l34 22 2 5 1 10-3 18-17 36-5 21-12 1M689 1221l16-4 10 15 32 32 40 56-14 28"/>
<path stroke="#08294a" d="M689 1107l24 11-4 14-4 6-16-4M689 1249l24-10 32 29 27 42 1 4-20 34"/>
<path stroke="#08394a" d="M689 1267l30-15 25 22 17 28 1 4-31 42"/>
<path stroke="#084a4a" d="M689 1287l36-24 18 16 9 17-44 52"/>
</g>
</g>
<ellipse cx="427.1" cy="589.2" rx="70.45" ry="71.95" fill="none" stroke="#000" stroke-width="1.05"/>
<polyline points="440.0,517.8 430.0,506.7 424.3,506.7 414.3,517.8" fill="none" stroke="#000" stroke-width="1"/>
<polyline points="496.5,575.5 499.0,572.3 500.1,572.2 501.8,572.8 503.5,575.5 503.2,590.0 504.2,602.7 502.1,608.1 499.0,609.2 495.3,606.5" fill="none" stroke="#000" stroke-width="1"/>
<polyline points="357.8,575.5 355.3,572.3 354.2,572.2 352.5,572.8 350.8,575.5 351.1,590.0 350.1,602.7 352.2,608.1 355.3,609.2 359.0,606.5" fill="none" stroke="#000" stroke-width="1"/>
<clipPath id="cHS"><ellipse cx="607.4" cy="587.2" rx="77.44" ry="80.33"/></clipPath>
<ellipse cx="607.4" cy="587.2" rx="82.77" ry="85.86" fill="#edf5ff"/>
<g clip-path="url(#cHS)"><g transform="scale(.5)">
<rect x="1047" y="1001" width="333" height="345" fill="#00009f"/>
<path fill="#0000af" fill-rule="evenodd" d="M1254 1349l-78-1-2-2-6 0-8-4-4 0-6-4-4 0-12-5-4-4-6-2-14-12-2 0-25-25 0-2-6-6 0-2-8-10-2-6-4-4-4-8 0-4-4-6-2-10-4-8 0-6-2-2 0-84 2-2 2-12 6-12 0-4 10-20 8-10 0-2 6-6 0-2 10-10 0-2 21-19 2 0 12-10 28-13 10-2 8-4 84-1 2 2 6 0 2 2 10 2 24 12 4 4 14 8 30 31 0 2 6 6 16 28 0 4 4 6 4 16 2 2 0 6 2 2 1 82-2 2 0 6-4 8-2 10-14 28-4 4-4 8-6 6 0 2-25 24-2 0-6 7-2 0-10 8-6 2-8 6-4 0-10 6-4 0-8 4-6 0-2 2zM1219 1254l2-4-3-4-4-1-5 1-1 4 3 4 5 1 3-1z"/>
<path fill="#0000bf" fill-rule="evenodd" d="M1254 1348l-78 0-2-2-6 0-8-4-4 0-6-4-4 0-12-6-4-3-6-2-14-12-2 0-25-25 0-2-6-6 0-2-8-10-2-6-4-4-4-8 0-4-4-6-2-10-4-8 0-6-2-2 0-84 2-2 2-12 6-12 0-4 10-20 8-10 0-2 6-6 0-2 10-10 0-2 21-19 2 0 12-10 28-13 10-2 8-4 84-1 2 2 6 0 2 2 10 2 24 12 4 4 14 8 30 31 0 2 6 6 16 28 0 4 4 6 4 16 2 2 0 6 2 2 0 82-2 2 0 6-4 8-2 10-14 28-4 4-4 8-6 6 0 2-24 24-2 0-6 6-2 0-10 9-6 2-8 6-4 0-10 6-4 0-8 3-6 0-2 2zM1218 1262l6-3 4-5 0-6-2-4-4-3-6-1-8 0-6 2-1 4 3 8 6 6 8 2z"/>
<path fill="#0000cf" fill-rule="evenodd" d="M1254 1348l-78 0-2-2-6 0-8-4-4 0-6-4-4 0-12-6-4-4-6-1-14-12-2 0-25-25 0-2-6-6 0-2-8-10-2-6-4-4-4-8 0-4-4-6-2-10-4-8 0-6-2-2 0-84 2-2 2-12 6-12 0-4 10-20 8-10 0-2 6-6 0-2 10-10 0-2 21-19 2 0 12-10 28-13 10-2 8-4 84-1 2 2 6 0 2 2 10 2 24 12 4 4 14 8 30 31 0 2 6 6 16 28 0 4 4 6 4 16 2 2 0 6 2 2 0 82-2 2 0 6-4 8-2 10-14 28-4 4-4 8-6 6 0 2-24 24-2 0-6 6-2 0-10 9-6 2-8 6-4 0-10 5-4 0-8 4-6 0-2 2zM1220 1266l8-4 4-6 2-8-4-8-6-3-10-1-10 0-6 2-3 4 1 4 6 11 10 8 8 1z"/>
<path fill="#0000df" fill-rule="evenodd" d="M1254 1348l-78 0-2-2-6 0-8-4-4 0-6-4-4 0-12-6-4-4-6-2-14-11-2 0-25-25 0-2-6-6 0-2-8-10-2-6-4-4-4-8 0-4-4-6-2-10-4-8 0-6-2-2 0-84 2-2 2-12 6-12 0-4 10-20 8-10 0-2 6-6 0-2 10-10 0-2 21-19 2 0 12-10 28-13 10-2 8-4 84 0 2 2 6 0 2 1 10 2 24 12 4 4 14 8 30 31 0 2 6 6 16 28 0 4 4 6 4 16 2 2 0 6 2 2 0 82-2 2 0 6-4 8-2 10-14 28-4 4-4 8-6 6 0 2-24 24-2 0-6 6-2 0-10 8-6 2-8 6-4 0-10 6-4 0-8 4-6 0-2 2zM1225 1268l8-6 4-8 1-8-4-8-4-4-6-1-22-1-8 4-2 4 0 6 4 8 6 7 12 8 11-1z"/>
<path fill="#0000ef" fill-rule="evenodd" d="M1254 1348l-78 0-2-2-6 0-8-4-4 0-6-4-4 0-12-6-4-4-6-2-14-11-2 0-25-25 0-2-6-6 0-2-8-10-2-6-4-4-4-8 0-4-4-6-2-10-4-8 0-6-2-2 0-84 2-2 2-12 6-12 0-4 10-20 8-10 0-2 6-6 0-2 10-10 0-2 21-19 2 0 12-10 28-13 10-2 8-4 84 0 2 2 6 0 2 2 10 1 24 12 4 4 14 8 30 31 0 2 6 6 16 28 0 4 4 6 4 16 2 2 0 6 2 2 0 82-2 2 0 6-4 8-2 10-14 28-4 4-4 8-6 6 0 2-24 24-2 0-6 6-2 0-10 8-6 2-8 6-4 0-10 6-4 0-8 4-6 0-2 2zM1173 1056l5-8 0-4-2-3-6 2-3 7 2 6 4 0zM1222 1272l12-6 6-8 2-10-4-11-4-5-6-2-26-1-8 1-4 5-2 7 6 14 7 8 7 5 6 3 8 0z"/>
<path fill="#0000ff" fill-rule="evenodd" d="M1254 1348l-78 0-2-2-6 0-8-4-4 0-6-4-4 0-12-6-4-4-6-2-14-11-2 0-25-25 0-2-6-6 0-2-8-10-2-6-4-4-4-8 0-4-4-6-2-10-4-8 0-6-2-2 0-84 2-2 2-12 6-12 0-4 10-20 8-10 0-2 6-6 0-2 10-10 0-2 21-19 2 0 12-10 28-13 10-2 8-4 84 0 2 2 6 0 2 2 10 2 24 11 4 4 14 8 30 31 0 2 6 6 16 28 0 4 4 6 4 16 2 2 0 6 2 2 0 82-2 2 0 6-4 8-2 10-14 28-4 4-4 8-6 6 0 2-24 24-2 0-6 6-2 0-10 8-6 2-8 6-4 0-10 6-4 0-8 4-6 0-2 2zM1174 1066l8-8 7-14-1-12-2-3-4-2-6 1-6 4-6 7-3 7 0 8 3 7 4 5 6 0zM1271 1122l2-8 0-6-3-5-4-1-3 4-1 8 4 8 2 2 3-2zM1224 1274l12-6 8-10 1-12-5-12-6-6-6-2-14 1-14-2-8 2-5 5-1 8 1 8 6 10 7 8 8 6 8 3 8-1z"/>
<path fill="#0010ff" fill-rule="evenodd" d="M1254 1348l-78 0-2-2-6 0-8-4-4 0-6-4-4 0-12-6-4-4-6-2-14-12-2 0-25-24 0-2-6-6 0-2-8-10-2-6-4-4-4-8 0-4-4-6-2-10-4-8 0-6-2-2 0-84 2-2 2-12 6-12 0-4 10-20 8-10 0-2 6-6 0-2 10-10 0-2 21-19 2 0 12-9 28-14 4 0 8-4 5 16-11 16-3 14 4 16 7 8 6-2 8-6 9-12 6-12 2-14-2-6-4-8-2-12 65 0 2 2 6 0 2 2 10 2 24 11 4 4 14 8 24 24 12 15 6 12 4 4 6 12 0 4 4 6 4 16 2 2 0 6 2 2 0 82-2 2 0 6-4 8-2 10-14 28-4 4-4 8-6 6 0 2-24 24-2 0-6 6-2 0-10 8-6 2-8 6-4 0-10 6-4 0-8 4-6 0-2 2zM1272 1140l4-10 1-22-5-11-4-3-4-1-4 4-2 6 0 15 4 20 4 3 6-1zM1225 1276l15-8 7-10 1-12-5-14-6-6-7-3-16 1-16-4-8 2-5 6-2 10 2 10 5 10 8 10 10 7 8 2 9-1z"/>
<path fill="#0020ff" fill-rule="evenodd" d="M1254 1348l-78 0-2-2-6 0-8-4-4 0-6-4-4 0-12-6-4-4-6-2-14-12-2 0-25-24 0-2-6-6 0-2-8-10-2-6-4-4-4-8 0-4-4-6-2-10-4-8 0-6-2-2 0-84 2-2 2-12 6-12 0-4 10-20 8-10 0-2 25-29 2 0 10-10 2 0 12-9 28-14 2 0 5 16-6 16 0 16 5 16 6 7 6 0 8-6 14-15 10-14 5-16-2-26 49 0 2 2 6 0 2 2 10 2 24 11 4 4 14 8 24 24 12 15 6 12 4 4 6 12 0 4 4 6 4 16 2 2 0 6 2 2 0 82-2 2 0 6-4 8-2 10-14 28-4 4-4 8-6 6 0 2-24 24-2 0-6 6-2 0-10 8-6 2-8 6-4 0-10 6-4 0-8 4-6 0-2 2zM1268 1148l6-4 4-6 2-12 0-16-2-10-4-8-6-7-6-2-4 4-4 15 1 32 2 8 2 4 5 2 4 0zM1166 1204l2-2 1-4-6-12-7-5-7 3-4 8 3 8 8 4 10 0zM1226 1278l16-8 8-12 1-14-5-14-6-7-8-4-18 1-20-6-8 3-4 6-2 13 2 10 6 12 9 12 9 6 10 3 10-1z"/>
<path fill="#0030ff" fill-rule="evenodd" d="M1254 1348l-78 0-2-2-6 0-8-4-4 0-6-4-4 0-12-6-4-4-6-2-14-12-2 0-25-24 0-2-6-6 0-2-8-10-2-6-4-4-4-8 0-4-4-6-2-10-4-8 0-6-2-2 0-84 2-2 2-12 6-12 0-4 10-20 8-10 0-2 6-6 0-2 10-10 0-2 29-25 26-13 4-1 6 15-4 22 4 22 6 11 6 3 6-2 8-6 33-36 4-14 1-24 36 0 2 2 6 0 2 2 10 2 24 12 4 3 14 8 30 31 0 2 6 6 0 2 4 4 2 6 6 8 4 8 0 4 4 6 4 16 2 2 0 6 2 2 0 82-2 2 0 6-4 8-2 10-14 28-4 4-4 8-6 6 0 2-24 24-2 0-6 6-2 0-10 8-6 2-8 6-4 0-10 6-4 0-8 4-6 0-2 2zM1267 1154l9-6 4-8 3-14 0-16-3-14-6-12-8-10-6-2-5 4-3 10-2 24 1 28 1 8 4 6 6 2 5 0zM1227 1280l10-4 8-6 5-6 4-8 1-8-1-8-4-10-6-9-10-7-20 0-28-9-6-5-12-14-7-6-7-2-8 2-4 4-2 6 2 11 8 8 20 4 5 3 3 28 5 10 9 12 8 8 8 5 8 2 11-1z"/>
<path fill="#0040ff" fill-rule="evenodd" d="M1254 1348l-78 0-2-2-6 0-8-4-4 0-6-4-4 0-12-6-4-4-12-6-8-8-2 0-25-24 0-2-6-6 0-2-8-10-2-6-4-4-4-8 0-4-4-6-2-10-4-8 0-6-2-2 0-84 4-8 2-12 4-6 0-4 10-20 8-10 0-2 6-6 0-2 10-10 0-2 29-24 22-12 4 0 5 14-2 18 2 16 5 18 4 5 4 4 6 0 6-3 26-25 24-19 5-10 1-30 24 0 2 2 6 0 2 2 10 2 24 12 4 4 14 7 30 31 0 2 6 6 6 12 4 4 6 12 0 4 4 6 4 16 2 2 0 6 2 2 0 82-2 2 0 6-4 8-2 10-14 28-4 4-4 8-6 6 0 2-24 24-2 0-6 6-2 0-10 8-6 2-8 6-4 0-10 6-4 0-8 4-6 0-2 2zM1266 1160l10-7 6-9 3-14 0-20-3-16-8-17-8-10-10-5-6 4-2 8-1 72 2 8 4 6 7 1 6-1zM1227 1282l10-4 10-6 7-8 3-8 1-8-2-10-5-12-7-12-6-5-6-3-20-2-22-6-32-23-8-1-8 4-4 6-2 8 0 8 4 7 8 6 18 5 4 3 4 19 4 10 10 14 10 11 14 7 15 0z"/>
<path fill="#0050ff" fill-rule="evenodd" d="M1254 1348l-78 0-2-2-6 0-8-4-4 0-6-4-4 0-12-6-4-4-12-6-8-8-2 0-25-24 0-2-6-6 0-2-8-10-2-6-4-4-4-8 0-4-4-6-2-10-4-8 0-6-2-2 0-84 4-8 2-12 4-6 0-4 10-20 8-10 0-2 6-6 0-2 10-10 0-2 29-24 18-10 4 0 6 13-1 19 3 18 6 20 6 9 4 1 6-3 28-26 14-9 14-3 6 2 4 3 4 11 3 17-2 68 1 10 4 4 6 1 10-4 8-5 8-9 6-15 2-24-3-18-9-23-8-12-17-15-5-8-5-22 3-14 12 0 2 2 6 0 2 2 10 2 24 12 4 4 14 7 30 31 0 2 6 6 6 12 4 4 6 12 0 4 4 6 4 16 2 2 0 6 2 2 0 82-2 2 0 6-4 8-2 10-14 28-4 4-4 8-6 6 0 2-24 24-2 0-6 6-2 0-10 8-6 2-8 6-4 0-10 6-4 0-8 4-6 0-2 2zM1226 1284l12-4 12-8 7-8 4-10 0-10-3-10-8-20-10-17-4-4-6-2-22 4-16-3-10-4-20-13-8-4-8 0-6 4-6 7-2 10 1 10 4 8 9 7 20 9 11 26 11 16 10 10 12 6 16 0z"/>
<path fill="#0060ff" fill-rule="evenodd" d="M1254 1348l-78 0-2-2-6 0-8-4-4 0-6-4-4 0-12-6-4-4-12-6-8-8-2 0-25-24 0-2-6-6 0-2-8-10-2-6-4-4-4-8 0-4-4-6-2-10-4-8 0-6-2-2 0-84 4-8 2-12 4-6 0-4 10-20 8-10 0-2 6-6 0-2 10-10 0-2 29-24 18-10 7 16 0 22 7 30 6 18 4 5 4-2 32-32 16-10 8-1 8 3 6 6 4 11 2 20-2 30-5 30-7 12-18 12-14 2-14-4-26-15-10-1-6 2-5 4-4 8-3 8 1 12 5 10 8 8 20 10 26 40 8 8 10 6 14 2 16-3 15-9 9-10 4-10 0-10-12-38-1-14 5-10 18-16 7-8 5-10 3-10 1-24-2-18-12-31-17-25-6-12-2-10 4-16 3 2 12 2 2 2 4 0 24 12 4 4 14 7 30 31 0 2 6 6 6 12 4 4 6 12 0 4 4 6 4 16 2 2 0 6 2 2 0 82-2 2 0 6-4 8-2 10-14 28-4 4-4 8-6 6 0 2-24 24-2 0-6 6-2 0-10 8-6 2-8 6-4 0-10 6-4 0-8 4-6 0-2 2z"/>
<path fill="#0070ff" fill-rule="evenodd" d="M1254 1348l-78 0-2-2-6 0-8-4-4 0-6-4-4 0-12-6-4-4-12-6-8-8-2 0-25-24 0-2-6-6 0-2-8-10-2-6-4-4-4-8 0-4-4-6-2-10-4-8 0-6-2-2 0-84 4-8 2-12 4-6 0-4 10-20 8-10 0-2 6-6 0-2 10-10 0-2 21-18 2 0 6-6 14-8 8 14 2 28 10 56 4 7 4 1 4-1 7-17 6-10 15-16 14-10 10-3 8 2 7 7 5 11 2 21-4 30-5 20-9 12-16 11-14 2-14-4-24-14-10-1-6 2-6 7-7 17 1 14 6 12 8 7 20 12 30 40 7 7 8 4 15 2 16-3 16-9 10-10 4-10 1-10-8-34 0-16 5-12 20-26 6-16 2-22-1-20-10-32-20-42-2-6 5-15 12 3 24 12 4 4 14 8 30 30 0 2 6 6 6 12 4 4 6 12 0 4 4 6 4 16 2 2 0 6 2 2 0 82-2 2 0 6-4 8-2 10-14 28-4 4-4 8-6 6 0 2-24 24-2 0-6 6-2 0-10 8-6 2-8 6-4 0-10 6-4 0-8 4-6 0-2 2z"/>
<path fill="#0080ff" fill-rule="evenodd" d="M1254 1348l-78 0-2-2-6 0-8-4-4 0-6-4-4 0-12-6-4-4-12-6-8-8-2 0-25-24 0-2-6-6 0-2-8-10-2-6-4-4-4-8 0-4-4-6-2-10-4-8 0-6-2-2 0-84 4-8 2-12 4-6 0-4 10-20 8-10 0-2 6-6 0-2 19-21 2 0 10-9 2 0 6-6 2 0 8-6 2 0 8 14 1 18 7 42 1 26 2 6 3 3 6 1 8-3 8-19 6-10 12-14 12-9 10-3 8 1 7 7 5 10 1 20-4 26-6 18-9 13-14 10-14 2-14-4-26-15-8-1-6 4-6 7-5 10-3 10 1 16 6 12 9 7 20 13 32 40 7 6 7 3 18 3 21-6 17-12 6-8 3-8 1-12-6-28 0-16 4-12 16-24 5-10 4-14 1-20-1-16-3-18-23-62 5-16 4 0 24 12 4 4 14 8 30 30 0 2 6 6 6 12 4 4 6 12 0 4 4 6 4 16 2 2 0 6 2 2 0 82-2 2 0 6-4 8-2 10-14 28-4 4-4 8-6 6 0 2-24 24-2 0-6 6-2 0-10 8-6 2-8 6-4 0-10 6-4 0-8 4-6 0-2 2z"/>
<path fill="#008fff" fill-rule="evenodd" d="M1254 1348l-78 0-2-2-6 0-8-4-4 0-6-4-4 0-12-6-4-4-12-6-8-8-2 0-25-24 0-2-6-6 0-2-8-10-2-6-4-4-4-8 0-4-4-6-2-10-4-8 0-6-2-2 0-84 4-8 0-6 6-12 0-4 10-20 8-10 0-2 6-6 0-2 19-21 2 0 10-9 2 0 12-10 4-1 7 15 8 52 0 38 5 10 8 0 12-7 15-31 11-13 10-7 8-2 8 1 6 5 5 10 2 18-5 25-7 19-11 12-14 9-14 0-14-5-20-16-6-2-8 5-8 9-6 13-3 11 1 16 8 15 8 7 22 15 32 37 14 9 10 2 10 0 20-6 10-6 9-7 6-8 3-8 1-12-5-26 1-16 4-12 19-36 3-12 1-18 0-18-3-14-19-66 6-15 4 1 16 8 4 4 14 8 30 30 0 2 6 6 6 12 4 4 6 12 0 4 4 6 4 16 2 2 0 6 2 2 0 82-2 2 0 6-4 8-2 10-14 28-4 4-4 8-6 6 0 2-24 24-2 0-6 6-2 0-10 8-6 2-8 6-4 0-10 6-4 0-8 4-6 0-2 2z"/>
<path fill="#009fff" fill-rule="evenodd" d="M1254 1348l-78 0-2-2-6 0-8-4-4 0-6-4-4 0-12-6-4-4-12-6-8-8-2 0-25-24 0-2-6-6 0-2-8-10-2-6-4-4-4-8 0-4-4-6-2-10-4-8 0-6-2-2 0-84 4-8 0-6 6-12 0-4 10-20 8-10 0-2 6-6 0-2 19-21 2 0 10-9 2 0 12-10 9 14 6 40 2 20-2 40-2 8-13 19-8 17-2 14 2 14 4 9 6 8 32 24 12 12 16 21 14 8 10 3 12 0 12-3 10-4 18-12 6-8 5-10 1-12-3-26 0-14 5-14 15-32 5-24-1-36-17-68 7-16 13 6 4 4 14 8 30 30 0 2 6 6 6 12 4 4 6 12 0 4 4 6 4 16 2 2 0 6 2 2 0 82-2 2 0 6-4 8-2 10-14 28-4 4-4 8-6 6 0 2-24 24-2 0-6 6-2 0-10 8-6 2-8 6-4 0-10 6-4 0-8 4-6 0-2 2zM1194 1172l-12 0-15-6-10-10-2-6 0-4 19-18 9-22 11-15 12-9 6-2 6 0 8 4 5 12 1 12-2 16-7 20-6 12-11 10-12 6z"/>
<path fill="#00afff" fill-rule="evenodd" d="M1254 1348l-78 0-2-2-6 0-8-4-4 0-6-4-4 0-28-16-30-28-11-12 0-2-8-10-2-6-4-4-4-8 0-4-4-6-2-10-4-8 0-6-2-2 0-84 2-2 2-12 6-12 0-4 10-20 8-10 0-2 25-29 2 0 10-9 2 0 10-8 9 14 6 38 1 22-5 42-14 26-7 18-1 12 2 12 5 10 7 10 35 26 10 10 16 20 14 8 10 2 12 0 12-2 10-4 21-14 6-8 5-10 2-12-3-26 1-14 3-12 14-32 4-22 0-38-14-68 7-14 8 2 4 4 14 8 30 30 0 2 6 6 6 12 4 4 6 12 0 4 4 6 4 16 2 2 0 6 2 2 0 82-2 2 0 6-4 8-2 10-14 28-4 4-4 8-6 6 0 2-24 24-2 0-6 6-2 0-10 8-6 2-8 6-4 0-10 6-4 0-8 4-6 0-2 2zM1196 1168l-12 1-13-3-9-8-2-6 0-4 4-6 11-12 11-24 9-12 11-9 6-2 6 0 6 5 5 8 1 10-2 14-7 20-6 12-9 10-10 6z"/>
<path fill="#00bfff" fill-rule="evenodd" d="M1254 1348l-78 0-2-2-6 0-8-4-4 0-6-4-4 0-28-16-30-28-11-12 0-2-8-10-2-6-4-4-4-8 0-4-4-6-2-10-4-8 0-6-2-2 0-84 2-2 2-12 6-12 0-4 10-20 8-10 0-2 21-25 24-19 3 0 8 14 6 34 1 18-6 44-15 30-5 16-1 14 2 12 5 12 8 9 42 33 21 26 13 6 10 2 13 0 11-2 12-5 12-7 10-8 6-8 5-10 2-12-2-26 1-12 3-12 13-34 3-18 1-40-12-66 8-16 8 4 4 4 2 0 4 4 2 0 30 30 0 2 10 12 2 6 4 4 6 12 0 4 4 6 4 16 2 2 0 6 2 2 0 82-2 2 0 6-4 8-2 10-14 28-4 4-4 8-6 6 0 2-24 24-2 0-6 6-2 0-10 8-6 2-4 4-8 2-10 6-4 0-8 4-6 0-2 2zM1190 1166l-10 0-10-4-6-6 0-8 14-18 10-22 8-11 12-10 10 0 6 5 3 8 0 10-3 13-7 19-6 10-11 10-10 4z"/>
<path fill="#00cfff" fill-rule="evenodd" d="M1254 1348l-78 0-2-2-6 0-8-4-4 0-6-4-4 0-28-16-30-28-11-12 0-2-8-10-2-6-4-4-4-8 0-4-4-6-2-10-4-8 0-6-2-2 0-84 2-2 2-12 6-12 0-4 10-20 8-10 0-2 23-26 22-18 9 16 6 30 1 18-7 42-15 35-5 15-1 14 2 12 7 14 9 11 42 32 20 24 13 7 11 2 12-1 12-2 12-4 22-15 9-10 5-10 2-12-1-24 1-14 14-44 3-18 1-42-9-64 7-14 4 0 4 4 8 4 30 30 0 2 10 12 2 6 4 4 6 12 0 4 4 6 4 16 2 2 0 6 2 2 0 82-2 2 0 6-4 8-2 10-14 28-4 4-4 8-6 6 0 2-24 24-2 0-6 6-2 0-10 8-6 2-4 4-8 2-10 6-4 0-8 4-6 0-2 2zM1192 1162l-10 2-10-3-4-5 0-8 12-18 10-20 7-10 9-8 10-2 5 4 3 6 1 8-3 10-13 30-7 8-10 6z"/>
<path fill="#00dfff" fill-rule="evenodd" d="M1254 1348l-78 0-2-2-6 0-8-4-4 0-6-4-4 0-28-16-30-28-11-12 0-2-8-10-2-6-4-4-4-8 0-4-4-6-2-10-4-8 0-6-2-2 0-84 2-2 2-12 6-12 0-4 10-20 8-10 0-2 19-23 24-19 9 14 6 28 1 18-2 18-6 24-14 34-5 16-2 14 3 14 6 14 12 13 14 13 28 19 18 23 14 7 12 2 12 0 12-2 12-4 14-8 11-9 9-10 5-8 3-12-1-38 13-44 3-16 1-44-5-34-2-28 8-16 11 6 30 30 0 2 10 12 2 6 4 4 6 12 0 4 4 6 4 16 2 2 0 6 2 2 0 82-2 2 0 6-4 8-2 10-14 28-4 4-4 8-6 6 0 2-24 24-2 0-6 6-2 0-10 8-6 2-4 4-8 2-10 6-4 0-8 4-6 0-2 2zM1186 1160l-8 0-5-2-3-4 1-6 28-46 9-7 8-1 5 6 1 8-12 30-10 15-7 5-7 2z"/>
<path fill="#00efff" fill-rule="evenodd" d="M1254 1348l-78 0-2-2-6 0-8-4-4 0-6-4-4 0-28-16-30-28-11-12 0-2-8-10-2-6-4-4-4-8 0-4-4-6-2-10-4-8 0-6-2-2 0-84 2-2 2-12 6-12 0-4 10-20 8-10 0-2 19-22 22-18 10 14 5 26 1 16-2 16-6 24-19 52-2 16 2 14 8 16 15 16 12 11 28 19 17 22 13 7 12 2 14 0 12-3 12-4 12-6 14-10 10-10 6-10 3-12-1-26 1-12 12-44 3-18 0-42-4-32-1-28 9-16 4 4 2 0 30 30 0 2 10 12 2 6 4 4 6 12 0 4 4 6 4 16 2 2 0 6 2 2 0 82-2 2 0 6-4 8-2 10-14 28-4 4-4 8-6 6 0 2-24 24-2 0-6 6-2 0-10 8-6 2-4 4-8 2-10 6-4 0-8 4-6 0-2 2zM1184 1156l-8-2 1-8 23-39 7-7 7-2 4 4 0 6-12 29-10 13-12 6z"/>
<path fill="#00ffff" fill-rule="evenodd" d="M1254 1348l-78 0-2-2-6 0-8-4-4 0-6-4-4 0-28-16-30-28-11-12 0-2-8-10-2-6-4-4-4-8 0-4-4-6-2-10-4-8 0-6-2-2 0-84 2-2 2-12 6-12 0-4 10-20 9-10 0-2 6-6 0-2 10-10 0-2 20-18 3 0 9 13 6 25 0 14-2 16-5 22-16 40-5 16-1 16 2 14 9 18 18 19 12 10 24 17 18 22 14 7 12 1 14 0 12-2 12-4 15-8 14-10 10-10 7-10 3-12-1-36 12-44 2-18 0-44-4-32 0-26 9-14 3 0 30 30 0 2 10 12 2 6 4 4 6 12 0 4 4 6 4 16 2 2 0 6 2 2 0 82-2 2 0 6-4 8-2 10-14 28-4 4-4 8-6 6 0 2-24 24-2 0-6 6-2 0-10 8-6 2-4 4-8 2-10 6-4 0-8 4-6 0-2 2zM1190 1146l-5 0 1-6 12-21 8-9 4-2 0 4-8 20-6 9-6 5z"/>
<path fill="#10ffef" fill-rule="evenodd" d="M1254 1348l-78 0-2-2-6 0-8-4-4 0-6-4-4 0-28-16-30-28-11-12 0-2-8-10-2-6-4-4-4-8 0-4-4-6-2-10-4-8 0-6-2-2 0-84 2-2 2-12 6-12 0-4 11-20 8-10 0-2 6-6 0-2 10-10 0-2 20-18 10 14 6 24 1 14-3 16-5 20-21 54-2 16 2 16 10 20 20 22 11 10 24 16 17 22 14 6 12 2 16 0 24-6 15-8 17-12 11-10 7-10 2-12 0-34 11-46 2-16 0-48-4-30 1-24 10-14 28 28 0 2 10 12 2 6 4 4 6 12 0 4 4 6 4 16 2 2 0 6 2 2 0 82-2 2 0 6-4 8-2 10-14 28-4 4-4 8-6 6 0 2-24 24-2 0-6 6-2 0-10 8-6 2-4 4-8 2-10 6-4 0-8 4-6 0-2 2z"/>
<path fill="#20ffdf" fill-rule="evenodd" d="M1254 1348l-78 0-2-2-6 0-8-4-4 0-6-4-4 0-28-16-30-28-11-12 0-2-8-10-2-6-4-4-4-8 0-4-4-6-2-10-4-8 0-6-2-2 1-84 1-2 2-12 7-12 0-4 10-20 8-10 0-2 6-6 0-2 10-10 0-2 18-16 10 14 6 21 1 13-2 14-6 20-21 56-2 18 2 16 10 20 24 27 10 8 22 15 17 22 13 6 12 1 18 0 24-6 15-7 20-14 12-10 5-8 4-14-1-32 13-60-1-52-3-28 1-20 1-4 9-12 25 24 0 2 10 12 2 6 4 4 6 12 0 4 4 6 4 16 2 2 0 6 2 2 0 82-2 2 0 6-4 8-2 10-14 28-4 4-4 8-6 6 0 2-24 24-2 0-6 6-2 0-10 8-6 2-4 4-8 2-10 6-4 0-8 4-6 0-2 2z"/>
<path fill="#30ffcf" fill-rule="evenodd" d="M1254 1348l-78 0-2-2-6 0-8-4-4 0-6-4-4 0-28-16-30-28-11-12 0-2-8-10-2-6-4-4-4-8 0-4-4-6-2-10-4-8 0-6-2-2 1-84 2-2 2-12 6-12 0-4 10-20 8-10 0-2 6-6 0-2 10-10 0-2 16-14 11 14 5 20 1 12-7 30-18 44-5 16-2 18 3 16 10 20 26 30 30 22 18 22 12 5 12 2 18 0 14-2 12-4 17-9 24-16 10-8 5-8 4-14-1-30 9-44 3-18-1-52-3-28 1-14 0-6 10-12 2 0 20 20 0 2 10 12 2 6 4 4 6 12 0 4 4 6 4 16 2 2 0 6 2 2 0 82-2 2 0 6-4 8-2 10-14 28-4 4-4 8-6 6 0 2-24 24-2 0-6 6-2 0-10 8-6 2-4 4-8 2-10 6-4 0-8 4-6 0-2 2z"/>
<path fill="#40ffbf" fill-rule="evenodd" d="M1254 1348l-78 0-2-2-6 0-8-4-4 0-6-4-4 0-28-16-30-28-11-12 0-2-8-10-2-6-4-4-4-8 0-4-4-6-2-10-3-8 0-6-2-2 0-84 2-2 2-12 6-12 0-4 10-20 8-10 0-2 6-6 0-2 10-10 0-2 14-12 11 14 5 18 1 10-6 28-24 62-2 18 3 18 10 20 28 33 28 21 18 21 14 7 12 1 20-1 24-5 16-8 29-19 10-8 4-6 4-16 0-28 10-60-2-94 1-8 10-11 18 17 0 2 10 12 2 6 4 4 6 12 0 4 4 6 4 16 2 2 0 6 2 2 0 82-2 2 0 6-4 8-2 10-14 28-4 4-4 8-6 6 0 2-24 24-2 0-6 6-2 0-10 8-6 2-4 4-8 2-10 6-4 0-8 4-6 0-2 2z"/>
<path fill="#50ffaf" fill-rule="evenodd" d="M1254 1348l-78 0-2-2-6 0-8-4-4 0-6-4-4 0-12-6-4-4-6-2-14-12-2 0-25-24 0-2-6-6 0-2-8-10-2-6-4-4-4-8 0-4-4-6-2-10-3-8 0-6-2-2 0-84 2-2 2-12 6-12 0-4 10-20 8-10 0-2 6-6 0-2 18-20 5-2 10 12 5 16 1 10-6 26-24 64-2 20 2 18 11 20 30 36 26 20 18 21 8 5 8 2 32 0 22-5 14-6 31-19 17-13 4-7 3-10 0-32 10-56-1-58-2-28 2-17 10-10 2 1 12 12 0 2 6 6 6 12 4 4 6 12 0 4 4 6 4 16 2 2 0 6 2 2 0 82-2 2 0 6-4 8-2 10-14 28-4 4-4 8-6 6 0 2-24 24-2 0-6 6-2 0-10 8-6 2-4 4-8 2-10 6-4 0-8 4-6 0-2 2z"/>
<path fill="#60ff9f" fill-rule="evenodd" d="M1254 1348l-78 0-2-2-6 0-8-4-4 0-6-4-4 0-12-6-4-4-6-2-14-12-2 0-25-24 0-2-6-6 0-2-8-10-2-6-4-4-4-8 0-4-4-6-1-10-4-8 0-6-2-2 0-84 2-2 2-12 6-12 0-4 10-20 8-10 0-2 6-6 0-2 18-20 3 0 10 12 5 15 1 9-5 23-20 49-5 18-3 20 3 18 10 18 31 39 26 21 18 21 8 5 8 2 34-1 22-4 14-7 38-22 13-10 5-10 3-10 1-30 8-52-2-88 1-14 11-11 2 1 14 16 6 12 4 4 6 12 0 4 4 6 4 16 2 2 0 6 2 2 0 82-2 2 0 6-4 8-2 10-14 28-4 4-4 8-6 6 0 2-24 24-2 0-6 6-2 0-10 8-6 2-4 4-8 2-10 6-4 0-8 4-6 0-2 2z"/>
<path fill="#70ff8f" fill-rule="evenodd" d="M1254 1348l-78 0-2-2-6 0-8-4-4 0-6-4-4 0-12-6-4-4-6-2-14-12-2 0-25-24 0-2-6-6 0-2-8-10-2-6-4-4-4-8 0-4-4-6-1-10-4-8 0-6-2-2 0-84 2-2 2-12 6-12 0-4 10-20 8-10 0-2 6-6 0-2 18-20 11 14 5 14 1 10-6 20-19 48-6 18-2 22 3 18 10 18 33 41 24 20 18 22 8 4 8 2 36 0 22-4 12-6 45-25 11-10 6-10 3-12 9-74 0-22-2-70 1-12 11-10 2 0 10 12 6 12 4 4 6 12 0 4 4 6 4 16 2 2 0 6 2 2 0 82-2 2 0 6-4 8-2 10-14 28-4 4-4 8-6 6 0 2-24 24-2 0-6 6-2 0-10 8-6 2-4 4-8 2-10 6-4 0-8 4-6 0-2 2z"/>
<path fill="#80ff80" fill-rule="evenodd" d="M1254 1348l-78 0-2-2-6 0-8-4-4 0-6-4-4 0-12-6-4-4-6-2-14-12-2 0-25-24 0-2-6-6 0-2-8-10-2-6-4-4-4-8 0-4-3-6-2-10-4-8 0-6-2-2 0-84 2-2 2-12 6-12 0-4 10-20 8-10 0-2 6-6 0-2 16-18 11 14 5 14 0 8-5 20-19 46-6 18-2 22 3 20 10 18 35 44 22 19 18 21 8 5 8 2 40-1 20-4 60-31 10-9 7-10 4-14 8-62 1-30-1-80 13-12 0 2 6 6 6 12 4 4 6 12 0 4 4 6 4 16 2 2 0 6 2 2 0 82-2 2 0 6-4 8-2 10-14 28-4 4-4 8-6 6 0 2-24 24-2 0-6 6-2 0-10 8-6 2-4 4-8 2-10 6-4 0-8 4-6 0-2 2z"/>
<path fill="#8fff70" fill-rule="evenodd" d="M1254 1348l-78 0-2-2-6 0-8-4-4 0-6-4-4 0-12-6-4-4-6-2-14-12-2 0-25-24 0-2-6-6 0-2-8-10-2-6-4-4-4-8 0-4-3-6-2-10-4-8 0-6-2-2 0-84 2-2 2-12 6-12 0-4 10-20 8-10 0-2 6-6 0-2 14-15 11 13 4 12 0 8-4 18-19 46-6 20-2 22 3 20 8 16 37 47 21 19 19 22 8 5 8 2 14 1 30-2 20-5 60-31 12-10 6-10 6-14 6-44 3-44-2-78 13-11 2 1 6 12 4 4 6 12 0 4 4 6 4 16 2 2 0 6 2 2 0 82-2 2 0 6-4 8-2 10-14 28-4 4-4 8-6 6 0 2-24 24-2 0-6 6-2 0-10 8-6 2-4 4-8 2-10 6-4 0-8 4-6 0-2 2z"/>
<path fill="#9fff60" fill-rule="evenodd" d="M1254 1348l-78 0-2-2-6 0-8-4-4 0-6-4-4 0-12-6-4-4-6-2-14-12-2 0-25-24 0-2-6-6 0-2-8-10-2-6-4-4-4-8 1-4-4-6-2-10-4-8 0-6-2-2 0-84 2-2 2-12 6-12 0-4 10-20 8-10 0-2 6-6 0-2 10-10 0-2 2-1 11 13 3 18-4 18-18 44-6 20-3 24 4 20 8 16 23 27 16 22 20 19 20 24 7 4 9 2 44-3 20-4 62-32 8-5 7-8 6-10 5-12 7-34 3-50-2-76 14-10 2 6 4 4 6 12 0 4 4 6 4 16 2 2 0 6 2 2 0 82-2 2 0 6-4 8-2 10-14 28-4 4-4 8-6 6 0 2-24 24-2 0-6 6-2 0-10 8-6 2-4 4-8 2-10 6-4 0-8 4-6 0-2 2z"/>
<path fill="#afff50" fill-rule="evenodd" d="M1254 1348l-78 0-2-2-6 0-8-4-4 0-6-4-4 0-12-6-4-4-6-2-14-12-2 0-25-24 0-2-6-6 0-2-8-10-2-6-4-4-3-8 0-4-4-6-2-10-4-8 0-6-2-2 0-84 2-2 2-12 6-12 0-4 10-20 8-10 0-2 6-6 0-2 10-10 11 12 2 16-3 16-19 46-6 20-2 24 4 20 8 16 24 28 15 21 21 21 19 23 6 4 10 3 14 0 32-3 20-4 34-19 31-14 8-6 8-8 6-10 6-14 7-30 3-52-2-66 1-2 14-8 6 12 0 4 4 6 4 16 2 2 0 6 2 2 0 82-2 2 0 6-4 8-2 10-14 28-4 4-4 8-6 6 0 2-24 24-2 0-6 6-2 0-10 8-6 2-4 4-8 2-10 6-4 0-8 4-6 0-2 2z"/>
<path fill="#bfff40" fill-rule="evenodd" d="M1254 1348l-78 0-2-2-6 0-8-4-4 0-6-4-4 0-12-6-4-4-6-2-14-12-2 0-25-24 0-2-6-6 0-2-8-10-2-6-4-4-3-8 0-4-4-6-2-10-4-8 0-6-2-2 0-84 2-2 2-12 6-12 0-4 10-20 8-10 0-2 6-6 0-2 6-6 2 0 10 10 2 14-4 16-18 46-5 20-2 24 4 20 8 16 24 28 15 22 20 20 20 24 6 5 10 3 14 0 34-4 20-4 34-18 32-14 9-6 8-8 13-22 9-30 3-46-1-64 1-3 14-7 0 4 4 6 4 16 2 2 0 6 2 2 0 82-2 2 0 6-4 8-2 10-14 28-4 4-4 8-6 6 0 2-24 24-2 0-6 6-2 0-10 8-6 2-4 4-8 2-10 6-4 0-8 4-6 0-2 2z"/>
<path fill="#cfff30" fill-rule="evenodd" d="M1254 1348l-78 0-2-2-6 0-8-4-4 0-6-4-4 0-12-6-4-4-6-2-14-12-2 0-25-24 0-2-6-6 0-2-8-10-2-6-3-4-4-8 0-4-4-6-2-10-4-8 0-6-2-2 0-84 2-2 2-12 6-12 0-4 10-20 18-24 12 11 1 11-4 16-17 44-6 22-1 24 4 20 8 16 25 28 16 24 19 20 19 24 6 4 8 3 20 1 38-5 14-3 34-18 33-14 16-12 15-22 12-30 3-28 1-71 14-5 2 2 2 12 2 2 0 82-2 2 0 6-4 8-2 10-14 28-4 4-4 8-6 6 0 2-24 24-2 0-6 6-2 0-10 8-6 2-8 6-4 0-10 6-4 0-8 4-6 0-2 2z"/>
<path fill="#dfff20" fill-rule="evenodd" d="M1254 1348l-78 0-2-2-6 0-8-4-4 0-6-4-4 0-12-6-4-4-6-2-14-12-2 0-25-24 0-2-6-6 0-2-8-10-1-6-4-4-4-8 0-4-4-6-2-10-4-8 0-6-2-2 0-84 2-2 2-12 6-12 0-4 10-20 8-10 0-2 6-6 0-2 12 10 1 8-3 16-16 44-6 20-2 24 4 20 4 10 7 10 25 28 14 22 19 20 17 22 8 7 10 4 14 1 42-5 14-3 12-5 24-14 40-17 14-12 14-18 12 8-2 8-4 4-4 8-6 6 0 2-24 24-2 0-6 6-2 0-10 8-6 2-4 4-8 2-10 6-4 0-8 4-6 0-2 2zM1380 1223l-16-5 2-22 2-48 14-3 0 71-2 2 0 5z"/>
<path fill="#efff10" fill-rule="evenodd" d="M1254 1348l-78 0-2-2-6 0-8-4-4 0-6-4-4 0-12-6-4-4-6-2-14-12-2 0-25-24 0-2-6-6 0-2-8-10-1-6-4-4-4-8 0-4-4-6-2-10-4-8 0-6-2-2 0-84 2-2 2-12 6-12 0-4 10-20 10-14 2 0 10 8 2 4-4 16-15 44-5 20-2 22 4 22 9 18 27 29 15 23 41 49 10 6 14 1 50-6 20-6 24-14 36-14 16-10 12 11-22 23-2 0-6 6-2 0-10 8-28 14-4 0-8 4-6 0-2 2z"/>
<path fill="#ffff00" fill-rule="evenodd" d="M1156 1342l-6-4-4 0-12-6-4-4-12-6-8-8-2 0-25-24 0-2-6-6 0-2-7-10-2-6-4-4-4-8 0-4-4-6-4-16-2-2 0-6-2-2 0-84 2-2 2-12 6-12 0-4 10-20 6-8 12 8 1 4-21 72-2 22 3 22 10 20 28 30 15 23 42 51-5 16-1 0zM1254 1348l-71 0 3-14 62-11 12-5 24-14 40-16 2 0 10 10-14 16-2 0-6 6-2 0-10 8-28 14-4 0-8 4-6 0-2 2z"/>
<path fill="#ffef00" fill-rule="evenodd" d="M1152 1339l-6-1-28-16-8-8-2 0-25-24 0-2-6-6 0-2-7-10-2-6-4-4-4-8 0-4-4-6-4-16-2-2 0-6-2-2 0-84 2-2 2-12 6-12 0-4 10-20 14 8 0 2-15 48-4 20-1 22 4 22 9 18 30 32 15 23 37 47-5 15zM1254 1348l-61 0 3-14 52-9 12-5 24-15 34-12 3 1 9 10-8 10-2 0-6 6-2 0-10 8-6 2-4 4-8 2-10 6-4 0-8 4-6 0-2 2z"/>
<path fill="#ffdf00" fill-rule="evenodd" d="M1060 1157l-12-2 0-23 2-2 2-12 6-12 0-4 2-4 2-1 12 6 0 5-14 49zM1146 1338l-12-6-4-4-6-2-14-12-2 0-24-24 0-2-6-6 0-2-8-10-2-6-4-4-4-8 0-4-4-6-2-10-4-8 0-6-2-2 0-27 12-1 5 20 8 14 31 32 14 22 35 46-7 16zM1254 1348l-52 0 1-12 47-10 12-5 22-14 30-10 3 1 9 10-4 6-2 0-6 6-2 0-10 8-6 2-4 4-8 2-10 6-4 0-8 4-6 0-2 2z"/>
<path fill="#ffcf00" fill-rule="evenodd" d="M1142 1336l-8-4-4-4-6-2-14-12-2 0-24-24 0-2-6-6 0-2-8-10-2-6-4-4-4-8 0-4-4-6-2-10-4-8-2-15 14-3 12 20 32 32 12 20 31 42-7 16zM1254 1348l-42 0 1-12 39-9 10-5 22-14 28-8 10 12-8 8-2 0-10 8-6 2-4 4-8 2-10 6-4 0-8 4-6 0-2 2z"/>
<path fill="#ffbf00" fill-rule="evenodd" d="M1138 1334l-8-6-6-2-14-12-2 0-24-24 0-2-6-6 0-2-8-10-2-6-4-4-4-8 0-4-4-6-2-10-4-8 0-5 14-4 10 13 30 30 41 60-7 16zM1254 1348l-22 0-1-12 2-2 7-1 18-7 26-16 22-7 3 1 8 12-3 4-2 0-10 8-6 2-4 4-8 2-10 6-4 0-8 4-6 0-2 2z"/>
<path fill="#ffaf00" fill-rule="evenodd" d="M1134 1332l-4-4-12-6-8-8-2 0-24-24 0-2-6-6 0-2-8-10-2-6-4-4-4-8 0-4-4-6-2-10-2-2 0-5 14-4 38 38 38 57-7 16-1 0zM1262 1346l-4 0-4-16 28-17 22-7 10 14-8 4-4 4-6 2-4 4-8 2-10 6-10 2-2 2z"/>
<path fill="#ff9f00" fill-rule="evenodd" d="M1132 1329l-8-3-14-12-2 0-24-24 0-2-6-6 0-2-8-10-2-6-4-4-4-8 0-4-4-6-2-12 14-5 35 35 36 54 0 2-7 13zM1274 1342l-5 0-5-14 2-2 18-12 14-5 3 1 7 12 0 2-12 6-4 4-8 2-10 6z"/>
<path fill="#ff8f00" fill-rule="evenodd" d="M1128 1328l-8-6-2 0-8-8-2 0-24-24 0-2-6-6 0-2-8-10-2-6-4-4-10-25 16-5 32 30 33 52 1 2-8 14zM1278 1340l-1 0-6-16 13-9 12-3 8 14-8 4-4 4-8 2-6 4z"/>
<path fill="#ff8000" fill-rule="evenodd" d="M1124 1326l-14-12-2 0-24-24 0-2-6-6 0-2-8-10-2-6-4-4-4-8 0-4-4-6 0-4 14-5 22 18 10 11 30 48 1 2-9 14zM1288 1336l-4 0-6-14 6-5 6-1 7 14-9 6z"/>
<path fill="#ff7000" fill-rule="evenodd" d="M1122 1322l-4 0-8-8-2 0-24-24 0-2-6-6 0-2-8-10-2-6-4-4-7-18 15-6 28 26 29 46 1 2-8 12z"/>
<path fill="#ff6000" fill-rule="evenodd" d="M1118 1321l-8-7-2 0-24-24 0-2-6-6 0-2-8-10-2-6-4-4-6-15 14-6 2 0 26 25 26 42 1 2-9 13z"/>
<path fill="#ff5000" fill-rule="evenodd" d="M1114 1318l-4-4-2 0-24-24 0-2-6-6 0-2-8-10-2-6-4-4-4-8 0-4 14-6 18 14 9 10 23 38 0 2-8 11-2 1z"/>
<path fill="#ff4000" fill-rule="evenodd" d="M1112 1316l-4-2-24-24 0-2-6-6 0-2-8-10-2-6-4-4-4-8 16-7 23 21 22 36 0 2-9 12z"/>
<path fill="#ff3000" fill-rule="evenodd" d="M1108 1314l-24-24 0-2-6-6 0-2-8-10-2-6-4-4-2-6 14-7 14 10 10 11 18 32-10 14z"/>
<path fill="#ff2000" fill-rule="evenodd" d="M1106 1311l-22-21 0-2-6-6 0-2-8-10-2-6-4-4 0-3 14-7 14 11 8 9 16 28-10 13z"/>
<path fill="#ff1000" fill-rule="evenodd" d="M1104 1308l-2 0-18-18 0-2-6-6 0-2-8-10-4-10 14-7 18 16 7 11 8 16-9 12z"/>
<path fill="#ff0000" fill-rule="evenodd" d="M1100 1306l-16-16 0-2-6-6 0-2-10-14 0-3 12-8 6 4 10 9 8 12 6 12 0 4-10 10z"/>
<path fill="#ef0000" fill-rule="evenodd" d="M1098 1304l-14-14 0-2-6-6 0-2-8-10 0-4 12-8 14 12 12 20 0 3-10 11z"/>
<path fill="#df0000" fill-rule="evenodd" d="M1096 1301l-12-11 0-2-6-6 0-2-7-10 13-9 12 11 10 16 0 2-10 11z"/>
<path fill="#cf0000" fill-rule="evenodd" d="M1092 1298l-8-8 0-2-10-12 0-3 12-9 10 10 7 12 0 2-11 10z"/>
<path fill="#bf0000" fill-rule="evenodd" d="M1090 1294l-6-4 0-2-6-6-2-4 12-9 2 0 4 4 6 11-10 10z"/>
</g><g transform="scale(.5)" fill="none" stroke-width="1.9">
<path stroke="#4a4a10" d="M1174 1052l1-4-1-3-2 1-2 2 0 4 2 1zM1219 1272l11-4 8-8 3-10-3-12-4-5-6-3-26-1-8 2-4 5-1 4 1 6 3 8 13 14 6 3z"/>
<path stroke="#4a4208" d="M1146 1002l10 24-4 20 2 18 6 15 4 4 4 1 6-2 8-6 32-36 5-14 0-24M1266 1154l8-4 6-9 2-11 1-18-3-14-6-13-8-10-6-3-5 4-3 12-1 22 0 28 2 8 3 5 4 3zM1226 1280l11-4 8-6 5-6 4-8 1-8-2-8-4-10-5-9-10-7-20 0-28-9-6-4-11-13-8-8-7-2-8 2-6 10 2 11 8 7 20 4 5 4 3 28 5 10 9 12 8 8 8 5 8 2z"/>
<path stroke="#4a2d08" d="M1126 1002l16 30 1 22 11 62 4 8 4 1 4-2 7-17 7-10 16-17 12-9 10-2 8 2 7 6 4 10 3 20-4 28-5 22-9 13-16 11-14 3-14-4-26-15-8-1-6 3-6 6-5 10-2 10 1 14 7 12 27 17 26 36 8 9 12 6 12 2 14-2 14-6 11-8 7-10 3-8 0-10-7-30-1-18 5-12 20-25 7-19 1-28-3-20-9-27-16-31-4-12 6-20"/>
<path stroke="#4a1c08" d="M1111 1002l21 36 8 50-1 18-5 32-14 28-6 18-1 14 2 12 5 10 6 7 40 31 24 28 12 7 16 2 19-3 19-9 15-13 8-14 1-12-2-26 0-12 4-14 15-34 3-24 0-34-13-68 15-30M1194 1168l-12 1-12-5-8-8-1-8 15-19 11-23 9-12 12-9 10-1 7 6 4 8 0 10-2 14-7 20-6 10-9 10z"/>
<path stroke="#4a0c08" d="M1096 1002l29 42 7 34-2 18-5 26-17 42-5 16-1 16 4 16 8 14 12 13 14 13 28 19 12 17 6 6 12 6 18 1 22-2 20-9 23-18 7-8 4-8 2-12 0-34 12-46 3-16 0-44-5-32 0-28 28-42M1190 1152l-6 2-4-1-2-3 2-6 22-37 6-6 6-1 2 4 0 5-10 24-8 13z"/>
<path stroke="#3e0814" d="M1080 1002l37 48 7 26-1 12-5 18-19 50-5 17-2 19 4 18 11 18 23 27 10 9 20 14 18 22 12 6 18 2 24-2 20-6 39-24 10-8 4-6 4-14 0-32 11-60-1-54-2-28 1-18 46-54"/>
<path stroke="#2d0825" d="M1062 1002l47 54 6 18 0 8-3 12-22 54-6 20-1 22 4 20 9 14 34 43 22 19 20 23 8 4 10 2 38-2 20-4 58-31 6-5 6-7 5-10 3-12 8-70 1-22-2-80 49-44"/>
<path stroke="#1c0835" d="M1048 1014l52 50 3 8 0 10-3 10-20 52-5 22-1 24 5 20 7 12 24 28 16 23 19 19 19 24 6 4 8 3 20 0 34-3 16-4 34-19 31-13 15-12 8-10 7-14 9-30 2-50-1-64 1-2 28-14"/>
<path stroke="#0c0846" d="M1048 1052l40 30-3 14-15 44-4 20-2 24 5 22 9 17 27 29 15 23 35 43 8 8-7 22M1182 1348l2-14 2-1 48-7 14-3 12-5 24-15 42-16 56 56"/>
<path stroke="#08184a" d="M1048 1219l16-4 2 2 8 11 30 30 41 60-13 30M1232 1348l-1-12 2-2 23-7 26-16 24-8 3 1 32 44"/>
<path stroke="#08294a" d="M1048 1242l22-9 2 1 29 28 31 48 0 2-21 36M1291 1348l-11-26 4-4 4-1 17 31"/>
<path stroke="#08394a" d="M1048 1259l28-14 16 13 8 9 20 35-33 46"/>
<path stroke="#084a4a" d="M1048 1277l34-20 16 15 12 20 0 2-48 54"/>
</g>
</g>
<ellipse cx="607.4" cy="587.2" rx="71.05" ry="73.70" fill="none" stroke="#000" stroke-width="1.05"/>
<polyline points="620.4,514.0 610.2,502.7 604.5,502.7 594.3,514.0" fill="none" stroke="#000" stroke-width="1"/>
<polyline points="677.3,573.1 679.8,569.9 681.0,569.8 682.6,570.3 684.4,573.1 684.1,588.0 685.1,600.9 682.9,606.6 679.8,607.6 676.1,604.9" fill="none" stroke="#000" stroke-width="1"/>
<polyline points="537.4,573.1 534.9,569.9 533.7,569.8 532.1,570.3 530.3,573.1 530.6,588.0 529.6,600.9 531.8,606.6 534.9,607.6 538.6,604.9" fill="none" stroke="#000" stroke-width="1"/>
<clipPath id="cSS"><ellipse cx="790.6" cy="587.1" rx="78.92" ry="81.31"/></clipPath>
<ellipse cx="790.6" cy="587.1" rx="84.35" ry="86.91" fill="#edf5ff"/>
<g clip-path="url(#cSS)"><g transform="scale(.5)">
<rect x="1411" y="999" width="339" height="349" fill="#00009f"/>
<path fill="#0000af" fill-rule="evenodd" d="M1621 1350l-80 0-2-2-6 0-8-4-4 0-6-4-4 0-16-8-4-4-14-8-10-10-2 0-23-24 0-2-12-16-9-20 0-4-4-6 0-4-4-8 0-6-2-2 0-86 2-2 0-6 2-2 3-16 14-28 8-10 0-2 9-8 0-2 22-23 2 0 6-6 8-4 4-4 6-2 4-4 8-4 4 0 6-4 16-4 2-2 88 0 8 4 10 2 28 14 4 4 8 4 8 8 2 0 27 29 0 2 12 16 10 20 0 4 4 6 0 4 4 8 0 6 2 2 0 84-2 2 0 6-4 8-2 10-4 6 0 4-6 12-4 4-2 6-10 12 0 2-14 14-2 4-3 0-12 12-2 0-12 10-6 2-4 4-12 6-4 0-6 4-10 2-2 2-6 0-2 2zM1586 1258l3-4 0-4-4-5-6 1-2 4 1 4 3 3 5 1z"/>
<path fill="#0000bf" fill-rule="evenodd" d="M1621 1350l-80 0-2-2-6 0-8-4-4 0-6-4-4 0-16-8-4-4-14-8-10-10-2 0-23-24 0-2-12-16-9-20 0-4-4-6 0-4-4-8 0-6-2-2 0-86 2-2 0-6 2-2 3-16 14-28 9-10 0-2 8-8 0-2 22-23 2 0 6-6 8-4 4-4 6-2 4-4 8-4 4 0 6-4 16-4 2-2 88 0 8 4 10 2 28 14 4 4 8 4 8 8 2 0 27 29 0 2 12 16 10 20 0 4 4 6 0 4 4 8 0 6 2 2 0 84-2 2 0 6-4 8-2 10-4 6 0 4-6 12-4 4-2 6-10 12 0 2-14 14-2 4-3 0-12 12-2 0-12 10-6 2-4 4-12 6-4 0-6 4-10 2-2 2-6 0-2 2zM1586 1264l7-4 3-4-1-6-6-8-6-2-4 1-5 5-1 8 6 8 7 2z"/>
<path fill="#0000cf" fill-rule="evenodd" d="M1621 1350l-80 0-2-2-6 0-8-4-4 0-6-4-4 0-16-8-4-4-14-8-10-10-2 0-23-24 0-2-11-16-10-20 0-4-4-6 0-4-4-8 0-6-2-2 0-86 2-2 0-6 2-2 4-16 14-28 8-10 0-2 8-8 0-2 22-23 2 0 6-6 8-4 4-4 6-2 4-4 8-4 4 0 6-4 16-4 2-2 88 0 8 4 10 2 28 14 4 4 8 4 8 8 2 0 27 29 0 2 12 16 10 20 0 4 4 6 0 4 4 8 0 6 2 2 0 84-2 2 0 6-4 8-2 10-4 6 0 4-6 12-4 4-2 6-10 12 0 2-14 14-2 4-3 0-12 12-2 0-12 10-6 2-4 4-12 6-4 0-6 4-10 2-2 2-6 0-2 2zM1586 1268l7-2 4-4 3-4 0-6-2-6-5-6-6-3-6 0-9 5-2 6 0 6 5 10 6 3 5 1z"/>
<path fill="#0000df" fill-rule="evenodd" d="M1621 1350l-80 0-2-2-6 0-8-4-4 0-6-4-4 0-16-8-4-4-14-8-10-10-2 0-23-24 0-2-11-16-10-20 0-4-4-6 0-4-4-8 0-6-2-2 0-86 2-2 0-6 2-2 4-16 14-28 8-10 0-2 8-8 0-2 22-23 2 0 6-6 8-4 4-4 6-2 4-4 8-4 4 0 6-4 16-4 2-2 88 0 8 4 10 2 28 14 4 4 8 4 8 8 2 0 27 29 0 2 12 16 10 20 0 4 4 6 0 4 4 8 0 6 2 2 0 84-2 2 0 6-4 8-2 10-4 6 0 4-6 12-4 4-2 6-10 12 0 2-14 14-2 4-3 0-12 12-2 0-12 10-6 2-4 4-12 6-4 0-6 4-10 2-2 2-6 0-2 2zM1592 1270l7-4 4-6 2-6-2-8-5-6-7-5-8-2-8 2-5 5-3 6-1 6 3 8 4 6 6 4 6 1 7-1z"/>
<path fill="#0000ef" fill-rule="evenodd" d="M1621 1350l-80 0-2-2-6 0-8-4-4 0-6-4-4 0-16-8-4-4-14-8-10-10-2 0-23-24 0-2-11-16-10-20 0-4-4-6 0-4-4-8 0-6-2-2 0-86 2-2 0-6 2-2 4-16 14-28 8-10 0-2 8-8 0-2 22-23 2 0 6-6 8-4 4-4 6-2 4-4 8-4 4 0 6-4 16-4 2-2 88 0 8 4 10 2 28 14 4 4 8 4 8 8 2 0 27 29 0 2 12 16 10 20 0 4 4 6 0 4 4 8 0 6 2 2 0 84-2 2 0 6-4 8-2 10-4 6 0 4-6 12-4 4-2 6-10 12 0 2-14 14-2 4-3 0-12 12-2 0-12 10-6 2-4 4-12 6-4 0-6 4-10 2-2 2-6 0-2 2zM1594 1272l9-6 4-6 1-8-3-8-6-8-8-5-10-1-8 3-6 5-3 8 0 8 3 8 4 6 8 5 6 0 9-1z"/>
<path fill="#0000ff" fill-rule="evenodd" d="M1621 1350l-80 0-2-2-6 0-8-4-4 0-6-4-4 0-16-8-4-4-14-8-10-10-2 0-22-24 0-2-12-16-10-20 0-4-4-6 0-4-4-8 0-6-2-2 0-86 2-2 0-6 2-2 4-16 14-28 8-10 0-2 8-8 0-2 22-23 2 0 6-6 8-4 4-4 6-2 4-4 8-4 4 0 6-4 16-4 2-2 88 0 8 4 10 2 28 14 4 4 8 4 8 8 2 0 27 29 0 2 12 16 10 20 0 4 4 6 0 4 4 8 0 6 2 2 0 84-2 2 0 6-4 8-2 10-4 6 0 4-6 12-4 4-2 6-10 12 0 2-14 14-2 4-3 0-12 12-2 0-12 10-6 2-4 4-12 6-4 0-6 4-10 2-2 2-6 0-2 2zM1588 1276l9-3 9-5 5-8 1-8-4-10-9-10-10-4-10 0-8 3-6 5-3 8-1 10 4 10 6 7 8 4 9 1z"/>
<path fill="#0010ff" fill-rule="evenodd" d="M1621 1350l-80 0-2-2-6 0-8-4-4 0-6-4-4 0-16-8-4-4-14-8-10-10-2 0-22-24 0-2-12-16-10-20 0-4-4-6 0-4-4-8 0-6-2-2 0-86 2-2 0-6 2-2 4-16 14-28 8-10 0-2 8-8 0-2 22-23 2 0 6-6 8-4 4-4 6-2 4-4 8-4 4 0 6-4 16-4 2-2 88 0 8 4 10 2 28 14 4 4 8 4 8 8 2 0 27 29 0 2 12 16 10 20 0 4 4 6 0 4 4 8 0 6 2 2 0 84-2 2 0 6-4 8-2 10-4 6 0 4-6 12-4 4-2 6-10 12 0 2-14 14-2 4-3 0-12 12-2 0-12 10-6 2-4 4-12 6-4 0-6 4-10 2-2 2-6 0-2 2zM1589 1278l12-4 9-6 5-8 0-10-6-12-10-10-10-4-12 1-8 3-7 8-3 8 0 10 4 10 6 8 10 5 10 1z"/>
<path fill="#0020ff" fill-rule="evenodd" d="M1621 1350l-80 0-2-2-6 0-8-4-4 0-6-4-4 0-16-8-4-4-14-8-10-10-2 0-22-24 0-2-12-16-10-20 0-4-4-6 0-4-4-8 0-6-2-2 0-86 2-2 0-6 2-2 4-16 14-28 8-10 0-2 8-8 0-2 22-23 2 0 6-6 8-4 4-4 6-2 4-4 8-4 4 0 6-4 16-4 2-2 88 0 8 4 10 2 28 14 4 4 8 4 8 8 2 0 27 29 0 2 12 16 10 20 0 4 4 6 0 4 4 8 0 6 2 2 0 84-2 2 0 6-4 8-2 10-4 6 0 4-6 12-4 4-2 6-10 12 0 2-14 14-2 4-3 0-12 12-2 0-12 10-6 2-4 4-12 6-4 0-6 4-10 2-2 2-6 0-2 2zM1588 1280l13-4 11-6 6-8 1-10-5-12-11-13-12-6-12 0-10 4-8 7-5 10 0 10 4 12 7 9 10 6 11 1z"/>
<path fill="#0030ff" fill-rule="evenodd" d="M1621 1350l-80 0-2-2-6 0-8-4-4 0-6-4-4 0-16-8-4-4-14-8-10-10-2 0-22-24 0-2-12-16-10-20 0-4-4-6 0-4-4-8 0-6-2-2 0-86 2-2 0-6 2-2 4-16 14-28 8-10 0-2 8-8 0-2 22-23 2 0 6-6 8-4 4-4 6-2 4-4 8-4 4 0 6-4 16-4 2-2 88 0 8 4 10 2 28 14 4 4 8 4 8 8 2 0 27 29 0 2 12 16 10 20 0 4 4 6 0 4 4 8 0 6 2 2 0 84-2 2 0 6-4 8-2 10-4 6 0 4-6 12-4 4-2 6-10 12 0 2-14 14-2 4-3 0-12 12-2 0-12 10-6 2-4 4-12 6-4 0-6 4-10 2-2 2-6 0-2 2zM1642 1128l5-8 1-10-3-16-2-3-4-2-3 3-2 6-2 16 3 11 4 3 3 0zM1598 1280l14-6 8-8 3-10-4-12-10-15-12-9-12-3-14 3-10 7-6 11-2 12 4 12 6 10 10 7 12 3 13-2z"/>
<path fill="#0040ff" fill-rule="evenodd" d="M1621 1350l-80 0-2-2-6 0-8-4-4 0-6-4-4 0-16-8-4-4-14-8-10-10-2 0-22-24 0-2-12-16-10-20 0-4-4-6 0-4-4-8 0-6-2-2 0-86 2-2 0-6 2-2 4-16 14-28 8-10 0-2 8-8 0-2 22-23 2 0 6-6 8-4 4-4 6-2 4-4 8-4 4 0 6-4 16-4 2-2 88 0 8 4 10 2 28 14 4 4 8 4 8 8 2 0 27 29 0 2 12 16 10 20 0 4 4 6 0 4 4 8 0 6 2 2 0 84-2 2 0 6-4 8-2 10-4 6 0 4-6 12-4 4-2 6-10 12 0 2-14 14-2 4-3 0-12 12-2 0-12 10-6 2-4 4-12 6-4 0-6 4-10 2-2 2-6 0-2 2zM1643 1134l4-4 3-6 2-18-2-12-3-8-4-6-4-2-4 2-4 10-3 12 0 14 1 8 4 8 4 2 6 0zM1598 1282l15-6 10-8 3-10-2-12-12-18-13-11-14-4-14 3-12 8-7 12-2 12 3 12 8 13 10 7 12 3 15-1z"/>
<path fill="#0050ff" fill-rule="evenodd" d="M1621 1350l-80 0-2-2-6 0-8-4-4 0-6-4-4 0-16-8-4-4-14-8-10-10-2 0-22-24 0-2-12-16-10-20 0-4-4-6 0-4-4-8 0-6-2-2 0-86 2-2 0-6 2-2 4-16 14-28 8-10 0-2 8-8 0-2 22-23 2 0 6-6 8-4 4-4 6-2 4-4 8-4 4 0 6-4 16-4 2-2 88 0 8 4 10 2 28 14 4 4 8 4 8 8 2 0 27 29 0 2 12 16 10 20 0 4 4 6 0 4 4 8 0 6 2 2 0 84-2 2 0 6-4 8-2 10-4 6 0 4-6 12-4 4-2 6-10 12 0 2-14 14-2 4-3 0-12 12-2 0-12 10-6 2-4 4-12 6-4 0-6 4-10 2-2 2-6 0-2 2zM1640 1140l5-2 6-8 4-10 0-10-1-12-3-12-6-11-6-4-6 3-4 8-3 14-2 16 1 12 4 10 4 4 7 2zM1598 1284l16-6 11-8 4-10 0-10-4-8-7-12-15-15-14-6-14 1-14 8-10 12-4 12 2 12 7 16 11 10 14 5 17-1z"/>
<path fill="#0060ff" fill-rule="evenodd" d="M1621 1350l-80 0-2-2-6 0-8-4-4 0-6-4-4 0-16-8-4-4-14-8-10-10-2 0-22-24 0-2-12-16-10-20 0-4-4-6 0-4-4-8 0-6-2-2 0-86 2-2 0-6 2-2 4-16 14-28 8-10 0-2 8-8 0-2 22-23 2 0 6-6 8-4 4-4 6-2 4-4 8-4 4 0 6-4 16-4 2-2 88 0 8 4 10 2 28 14 4 4 8 4 8 8 2 0 27 29 0 2 12 16 10 20 0 4 4 6 0 4 4 8 0 6 2 2 0 84-2 2 0 6-4 8-2 10-4 6 0 4-6 12-4 4-2 6-10 12 0 2-14 14-2 4-3 0-12 12-2 0-12 10-6 2-4 4-12 6-4 0-6 4-10 2-2 2-6 0-2 2zM1644 1144l5-5 6-9 3-12 0-12-2-14-5-14-6-9-6-3-7 4-6 10-4 18-1 20 2 12 5 10 7 5 9-1zM1596 1286l19-6 12-8 6-10-1-12-8-16-11-15-8-8-14-6-14 0-14 6-12 13-6 12 0 14 8 18 10 12 14 6 19 0z"/>
<path fill="#0070ff" fill-rule="evenodd" d="M1621 1350l-80 0-2-2-6 0-8-4-4 0-6-4-4 0-16-8-4-4-14-8-10-10-2 0-22-24 0-2-12-16-10-20 0-4-4-6 0-4-4-8 0-6-2-2 0-86 2-2 0-6 2-2 4-16 14-28 8-10 0-2 8-8 0-2 22-23 2 0 6-6 8-4 4-4 6-2 4-4 8-4 4 0 6-4 16-4 2-2 88 0 8 4 10 2 28 14 4 4 8 4 8 8 2 0 27 29 0 2 12 16 10 20 0 4 4 6 0 4 4 8 0 6 2 2 0 84-2 2 0 6-4 8-2 10-4 6 0 4-6 12-4 4-2 6-10 12 0 2-14 14-2 4-3 0-12 12-2 0-12 10-6 2-4 4-12 6-4 0-6 4-10 2-2 2-6 0-2 2zM1641 1150l8-5 6-9 4-14 2-14-2-16-6-17-6-9-8-4-8 4-7 10-4 18-1 22 1 16 5 12 6 5 10 1zM1511 1206l6-6 4-8-1-6-3-3-6 0-4 2-6 10 0 7 2 4 4 1 4-1zM1594 1288l21-6 14-8 7-10 0-12-5-14-22-30-14-8-16-1-14 5-14 13-9 15-1 14 8 20 12 15 14 6 19 1z"/>
<path fill="#0080ff" fill-rule="evenodd" d="M1621 1350l-80 0-2-2-6 0-8-4-4 0-6-4-4 0-16-8-4-4-14-8-10-10-2 0-22-24 0-2-12-16-10-20 0-4-4-6 0-4-4-8 0-6-2-2 0-86 2-2 0-6 2-2 4-16 14-28 8-10 0-2 8-8 0-2 22-23 2 0 6-6 8-4 4-4 6-2 4-4 8-4 4 0 6-4 16-4 2-2 88 0 8 4 10 2 28 14 4 4 8 4 8 8 2 0 27 29 0 2 12 16 10 20 0 4 4 6 0 4 4 8 0 6 2 2 0 84-2 2 0 6-4 8-2 10-4 6 0 4-6 12-4 4-2 6-10 12 0 2-14 14-2 4-3 0-12 12-2 0-12 10-6 2-4 4-12 6-4 0-6 4-10 2-2 2-6 0-2 2zM1638 1156l9-4 8-9 6-15 2-18-2-18-6-19-6-9-4-3-6-2-10 4-7 11-4 18-2 22 1 20 4 13 8 7 9 2zM1512 1216l5-5 13-23 0-6-3-3-8-1-10 2-7 6-5 8-2 10 2 8 6 4 9 0zM1589 1290l22-4 17-8 9-10 3-6 0-8-4-14-25-37-12-8-16-2-16 3-10 7-17 23-3 8-1 6 2 8 5 12 14 20 14 8 18 2z"/>
<path fill="#008fff" fill-rule="evenodd" d="M1621 1350l-80 0-2-2-6 0-8-4-4 0-6-4-4 0-16-8-4-4-14-8-10-10-2 0-22-24 0-2-12-16-10-20 0-4-4-6 0-4-4-8 0-6-2-2 0-86 2-2 0-6 2-2 4-16 14-28 8-10 0-2 8-8 0-2 22-23 2 0 6-6 8-4 4-4 6-2 4-4 8-4 4 0 6-4 16-4 2-2 88 0 8 4 10 2 28 14 4 4 8 4 8 8 2 0 27 29 0 2 12 16 10 20 0 4 4 6 0 4 4 8 0 6 2 2 0 84-2 2 0 6-4 8-2 10-4 6 0 4-6 12-4 4-2 6-10 12 0 2-14 14-2 4-3 0-12 12-2 0-12 10-6 2-4 4-12 6-4 0-6 4-10 2-2 2-6 0-2 2zM1639 1162l10-6 8-10 6-16 2-22-2-20-7-20-7-9-10-4-6 2-5 3-8 12-5 20-2 26 2 22 4 15 8 6 12 1zM1517 1224l6-4 5-18 12-14-1-8-6-6-14 0-12 3-9 9-7 12-1 12 4 8 11 6 12 0zM1602 1290l23-8 7-4 6-6 4-6 2-8 0-8-3-8-12-18-12-23-10-11-8-3-12-1-14 2-14 4-6 4-8 14-14 18 0 8 4 12 14 26 12 11 8 4 10 2 23-1z"/>
<path fill="#009fff" fill-rule="evenodd" d="M1621 1350l-80 0-2-2-6 0-8-4-4 0-6-4-4 0-16-8-4-4-14-8-10-10-2 0-22-24 0-2-12-16-10-20 0-4-4-6 0-4-4-8 0-6-2-2 0-86 2-2 0-6 2-2 4-16 14-28 8-10 0-2 8-8 0-2 22-23 2 0 6-6 8-4 4-4 6-2 4-4 8-4 4 0 6-4 16-4 2-2 88 0 8 4 10 2 28 14 4 4 8 4 8 8 2 0 27 29 0 2 12 16 10 20 0 4 4 6 0 4 4 8 0 6 2 2 0 84-2 2 0 6-4 8-2 10-4 6 0 4-6 12-4 4-2 6-10 12 0 2-14 14-2 4-3 0-12 12-2 0-12 10-6 2-4 4-12 6-4 0-6 4-10 2-2 2-6 0-2 2zM1636 1170l13-7 10-13 5-16 3-24-2-20-7-24-9-11-10-3-6 1-6 3-8 12-5 20-3 26 1 34 3 20 4 3 17-1zM1599 1292l20-6 15-6 9-10 5-12 0-8-3-8-14-24-16-38-2-2-6-1-50 5-6-2-14-9-10-2-14 3-12 6-8 10-6 12-1 10 4 10 7 6 20 7 6 4 25 39 11 10 16 6 24 0z"/>
<path fill="#00afff" fill-rule="evenodd" d="M1621 1350l-80 0-2-2-6 0-8-4-4 0-6-4-4 0-16-8-4-4-14-8-10-10-2 0-22-24 0-2-12-16-10-20 0-4-4-6 0-4-4-8 0-6-2-2 0-86 2-2 0-6 2-2 4-16 14-28 8-10 0-2 8-8 0-2 22-23 2 0 6-6 8-4 4-4 6-2 4-4 8-4 4 0 6-4 16-4 2-2 88 0 8 4 10 2 28 14 4 4 8 4 8 8 2 0 27 29 0 2 12 16 10 20 0 4 4 6 0 4 4 8 0 6 2 2 0 84-2 2 0 6-4 8-2 10-4 6 0 4-6 12-4 4-2 6-10 12 0 2-14 14-2 4-3 0-12 12-2 0-12 10-6 2-4 4-12 6-4 0-6 4-10 2-2 2-6 0-2 2zM1596 1294l21-5 18-7 11-10 5-12 1-8-1-8-16-30-3-14 0-10 3-8 18-16 8-13 6-19 3-30-3-18-8-23-7-9-9-5-8 0-8 3-6 8-5 10-6 30-3 52-2 8-4 6-11 6-23 4-12-1-22-8-10 0-10 2-10 5-8 7-8 11-4 10 0 12 4 8 8 6 26 15 26 35 8 8 8 4 10 3 23 1z"/>
<path fill="#00bfff" fill-rule="evenodd" d="M1621 1350l-80 0-2-2-6 0-8-4-4 0-6-4-4 0-16-8-4-4-14-8-10-10-2 0-22-24 0-2-12-16-10-20 0-4-4-6 0-4-4-8 0-6-2-2 0-86 2-2 0-6 2-2 4-16 14-28 8-10 0-2 8-8 0-2 22-23 2 0 6-6 8-4 4-4 6-2 4-4 8-4 4 0 6-4 16-4 2-2 88 0 8 4 10 2 28 14 4 4 8 4 8 8 2 0 27 29 0 2 12 16 10 20 0 4 4 6 0 4 4 8 0 6 2 2 0 84-2 2 0 6-4 8-2 10-4 6 0 4-6 12-4 4-2 6-10 12 0 2-14 14-2 4-3 0-12 12-2 0-12 10-6 2-4 4-12 6-4 0-6 4-10 2-2 2-6 0-2 2zM1586 1296l25-4 22-7 15-11 8-14-1-16-13-30-1-16 3-10 15-22 6-14 4-16 3-32-3-16-8-26-8-12-10-5-8 0-9 5-7 6-4 10-7 28-4 50-3 10-6 7-10 6-18 4-10-1-26-6-18 2-10 5-10 8-9 13-4 10 0 12 5 10 8 7 28 18 31 37 15 7 19 3z"/>
<path fill="#00cfff" fill-rule="evenodd" d="M1621 1350l-80 0-2-2-6 0-8-4-4 0-6-4-4 0-16-8-4-4-14-8-10-10-2 0-22-24 0-2-12-16-10-20 0-4-4-6 0-4-4-8 0-6-2-2 0-86 2-2 0-6 2-2 4-16 14-28 8-10 0-2 8-8 0-2 22-23 2 0 6-6 8-4 4-4 6-2 4-4 8-4 4 0 6-4 16-4 2-2 88 0 8 4 10 2 28 14 4 4 8 4 8 8 2 0 27 29 0 2 12 16 10 20 0 4 4 6 0 4 4 8 0 6 2 2 0 84-2 2 0 6-4 8-2 10-4 6 0 4-6 12-4 4-2 6-10 12 0 2-14 14-2 4-3 0-12 12-2 0-12 10-6 2-4 4-12 6-4 0-6 4-10 2-2 2-6 0-2 2zM1603 1296l24-6 16-8 12-12 5-12 0-14-10-28-1-14 2-10 12-24 6-14 2-16 3-36-3-16-9-28-9-12-10-4-10 0-8 4-6 6-6 10-7 28-5 48-3 10-5 8-10 6-14 4-12 0-26-5-10 0-10 3-10 6-11 10-9 12-4 10 0 12 6 11 40 31 30 33 9 5 11 2 14 1 16-1z"/>
<path fill="#00dfff" fill-rule="evenodd" d="M1621 1350l-80 0-2-2-6 0-8-4-4 0-6-4-4 0-16-8-4-4-14-8-10-10-2 0-22-24 0-2-12-16-10-20 0-4-4-6 0-4-4-8 0-6-2-2 0-86 2-2 0-6 2-2 4-16 14-28 8-10 0-2 8-8 0-2 22-23 2 0 6-6 8-4 4-4 6-2 4-4 8-4 4 0 6-4 16-4 2-2 88 0 8 4 10 2 28 15 4 4 8 3 8 8 2 0 27 29 0 2 12 16 10 20 0 4 4 6 0 4 4 8 0 6 2 2 0 84-2 2 0 6-4 8-2 10-4 6 0 4-6 12-4 4-2 6-10 12 0 2-14 14-2 4-3 0-12 12-2 0-12 10-6 2-4 4-12 6-4 0-6 4-10 2-2 2-6 0-2 2zM1600 1298l25-6 20-8 13-12 5-8 2-8 0-12-8-28-1-12 2-10 9-24 5-16 4-42 0-12-8-34-5-13-8-10-12-5-10 0-8 4-8 7-5 9-7 28-6 50-4 10-6 7-8 5-12 4-12 0-28-4-10 1-10 3-12 7-12 13-7 10-4 10 1 12 6 12 46 37 24 27 8 4 10 3 14 1 17 0z"/>
<path fill="#00efff" fill-rule="evenodd" d="M1621 1350l-80 0-2-2-6 0-8-4-4 0-6-4-4 0-16-8-4-4-14-8-10-10-2 0-22-24 0-2-12-16-10-20 0-4-4-6 0-4-4-8 0-6-2-2 0-86 2-2 0-6 2-2 4-16 14-28 8-10 0-2 8-8 0-2 22-23 2 0 6-6 8-4 4-4 6-2 4-4 8-4 4 0 6-4 16-4 2-2 88 0 8 4 10 3 28 14 4 4 8 4 8 7 2 0 27 29 0 2 12 16 10 20 0 4 4 6 0 4 4 8 0 6 2 2 0 84-2 2 0 6-4 8-2 10-4 6 0 4-6 12-4 4-2 6-10 12 0 2-14 14-2 4-3 0-12 12-2 0-12 10-6 2-4 4-12 6-4 0-6 4-10 2-2 2-6 0-2 2zM1593 1300l28-5 24-9 16-12 5-8 3-8 1-14-6-26-1-12 12-52 4-54-9-38-5-12-8-10-12-6-10 0-10 4-8 6-6 9-4 11-4 18-6 50-4 10-6 7-8 5-12 4-40-2-18 3-12 8-13 13-8 10-4 10 0 14 8 14 49 41 18 21 8 5 10 3 28 2z"/>
<path fill="#00ffff" fill-rule="evenodd" d="M1621 1350l-80 0-2-2-6 0-8-4-4 0-6-4-4 0-16-8-4-4-14-8-10-10-2 0-22-24 0-2-12-16-10-20 0-4-4-6 0-4-4-8 0-6-2-2 0-86 2-2 0-6 2-2 4-16 14-28 8-10 0-2 8-8 0-2 22-23 2 0 6-6 8-4 4-4 6-2 4-4 8-4 4 0 6-4 16-4 2-2 88 0 8 5 10 2 28 14 4 4 8 4 8 7 2 0 27 29 0 2 12 16 10 20 0 4 4 6 0 4 4 8 0 6 2 2 0 84-2 2 0 6-4 8-2 10-4 6 0 4-6 12-4 4-2 6-10 12 0 2-14 14-2 4-3 0-12 12-2 0-12 10-6 2-4 4-12 6-4 0-6 4-10 2-2 2-6 0-2 2zM1607 1300l26-7 21-9 15-14 4-8 2-8 0-12-5-22-1-14 9-52 3-44 0-12-10-40-4-11-10-13-12-5-10 0-10 4-8 7-7 10-7 24-9 56-3 8-5 8-9 5-10 3-42-1-18 5-12 8-16 16-7 10-3 10 2 14 8 14 50 42 13 16 7 6 10 4 12 3 18 0 18-1z"/>
<path fill="#10ffef" fill-rule="evenodd" d="M1621 1350l-80 0-2-2-6 0-8-4-4 0-6-4-4 0-16-8-4-4-14-8-10-10-2 0-22-24 0-2-12-16-10-20 0-4-4-6 0-4-4-8 0-6-2-2 0-86 2-2 0-6 2-2 4-16 14-28 8-10 0-2 8-8 0-2 22-23 2 0 6-6 8-4 4-4 6-2 4-4 8-4 4 0 6-4 16-4 2-2 88 1 8 4 10 2 4 2 1 2-6 14-11 2-10 5-8 7-6 9-6 23-8 56-4 9-5 7-9 6-10 2-42 1-16 4-12 7-16 16-8 9-4 9-1 8 1 8 8 16 26 25 26 21 14 16 7 6 11 4 18 3 24-1 24-4 19-6 15-8 12-10 6-10 3-8 0-10-5-28 0-14 6-46 3-52-1-12-9-40-8-16 8-14 3 0 14 12 2 0 27 28 0 2 12 16 10 20 0 4 4 6 0 4 4 8 0 6 2 2 0 84-2 2 0 6-4 8-2 10-4 6 0 4-6 12-4 4-2 6-10 12 0 2-14 14-2 4-3 0-12 12-2 0-12 10-6 2-4 4-12 6-4 0-6 4-10 2-2 2-6 0-2 2z"/>
<path fill="#20ffdf" fill-rule="evenodd" d="M1621 1350l-80 0-2-2-6 0-8-4-4 0-6-4-4 0-16-8-4-4-14-8-10-10-2 0-22-24 0-2-12-16-10-20 0-4-4-6 0-4-4-8 0-6-2-2 0-86 2-2 0-6 2-2 4-16 14-28 8-10 0-2 8-8 0-2 22-23 2 0 6-6 8-4 4-4 6-2 4-4 8-4 4 0 6-4 16-4 2-2 88 1 8 4 4 0-5 16-17 10-6 8-5 10-4 16-10 60-3 8-4 5-8 6-10 4-44 2-16 4-12 9-18 17-7 9-3 8-1 8 1 8 8 16 74 70 12 4 20 2 24-1 24-4 17-5 17-8 13-10 7-10 3-8 2-10-6-44 5-50 2-48-1-12-6-20-6-32 9-14 8 8 2 0 18 18 0 2 8 8 0 2 13 16 10 20 0 4 4 6 0 4 4 8 0 6 2 2 0 84-2 2 0 6-4 8-2 10-4 6 0 4-7 12-4 4-2 6-10 12 0 2-13 14-2 4-3 0-12 12-2 0-12 10-6 2-4 4-12 6-4 0-6 4-10 2-2 2-6 0-2 2z"/>
<path fill="#30ffcf" fill-rule="evenodd" d="M1621 1350l-80 0-2-2-6 0-8-4-4 0-6-4-4 0-16-8-4-4-14-8-10-10-2 0-22-24 0-2-12-16-10-20 0-4-4-6 0-4-4-8 0-6-2-2 0-86 2-2 0-6 2-2 4-16 14-28 8-10 0-2 8-8 0-2 22-23 2 0 6-6 8-4 4-4 6-2 4-4 8-4 4 0 6-4 16-4 2-2 88 1 3 2-4 16-15 12-8 16-13 76-6 12-7 5-10 4-46 3-14 5-13 9-19 17-6 9-5 10-1 8 1 8 9 16 30 31 22 19 15 16 7 5 14 5 20 1 26-1 26-4 19-6 16-8 13-10 7-10 4-10 1-10-6-48 5-92-11-58 10-14 4 2 18 18 0 2 8 8 0 2 12 16 11 20 0 4 4 6 0 4 4 8 0 6 2 2 0 84-2 2 0 6-4 8-3 10-4 6 0 4-6 12-4 4-2 6-10 12 0 2-14 14-2 4-2 0-12 12-2 0-12 10-6 2-4 4-12 6-4 0-6 4-10 2-2 2-6 0-2 2z"/>
<path fill="#40ffbf" fill-rule="evenodd" d="M1621 1350l-80 0-2-2-6 0-8-4-4 0-6-4-4 0-16-8-4-4-14-8-10-10-2 0-22-24 0-2-12-16-10-20 0-4-4-6 0-4-4-8 0-6-2-2 0-86 2-2 0-6 2-2 4-16 14-28 8-10 0-2 8-8 0-2 22-23 2 0 6-6 8-4 4-4 6-2 4-4 8-4 4 0 6-4 16-4 2-2 83 1-4 16-11 12-8 16-14 81-6 8-10 5-20 4-30 1-18 8-13 11-20 20-5 10-2 12 3 14 10 14 29 30 42 39 13 5 19 1 30-1 26-5 20-5 17-8 13-10 9-10 5-12 2-14-7-48 4-86-2-14-6-22-2-20 11-14 16 16 0 2 8 8 0 2 12 16 10 20 0 4 5 6 0 4 4 8 0 6 2 2 0 84-2 2 0 6-5 8-2 10-4 6 0 4-6 12-4 4-2 6-10 12 0 2-14 14-2 4-2 0-12 12-2 0-12 10-6 2-4 4-12 6-4 0-6 4-10 2-2 2-6 0-2 2z"/>
<path fill="#50ffaf" fill-rule="evenodd" d="M1621 1350l-80 0-2-2-6 0-8-4-4 0-6-4-4 0-16-8-4-4-14-8-10-10-2 0-22-24 0-2-12-16-10-20 0-4-4-6 0-4-4-8 0-6-2-2 0-86 2-2 0-6 2-2 4-16 14-28 8-10 0-2 8-8 0-2 22-23 2 0 6-6 8-4 4-4 6-2 4-4 8-4 4 0 6-4 16-4 2-2 74 1-2 14-10 13-5 15-4 36-11 46-5 6-9 4-24 5-24 1-18 8-14 12-20 18-6 12-3 12 3 14 10 14 32 35 40 38 12 4 18 1 34-1 30-5 20-6 18-8 12-8 10-12 6-14 2-16-9-46 4-84-9-52 10-13 12 11 0 2 8 8 0 2 12 16 10 20 0 4 4 6 0 4 5 8 0 6 2 2 0 84-3 2 0 6-4 8-2 10-4 6 0 4-6 12-4 4-2 6-10 12 0 2-14 14-2 4-2 0-12 12-2 0-12 10-6 2-4 4-12 6-4 0-6 4-10 2-2 2-6 0-2 2z"/>
<path fill="#60ff9f" fill-rule="evenodd" d="M1621 1350l-80 0-2-2-6 0-8-4-4 0-6-4-4 0-16-8-4-4-14-8-10-10-2 0-22-24 0-2-12-16-10-20 0-4-4-6 0-4-4-8 0-6-2-2 0-86 2-2 0-6 2-2 4-16 14-28 8-10 0-2 8-8 0-2 22-23 2 0 6-6 8-4 4-4 6-2 4-4 8-4 4 0 6-4 16-4 2-2 65 1-2 14-6 12-4 12-3 38-12 42-4 6-7 4-25 7-24 2-18 9-16 14-18 18-7 12-2 12 2 12 9 14 34 38 40 38 12 5 18 1 38-2 32-5 20-6 18-8 13-9 10-12 7-16 2-16-11-48 0-22 4-56-9-50 12-12 14 16 0 2 12 16 10 20 0 4 4 6 0 4 4 8 0 6 2 2 0 84-2 2 0 6-4 8-2 10-4 6 0 4-6 12-4 4-2 6-10 12 0 2-14 14-2 4-2 0-12 12-2 0-12 10-6 2-4 4-12 6-4 0-6 4-10 2-2 2-6 0-2 2zM1539 1114l2-2 1-4-4-4-7-1-4 5 0 4 2 2 10 0z"/>
<path fill="#70ff8f" fill-rule="evenodd" d="M1621 1350l-80 0-2-2-6 0-8-4-4 0-6-4-4 0-16-8-4-4-14-8-10-10-2 0-22-24 0-2-12-16-10-20 0-4-4-6 0-4-4-8 0-6-2-2 0-86 2-2 0-6 2-2 4-16 14-28 8-10 0-2 8-8 0-2 22-23 2 0 6-6 8-4 4-4 6-2 4-4 8-4 4 0 6-4 16-3 2-2 56 0-1 12-8 26 0 36-5 14-10 22-4 5-4 1-5 0-5-12-6-5-8-1-11 6-4 6 1 6 4 3 16 3 2 2-2 4-8 3-14 0-6 2-12 6-14 10-30 29-6 12-2 12 3 12 9 14 36 41 38 37 12 5 16 1 42-2 36-6 22-6 16-8 13-8 10-12 8-16 4-18-2-10-10-26-3-16 0-22 6-48-2-16-6-30 0-3 12-11 20 28 10 20 0 4 4 6 0 4 4 8 0 6 2 2 0 84-2 2 0 6-4 8-2 10-4 6 0 4-6 12-4 4-2 6-10 12 0 2-14 14-2 4-2 0-12 12-2 0-12 10-6 2-4 4-12 6-4 0-6 4-10 2-2 2-6 0-2 2z"/>
<path fill="#80ff80" fill-rule="evenodd" d="M1621 1350l-80 0-2-2-6 0-8-4-4 0-6-4-4 0-16-8-4-4-14-8-10-10-2 0-22-24 0-2-12-16-10-20 0-4-4-6 0-4-4-8 0-6-2-2 0-86 2-2 0-6 2-2 4-16 14-28 8-10 0-2 8-8 0-2 22-23 2 0 6-6 8-4 4-4 6-2 4-4 8-4 4 0 6-3 16-4 2-2 46 0-1 12-4 16-2 12 4 30-1 8-8 11-6 5-4 0-12-4-6 0-21 14-3 6-2 12-2 4-39 32-20 20-6 14 0 16 7 16 25 26 15 20 33 34 13 8 16 1 42-1 45-6 17-5 16-6 13-7 11-10 12 10-14 18-2 0-12 12-2 0-12 10-6 2-4 4-12 6-4 0-6 4-10 2-2 2-6 0-2 2zM1729 1269l-13-9 5-16 0-14-2-8-11-26-3-18 1-20 7-40-2-16-5-26 1-2 12-10 8 12 0 2 4 4 10 20 0 4 4 6 0 4 4 8 0 6 2 2 0 84-2 2 0 6-4 8-2 10-4 6 0 4-10 17z"/>
<path fill="#8fff70" fill-rule="evenodd" d="M1621 1350l-80 0-2-2-6 0-8-4-4 0-6-4-4 0-16-8-4-4-14-8-10-10-2 0-22-24 0-2-12-16-10-20 0-4-4-6 0-4-4-8 0-6-2-2 0-86 2-2 0-6 2-2 4-16 14-28 8-10 0-2 8-8 0-2 22-23 2 0 6-6 8-4 4-4 6-2 4-4 8-3 4 0 6-4 16-4 2-2 30 0 1 12-6 16-2 12 1 8 8 18 0 7-4 3-4-1-14-14-4 0-6 4-4 9 2 10-2 6-4 6-11 8-9 22-44 38-12 14-6 14 0 16 3 8 5 8 25 26 15 20 32 34 12 9 18 2 60-3 40-7 32-11 11 12-13 12-2 0-12 10-6 2-4 4-12 6-4 0-6 4-10 2-2 2-6 0-2 2zM1743 1242l-16-6-1-12-14-28-4-16 1-22 10-38-4-32 12-10 4 4 10 20 0 4 4 6 0 4 4 8 0 6 2 2 0 84-2 2 0 6-4 8-2 10z"/>
<path fill="#9fff60" fill-rule="evenodd" d="M1621 1350l-80 0-2-2-6 0-8-4-4 0-6-4-4 0-16-8-4-4-14-8-10-10-2 0-22-24 0-2-12-16-10-20 0-4-4-6 0-4-4-8 0-6-2-2 0-86 2-2 0-6 2-2 4-16 14-28 8-10 0-2 8-8 0-2 22-23 2 0 6-6 8-4 4-4 6-2 4-3 8-4 4 0 6-4 16-4 2-2 3 0 4 16-9 13-8 27-2 12 2 18-1 6-11 10-8 18-5 8-40 36-10 12-7 16 0 16 3 8 5 8 27 28 15 21 32 35 10 7 16 2 58-3 42-6 26-7 3 1 9 12-12 10-12 6-4 4-12 6-4 0-6 4-10 2-2 2-6 0-2 2zM1747 1229l-16-6-16-31-3-16 2-20 11-32 0-18 14-8 2 8 4 6 2 10 2 2 0 6 2 2 0 84-2 2 0 6-2 2 0 3z"/>
<path fill="#afff50" fill-rule="evenodd" d="M1621 1350l-80 0-2-2-6 0-8-4-4 0-6-4-4 0-16-8-4-4-14-8-10-10-2 0-22-24 0-2-12-16-10-20 0-4-4-6 0-4-4-8 0-6-2-2 0-86 2-2 0-6 2-2 4-16 14-28 8-10 0-2 8-8 0-3 22-22 2 0 6-6 8-4 4-4 6-1 4-4 8-4 4 0 6-4 4 0 5 16-9 34 0 34-21 38-39 36-11 12-6 16 0 10 1 8 8 14 27 28 17 23 30 34 10 7 16 3 58-3 40-5 24-5 2 1 8 11-4 6-12 6-4 4-12 6-4 0-6 4-10 2-2 2-6 0-2 2zM1749 1220l-16-5-14-25-4-16 3-18 13-34 14-5 2 1 2 12 2 2 0 84-2 4z"/>
<path fill="#bfff40" fill-rule="evenodd" d="M1621 1350l-80 0-2-2-6 0-8-4-4 0-6-4-4 0-16-8-4-4-14-8-10-10-2 0-22-24 0-2-12-16-10-20 0-4-4-6 0-4-4-8 0-6-2-2 0-86 2-2 0-6 2-2 4-16 14-28 8-10 0-2 8-8 0-2 22-23 2 0 6-6 8-4 4-3 6-2 4-4 8-4 4 0 6 16-6 28-1 36-12 28-6 10-39 35-10 13-3 8-3 10 3 18 7 12 27 28 15 21 28 32 8 9 8 5 8 2 12 0 26-3 34-1 52-7 2 1 9 13-5 4-6 2-4 4-12 6-4 0-6 4-10 2-2 2-6 0-2 2zM1751 1212l-16-4-12-20-4-14 3-16 11-25 16-5 2 4 0 80z"/>
<path fill="#cfff30" fill-rule="evenodd" d="M1621 1350l-80 0-2-2-6 0-8-4-4 0-6-4-4 0-16-8-4-4-14-8-10-10-2 0-22-24 0-2-12-16-10-20 0-4-4-6 0-4-4-8 0-6-2-2 0-86 2-2 0-6 2-2 4-16 14-28 8-10 0-2 8-8 0-2 22-23 2 0 6-6 8-3 4-4 6-2 4-4 4 0 7 14-5 30 0 28-3 12-6 18-8 12-37 34-10 14-6 18 2 18 7 12 29 28 16 24 27 32 15 13 8 2 12 0 26-3 30-1 55-5 8 14-21 12-4 0-6 4-10 2-2 2-6 0-2 2zM1751 1203l-14-2-10-15-3-12 3-14 8-19 16-4 0 66z"/>
<path fill="#dfff20" fill-rule="evenodd" d="M1621 1350l-80 0-2-2-6 0-8-4-4 0-6-4-4 0-16-8-4-4-14-8-10-10-2 0-22-24 0-2-12-16-10-20 0-4-4-6 0-4-4-8 0-6-2-2 0-86 2-2 0-6 2-2 4-16 14-28 8-10 0-2 8-8 0-2 22-23 2 0 6-5 2 0 14-10 4 0 7 14-4 26 0 30-3 16-6 14-6 10-36 32-10 14-6 18 0 10 2 10 9 14 29 28 14 21 28 34 8 9 8 5 8 2 10 0 30-4 28 0 46-4 4 1 7 12-3 4-12 6-4 0-6 4-10 2-2 2-6 0-2 2zM1751 1194l-14-2-6-10-2-8 2-10 6-14 14-2 0 46z"/>
<path fill="#efff10" fill-rule="evenodd" d="M1621 1350l-80 0-2-2-6 0-8-4-4 0-6-4-4 0-16-8-4-4-14-8-10-10-2 0-22-24 0-2-12-16-10-20 0-4-4-6 0-4-4-8 0-6-2-2 0-86 2-2 0-6 2-2 4-16 14-28 8-10 0-2 8-8 0-2 22-23 2 0 6-5 8-4 4-4 9 16-2 26 0 28-3 16-5 12-7 10-35 32-10 14-4 10-2 10 1 10 3 10 7 12 32 30 13 20 29 36 14 12 8 3 10 0 32-4 73-3 7 14-2 2-8 4-4 0-6 4-10 2-2 2-6 0-2 2zM1751 1182l-12 0-3-10 3-10 12-1 0 21z"/>
<path fill="#ffff00" fill-rule="evenodd" d="M1621 1350l-80 0-2-2-6 0-8-4-4 0-6-4-4 0-16-8-4-4-14-8-24-22 0-2-10-10 0-2-12-16-10-20 0-4-4-6 0-4-4-8 0-6-2-2 0-86 2-2 0-6 2-2 4-16 14-28 8-10 0-2 8-8 0-2 22-22 2 0 12-10 2 0 9 14-3 28 1 26-2 14-5 12-7 10-33 29-11 15-4 10-2 10 1 12 3 10 7 12 33 30 13 21 29 37 8 8 7 5 8 2 10 0 32-5 67-2 7 16-8 2-6 4-10 2-2 2-6 0-2 2z"/>
<path fill="#ffef00" fill-rule="evenodd" d="M1525 1344l-4 0-6-4-4 0-16-8-4-4-14-8-24-22 0-2-10-10 0-2-12-16-10-20 0-4-4-6 0-4-4-8 0-6-2-2 0-86 2-2 0-6 2-2 4-16 14-28 8-10 0-2 8-8 0-3 22-21 2 0 6-6 4 0 8 14-2 28 1 24-2 14-4 10-7 10-32 28-9 12-7 16-1 18 4 12 5 10 34 31 14 22 26 34 10 11 8 6 1 2-5 14zM1621 1350l-80 0-2-2-6-1 5-15 17-1 26-5 62-2 7 16-3 0-12 6-4 0-2 2-6 0-2 2z"/>
<path fill="#ffdf00" fill-rule="evenodd" d="M1515 1340l-4 0-16-8-4-4-14-8-24-22 0-2-10-10 0-2-12-16-10-20 0-4-4-6 0-4-4-8 0-6-2-2 0-86 2-2 0-6 2-2 4-16 14-28 8-10 0-2 8-8 0-2 22-22 2 0 4-4 10 14-1 28 1 22-2 14-4 10-6 8-31 28-11 13-6 17-1 20 4 12 5 8 36 32 18 28 21 28 12 14-5 14-2 0zM1621 1350l-76 0 3-16 35-6 54-2 2 1 6 15-4 2-4 0-2 2-4 0-2 2-6 0-2 2z"/>
<path fill="#ffcf00" fill-rule="evenodd" d="M1413 1188l-2 0 0-56 2-2 0-6 2-2 4-16 14-28 8-10 0-2 8-8 0-2 22-22 3 0 9 14 0 24 1 22-3 18-11 16-26 22-9 10-7 12-5 15-10 1zM1509 1338l-14-6-4-4-14-8-24-22 0-2-10-10 0-2-12-16-10-20 0-4-4-6 0-4-4-8 0-5 14-4 2 1 9 12 33 28 16 26 29 38 1 2-6 14-2 0zM1621 1350l-68 0 2-14 4-2 24-4 50-2 6 16-4 2-4 0-2 2-6 0-2 2z"/>
<path fill="#ffbf00" fill-rule="evenodd" d="M1423 1177l-12 1 0-46 2-2 0-6 2-2 4-16 14-28 8-10 0-2 8-8 0-2 20-20 11 14 2 42-3 16-4 10-6 8-26 22-9 10-7 9-4 10zM1505 1336l-10-4-4-4-14-8-24-22 0-2-10-10 0-2-12-16-10-20 0-4-4-6-2-10 14-4 2 0 40 36 14 23 27 37 0 2-7 14zM1621 1350l-61 0 2-14 21-4 42-1 2 1 4 14-2 2-6 0-2 2z"/>
<path fill="#ffaf00" fill-rule="evenodd" d="M1423 1170l-12 0 0-38 2-2 0-6 2-2 4-16 14-28 8-10 0-2 8-8 0-2 17-16 11 14 2 38-2 16-8 14-32 28-8 10-6 10zM1499 1334l-20-14-2 0-10-10-2 0-22-24 0-2-12-16-10-20 0-4-4-6 0-5 14-5 39 32 15 25 23 33 0 2-7 14-2 0zM1621 1350l-54 0 1-12 4-2 12-2 33-1 4 17z"/>
<path fill="#ff9f00" fill-rule="evenodd" d="M1423 1164l-12-1 0-31 2-2 0-6 2-2 4-16 14-28 8-10 0-2 8-8 0-2 12-12 2-1 11 13 3 36-3 16-9 14-28 24-14 18zM1495 1332l-4-4-14-8-10-10-2 0-22-24 0-2-12-16-14-31 16-6 26 20 10 10 35 55 0 2-7 14-2 0zM1607 1350l-31 0 0-12 11-3 19 1 3 14-2 0z"/>
<path fill="#ff8f00" fill-rule="evenodd" d="M1423 1158l-12-1 0-25 2-2 0-6 2-2 4-16 14-28 8-10 0-2 8-8 0-2 11-10 11 12 3 32-2 16-4 8-6 8-25 20-14 16zM1493 1329l-16-9-10-10-2 0-22-24 0-2-12-16-10-20 0-4-2-4 16-5 24 18 10 9 32 52 0 2-8 13z"/>
<path fill="#ff8000" fill-rule="evenodd" d="M1425 1152l-14-1 0-19 2-2 0-6 2-2 4-16 14-28 8-10 0-2 8-8 0-2 8-7 12 13 3 30-3 14-8 14-25 20-11 12zM1489 1327l-10-7-2 0-10-10-2 0-22-24 0-2-12-16-10-20 0-5 14-6 24 17 10 10 29 48-9 15z"/>
<path fill="#ff7000" fill-rule="evenodd" d="M1425 1147l-14-2 0-13 2-2 0-6 2-2 4-16 14-28 8-10 0-2 13-14 12 12 3 26-2 14-8 14-22 18-12 11zM1485 1324l-8-4-10-10-2 0-22-24 0-2-12-16-10-22 16-6 20 14 10 9 27 47-9 14z"/>
<path fill="#ff6000" fill-rule="evenodd" d="M1425 1142l-14-3 2-15 2-2 4-16 14-28 8-10 0-2 10-12 12 12 4 24-2 14-4 7-5 7-31 24zM1481 1322l-4-2-10-10-2 0-22-24 0-2-12-16-8-16 0-3 14-7 20 13 10 10 24 43-8 14-2 0z"/>
<path fill="#ff5000" fill-rule="evenodd" d="M1427 1137l-16-4 2-3 0-6 2-2 4-16 14-28 8-10 0-2 8-8 13 12 2 20-1 12-4 8-5 6-27 21zM1477 1320l-24-22 0-2-10-10 0-2-12-16-6-16 14-7 18 12 10 9 21 40-9 14-2 0z"/>
<path fill="#ff4000" fill-rule="evenodd" d="M1427 1132l-14-4 0-4 2-2 4-16 14-28 8-10 0-2 6-5 12 11 3 18-2 12-3 6-6 7-24 17zM1475 1318l-22-20 0-2-10-10 0-2-12-16-6-14 14-7 2 1 16 10 10 10 19 36-11 14z"/>
<path fill="#ff3000" fill-rule="evenodd" d="M1431 1126l-2 1-14-4 0-5 2-2 2-10 14-28 11-14 13 12 2 14-1 10-2 6-5 5-20 15zM1473 1314l-6-4-2 0-22-24 0-2-12-16-4-8 0-3 14-8 16 11 9 8 17 34-10 12z"/>
<path fill="#ff2000" fill-rule="evenodd" d="M1431 1122l-14-4 0-6 16-34 8-11 13 11 2 20-2 6-5 6-18 12zM1469 1312l-4-2-12-12 0-2-10-10 0-2-12-16-3-8 15-8 14 9 8 8 15 31-9 12-2 0z"/>
<path fill="#ff1000" fill-rule="evenodd" d="M1433 1118l-16-6 16-34 4-4 0-2 2-1 13 11 1 14-4 10-16 12zM1467 1310l-2 0-12-12 0-2-10-10 0-2-12-16-2-6 14-8 14 9 7 7 14 28-11 12z"/>
<path fill="#ff0000" fill-rule="evenodd" d="M1435 1112l-16-6 14-28 4-2 12 8 1 10-3 9-12 9zM1463 1308l-20-22 0-2-12-16 0-4 12-7 2 0 6 3 12 10 11 22 1 4-10 12-2 0z"/>
<path fill="#ef0000" fill-rule="evenodd" d="M1437 1107l-14-7 0-2 8-16 2-1 12 7 2 4-2 8-8 7zM1461 1306l-18-20 0-2-11-16 13-9 6 3 11 8 10 20 1 4-12 12z"/>
<path fill="#df0000" fill-rule="evenodd" d="M1459 1303l-16-17 0-2-8-10-1-4 13-9 15 11 8 18 0 2-11 11z"/>
<path fill="#cf0000" fill-rule="evenodd" d="M1457 1300l-4-2 0-2-10-10 0-2-8-10 14-10 12 9 7 15-11 12z"/>
<path fill="#bf0000" fill-rule="evenodd" d="M1453 1298l0-2-10-10-5-10 13-9 9 7 6 12-13 12z"/>
<path fill="#af0000" fill-rule="evenodd" d="M1451 1294l-8-8-3-6 13-10 8 8 2 6-12 10z"/>
</g><g transform="scale(.5)" fill="none" stroke-width="1.9">
<path stroke="#4a4a10" d="M1592 1272l8-4 6-6 2-8-2-8-6-8-7-5-8-2-10 2-6 4-4 7-1 8 2 8 5 7 6 4 6 2z"/>
<path stroke="#4a3e08" d="M1642 1128l5-8 2-10-4-17-2-3-4-1-3 3-2 6-2 16 3 11 4 3zM1586 1282l13-3 14-7 7-6 3-10-4-14-11-14-11-8-12-3-12 2-10 7-8 10-2 12 3 12 7 12 10 7z"/>
<path stroke="#4a2d08" d="M1645 1150l7-6 5-11 4-15 0-16-4-18-6-14-6-7-8-1-5 2-4 4-6 12-4 22 0 22 3 15 6 9 8 3zM1509 1210l6-5 8-13 0-6-4-4-6 0-6 2-7 10-1 6 1 6 3 3zM1597 1288l20-6 13-8 7-12 0-12-7-14-15-22-8-9-14-7-8-1-10 1-14 7-14 17-7 12 1 14 9 20 12 14 15 6z"/>
<path stroke="#4a1c08" d="M1601 1294l20-5 16-8 12-11 5-12-2-16-14-32-2-16 3-9 16-18 8-14 5-17 3-32-3-18-8-24-7-9-10-6-8 0-8 4-7 7-5 9-6 29-4 52-3 10-4 6-11 5-20 4-10-1-24-7-10 0-10 2-10 5-10 10-8 12-4 10 1 10 5 10 34 22 27 34 7 7 9 5 11 2z"/>
<path stroke="#4a0c08" d="M1604 1300l27-6 22-10 15-14 5-14 1-12-6-26-1-12 10-50 3-56-9-40-4-12-10-12-12-6-10 1-10 3-9 8-6 10-8 26-7 52-4 10-4 6-8 6-12 3-42-1-18 4-12 8-16 16-6 10-3 10 1 14 8 13 50 42 18 21 10 5 12 3 16 1z"/>
<path stroke="#3e0814" d="M1620 1000l-4 16-11 12-7 16-13 76-4 10-8 5-10 4-18 3-26 1-16 6-14 10-18 17-7 10-5 10 0 10 2 8 11 18 65 65 8 5 10 3 16 2 30-1 40-7 18-7 14-8 11-8 7-10 5-12 1-12-7-48 4-86-2-14-6-22-2-20 42-52"/>
<path stroke="#290829" d="M1580 1000l0 12-6 26 5 34-4 9-6 7-6 3-14-4-6 0-22 17-3 6-2 12-2 4-45 38-15 16-4 8-2 10 1 10 3 8 7 10 22 24 18 22 30 32 12 8 10 2 12 0 44-2 31-4 33-9 28-15 52 49M1751 1270l-30-17 1-25-14-34-3-22 2-16 7-38-1-16-5-24 1-2 42-34"/>
<path stroke="#180839" d="M1504 1000l11 26-4 28-1 30-1 8-8 22-7 12-11 12-30 26-10 13-3 9-2 10 1 10 3 10 9 12 26 26 14 20 28 33 14 12 8 3 12 0 28-3 32-1 52-7 25 39M1751 1208l-16-4-11-18-3-12 3-14 10-22 1-2 16-4"/>
<path stroke="#08084a" d="M1466 1000l26 40-1 28 0 30-3 14-7 12-10 10-26 24-12 16-3 10-1 12 1 12 4 10 8 10 31 28 12 20 26 34 10 11 10 7 6 2 12 1 32-5 62-3 3 1 11 26"/>
<path stroke="#08184a" d="M1432 1000l45 52 2 48-4 12-6 9-33 31-13 18-12 0M1411 1235l20-8 32 26 10 11 10 18 26 38-15 30M1567 1350l1-12 3-2 14-3 28 0 6 1 4 16"/>
<path stroke="#082d4a" d="M1411 1011l54 52 4 29-3 16-11 13-18 14-12 11-14-2M1411 1252l26-12 24 17 11 13 22 40-25 40"/>
<path stroke="#083e4a" d="M1411 1040l44 35 3 17-1 8-4 8-22 17-20-6M1411 1267l30-17 2 1 14 9 8 8 16 32 0 2-37 48"/>
<path stroke="#0c4a4a" d="M1411 1076l32 20-2 3-2 1-28-14M1411 1283l36-23 15 12 10 20-54 58"/>
</g>
</g>
<ellipse cx="790.6" cy="587.1" rx="72.40" ry="74.60" fill="none" stroke="#000" stroke-width="1.05"/>
<polyline points="803.8,513.0 793.5,501.5 787.7,501.5 777.4,513.0" fill="none" stroke="#000" stroke-width="1"/>
<polyline points="861.8,572.9 864.4,569.6 865.6,569.4 867.3,570.0 869.1,572.9 868.8,587.9 869.8,601.0 867.6,606.7 864.4,607.7 860.7,605.0" fill="none" stroke="#000" stroke-width="1"/>
<polyline points="719.4,572.9 716.8,569.6 715.6,569.4 713.9,570.0 712.1,572.9 712.4,587.9 711.4,601.0 713.6,606.7 716.8,607.7 720.5,605.0" fill="none" stroke="#000" stroke-width="1"/>
<linearGradient id="cbg" x1="0" y1="0" x2="0" y2="1"><stop offset="0.0000" stop-color="#800000"/><stop offset="0.0156" stop-color="#800000"/><stop offset="0.0156" stop-color="#8f0000"/><stop offset="0.0312" stop-color="#8f0000"/><stop offset="0.0312" stop-color="#9f0000"/><stop offset="0.0469" stop-color="#9f0000"/><stop offset="0.0469" stop-color="#af0000"/><stop offset="0.0625" stop-color="#af0000"/><stop offset="0.0625" stop-color="#bf0000"/><stop offset="0.0781" stop-color="#bf0000"/><stop offset="0.0781" stop-color="#cf0000"/><stop offset="0.0938" stop-color="#cf0000"/><stop offset="0.0938" stop-color="#df0000"/><stop offset="0.1094" stop-color="#df0000"/><stop offset="0.1094" stop-color="#ef0000"/><stop offset="0.1250" stop-color="#ef0000"/><stop offset="0.1250" stop-color="#ff0000"/><stop offset="0.1406" stop-color="#ff0000"/><stop offset="0.1406" stop-color="#ff1000"/><stop offset="0.1562" stop-color="#ff1000"/><stop offset="0.1562" stop-color="#ff2000"/><stop offset="0.1719" stop-color="#ff2000"/><stop offset="0.1719" stop-color="#ff3000"/><stop offset="0.1875" stop-color="#ff3000"/><stop offset="0.1875" stop-color="#ff4000"/><stop offset="0.2031" stop-color="#ff4000"/><stop offset="0.2031" stop-color="#ff5000"/><stop offset="0.2188" stop-color="#ff5000"/><stop offset="0.2188" stop-color="#ff6000"/><stop offset="0.2344" stop-color="#ff6000"/><stop offset="0.2344" stop-color="#ff7000"/><stop offset="0.2500" stop-color="#ff7000"/><stop offset="0.2500" stop-color="#ff8000"/><stop offset="0.2656" stop-color="#ff8000"/><stop offset="0.2656" stop-color="#ff8f00"/><stop offset="0.2812" stop-color="#ff8f00"/><stop offset="0.2812" stop-color="#ff9f00"/><stop offset="0.2969" stop-color="#ff9f00"/><stop offset="0.2969" stop-color="#ffaf00"/><stop offset="0.3125" stop-color="#ffaf00"/><stop offset="0.3125" stop-color="#ffbf00"/><stop offset="0.3281" stop-color="#ffbf00"/><stop offset="0.3281" stop-color="#ffcf00"/><stop offset="0.3438" stop-color="#ffcf00"/><stop offset="0.3438" stop-color="#ffdf00"/><stop offset="0.3594" stop-color="#ffdf00"/><stop offset="0.3594" stop-color="#ffef00"/><stop offset="0.3750" stop-color="#ffef00"/><stop offset="0.3750" stop-color="#ffff00"/><stop offset="0.3906" stop-color="#ffff00"/><stop offset="0.3906" stop-color="#efff10"/><stop offset="0.4062" stop-color="#efff10"/><stop offset="0.4062" stop-color="#dfff20"/><stop offset="0.4219" stop-color="#dfff20"/><stop offset="0.4219" stop-color="#cfff30"/><stop offset="0.4375" stop-color="#cfff30"/><stop offset="0.4375" stop-color="#bfff40"/><stop offset="0.4531" stop-color="#bfff40"/><stop offset="0.4531" stop-color="#afff50"/><stop offset="0.4688" stop-color="#afff50"/><stop offset="0.4688" stop-color="#9fff60"/><stop offset="0.4844" stop-color="#9fff60"/><stop offset="0.4844" stop-color="#8fff70"/><stop offset="0.5000" stop-color="#8fff70"/><stop offset="0.5000" stop-color="#80ff80"/><stop offset="0.5156" stop-color="#80ff80"/><stop offset="0.5156" stop-color="#70ff8f"/><stop offset="0.5312" stop-color="#70ff8f"/><stop offset="0.5312" stop-color="#60ff9f"/><stop offset="0.5469" stop-color="#60ff9f"/><stop offset="0.5469" stop-color="#50ffaf"/><stop offset="0.5625" stop-color="#50ffaf"/><stop offset="0.5625" stop-color="#40ffbf"/><stop offset="0.5781" stop-color="#40ffbf"/><stop offset="0.5781" stop-color="#30ffcf"/><stop offset="0.5938" stop-color="#30ffcf"/><stop offset="0.5938" stop-color="#20ffdf"/><stop offset="0.6094" stop-color="#20ffdf"/><stop offset="0.6094" stop-color="#10ffef"/><stop offset="0.6250" stop-color="#10ffef"/><stop offset="0.6250" stop-color="#00ffff"/><stop offset="0.6406" stop-color="#00ffff"/><stop offset="0.6406" stop-color="#00efff"/><stop offset="0.6562" stop-color="#00efff"/><stop offset="0.6562" stop-color="#00dfff"/><stop offset="0.6719" stop-color="#00dfff"/><stop offset="0.6719" stop-color="#00cfff"/><stop offset="0.6875" stop-color="#00cfff"/><stop offset="0.6875" stop-color="#00bfff"/><stop offset="0.7031" stop-color="#00bfff"/><stop offset="0.7031" stop-color="#00afff"/><stop offset="0.7188" stop-color="#00afff"/><stop offset="0.7188" stop-color="#009fff"/><stop offset="0.7344" stop-color="#009fff"/><stop offset="0.7344" stop-color="#008fff"/><stop offset="0.7500" stop-color="#008fff"/><stop offset="0.7500" stop-color="#0080ff"/><stop offset="0.7656" stop-color="#0080ff"/><stop offset="0.7656" stop-color="#0070ff"/><stop offset="0.7812" stop-color="#0070ff"/><stop offset="0.7812" stop-color="#0060ff"/><stop offset="0.7969" stop-color="#0060ff"/><stop offset="0.7969" stop-color="#0050ff"/><stop offset="0.8125" stop-color="#0050ff"/><stop offset="0.8125" stop-color="#0040ff"/><stop offset="0.8281" stop-color="#0040ff"/><stop offset="0.8281" stop-color="#0030ff"/><stop offset="0.8438" stop-color="#0030ff"/><stop offset="0.8438" stop-color="#0020ff"/><stop offset="0.8594" stop-color="#0020ff"/><stop offset="0.8594" stop-color="#0010ff"/><stop offset="0.8750" stop-color="#0010ff"/><stop offset="0.8750" stop-color="#0000ff"/><stop offset="0.8906" stop-color="#0000ff"/><stop offset="0.8906" stop-color="#0000ef"/><stop offset="0.9062" stop-color="#0000ef"/><stop offset="0.9062" stop-color="#0000df"/><stop offset="0.9219" stop-color="#0000df"/><stop offset="0.9219" stop-color="#0000cf"/><stop offset="0.9375" stop-color="#0000cf"/><stop offset="0.9375" stop-color="#0000bf"/><stop offset="0.9531" stop-color="#0000bf"/><stop offset="0.9531" stop-color="#0000af"/><stop offset="0.9688" stop-color="#0000af"/><stop offset="0.9688" stop-color="#00009f"/><stop offset="0.9844" stop-color="#00009f"/><stop offset="0.9844" stop-color="#00008f"/><stop offset="1.0000" stop-color="#00008f"/></linearGradient><rect x="899.0" y="20.00" width="17.0" height="716.40" fill="url(#cbg)"/><rect x="899.5" y="20.5" width="16.0" height="715.4" fill="none" stroke="#000" stroke-width="1"/><path d="M899.5 100.3h4M915.5 100.3h-4" stroke="#000" stroke-width="1"/><path d="M899.5 209.5h4M915.5 209.5h-4" stroke="#000" stroke-width="1"/><path d="M899.5 320.8h4M915.5 320.8h-4" stroke="#000" stroke-width="1"/><path d="M899.5 431.2h4M915.5 431.2h-4" stroke="#000" stroke-width="1"/><path d="M899.5 539.8h4M915.5 539.8h-4" stroke="#000" stroke-width="1"/><path d="M899.5 651.3h4M915.5 651.3h-4" stroke="#000" stroke-width="1"/>
</svg>
<div class="t" style="left:6.5px;top:-1.1px;font-size:28.8px;transform:scale(1.027,1.000);">300-500ms</div>
<div class="t" style="left:2.1px;top:91.5px;font-size:32.6px;transform:scale(1.001,1.000);">target: angry speech</div>
<div class="t" style="left:2.2px;top:321.1px;font-size:32.8px;transform:scale(0.987,1.000);">target: happy speech</div>
<div class="t" style="left:6.2px;top:563.8px;font-size:32.1px;transform:scale(0.996,1.000);">target: sad speech</div>
<div class="t" style="left:407.6px;top:219.6px;font-size:18.4px;transform:scale(1.209,1.000);">AA</div>
<div class="t" style="left:595.8px;top:221.7px;font-size:18.0px;transform:scale(1.253,1.000);">HA</div>
<div class="t" style="left:788.0px;top:219.7px;font-size:18.9px;transform:scale(1.076,1.000);">SA</div>
<div class="t" style="left:410.7px;top:454.6px;font-size:17.6px;transform:scale(1.265,1.000);">AH</div>
<div class="t" style="left:598.1px;top:451.6px;font-size:17.6px;transform:scale(1.225,1.000);">HH</div>
<div class="t" style="left:791.5px;top:450.1px;font-size:19.3px;transform:scale(1.024,1.000);">SH</div>
<div class="t" style="left:413.4px;top:698.5px;font-size:20.9px;transform:scale(0.970,1.000);">AS</div>
<div class="t" style="left:599.8px;top:698.5px;font-size:20.9px;transform:scale(1.016,1.000);">HS</div>
<div class="t" style="left:798.1px;top:698.5px;font-size:20.9px;transform:scale(0.890,1.000);">SS</div>
<div class="t" style="left:931.0px;top:89.8px;font-size:35.8px;transform:scale(0.612,1.000);">3</div>
<div class="t" style="left:944.9px;top:95.9px;font-size:23.9px;transform:scale(0.941,1.000);font-weight:normal;font-family:'Liberation Serif',serif">&#956;</div>
<div class="t" style="left:958.0px;top:90.2px;font-size:34.4px;transform:scale(0.611,1.000);">V</div>
<div class="t" style="left:931.0px;top:199.2px;font-size:35.8px;transform:scale(0.612,1.000);">2</div>
<div class="t" style="left:932.0px;top:310.4px;font-size:37.9px;transform:scale(0.544,1.000);">1</div>
<div class="t" style="left:933.1px;top:420.8px;font-size:36.6px;transform:scale(0.569,1.000);">0</div>
<div class="t" style="left:927.9px;top:524.5px;font-size:36.6px;transform:scale(0.522,1.000);">-1</div>
<div class="t" style="left:927.8px;top:632.5px;font-size:36.5px;transform:scale(0.526,1.000);">-2</div>
</body></html>
